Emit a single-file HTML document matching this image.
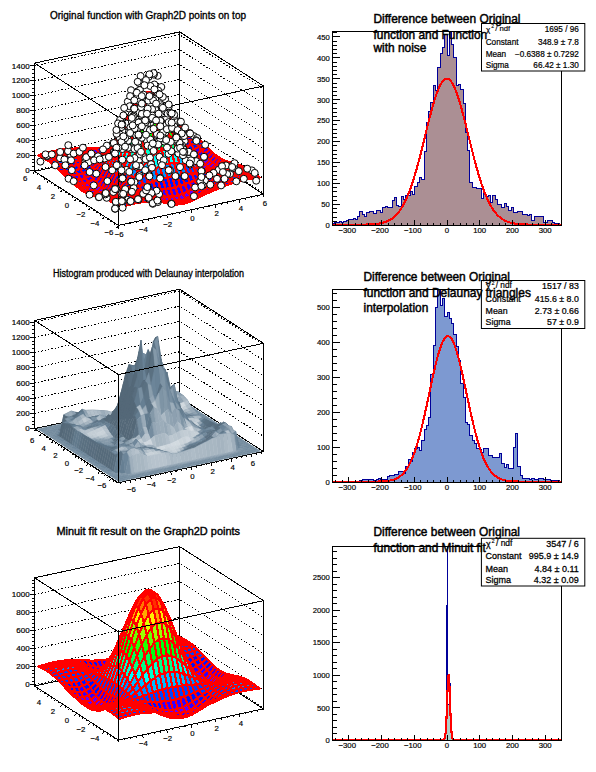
<!DOCTYPE html><html><head><meta charset="utf-8"><style>html,body{margin:0;padding:0;background:#fff;overflow:hidden}svg{display:block}.k0{fill:#0044ff}.k1{fill:#0014ff}.k2{fill:#3300ff}.k3{fill:#6300ff}.k4{fill:#008bff}.k5{fill:#00bbff}.k6{fill:#00fffc}.k7{fill:#00ffcc}.k8{fill:#00ff85}.k9{fill:#00ff55}.k10{fill:#00ff0e}.k11{fill:#22ff00}.k12{fill:#69ff00}.k13{fill:#99ff00}.k14{fill:#e0ff00}.k15{fill:#ffee00}.k16{fill:#ffa700}.k17{fill:#ff7700}.k18{fill:#ff3000}.k19{fill:#ff0000}</style></head><body><svg width="596" height="772" viewBox="0 0 596 772" font-family='"Liberation Sans", sans-serif'><rect width="596" height="772" fill="#fff"/><polyline points="34.57,170.28 179.66,139.05 263.43,193.14" fill="none" stroke="#000" stroke-width="1" stroke-dasharray="1.5 1.9" shape-rendering="crispEdges"/><polyline points="34.57,155.38 179.66,124.14 263.43,178.24" fill="none" stroke="#000" stroke-width="1" stroke-dasharray="1.5 1.9" shape-rendering="crispEdges"/><polyline points="34.57,140.47 179.66,109.24 263.43,163.34" fill="none" stroke="#000" stroke-width="1" stroke-dasharray="1.5 1.9" shape-rendering="crispEdges"/><polyline points="34.57,125.57 179.66,94.34 263.43,148.44" fill="none" stroke="#000" stroke-width="1" stroke-dasharray="1.5 1.9" shape-rendering="crispEdges"/><polyline points="34.57,110.67 179.66,79.44 263.43,133.53" fill="none" stroke="#000" stroke-width="1" stroke-dasharray="1.5 1.9" shape-rendering="crispEdges"/><polyline points="34.57,95.77 179.66,64.53 263.43,118.63" fill="none" stroke="#000" stroke-width="1" stroke-dasharray="1.5 1.9" shape-rendering="crispEdges"/><polyline points="34.57,80.86 179.66,49.63 263.43,103.73" fill="none" stroke="#000" stroke-width="1" stroke-dasharray="1.5 1.9" shape-rendering="crispEdges"/><polyline points="34.57,65.96 179.66,34.73 263.43,88.83" fill="none" stroke="#000" stroke-width="1" stroke-dasharray="1.5 1.9" shape-rendering="crispEdges"/><polyline points="34.57,171.32 34.57,63.13" fill="none" stroke="#000" stroke-width="1" shape-rendering="crispEdges"/><polyline points="179.66,140.09 179.66,31.9" fill="none" stroke="#000" stroke-width="1" shape-rendering="crispEdges"/><polyline points="263.43,194.19 263.43,85.99" fill="none" stroke="#000" stroke-width="1" shape-rendering="crispEdges"/><polyline points="34.57,63.13 179.66,31.9 263.43,85.99" fill="none" stroke="#000" stroke-width="1" shape-rendering="crispEdges"/><polyline points="34.57,171.32 179.66,140.09 263.43,194.19" fill="none" stroke="#000" stroke-width="1" shape-rendering="crispEdges"/><path d="M32.27 170.28L34.57 170.28M32.27 166.55L34.57 166.55M32.27 162.83L34.57 162.83M32.27 159.1L34.57 159.1M32.27 155.38L34.57 155.38M32.27 151.65L34.57 151.65M32.27 147.93L34.57 147.93M32.27 144.2L34.57 144.2M32.27 140.47L34.57 140.47M32.27 136.75L34.57 136.75M32.27 133.02L34.57 133.02M32.27 129.3L34.57 129.3M32.27 125.57L34.57 125.57M32.27 121.85L34.57 121.85M32.27 118.12L34.57 118.12M32.27 114.39L34.57 114.39M32.27 110.67L34.57 110.67M32.27 106.94L34.57 106.94M32.27 103.22L34.57 103.22M32.27 99.49L34.57 99.49M32.27 95.77L34.57 95.77M32.27 92.04L34.57 92.04M32.27 88.32L34.57 88.32M32.27 84.59L34.57 84.59M32.27 80.86L34.57 80.86M32.27 77.14L34.57 77.14M32.27 73.41L34.57 73.41M32.27 69.69L34.57 69.69M32.27 65.96L34.57 65.96M29.97 170.28L34.57 170.28M29.97 155.38L34.57 155.38M29.97 140.47L34.57 140.47M29.97 125.57L34.57 125.57M29.97 110.67L34.57 110.67M29.97 95.77L34.57 95.77M29.97 80.86L34.57 80.86M29.97 65.96L34.57 65.96" stroke="#000" stroke-width="1" fill="none" shape-rendering="crispEdges"/><text x="29.67" y="172.88" font-size="8" text-anchor="end" fill="#000" stroke="#000" stroke-width="0.19">0</text><text x="29.67" y="157.98" font-size="8" text-anchor="end" fill="#000" stroke="#000" stroke-width="0.19">200</text><text x="29.67" y="143.07" font-size="8" text-anchor="end" fill="#000" stroke="#000" stroke-width="0.19">400</text><text x="29.67" y="128.17" font-size="8" text-anchor="end" fill="#000" stroke="#000" stroke-width="0.19">600</text><text x="29.67" y="113.27" font-size="8" text-anchor="end" fill="#000" stroke="#000" stroke-width="0.19">800</text><text x="29.67" y="98.37" font-size="8" text-anchor="end" fill="#000" stroke="#000" stroke-width="0.19">1000</text><text x="29.67" y="83.46" font-size="8" text-anchor="end" fill="#000" stroke="#000" stroke-width="0.19">1200</text><text x="29.67" y="68.56" font-size="8" text-anchor="end" fill="#000" stroke="#000" stroke-width="0.19">1400</text><polyline points="34.57,171.32 118.34,225.42 263.43,194.19" fill="none" stroke="#000" stroke-width="1" shape-rendering="crispEdges"/><g stroke="#ff0000" stroke-width="2.4" stroke-linejoin="round" shape-rendering="crispEdges"><path class="k0" d="M176.6 126.9L181.4 126.5L178.6 125.1L173.8 125.8Z"/><path class="k0" d="M171.8 127.4L176.6 126.9L173.8 125.8L169.0 126.5Z"/><path class="k0" d="M166.9 128.2L171.8 127.4L169.0 126.5L164.1 127.4Z"/><path class="k0" d="M162.1 129.3L166.9 128.2L164.1 127.4L159.3 128.5Z"/><path class="k0" d="M157.2 130.9L162.1 129.3L159.3 128.5L154.5 129.8Z"/><path class="k0" d="M152.4 132.8L157.2 130.9L154.5 129.8L149.6 131.4Z"/><path class="k1" d="M147.6 135.2L152.4 132.8L149.6 131.4L144.8 133.1Z"/><path class="k1" d="M142.7 137.8L147.6 135.2L144.8 133.1L139.9 135.1Z"/><path class="k1" d="M137.9 140.7L142.7 137.8L139.9 135.1L135.1 137.1Z"/><path class="k1" d="M133.1 143.6L137.9 140.7L135.1 137.1L130.3 139.2Z"/><path class="k2" d="M128.2 146.3L133.1 143.6L130.3 139.2L125.4 141.2Z"/><path class="k2" d="M123.4 148.8L128.2 146.3L125.4 141.2L120.6 143.1Z"/><path class="k2" d="M118.6 150.9L123.4 148.8L120.6 143.1L115.8 144.7Z"/><path class="k2" d="M113.7 152.5L118.6 150.9L115.8 144.7L110.9 146.1Z"/><path class="k2" d="M108.9 153.6L113.7 152.5L110.9 146.1L106.1 147.1Z"/><path class="k2" d="M104.0 154.1L108.9 153.6L106.1 147.1L101.3 147.8Z"/><path class="k2" d="M99.2 154.0L104.0 154.1L101.3 147.8L96.4 148.3Z"/><path class="k2" d="M94.4 153.6L99.2 154.0L96.4 148.3L91.6 148.5Z"/><path class="k2" d="M89.5 152.9L94.4 153.6L91.6 148.5L86.7 148.6Z"/><path class="k1" d="M84.7 152.1L89.5 152.9L86.7 148.6L81.9 148.6Z"/><path class="k1" d="M79.9 151.3L84.7 152.1L81.9 148.6L77.1 148.6Z"/><path class="k1" d="M75.0 150.8L79.9 151.3L77.1 148.6L72.2 148.8Z"/><path class="k1" d="M70.2 150.5L75.0 150.8L72.2 148.8L67.4 149.1Z"/><path class="k0" d="M65.4 150.6L70.2 150.5L67.4 149.1L62.6 149.6Z"/><path class="k0" d="M60.5 151.2L65.4 150.6L62.6 149.6L57.7 150.4Z"/><path class="k0" d="M55.7 152.1L60.5 151.2L57.7 150.4L52.9 151.3Z"/><path class="k0" d="M50.8 153.4L55.7 152.1L52.9 151.3L48.1 152.5Z"/><path class="k0" d="M46.0 155.0L50.8 153.4L48.1 152.5L43.2 153.9Z"/><path class="k0" d="M41.2 156.7L46.0 155.0L43.2 153.9L38.4 155.3Z"/><path class="k0" d="M179.4 128.2L184.2 128.0L181.4 126.5L176.6 126.9Z"/><path class="k0" d="M174.6 128.5L179.4 128.2L176.6 126.9L171.8 127.4Z"/><path class="k0" d="M169.7 129.2L174.6 128.5L171.8 127.4L166.9 128.2Z"/><path class="k0" d="M164.9 130.4L169.7 129.2L166.9 128.2L162.1 129.3Z"/><path class="k0" d="M160.0 132.1L164.9 130.4L162.1 129.3L157.2 130.9Z"/><path class="k0" d="M155.2 134.3L160.0 132.1L157.2 130.9L152.4 132.8Z"/><path class="k1" d="M150.4 137.1L155.2 134.3L152.4 132.8L147.6 135.2Z"/><path class="k1" d="M145.5 140.3L150.4 137.1L147.6 135.2L142.7 137.8Z"/><path class="k1" d="M140.7 143.8L145.5 140.3L142.7 137.8L137.9 140.7Z"/><path class="k2" d="M135.9 147.3L140.7 143.8L137.9 140.7L133.1 143.6Z"/><path class="k2" d="M131.0 150.7L135.9 147.3L133.1 143.6L128.2 146.3Z"/><path class="k2" d="M126.2 153.7L131.0 150.7L128.2 146.3L123.4 148.8Z"/><path class="k3" d="M121.4 156.2L126.2 153.7L123.4 148.8L118.6 150.9Z"/><path class="k3" d="M116.5 157.9L121.4 156.2L118.6 150.9L113.7 152.5Z"/><path class="k3" d="M111.7 159.0L116.5 157.9L113.7 152.5L108.9 153.6Z"/><path class="k3" d="M106.8 159.3L111.7 159.0L108.9 153.6L104.0 154.1Z"/><path class="k3" d="M102.0 158.9L106.8 159.3L104.0 154.1L99.2 154.0Z"/><path class="k2" d="M97.2 158.0L102.0 158.9L99.2 154.0L94.4 153.6Z"/><path class="k2" d="M92.3 156.7L97.2 158.0L94.4 153.6L89.5 152.9Z"/><path class="k2" d="M87.5 155.2L92.3 156.7L89.5 152.9L84.7 152.1Z"/><path class="k1" d="M82.7 153.9L87.5 155.2L84.7 152.1L79.9 151.3Z"/><path class="k1" d="M77.8 152.7L82.7 153.9L79.9 151.3L75.0 150.8Z"/><path class="k1" d="M73.0 152.0L77.8 152.7L75.0 150.8L70.2 150.5Z"/><path class="k0" d="M68.1 151.9L73.0 152.0L70.2 150.5L65.4 150.6Z"/><path class="k0" d="M63.3 152.2L68.1 151.9L65.4 150.6L60.5 151.2Z"/><path class="k0" d="M58.5 153.2L63.3 152.2L60.5 151.2L55.7 152.1Z"/><path class="k0" d="M53.6 154.5L58.5 153.2L55.7 152.1L50.8 153.4Z"/><path class="k0" d="M48.8 156.3L53.6 154.5L50.8 153.4L46.0 155.0Z"/><path class="k0" d="M44.0 158.2L48.8 156.3L46.0 155.0L41.2 156.7Z"/><path class="k0" d="M182.2 129.7L187.0 129.7L184.2 128.0L179.4 128.2Z"/><path class="k0" d="M177.3 130.0L182.2 129.7L179.4 128.2L174.6 128.5Z"/><path class="k0" d="M172.5 130.6L177.3 130.0L174.6 128.5L169.7 129.2Z"/><path class="k0" d="M167.7 131.8L172.5 130.6L169.7 129.2L164.9 130.4Z"/><path class="k0" d="M162.8 133.6L167.7 131.8L164.9 130.4L160.0 132.1Z"/><path class="k0" d="M158.0 136.0L162.8 133.6L160.0 132.1L155.2 134.3Z"/><path class="k1" d="M153.2 139.0L158.0 136.0L155.2 134.3L150.4 137.1Z"/><path class="k1" d="M148.3 142.5L153.2 139.0L150.4 137.1L145.5 140.3Z"/><path class="k1" d="M143.5 146.3L148.3 142.5L145.5 140.3L140.7 143.8Z"/><path class="k2" d="M138.7 150.1L143.5 146.3L140.7 143.8L135.9 147.3Z"/><path class="k2" d="M133.8 153.8L138.7 150.1L135.9 147.3L131.0 150.7Z"/><path class="k3" d="M129.0 157.0L133.8 153.8L131.0 150.7L126.2 153.7Z"/><path class="k3" d="M124.1 159.7L129.0 157.0L126.2 153.7L121.4 156.2Z"/><path class="k3" d="M119.3 161.5L124.1 159.7L121.4 156.2L116.5 157.9Z"/><path class="k3" d="M114.5 162.6L119.3 161.5L116.5 157.9L111.7 159.0Z"/><path class="k3" d="M109.6 162.8L114.5 162.6L111.7 159.0L106.8 159.3Z"/><path class="k3" d="M104.8 162.2L109.6 162.8L106.8 159.3L102.0 158.9Z"/><path class="k3" d="M100.0 161.0L104.8 162.2L102.0 158.9L97.2 158.0Z"/><path class="k2" d="M95.1 159.5L100.0 161.0L97.2 158.0L92.3 156.7Z"/><path class="k2" d="M90.3 157.7L95.1 159.5L92.3 156.7L87.5 155.2Z"/><path class="k1" d="M85.5 156.0L90.3 157.7L87.5 155.2L82.7 153.9Z"/><path class="k1" d="M80.6 154.6L85.5 156.0L82.7 153.9L77.8 152.7Z"/><path class="k1" d="M75.8 153.7L80.6 154.6L77.8 152.7L73.0 152.0Z"/><path class="k0" d="M70.9 153.4L75.8 153.7L73.0 152.0L68.1 151.9Z"/><path class="k0" d="M66.1 153.7L70.9 153.4L68.1 151.9L63.3 152.2Z"/><path class="k0" d="M61.3 154.6L66.1 153.7L63.3 152.2L58.5 153.2Z"/><path class="k0" d="M56.4 156.0L61.3 154.6L58.5 153.2L53.6 154.5Z"/><path class="k0" d="M51.6 157.8L56.4 156.0L53.6 154.5L48.8 156.3Z"/><path class="k0" d="M46.8 159.9L51.6 157.8L48.8 156.3L44.0 158.2Z"/><path class="k0" d="M185.0 131.6L189.8 131.5L187.0 129.7L182.2 129.7Z"/><path class="k0" d="M180.1 131.9L185.0 131.6L182.2 129.7L177.3 130.0Z"/><path class="k0" d="M175.3 132.6L180.1 131.9L177.3 130.0L172.5 130.6Z"/><path class="k0" d="M170.5 133.7L175.3 132.6L172.5 130.6L167.7 131.8Z"/><path class="k0" d="M165.6 135.5L170.5 133.7L167.7 131.8L162.8 133.6Z"/><path class="k0" d="M160.8 137.9L165.6 135.5L162.8 133.6L158.0 136.0Z"/><path class="k1" d="M156.0 140.8L160.8 137.9L158.0 136.0L153.2 139.0Z"/><path class="k1" d="M151.1 144.2L156.0 140.8L153.2 139.0L148.3 142.5Z"/><path class="k1" d="M146.3 147.8L151.1 144.2L148.3 142.5L143.5 146.3Z"/><path class="k2" d="M141.4 151.6L146.3 147.8L143.5 146.3L138.7 150.1Z"/><path class="k2" d="M136.6 155.1L141.4 151.6L138.7 150.1L133.8 153.8Z"/><path class="k3" d="M131.8 158.3L136.6 155.1L133.8 153.8L129.0 157.0Z"/><path class="k3" d="M126.9 160.9L131.8 158.3L129.0 157.0L124.1 159.7Z"/><path class="k3" d="M122.1 162.7L126.9 160.9L124.1 159.7L119.3 161.5Z"/><path class="k3" d="M117.3 163.8L122.1 162.7L119.3 161.5L114.5 162.6Z"/><path class="k3" d="M112.4 164.0L117.3 163.8L114.5 162.6L109.6 162.8Z"/><path class="k3" d="M107.6 163.5L112.4 164.0L109.6 162.8L104.8 162.2Z"/><path class="k3" d="M102.8 162.4L107.6 163.5L104.8 162.2L100.0 161.0Z"/><path class="k2" d="M97.9 160.9L102.8 162.4L100.0 161.0L95.1 159.5Z"/><path class="k2" d="M93.1 159.3L97.9 160.9L95.1 159.5L90.3 157.7Z"/><path class="k1" d="M88.2 157.7L93.1 159.3L90.3 157.7L85.5 156.0Z"/><path class="k1" d="M83.4 156.4L88.2 157.7L85.5 156.0L80.6 154.6Z"/><path class="k1" d="M78.6 155.6L83.4 156.4L80.6 154.6L75.8 153.7Z"/><path class="k0" d="M73.7 155.3L78.6 155.6L75.8 153.7L70.9 153.4Z"/><path class="k0" d="M68.9 155.6L73.7 155.3L70.9 153.4L66.1 153.7Z"/><path class="k0" d="M64.1 156.5L68.9 155.6L66.1 153.7L61.3 154.6Z"/><path class="k0" d="M59.2 157.9L64.1 156.5L61.3 154.6L56.4 156.0Z"/><path class="k0" d="M54.4 159.7L59.2 157.9L56.4 156.0L51.6 157.8Z"/><path class="k0" d="M49.6 161.7L54.4 159.7L51.6 157.8L46.8 159.9Z"/><path class="k0" d="M187.8 133.9L192.6 133.6L189.8 131.5L185.0 131.6Z"/><path class="k0" d="M182.9 134.4L187.8 133.9L185.0 131.6L180.1 131.9Z"/><path class="k0" d="M178.1 135.1L182.9 134.4L180.1 131.9L175.3 132.6Z"/><path class="k0" d="M173.3 136.3L178.1 135.1L175.3 132.6L170.5 133.7Z"/><path class="k0" d="M168.4 137.9L173.3 136.3L170.5 133.7L165.6 135.5Z"/><path class="k0" d="M163.6 139.9L168.4 137.9L165.6 135.5L160.8 137.9Z"/><path class="k1" d="M158.7 142.4L163.6 139.9L160.8 137.9L156.0 140.8Z"/><path class="k1" d="M153.9 145.3L158.7 142.4L156.0 140.8L151.1 144.2Z"/><path class="k1" d="M149.1 148.4L153.9 145.3L151.1 144.2L146.3 147.8Z"/><path class="k2" d="M144.2 151.5L149.1 148.4L146.3 147.8L141.4 151.6Z"/><path class="k2" d="M139.4 154.5L144.2 151.5L141.4 151.6L136.6 155.1Z"/><path class="k3" d="M134.6 157.2L139.4 154.5L136.6 155.1L131.8 158.3Z"/><path class="k3" d="M129.7 159.4L134.6 157.2L131.8 158.3L126.9 160.9Z"/><path class="k3" d="M124.9 161.1L129.7 159.4L126.9 160.9L122.1 162.7Z"/><path class="k3" d="M120.1 162.1L124.9 161.1L122.1 162.7L117.3 163.8Z"/><path class="k3" d="M115.2 162.5L120.1 162.1L117.3 163.8L112.4 164.0Z"/><path class="k3" d="M110.4 162.4L115.2 162.5L112.4 164.0L107.6 163.5Z"/><path class="k3" d="M105.5 161.8L110.4 162.4L107.6 163.5L102.8 162.4Z"/><path class="k2" d="M100.7 160.9L105.5 161.8L102.8 162.4L97.9 160.9Z"/><path class="k2" d="M95.9 159.8L100.7 160.9L97.9 160.9L93.1 159.3Z"/><path class="k1" d="M91.0 158.8L95.9 159.8L93.1 159.3L88.2 157.7Z"/><path class="k1" d="M86.2 158.1L91.0 158.8L88.2 157.7L83.4 156.4Z"/><path class="k1" d="M81.4 157.6L86.2 158.1L83.4 156.4L78.6 155.6Z"/><path class="k0" d="M76.5 157.6L81.4 157.6L78.6 155.6L73.7 155.3Z"/><path class="k0" d="M71.7 158.1L76.5 157.6L73.7 155.3L68.9 155.6Z"/><path class="k0" d="M66.9 159.1L71.7 158.1L68.9 155.6L64.1 156.5Z"/><path class="k0" d="M62.0 160.4L66.9 159.1L64.1 156.5L59.2 157.9Z"/><path class="k0" d="M57.2 162.0L62.0 160.4L59.2 157.9L54.4 159.7Z"/><path class="k0" d="M52.3 163.8L57.2 162.0L54.4 159.7L49.6 161.7Z"/><path class="k0" d="M190.6 136.6L195.4 135.9L192.6 133.6L187.8 133.9Z"/><path class="k0" d="M185.7 137.4L190.6 136.6L187.8 133.9L182.9 134.4Z"/><path class="k0" d="M180.9 138.3L185.7 137.4L182.9 134.4L178.1 135.1Z"/><path class="k0" d="M176.0 139.4L180.9 138.3L178.1 135.1L173.3 136.3Z"/><path class="k0" d="M171.2 140.7L176.0 139.4L173.3 136.3L168.4 137.9Z"/><path class="k0" d="M166.4 142.2L171.2 140.7L168.4 137.9L163.6 139.9Z"/><path class="k1" d="M161.5 143.9L166.4 142.2L163.6 139.9L158.7 142.4Z"/><path class="k1" d="M156.7 145.8L161.5 143.9L158.7 142.4L153.9 145.3Z"/><path class="k1" d="M151.9 147.8L156.7 145.8L153.9 145.3L149.1 148.4Z"/><path class="k1" d="M147.0 149.8L151.9 147.8L149.1 148.4L144.2 151.5Z"/><path class="k2" d="M142.2 151.8L147.0 149.8L144.2 151.5L139.4 154.5Z"/><path class="k2" d="M137.4 153.6L142.2 151.8L139.4 154.5L134.6 157.2Z"/><path class="k2" d="M132.5 155.2L137.4 153.6L134.6 157.2L129.7 159.4Z"/><path class="k2" d="M127.7 156.5L132.5 155.2L129.7 159.4L124.9 161.1Z"/><path class="k2" d="M122.8 157.6L127.7 156.5L124.9 161.1L120.1 162.1Z"/><path class="k2" d="M118.0 158.3L122.8 157.6L120.1 162.1L115.2 162.5Z"/><path class="k2" d="M113.2 158.8L118.0 158.3L115.2 162.5L110.4 162.4Z"/><path class="k2" d="M108.3 159.1L113.2 158.8L110.4 162.4L105.5 161.8Z"/><path class="k2" d="M103.5 159.2L108.3 159.1L105.5 161.8L100.7 160.9Z"/><path class="k1" d="M98.7 159.3L103.5 159.2L100.7 160.9L95.9 159.8Z"/><path class="k1" d="M93.8 159.4L98.7 159.3L95.9 159.8L91.0 158.8Z"/><path class="k1" d="M89.0 159.6L93.8 159.4L91.0 158.8L86.2 158.1Z"/><path class="k1" d="M84.2 159.9L89.0 159.6L86.2 158.1L81.4 157.6Z"/><path class="k0" d="M79.3 160.5L84.2 159.9L81.4 157.6L76.5 157.6Z"/><path class="k0" d="M74.5 161.3L79.3 160.5L76.5 157.6L71.7 158.1Z"/><path class="k0" d="M69.6 162.2L74.5 161.3L71.7 158.1L66.9 159.1Z"/><path class="k0" d="M64.8 163.4L69.6 162.2L66.9 159.1L62.0 160.4Z"/><path class="k0" d="M60.0 164.7L64.8 163.4L62.0 160.4L57.2 162.0Z"/><path class="k0" d="M55.1 166.1L60.0 164.7L57.2 162.0L52.3 163.8Z"/><path class="k1" d="M193.3 139.7L198.2 138.5L195.4 135.9L190.6 136.6Z"/><path class="k1" d="M188.5 140.9L193.3 139.7L190.6 136.6L185.7 137.4Z"/><path class="k1" d="M183.7 142.1L188.5 140.9L185.7 137.4L180.9 138.3Z"/><path class="k1" d="M178.8 143.1L183.7 142.1L180.9 138.3L176.0 139.4Z"/><path class="k1" d="M174.0 144.0L178.8 143.1L176.0 139.4L171.2 140.7Z"/><path class="k1" d="M169.2 144.7L174.0 144.0L171.2 140.7L166.4 142.2Z"/><path class="k1" d="M164.3 145.3L169.2 144.7L166.4 142.2L161.5 143.9Z"/><path class="k1" d="M159.5 145.8L164.3 145.3L161.5 143.9L156.7 145.8Z"/><path class="k1" d="M154.7 146.3L159.5 145.8L156.7 145.8L151.9 147.8Z"/><path class="k1" d="M149.8 146.7L154.7 146.3L151.9 147.8L147.0 149.8Z"/><path class="k1" d="M145.0 147.2L149.8 146.7L147.0 149.8L142.2 151.8Z"/><path class="k1" d="M140.1 147.7L145.0 147.2L142.2 151.8L137.4 153.6Z"/><path class="k1" d="M135.3 148.4L140.1 147.7L137.4 153.6L132.5 155.2Z"/><path class="k1" d="M130.5 149.3L135.3 148.4L132.5 155.2L127.7 156.5Z"/><path class="k1" d="M125.6 150.3L130.5 149.3L127.7 156.5L122.8 157.6Z"/><path class="k1" d="M120.8 151.5L125.6 150.3L122.8 157.6L118.0 158.3Z"/><path class="k1" d="M116.0 152.9L120.8 151.5L118.0 158.3L113.2 158.8Z"/><path class="k1" d="M111.1 154.5L116.0 152.9L113.2 158.8L108.3 159.1Z"/><path class="k1" d="M106.3 156.1L111.1 154.5L108.3 159.1L103.5 159.2Z"/><path class="k1" d="M101.5 157.7L106.3 156.1L103.5 159.2L98.7 159.3Z"/><path class="k1" d="M96.6 159.4L101.5 157.7L98.7 159.3L93.8 159.4Z"/><path class="k1" d="M91.8 160.9L96.6 159.4L93.8 159.4L89.0 159.6Z"/><path class="k1" d="M86.9 162.4L91.8 160.9L89.0 159.6L84.2 159.9Z"/><path class="k1" d="M82.1 163.7L86.9 162.4L84.2 159.9L79.3 160.5Z"/><path class="k1" d="M77.3 164.9L82.1 163.7L79.3 160.5L74.5 161.3Z"/><path class="k1" d="M72.4 166.0L77.3 164.9L74.5 161.3L69.6 162.2Z"/><path class="k1" d="M67.6 167.0L72.4 166.0L69.6 162.2L64.8 163.4Z"/><path class="k1" d="M62.8 167.8L67.6 167.0L64.8 163.4L60.0 164.7Z"/><path class="k1" d="M57.9 168.7L62.8 167.8L60.0 164.7L55.1 166.1Z"/><path class="k1" d="M196.1 143.1L201.0 141.2L198.2 138.5L193.3 139.7Z"/><path class="k1" d="M191.3 144.9L196.1 143.1L193.3 139.7L188.5 140.9Z"/><path class="k1" d="M186.5 146.3L191.3 144.9L188.5 140.9L183.7 142.1Z"/><path class="k1" d="M181.6 147.2L186.5 146.3L183.7 142.1L178.8 143.1Z"/><path class="k1" d="M176.8 147.6L181.6 147.2L178.8 143.1L174.0 144.0Z"/><path class="k1" d="M172.0 147.3L176.8 147.6L174.0 144.0L169.2 144.7Z"/><path class="k1" d="M167.1 146.6L172.0 147.3L169.2 144.7L164.3 145.3Z"/><path class="k0" d="M162.3 145.4L167.1 146.6L164.3 145.3L159.5 145.8Z"/><path class="k0" d="M157.4 143.9L162.3 145.4L159.5 145.8L154.7 146.3Z"/><path class="k0" d="M152.6 142.4L157.4 143.9L154.7 146.3L149.8 146.7Z"/><path class="k0" d="M147.8 141.0L152.6 142.4L149.8 146.7L145.0 147.2Z"/><path class="k4" d="M142.9 140.1L147.8 141.0L145.0 147.2L140.1 147.7Z"/><path class="k4" d="M138.1 139.6L142.9 140.1L140.1 147.7L135.3 148.4Z"/><path class="k4" d="M133.3 139.9L138.1 139.6L135.3 148.4L130.5 149.3Z"/><path class="k4" d="M128.4 140.9L133.3 139.9L130.5 149.3L125.6 150.3Z"/><path class="k4" d="M123.6 142.7L128.4 140.9L125.6 150.3L120.8 151.5Z"/><path class="k4" d="M118.8 145.3L123.6 142.7L120.8 151.5L116.0 152.9Z"/><path class="k4" d="M113.9 148.3L118.8 145.3L116.0 152.9L111.1 154.5Z"/><path class="k0" d="M109.1 151.8L113.9 148.3L111.1 154.5L106.3 156.1Z"/><path class="k0" d="M104.2 155.4L109.1 151.8L106.3 156.1L101.5 157.7Z"/><path class="k0" d="M99.4 158.9L104.2 155.4L101.5 157.7L96.6 159.4Z"/><path class="k0" d="M94.6 162.2L99.4 158.9L96.6 159.4L91.8 160.9Z"/><path class="k1" d="M89.7 165.0L94.6 162.2L91.8 160.9L86.9 162.4Z"/><path class="k1" d="M84.9 167.4L89.7 165.0L86.9 162.4L82.1 163.7Z"/><path class="k1" d="M80.1 169.1L84.9 167.4L82.1 163.7L77.3 164.9Z"/><path class="k1" d="M75.2 170.3L80.1 169.1L77.3 164.9L72.4 166.0Z"/><path class="k1" d="M70.4 170.9L75.2 170.3L72.4 166.0L67.6 167.0Z"/><path class="k1" d="M65.6 171.3L70.4 170.9L67.6 167.0L62.8 167.8Z"/><path class="k1" d="M60.7 171.4L65.6 171.3L62.8 167.8L57.9 168.7Z"/><path class="k1" d="M198.9 146.8L203.8 144.0L201.0 141.2L196.1 143.1Z"/><path class="k1" d="M194.1 149.1L198.9 146.8L196.1 143.1L191.3 144.9Z"/><path class="k1" d="M189.3 150.8L194.1 149.1L191.3 144.9L186.5 146.3Z"/><path class="k1" d="M184.4 151.6L189.3 150.8L186.5 146.3L181.6 147.2Z"/><path class="k1" d="M179.6 151.4L184.4 151.6L181.6 147.2L176.8 147.6Z"/><path class="k1" d="M174.8 150.1L179.6 151.4L176.8 147.6L172.0 147.3Z"/><path class="k1" d="M169.9 147.8L174.8 150.1L172.0 147.3L167.1 146.6Z"/><path class="k0" d="M165.1 144.7L169.9 147.8L167.1 146.6L162.3 145.4Z"/><path class="k4" d="M160.2 141.1L165.1 144.7L162.3 145.4L157.4 143.9Z"/><path class="k4" d="M155.4 137.4L160.2 141.1L157.4 143.9L152.6 142.4Z"/><path class="k5" d="M150.6 134.0L155.4 137.4L152.6 142.4L147.8 141.0Z"/><path class="k5" d="M145.7 131.2L150.6 134.0L147.8 141.0L142.9 140.1Z"/><path class="k6" d="M140.9 129.6L145.7 131.2L142.9 140.1L138.1 139.6Z"/><path class="k6" d="M136.1 129.2L140.9 129.6L138.1 139.6L133.3 139.9Z"/><path class="k6" d="M131.2 130.2L136.1 129.2L133.3 139.9L128.4 140.9Z"/><path class="k6" d="M126.4 132.7L131.2 130.2L128.4 140.9L123.6 142.7Z"/><path class="k6" d="M121.6 136.5L126.4 132.7L123.6 142.7L118.8 145.3Z"/><path class="k5" d="M116.7 141.3L121.6 136.5L118.8 145.3L113.9 148.3Z"/><path class="k5" d="M111.9 146.8L116.7 141.3L113.9 148.3L109.1 151.8Z"/><path class="k4" d="M107.0 152.6L111.9 146.8L109.1 151.8L104.2 155.4Z"/><path class="k4" d="M102.2 158.2L107.0 152.6L104.2 155.4L99.4 158.9Z"/><path class="k0" d="M97.4 163.4L102.2 158.2L99.4 158.9L94.6 162.2Z"/><path class="k1" d="M92.5 167.8L97.4 163.4L94.6 162.2L89.7 165.0Z"/><path class="k1" d="M87.7 171.2L92.5 167.8L89.7 165.0L84.9 167.4Z"/><path class="k1" d="M82.9 173.5L87.7 171.2L84.9 167.4L80.1 169.1Z"/><path class="k1" d="M78.0 174.8L82.9 173.5L80.1 169.1L75.2 170.3Z"/><path class="k1" d="M73.2 175.2L78.0 174.8L75.2 170.3L70.4 170.9Z"/><path class="k1" d="M68.3 174.9L73.2 175.2L70.4 170.9L65.6 171.3Z"/><path class="k1" d="M63.5 174.2L68.3 174.9L65.6 171.3L60.7 171.4Z"/><path class="k1" d="M201.7 150.4L206.6 146.8L203.8 144.0L198.9 146.8Z"/><path class="k2" d="M196.9 153.4L201.7 150.4L198.9 146.8L194.1 149.1Z"/><path class="k2" d="M192.1 155.4L196.9 153.4L194.1 149.1L189.3 150.8Z"/><path class="k2" d="M187.2 156.1L192.1 155.4L189.3 150.8L184.4 151.6Z"/><path class="k2" d="M182.4 155.3L187.2 156.1L184.4 151.6L179.6 151.4Z"/><path class="k1" d="M177.5 152.9L182.4 155.3L179.6 151.4L174.8 150.1Z"/><path class="k1" d="M172.7 149.0L177.5 152.9L174.8 150.1L169.9 147.8Z"/><path class="k0" d="M167.9 143.9L172.7 149.0L169.9 147.8L165.1 144.7Z"/><path class="k4" d="M163.0 138.2L167.9 143.9L165.1 144.7L160.2 141.1Z"/><path class="k5" d="M158.2 132.2L163.0 138.2L160.2 141.1L155.4 137.4Z"/><path class="k6" d="M153.4 126.7L158.2 132.2L155.4 137.4L150.6 134.0Z"/><path class="k7" d="M148.5 122.2L153.4 126.7L150.6 134.0L145.7 131.2Z"/><path class="k8" d="M143.7 119.2L148.5 122.2L145.7 131.2L140.9 129.6Z"/><path class="k8" d="M138.9 118.1L143.7 119.2L140.9 129.6L136.1 129.2Z"/><path class="k9" d="M134.0 119.2L138.9 118.1L136.1 129.2L131.2 130.2Z"/><path class="k8" d="M129.2 122.3L134.0 119.2L131.2 130.2L126.4 132.7Z"/><path class="k8" d="M124.3 127.4L129.2 122.3L126.4 132.7L121.6 136.5Z"/><path class="k7" d="M119.5 134.0L124.3 127.4L121.6 136.5L116.7 141.3Z"/><path class="k6" d="M114.7 141.6L119.5 134.0L116.7 141.3L111.9 146.8Z"/><path class="k5" d="M109.8 149.6L114.7 141.6L111.9 146.8L107.0 152.6Z"/><path class="k4" d="M105.0 157.5L109.8 149.6L107.0 152.6L102.2 158.2Z"/><path class="k0" d="M100.2 164.6L105.0 157.5L102.2 158.2L97.4 163.4Z"/><path class="k1" d="M95.3 170.6L100.2 164.6L97.4 163.4L92.5 167.8Z"/><path class="k1" d="M90.5 175.1L95.3 170.6L92.5 167.8L87.7 171.2Z"/><path class="k2" d="M85.7 178.0L90.5 175.1L87.7 171.2L82.9 173.5Z"/><path class="k2" d="M80.8 179.4L85.7 178.0L82.9 173.5L78.0 174.8Z"/><path class="k2" d="M76.0 179.4L80.8 179.4L78.0 174.8L73.2 175.2Z"/><path class="k2" d="M71.1 178.5L76.0 179.4L73.2 175.2L68.3 174.9Z"/><path class="k1" d="M66.3 177.0L71.1 178.5L68.3 174.9L63.5 174.2Z"/><path class="k2" d="M204.5 153.9L209.4 149.6L206.6 146.8L201.7 150.4Z"/><path class="k2" d="M199.7 157.5L204.5 153.9L201.7 150.4L196.9 153.4Z"/><path class="k2" d="M194.8 159.9L199.7 157.5L196.9 153.4L192.1 155.4Z"/><path class="k2" d="M190.0 160.5L194.8 159.9L192.1 155.4L187.2 156.1Z"/><path class="k2" d="M185.2 159.1L190.0 160.5L187.2 156.1L182.4 155.3Z"/><path class="k2" d="M180.3 155.6L185.2 159.1L182.4 155.3L177.5 152.9Z"/><path class="k1" d="M175.5 150.2L180.3 155.6L177.5 152.9L172.7 149.0Z"/><path class="k0" d="M170.7 143.3L175.5 150.2L172.7 149.0L167.9 143.9Z"/><path class="k5" d="M165.8 135.5L170.7 143.3L167.9 143.9L163.0 138.2Z"/><path class="k6" d="M161.0 127.4L165.8 135.5L163.0 138.2L158.2 132.2Z"/><path class="k8" d="M156.2 119.9L161.0 127.4L158.2 132.2L153.4 126.7Z"/><path class="k9" d="M151.3 113.8L156.2 119.9L153.4 126.7L148.5 122.2Z"/><path class="k10" d="M146.5 109.6L151.3 113.8L148.5 122.2L143.7 119.2Z"/><path class="k11" d="M141.6 107.9L146.5 109.6L143.7 119.2L138.9 118.1Z"/><path class="k11" d="M136.8 108.9L141.6 107.9L138.9 118.1L134.0 119.2Z"/><path class="k11" d="M132.0 112.7L136.8 108.9L134.0 119.2L129.2 122.3Z"/><path class="k10" d="M127.1 119.0L132.0 112.7L129.2 122.3L124.3 127.4Z"/><path class="k9" d="M122.3 127.2L127.1 119.0L124.3 127.4L119.5 134.0Z"/><path class="k8" d="M117.5 136.8L122.3 127.2L119.5 134.0L114.7 141.6Z"/><path class="k6" d="M112.6 146.9L117.5 136.8L114.7 141.6L109.8 149.6Z"/><path class="k5" d="M107.8 156.9L112.6 146.9L109.8 149.6L105.0 157.5Z"/><path class="k0" d="M103.0 165.8L107.8 156.9L105.0 157.5L100.2 164.6Z"/><path class="k1" d="M98.1 173.3L103.0 165.8L100.2 164.6L95.3 170.6Z"/><path class="k2" d="M93.3 178.8L98.1 173.3L95.3 170.6L90.5 175.1Z"/><path class="k2" d="M88.4 182.3L93.3 178.8L90.5 175.1L85.7 178.0Z"/><path class="k2" d="M83.6 183.8L88.4 182.3L85.7 178.0L80.8 179.4Z"/><path class="k2" d="M78.8 183.6L83.6 183.8L80.8 179.4L76.0 179.4Z"/><path class="k2" d="M73.9 182.1L78.8 183.6L76.0 179.4L71.1 178.5Z"/><path class="k2" d="M69.1 179.8L73.9 182.1L71.1 178.5L66.3 177.0Z"/><path class="k2" d="M207.3 157.2L212.1 152.2L209.4 149.6L204.5 153.9Z"/><path class="k2" d="M202.5 161.3L207.3 157.2L204.5 153.9L199.7 157.5Z"/><path class="k3" d="M197.6 163.9L202.5 161.3L199.7 157.5L194.8 159.9Z"/><path class="k3" d="M192.8 164.4L197.6 163.9L194.8 159.9L190.0 160.5Z"/><path class="k3" d="M188.0 162.5L192.8 164.4L190.0 160.5L185.2 159.1Z"/><path class="k2" d="M183.1 158.2L188.0 162.5L185.2 159.1L180.3 155.6Z"/><path class="k1" d="M178.3 151.5L183.1 158.2L180.3 155.6L175.5 150.2Z"/><path class="k4" d="M173.5 143.1L178.3 151.5L175.5 150.2L170.7 143.3Z"/><path class="k5" d="M168.6 133.5L173.5 143.1L170.7 143.3L165.8 135.5Z"/><path class="k7" d="M163.8 123.7L168.6 133.5L165.8 135.5L161.0 127.4Z"/><path class="k9" d="M158.9 114.5L163.8 123.7L161.0 127.4L156.2 119.9Z"/><path class="k11" d="M154.1 106.9L158.9 114.5L156.2 119.9L151.3 113.8Z"/><path class="k12" d="M149.3 101.7L154.1 106.9L151.3 113.8L146.5 109.6Z"/><path class="k13" d="M144.4 99.5L149.3 101.7L146.5 109.6L141.6 107.9Z"/><path class="k13" d="M139.6 100.5L144.4 99.5L141.6 107.9L136.8 108.9Z"/><path class="k13" d="M134.8 104.9L139.6 100.5L136.8 108.9L132.0 112.7Z"/><path class="k12" d="M129.9 112.1L134.8 104.9L132.0 112.7L127.1 119.0Z"/><path class="k11" d="M125.1 121.8L129.9 112.1L127.1 119.0L122.3 127.2Z"/><path class="k9" d="M120.3 133.1L125.1 121.8L122.3 127.2L117.5 136.8Z"/><path class="k7" d="M115.4 145.0L120.3 133.1L117.5 136.8L112.6 146.9Z"/><path class="k5" d="M110.6 156.6L115.4 145.0L112.6 146.9L107.8 156.9Z"/><path class="k4" d="M105.7 167.2L110.6 156.6L107.8 156.9L103.0 165.8Z"/><path class="k1" d="M100.9 175.9L105.7 167.2L103.0 165.8L98.1 173.3Z"/><path class="k2" d="M96.1 182.3L100.9 175.9L98.1 173.3L93.3 178.8Z"/><path class="k3" d="M91.2 186.2L96.1 182.3L93.3 178.8L88.4 182.3Z"/><path class="k3" d="M86.4 187.8L91.2 186.2L88.4 182.3L83.6 183.8Z"/><path class="k3" d="M81.6 187.3L86.4 187.8L83.6 183.8L78.8 183.6Z"/><path class="k2" d="M76.7 185.3L81.6 187.3L78.8 183.6L73.9 182.1Z"/><path class="k2" d="M71.9 182.4L76.7 185.3L73.9 182.1L69.1 179.8Z"/><path class="k2" d="M210.1 160.1L214.9 154.6L212.1 152.2L207.3 157.2Z"/><path class="k3" d="M205.3 164.5L210.1 160.1L207.3 157.2L202.5 161.3Z"/><path class="k3" d="M200.4 167.3L205.3 164.5L202.5 161.3L197.6 163.9Z"/><path class="k3" d="M195.6 167.7L200.4 167.3L197.6 163.9L192.8 164.4Z"/><path class="k3" d="M190.8 165.5L195.6 167.7L192.8 164.4L188.0 162.5Z"/><path class="k2" d="M185.9 160.5L190.8 165.5L188.0 162.5L183.1 158.2Z"/><path class="k1" d="M181.1 153.0L185.9 160.5L183.1 158.2L178.3 151.5Z"/><path class="k4" d="M176.2 143.4L181.1 153.0L178.3 151.5L173.5 143.1Z"/><path class="k6" d="M171.4 132.6L176.2 143.4L173.5 143.1L168.6 133.5Z"/><path class="k8" d="M166.6 121.5L171.4 132.6L168.6 133.5L163.8 123.7Z"/><path class="k10" d="M161.7 111.1L166.6 121.5L163.8 123.7L158.9 114.5Z"/><path class="k12" d="M156.9 102.5L161.7 111.1L158.9 114.5L154.1 106.9Z"/><path class="k13" d="M152.1 96.6L156.9 102.5L154.1 106.9L149.3 101.7Z"/><path class="k14" d="M147.2 93.9L152.1 96.6L149.3 101.7L144.4 99.5Z"/><path class="k15" d="M142.4 95.0L147.2 93.9L144.4 99.5L139.6 100.5Z"/><path class="k14" d="M137.6 99.7L142.4 95.0L139.6 100.5L134.8 104.9Z"/><path class="k13" d="M132.7 107.7L137.6 99.7L134.8 104.9L129.9 112.1Z"/><path class="k12" d="M127.9 118.4L132.7 107.7L129.9 112.1L125.1 121.8Z"/><path class="k10" d="M123.0 130.9L127.9 118.4L125.1 121.8L120.3 133.1Z"/><path class="k8" d="M118.2 144.1L123.0 130.9L120.3 133.1L115.4 145.0Z"/><path class="k6" d="M113.4 157.0L118.2 144.1L115.4 145.0L110.6 156.6Z"/><path class="k4" d="M108.5 168.6L113.4 157.0L110.6 156.6L105.7 167.2Z"/><path class="k1" d="M103.7 178.2L108.5 168.6L105.7 167.2L100.9 175.9Z"/><path class="k2" d="M98.9 185.3L103.7 178.2L100.9 175.9L96.1 182.3Z"/><path class="k3" d="M94.0 189.6L98.9 185.3L96.1 182.3L91.2 186.2Z"/><path class="k3" d="M89.2 191.2L94.0 189.6L91.2 186.2L86.4 187.8Z"/><path class="k3" d="M84.4 190.6L89.2 191.2L86.4 187.8L81.6 187.3Z"/><path class="k3" d="M79.5 188.2L84.4 190.6L81.6 187.3L76.7 185.3Z"/><path class="k2" d="M74.7 184.8L79.5 188.2L76.7 185.3L71.9 182.4Z"/><path class="k2" d="M212.9 162.4L217.7 156.7L214.9 154.6L210.1 160.1Z"/><path class="k3" d="M208.1 167.1L212.9 162.4L210.1 160.1L205.3 164.5Z"/><path class="k3" d="M203.2 169.9L208.1 167.1L205.3 164.5L200.4 167.3Z"/><path class="k3" d="M198.4 170.3L203.2 169.9L200.4 167.3L195.6 167.7Z"/><path class="k3" d="M193.5 167.9L198.4 170.3L195.6 167.7L190.8 165.5Z"/><path class="k2" d="M188.7 162.6L193.5 167.9L190.8 165.5L185.9 160.5Z"/><path class="k1" d="M183.9 154.6L188.7 162.6L185.9 160.5L181.1 153.0Z"/><path class="k4" d="M179.0 144.5L183.9 154.6L181.1 153.0L176.2 143.4Z"/><path class="k6" d="M174.2 133.0L179.0 144.5L176.2 143.4L171.4 132.6Z"/><path class="k8" d="M169.4 121.2L174.2 133.0L171.4 132.6L166.6 121.5Z"/><path class="k11" d="M164.5 110.2L169.4 121.2L166.6 121.5L161.7 111.1Z"/><path class="k13" d="M159.7 101.0L164.5 110.2L161.7 111.1L156.9 102.5Z"/><path class="k14" d="M154.9 94.7L159.7 101.0L156.9 102.5L152.1 96.6Z"/><path class="k15" d="M150.0 91.9L154.9 94.7L152.1 96.6L147.2 93.9Z"/><path class="k16" d="M145.2 92.9L150.0 91.9L147.2 93.9L142.4 95.0Z"/><path class="k15" d="M140.3 97.8L145.2 92.9L142.4 95.0L137.6 99.7Z"/><path class="k14" d="M135.5 106.2L140.3 97.8L137.6 99.7L132.7 107.7Z"/><path class="k13" d="M130.7 117.5L135.5 106.2L132.7 107.7L127.9 118.4Z"/><path class="k11" d="M125.8 130.5L130.7 117.5L127.9 118.4L123.0 130.9Z"/><path class="k8" d="M121.0 144.4L125.8 130.5L123.0 130.9L118.2 144.1Z"/><path class="k6" d="M116.2 158.0L121.0 144.4L118.2 144.1L113.4 157.0Z"/><path class="k4" d="M111.3 170.2L116.2 158.0L113.4 157.0L108.5 168.6Z"/><path class="k1" d="M106.5 180.3L111.3 170.2L108.5 168.6L103.7 178.2Z"/><path class="k2" d="M101.7 187.7L106.5 180.3L103.7 178.2L98.9 185.3Z"/><path class="k3" d="M96.8 192.2L101.7 187.7L98.9 185.3L94.0 189.6Z"/><path class="k3" d="M92.0 193.9L96.8 192.2L94.0 189.6L89.2 191.2Z"/><path class="k3" d="M87.1 193.1L92.0 193.9L89.2 191.2L84.4 190.6Z"/><path class="k3" d="M82.3 190.6L87.1 193.1L84.4 190.6L79.5 188.2Z"/><path class="k2" d="M77.5 186.9L82.3 190.6L79.5 188.2L74.7 184.8Z"/><path class="k2" d="M215.7 164.2L220.5 158.5L217.7 156.7L212.9 162.4Z"/><path class="k3" d="M210.9 168.9L215.7 164.2L212.9 162.4L208.1 167.1Z"/><path class="k3" d="M206.0 171.7L210.9 168.9L208.1 167.1L203.2 169.9Z"/><path class="k3" d="M201.2 172.1L206.0 171.7L203.2 169.9L198.4 170.3Z"/><path class="k3" d="M196.3 169.7L201.2 172.1L198.4 170.3L193.5 167.9Z"/><path class="k2" d="M191.5 164.4L196.3 169.7L193.5 167.9L188.7 162.6Z"/><path class="k1" d="M186.7 156.4L191.5 164.4L188.7 162.6L183.9 154.6Z"/><path class="k4" d="M181.8 146.3L186.7 156.4L183.9 154.6L179.0 144.5Z"/><path class="k6" d="M177.0 134.8L181.8 146.3L179.0 144.5L174.2 133.0Z"/><path class="k9" d="M172.2 123.0L177.0 134.8L174.2 133.0L169.4 121.2Z"/><path class="k11" d="M167.3 112.0L172.2 123.0L169.4 121.2L164.5 110.2Z"/><path class="k13" d="M162.5 102.8L167.3 112.0L164.5 110.2L159.7 101.0Z"/><path class="k15" d="M157.7 96.5L162.5 102.8L159.7 101.0L154.9 94.7Z"/><path class="k16" d="M152.8 93.7L157.7 96.5L154.9 94.7L150.0 91.9Z"/><path class="k16" d="M148.0 94.7L152.8 93.7L150.0 91.9L145.2 92.9Z"/><path class="k16" d="M143.1 99.6L148.0 94.7L145.2 92.9L140.3 97.8Z"/><path class="k15" d="M138.3 108.0L143.1 99.6L140.3 97.8L135.5 106.2Z"/><path class="k13" d="M133.5 119.3L138.3 108.0L135.5 106.2L130.7 117.5Z"/><path class="k11" d="M128.6 132.4L133.5 119.3L130.7 117.5L125.8 130.5Z"/><path class="k9" d="M123.8 146.2L128.6 132.4L125.8 130.5L121.0 144.4Z"/><path class="k6" d="M119.0 159.8L123.8 146.2L121.0 144.4L116.2 158.0Z"/><path class="k4" d="M114.1 172.0L119.0 159.8L116.2 158.0L111.3 170.2Z"/><path class="k1" d="M109.3 182.1L114.1 172.0L111.3 170.2L106.5 180.3Z"/><path class="k2" d="M104.4 189.5L109.3 182.1L106.5 180.3L101.7 187.7Z"/><path class="k3" d="M99.6 194.0L104.4 189.5L101.7 187.7L96.8 192.2Z"/><path class="k3" d="M94.8 195.7L99.6 194.0L96.8 192.2L92.0 193.9Z"/><path class="k3" d="M89.9 194.9L94.8 195.7L92.0 193.9L87.1 193.1Z"/><path class="k3" d="M85.1 192.4L89.9 194.9L87.1 193.1L82.3 190.6Z"/><path class="k2" d="M80.3 188.7L85.1 192.4L82.3 190.6L77.5 186.9Z"/><path class="k2" d="M218.5 165.5L223.3 160.0L220.5 158.5L215.7 164.2Z"/><path class="k3" d="M213.6 169.9L218.5 165.5L215.7 164.2L210.9 168.9Z"/><path class="k3" d="M208.8 172.7L213.6 169.9L210.9 168.9L206.0 171.7Z"/><path class="k3" d="M204.0 173.1L208.8 172.7L206.0 171.7L201.2 172.1Z"/><path class="k3" d="M199.1 170.9L204.0 173.1L201.2 172.1L196.3 169.7Z"/><path class="k2" d="M194.3 165.9L199.1 170.9L196.3 169.7L191.5 164.4Z"/><path class="k1" d="M189.5 158.4L194.3 165.9L191.5 164.4L186.7 156.4Z"/><path class="k4" d="M184.6 148.8L189.5 158.4L186.7 156.4L181.8 146.3Z"/><path class="k6" d="M179.8 138.0L184.6 148.8L181.8 146.3L177.0 134.8Z"/><path class="k8" d="M175.0 126.9L179.8 138.0L177.0 134.8L172.2 123.0Z"/><path class="k11" d="M170.1 116.5L175.0 126.9L172.2 123.0L167.3 112.0Z"/><path class="k13" d="M165.3 107.9L170.1 116.5L167.3 112.0L162.5 102.8Z"/><path class="k14" d="M160.4 102.0L165.3 107.9L162.5 102.8L157.7 96.5Z"/><path class="k15" d="M155.6 99.3L160.4 102.0L157.7 96.5L152.8 93.7Z"/><path class="k16" d="M150.8 100.4L155.6 99.3L152.8 93.7L148.0 94.7Z"/><path class="k15" d="M145.9 105.1L150.8 100.4L148.0 94.7L143.1 99.6Z"/><path class="k14" d="M141.1 113.1L145.9 105.1L143.1 99.6L138.3 108.0Z"/><path class="k13" d="M136.3 123.8L141.1 113.1L138.3 108.0L133.5 119.3Z"/><path class="k11" d="M131.4 136.3L136.3 123.8L133.5 119.3L128.6 132.4Z"/><path class="k8" d="M126.6 149.5L131.4 136.3L128.6 132.4L123.8 146.2Z"/><path class="k6" d="M121.8 162.4L126.6 149.5L123.8 146.2L119.0 159.8Z"/><path class="k4" d="M116.9 174.0L121.8 162.4L119.0 159.8L114.1 172.0Z"/><path class="k1" d="M112.1 183.6L116.9 174.0L114.1 172.0L109.3 182.1Z"/><path class="k2" d="M107.2 190.7L112.1 183.6L109.3 182.1L104.4 189.5Z"/><path class="k3" d="M102.4 195.0L107.2 190.7L104.4 189.5L99.6 194.0Z"/><path class="k3" d="M97.6 196.6L102.4 195.0L99.6 194.0L94.8 195.7Z"/><path class="k3" d="M92.7 196.0L97.6 196.6L94.8 195.7L89.9 194.9Z"/><path class="k3" d="M87.9 193.6L92.7 196.0L89.9 194.9L85.1 192.4Z"/><path class="k2" d="M83.1 190.2L87.9 193.6L85.1 192.4L80.3 188.7Z"/><path class="k2" d="M221.3 166.2L226.1 161.2L223.3 160.0L218.5 165.5Z"/><path class="k3" d="M216.4 170.3L221.3 166.2L218.5 165.5L213.6 169.9Z"/><path class="k3" d="M211.6 172.9L216.4 170.3L213.6 169.9L208.8 172.7Z"/><path class="k3" d="M206.8 173.4L211.6 172.9L208.8 172.7L204.0 173.1Z"/><path class="k3" d="M201.9 171.5L206.8 173.4L204.0 173.1L199.1 170.9Z"/><path class="k2" d="M197.1 167.2L201.9 171.5L199.1 170.9L194.3 165.9Z"/><path class="k1" d="M192.3 160.6L197.1 167.2L194.3 165.9L189.5 158.4Z"/><path class="k4" d="M187.4 152.1L192.3 160.6L189.5 158.4L184.6 148.8Z"/><path class="k6" d="M182.6 142.5L187.4 152.1L184.6 148.8L179.8 138.0Z"/><path class="k8" d="M177.7 132.7L182.6 142.5L179.8 138.0L175.0 126.9Z"/><path class="k10" d="M172.9 123.5L177.7 132.7L175.0 126.9L170.1 116.5Z"/><path class="k12" d="M168.1 116.0L172.9 123.5L170.1 116.5L165.3 107.9Z"/><path class="k13" d="M163.2 110.7L168.1 116.0L165.3 107.9L160.4 102.0Z"/><path class="k14" d="M158.4 108.5L163.2 110.7L160.4 102.0L155.6 99.3Z"/><path class="k15" d="M153.6 109.6L158.4 108.5L155.6 99.3L150.8 100.4Z"/><path class="k14" d="M148.7 113.9L153.6 109.6L150.8 100.4L145.9 105.1Z"/><path class="k13" d="M143.9 121.2L148.7 113.9L145.9 105.1L141.1 113.1Z"/><path class="k12" d="M139.1 130.8L143.9 121.2L141.1 113.1L136.3 123.8Z"/><path class="k10" d="M134.2 142.1L139.1 130.8L136.3 123.8L131.4 136.3Z"/><path class="k8" d="M129.4 154.0L134.2 142.1L131.4 136.3L126.6 149.5Z"/><path class="k6" d="M124.5 165.7L129.4 154.0L126.6 149.5L121.8 162.4Z"/><path class="k4" d="M119.7 176.2L124.5 165.7L121.8 162.4L116.9 174.0Z"/><path class="k1" d="M114.9 184.9L119.7 176.2L116.9 174.0L112.1 183.6Z"/><path class="k2" d="M110.0 191.3L114.9 184.9L112.1 183.6L107.2 190.7Z"/><path class="k3" d="M105.2 195.3L110.0 191.3L107.2 190.7L102.4 195.0Z"/><path class="k3" d="M100.4 196.8L105.2 195.3L102.4 195.0L97.6 196.6Z"/><path class="k3" d="M95.5 196.4L100.4 196.8L97.6 196.6L92.7 196.0Z"/><path class="k3" d="M90.7 194.3L95.5 196.4L92.7 196.0L87.9 193.6Z"/><path class="k2" d="M85.9 191.4L90.7 194.3L87.9 193.6L83.1 190.2Z"/><path class="k2" d="M224.1 166.6L228.9 162.2L226.1 161.2L221.3 166.2Z"/><path class="k2" d="M219.2 170.2L224.1 166.6L221.3 166.2L216.4 170.3Z"/><path class="k3" d="M214.4 172.5L219.2 170.2L216.4 170.3L211.6 172.9Z"/><path class="k3" d="M209.6 173.1L214.4 172.5L211.6 172.9L206.8 173.4Z"/><path class="k3" d="M204.7 171.7L209.6 173.1L206.8 173.4L201.9 171.5Z"/><path class="k2" d="M199.9 168.2L204.7 171.7L201.9 171.5L197.1 167.2Z"/><path class="k1" d="M195.0 162.8L199.9 168.2L197.1 167.2L192.3 160.6Z"/><path class="k4" d="M190.2 156.0L195.0 162.8L192.3 160.6L187.4 152.1Z"/><path class="k5" d="M185.4 148.1L190.2 156.0L187.4 152.1L182.6 142.5Z"/><path class="k7" d="M180.5 140.1L185.4 148.1L182.6 142.5L177.7 132.7Z"/><path class="k9" d="M175.7 132.6L180.5 140.1L177.7 132.7L172.9 123.5Z"/><path class="k11" d="M170.9 126.4L175.7 132.6L172.9 123.5L168.1 116.0Z"/><path class="k12" d="M166.0 122.2L170.9 126.4L168.1 116.0L163.2 110.7Z"/><path class="k13" d="M161.2 120.5L166.0 122.2L163.2 110.7L158.4 108.5Z"/><path class="k13" d="M156.4 121.5L161.2 120.5L158.4 108.5L153.6 109.6Z"/><path class="k13" d="M151.5 125.3L156.4 121.5L153.6 109.6L148.7 113.9Z"/><path class="k12" d="M146.7 131.6L151.5 125.3L148.7 113.9L143.9 121.2Z"/><path class="k11" d="M141.8 139.8L146.7 131.6L143.9 121.2L139.1 130.8Z"/><path class="k9" d="M137.0 149.4L141.8 139.8L139.1 130.8L134.2 142.1Z"/><path class="k7" d="M132.2 159.6L137.0 149.4L134.2 142.1L129.4 154.0Z"/><path class="k5" d="M127.3 169.5L132.2 159.6L129.4 154.0L124.5 165.7Z"/><path class="k4" d="M122.5 178.5L127.3 169.5L124.5 165.7L119.7 176.2Z"/><path class="k1" d="M117.7 185.9L122.5 178.5L119.7 176.2L114.9 184.9Z"/><path class="k2" d="M112.8 191.5L117.7 185.9L114.9 184.9L110.0 191.3Z"/><path class="k3" d="M108.0 194.9L112.8 191.5L110.0 191.3L105.2 195.3Z"/><path class="k3" d="M103.2 196.4L108.0 194.9L105.2 195.3L100.4 196.8Z"/><path class="k3" d="M98.3 196.2L103.2 196.4L100.4 196.8L95.5 196.4Z"/><path class="k2" d="M93.5 194.7L98.3 196.2L95.5 196.4L90.7 194.3Z"/><path class="k2" d="M88.6 192.4L93.5 194.7L90.7 194.3L85.9 191.4Z"/><path class="k2" d="M226.9 166.6L231.7 163.1L228.9 162.2L224.1 166.6Z"/><path class="k2" d="M222.0 169.6L226.9 166.6L224.1 166.6L219.2 170.2Z"/><path class="k2" d="M217.2 171.7L222.0 169.6L219.2 170.2L214.4 172.5Z"/><path class="k2" d="M212.3 172.4L217.2 171.7L214.4 172.5L209.6 173.1Z"/><path class="k2" d="M207.5 171.5L212.3 172.4L209.6 173.1L204.7 171.7Z"/><path class="k2" d="M202.7 169.1L207.5 171.5L204.7 171.7L199.9 168.2Z"/><path class="k1" d="M197.8 165.2L202.7 169.1L199.9 168.2L195.0 162.8Z"/><path class="k0" d="M193.0 160.2L197.8 165.2L195.0 162.8L190.2 156.0Z"/><path class="k5" d="M188.2 154.4L193.0 160.2L190.2 156.0L185.4 148.1Z"/><path class="k6" d="M183.3 148.4L188.2 154.4L185.4 148.1L180.5 140.1Z"/><path class="k8" d="M178.5 142.9L183.3 148.4L180.5 140.1L175.7 132.6Z"/><path class="k9" d="M173.7 138.4L178.5 142.9L175.7 132.6L170.9 126.4Z"/><path class="k10" d="M168.8 135.4L173.7 138.4L170.9 126.4L166.0 122.2Z"/><path class="k11" d="M164.0 134.4L168.8 135.4L166.0 122.2L161.2 120.5Z"/><path class="k11" d="M159.1 135.4L164.0 134.4L161.2 120.5L156.4 121.5Z"/><path class="k11" d="M154.3 138.5L159.1 135.4L156.4 121.5L151.5 125.3Z"/><path class="k10" d="M149.5 143.6L154.3 138.5L151.5 125.3L146.7 131.6Z"/><path class="k9" d="M144.6 150.2L149.5 143.6L146.7 131.6L141.8 139.8Z"/><path class="k8" d="M139.8 157.8L144.6 150.2L141.8 139.8L137.0 149.4Z"/><path class="k6" d="M135.0 165.8L139.8 157.8L137.0 149.4L132.2 159.6Z"/><path class="k5" d="M130.1 173.7L135.0 165.8L132.2 159.6L127.3 169.5Z"/><path class="k0" d="M125.3 180.8L130.1 173.7L127.3 169.5L122.5 178.5Z"/><path class="k1" d="M120.5 186.8L125.3 180.8L122.5 178.5L117.7 185.9Z"/><path class="k2" d="M115.6 191.3L120.5 186.8L117.7 185.9L112.8 191.5Z"/><path class="k2" d="M110.8 194.2L115.6 191.3L112.8 191.5L108.0 194.9Z"/><path class="k2" d="M105.9 195.6L110.8 194.2L108.0 194.9L103.2 196.4Z"/><path class="k2" d="M101.1 195.7L105.9 195.6L103.2 196.4L98.3 196.2Z"/><path class="k2" d="M96.3 194.7L101.1 195.7L98.3 196.2L93.5 194.7Z"/><path class="k2" d="M91.4 193.2L96.3 194.7L93.5 194.7L88.6 192.4Z"/><path class="k1" d="M229.6 166.6L234.5 163.8L231.7 163.1L226.9 166.6Z"/><path class="k2" d="M224.8 169.0L229.6 166.6L226.9 166.6L222.0 169.6Z"/><path class="k2" d="M220.0 170.7L224.8 169.0L222.0 169.6L217.2 171.7Z"/><path class="k2" d="M215.1 171.5L220.0 170.7L217.2 171.7L212.3 172.4Z"/><path class="k2" d="M210.3 171.2L215.1 171.5L212.3 172.4L207.5 171.5Z"/><path class="k1" d="M205.5 169.9L210.3 171.2L207.5 171.5L202.7 169.1Z"/><path class="k1" d="M200.6 167.6L205.5 169.9L202.7 169.1L197.8 165.2Z"/><path class="k0" d="M195.8 164.5L200.6 167.6L197.8 165.2L193.0 160.2Z"/><path class="k4" d="M191.0 160.9L195.8 164.5L193.0 160.2L188.2 154.4Z"/><path class="k5" d="M186.1 157.2L191.0 160.9L188.2 154.4L183.3 148.4Z"/><path class="k6" d="M181.3 153.8L186.1 157.2L183.3 148.4L178.5 142.9Z"/><path class="k7" d="M176.4 151.1L181.3 153.8L178.5 142.9L173.7 138.4Z"/><path class="k8" d="M171.6 149.4L176.4 151.1L173.7 138.4L168.8 135.4Z"/><path class="k8" d="M166.8 149.0L171.6 149.4L168.8 135.4L164.0 134.4Z"/><path class="k9" d="M161.9 150.0L166.8 149.0L164.0 134.4L159.1 135.4Z"/><path class="k8" d="M157.1 152.5L161.9 150.0L159.1 135.4L154.3 138.5Z"/><path class="k8" d="M152.3 156.3L157.1 152.5L154.3 138.5L149.5 143.6Z"/><path class="k7" d="M147.4 161.1L152.3 156.3L149.5 143.6L144.6 150.2Z"/><path class="k6" d="M142.6 166.6L147.4 161.1L144.6 150.2L139.8 157.8Z"/><path class="k5" d="M137.8 172.4L142.6 166.6L139.8 157.8L135.0 165.8Z"/><path class="k4" d="M132.9 178.1L137.8 172.4L135.0 165.8L130.1 173.7Z"/><path class="k0" d="M128.1 183.2L132.9 178.1L130.1 173.7L125.3 180.8Z"/><path class="k1" d="M123.2 187.6L128.1 183.2L125.3 180.8L120.5 186.8Z"/><path class="k1" d="M118.4 191.0L123.2 187.6L120.5 186.8L115.6 191.3Z"/><path class="k2" d="M113.6 193.3L118.4 191.0L115.6 191.3L110.8 194.2Z"/><path class="k2" d="M108.7 194.6L113.6 193.3L110.8 194.2L105.9 195.6Z"/><path class="k2" d="M103.9 195.0L108.7 194.6L105.9 195.6L101.1 195.7Z"/><path class="k2" d="M99.1 194.7L103.9 195.0L101.1 195.7L96.3 194.7Z"/><path class="k1" d="M94.2 194.0L99.1 194.7L96.3 194.7L91.4 193.2Z"/><path class="k1" d="M232.4 166.6L237.3 164.6L234.5 163.8L229.6 166.6Z"/><path class="k1" d="M227.6 168.4L232.4 166.6L229.6 166.6L224.8 169.0Z"/><path class="k1" d="M222.8 169.7L227.6 168.4L224.8 169.0L220.0 170.7Z"/><path class="k1" d="M217.9 170.7L222.8 169.7L220.0 170.7L215.1 171.5Z"/><path class="k1" d="M213.1 171.0L217.9 170.7L215.1 171.5L210.3 171.2Z"/><path class="k1" d="M208.3 170.8L213.1 171.0L210.3 171.2L205.5 169.9Z"/><path class="k1" d="M203.4 170.0L208.3 170.8L205.5 169.9L200.6 167.6Z"/><path class="k0" d="M198.6 168.8L203.4 170.0L200.6 167.6L195.8 164.5Z"/><path class="k4" d="M193.8 167.4L198.6 168.8L195.8 164.5L191.0 160.9Z"/><path class="k4" d="M188.9 165.9L193.8 167.4L191.0 160.9L186.1 157.2Z"/><path class="k5" d="M184.1 164.5L188.9 165.9L186.1 157.2L181.3 153.8Z"/><path class="k5" d="M179.2 163.5L184.1 164.5L181.3 153.8L176.4 151.1Z"/><path class="k6" d="M174.4 163.1L179.2 163.5L176.4 151.1L171.6 149.4Z"/><path class="k6" d="M169.6 163.3L174.4 163.1L171.6 149.4L166.8 149.0Z"/><path class="k6" d="M164.7 164.4L169.6 163.3L166.8 149.0L161.9 150.0Z"/><path class="k6" d="M159.9 166.2L164.7 164.4L161.9 150.0L157.1 152.5Z"/><path class="k6" d="M155.1 168.7L159.9 166.2L157.1 152.5L152.3 156.3Z"/><path class="k5" d="M150.2 171.8L155.1 168.7L152.3 156.3L147.4 161.1Z"/><path class="k5" d="M145.4 175.2L150.2 171.8L147.4 161.1L142.6 166.6Z"/><path class="k4" d="M140.5 178.8L145.4 175.2L142.6 166.6L137.8 172.4Z"/><path class="k4" d="M135.7 182.4L140.5 178.8L137.8 172.4L132.9 178.1Z"/><path class="k0" d="M130.9 185.6L135.7 182.4L132.9 178.1L128.1 183.2Z"/><path class="k1" d="M126.0 188.5L130.9 185.6L128.1 183.2L123.2 187.6Z"/><path class="k1" d="M121.2 190.8L126.0 188.5L123.2 187.6L118.4 191.0Z"/><path class="k1" d="M116.4 192.5L121.2 190.8L118.4 191.0L113.6 193.3Z"/><path class="k1" d="M111.5 193.7L116.4 192.5L113.6 193.3L108.7 194.6Z"/><path class="k1" d="M106.7 194.4L111.5 193.7L108.7 194.6L103.9 195.0Z"/><path class="k1" d="M101.9 194.7L106.7 194.4L103.9 195.0L99.1 194.7Z"/><path class="k1" d="M97.0 194.8L101.9 194.7L99.1 194.7L94.2 194.0Z"/><path class="k1" d="M235.2 166.8L240.1 165.5L237.3 164.6L232.4 166.6Z"/><path class="k1" d="M230.4 168.0L235.2 166.8L232.4 166.6L227.6 168.4Z"/><path class="k1" d="M225.6 169.1L230.4 168.0L227.6 168.4L222.8 169.7Z"/><path class="k1" d="M220.7 170.1L225.6 169.1L222.8 169.7L217.9 170.7Z"/><path class="k1" d="M215.9 171.0L220.7 170.1L217.9 170.7L213.1 171.0Z"/><path class="k1" d="M211.1 171.7L215.9 171.0L213.1 171.0L208.3 170.8Z"/><path class="k1" d="M206.2 172.4L211.1 171.7L208.3 170.8L203.4 170.0Z"/><path class="k0" d="M201.4 172.9L206.2 172.4L203.4 170.0L198.6 168.8Z"/><path class="k0" d="M196.5 173.3L201.4 172.9L198.6 168.8L193.8 167.4Z"/><path class="k0" d="M191.7 173.8L196.5 173.3L193.8 167.4L188.9 165.9Z"/><path class="k0" d="M186.9 174.2L191.7 173.8L188.9 165.9L184.1 164.5Z"/><path class="k4" d="M182.0 174.8L186.9 174.2L184.1 164.5L179.2 163.5Z"/><path class="k4" d="M177.2 175.5L182.0 174.8L179.2 163.5L174.4 163.1Z"/><path class="k4" d="M172.4 176.3L177.2 175.5L174.4 163.1L169.6 163.3Z"/><path class="k4" d="M167.5 177.4L172.4 176.3L169.6 163.3L164.7 164.4Z"/><path class="k4" d="M162.7 178.6L167.5 177.4L164.7 164.4L159.9 166.2Z"/><path class="k4" d="M157.9 180.0L162.7 178.6L159.9 166.2L155.1 168.7Z"/><path class="k4" d="M153.0 181.5L157.9 180.0L155.1 168.7L150.2 171.8Z"/><path class="k0" d="M148.2 183.1L153.0 181.5L150.2 171.8L145.4 175.2Z"/><path class="k0" d="M143.3 184.8L148.2 183.1L145.4 175.2L140.5 178.8Z"/><path class="k0" d="M138.5 186.4L143.3 184.8L140.5 178.8L135.7 182.4Z"/><path class="k0" d="M133.7 188.0L138.5 186.4L135.7 182.4L130.9 185.6Z"/><path class="k1" d="M128.8 189.4L133.7 188.0L130.9 185.6L126.0 188.5Z"/><path class="k1" d="M124.0 190.8L128.8 189.4L126.0 188.5L121.2 190.8Z"/><path class="k1" d="M119.2 192.0L124.0 190.8L121.2 190.8L116.4 192.5Z"/><path class="k1" d="M114.3 193.1L119.2 192.0L116.4 192.5L111.5 193.7Z"/><path class="k1" d="M109.5 194.0L114.3 193.1L111.5 193.7L106.7 194.4Z"/><path class="k1" d="M104.6 194.9L109.5 194.0L106.7 194.4L101.9 194.7Z"/><path class="k1" d="M99.8 195.7L104.6 194.9L101.9 194.7L97.0 194.8Z"/><path class="k1" d="M238.0 167.3L242.9 166.6L240.1 165.5L235.2 166.8Z"/><path class="k1" d="M233.2 168.0L238.0 167.3L235.2 166.8L230.4 168.0Z"/><path class="k1" d="M228.4 169.0L233.2 168.0L230.4 168.0L225.6 169.1Z"/><path class="k1" d="M223.5 170.0L228.4 169.0L225.6 169.1L220.7 170.1Z"/><path class="k1" d="M218.7 171.3L223.5 170.0L220.7 170.1L215.9 171.0Z"/><path class="k1" d="M213.8 172.9L218.7 171.3L215.9 171.0L211.1 171.7Z"/><path class="k1" d="M209.0 174.6L213.8 172.9L211.1 171.7L206.2 172.4Z"/><path class="k1" d="M204.2 176.5L209.0 174.6L206.2 172.4L201.4 172.9Z"/><path class="k1" d="M199.3 178.5L204.2 176.5L201.4 172.9L196.5 173.3Z"/><path class="k1" d="M194.5 180.5L199.3 178.5L196.5 173.3L191.7 173.8Z"/><path class="k1" d="M189.7 182.4L194.5 180.5L191.7 173.8L186.9 174.2Z"/><path class="k1" d="M184.8 184.2L189.7 182.4L186.9 174.2L182.0 174.8Z"/><path class="k1" d="M180.0 185.8L184.8 184.2L182.0 174.8L177.2 175.5Z"/><path class="k1" d="M175.2 187.2L180.0 185.8L177.2 175.5L172.4 176.3Z"/><path class="k1" d="M170.3 188.2L175.2 187.2L172.4 176.3L167.5 177.4Z"/><path class="k1" d="M165.5 189.0L170.3 188.2L167.5 177.4L162.7 178.6Z"/><path class="k1" d="M160.6 189.5L165.5 189.0L162.7 178.6L157.9 180.0Z"/><path class="k1" d="M155.8 189.7L160.6 189.5L157.9 180.0L153.0 181.5Z"/><path class="k1" d="M151.0 189.9L155.8 189.7L153.0 181.5L148.2 183.1Z"/><path class="k1" d="M146.1 189.9L151.0 189.9L148.2 183.1L143.3 184.8Z"/><path class="k1" d="M141.3 190.0L146.1 189.9L143.3 184.8L138.5 186.4Z"/><path class="k1" d="M136.5 190.2L141.3 190.0L138.5 186.4L133.7 188.0Z"/><path class="k1" d="M131.6 190.6L136.5 190.2L133.7 188.0L128.8 189.4Z"/><path class="k1" d="M126.8 191.1L131.6 190.6L128.8 189.4L124.0 190.8Z"/><path class="k1" d="M122.0 191.9L126.8 191.1L124.0 190.8L119.2 192.0Z"/><path class="k1" d="M117.1 192.9L122.0 191.9L119.2 192.0L114.3 193.1Z"/><path class="k1" d="M112.3 194.1L117.1 192.9L114.3 193.1L109.5 194.0Z"/><path class="k1" d="M107.4 195.4L112.3 194.1L109.5 194.0L104.6 194.9Z"/><path class="k1" d="M102.6 196.8L107.4 195.4L104.6 194.9L99.8 195.7Z"/><path class="k0" d="M240.8 168.2L245.7 167.9L242.9 166.6L238.0 167.3Z"/><path class="k0" d="M236.0 168.6L240.8 168.2L238.0 167.3L233.2 168.0Z"/><path class="k0" d="M231.1 169.4L236.0 168.6L233.2 168.0L228.4 169.0Z"/><path class="k0" d="M226.3 170.5L231.1 169.4L228.4 169.0L223.5 170.0Z"/><path class="k0" d="M221.5 172.1L226.3 170.5L223.5 170.0L218.7 171.3Z"/><path class="k0" d="M216.6 174.2L221.5 172.1L218.7 171.3L213.8 172.9Z"/><path class="k1" d="M211.8 176.7L216.6 174.2L213.8 172.9L209.0 174.6Z"/><path class="k1" d="M207.0 179.6L211.8 176.7L209.0 174.6L204.2 176.5Z"/><path class="k1" d="M202.1 182.6L207.0 179.6L204.2 176.5L199.3 178.5Z"/><path class="k1" d="M197.3 185.7L202.1 182.6L199.3 178.5L194.5 180.5Z"/><path class="k2" d="M192.5 188.7L197.3 185.7L194.5 180.5L189.7 182.4Z"/><path class="k2" d="M187.6 191.4L192.5 188.7L189.7 182.4L184.8 184.2Z"/><path class="k2" d="M182.8 193.7L187.6 191.4L184.8 184.2L180.0 185.8Z"/><path class="k2" d="M177.9 195.3L182.8 193.7L180.0 185.8L175.2 187.2Z"/><path class="k2" d="M173.1 196.4L177.9 195.3L175.2 187.2L170.3 188.2Z"/><path class="k2" d="M168.3 196.8L173.1 196.4L170.3 188.2L165.5 189.0Z"/><path class="k2" d="M163.4 196.6L168.3 196.8L165.5 189.0L160.6 189.5Z"/><path class="k2" d="M158.6 196.0L163.4 196.6L160.6 189.5L155.8 189.7Z"/><path class="k2" d="M153.8 195.1L158.6 196.0L155.8 189.7L151.0 189.9Z"/><path class="k1" d="M148.9 194.1L153.8 195.1L151.0 189.9L146.1 189.9Z"/><path class="k1" d="M144.1 193.1L148.9 194.1L146.1 189.9L141.3 190.0Z"/><path class="k1" d="M139.3 192.3L144.1 193.1L141.3 190.0L136.5 190.2Z"/><path class="k1" d="M134.4 191.9L139.3 192.3L136.5 190.2L131.6 190.6Z"/><path class="k0" d="M129.6 191.9L134.4 191.9L131.6 190.6L126.8 191.1Z"/><path class="k0" d="M124.7 192.4L129.6 191.9L126.8 191.1L122.0 191.9Z"/><path class="k0" d="M119.9 193.3L124.7 192.4L122.0 191.9L117.1 192.9Z"/><path class="k0" d="M115.1 194.7L119.9 193.3L117.1 192.9L112.3 194.1Z"/><path class="k0" d="M110.2 196.3L115.1 194.7L112.3 194.1L107.4 195.4Z"/><path class="k0" d="M105.4 198.1L110.2 196.3L107.4 195.4L102.6 196.8Z"/><path class="k0" d="M243.6 169.5L248.4 169.4L245.7 167.9L240.8 168.2Z"/><path class="k0" d="M238.8 169.8L243.6 169.5L240.8 168.2L236.0 168.6Z"/><path class="k0" d="M233.9 170.4L238.8 169.8L236.0 168.6L231.1 169.4Z"/><path class="k0" d="M229.1 171.6L233.9 170.4L231.1 169.4L226.3 170.5Z"/><path class="k0" d="M224.3 173.4L229.1 171.6L226.3 170.5L221.5 172.1Z"/><path class="k0" d="M219.4 175.7L224.3 173.4L221.5 172.1L216.6 174.2Z"/><path class="k1" d="M214.6 178.7L219.4 175.7L216.6 174.2L211.8 176.7Z"/><path class="k1" d="M209.8 182.0L214.6 178.7L211.8 176.7L207.0 179.6Z"/><path class="k1" d="M204.9 185.7L209.8 182.0L207.0 179.6L202.1 182.6Z"/><path class="k2" d="M200.1 189.4L204.9 185.7L202.1 182.6L197.3 185.7Z"/><path class="k2" d="M195.2 193.0L200.1 189.4L197.3 185.7L192.5 188.7Z"/><path class="k3" d="M190.4 196.2L195.2 193.0L192.5 188.7L187.6 191.4Z"/><path class="k3" d="M185.6 198.7L190.4 196.2L187.6 191.4L182.8 193.7Z"/><path class="k3" d="M180.7 200.6L185.6 198.7L182.8 193.7L177.9 195.3Z"/><path class="k3" d="M175.9 201.6L180.7 200.6L177.9 195.3L173.1 196.4Z"/><path class="k3" d="M171.1 201.9L175.9 201.6L173.1 196.4L168.3 196.8Z"/><path class="k3" d="M166.2 201.4L171.1 201.9L168.3 196.8L163.4 196.6Z"/><path class="k3" d="M161.4 200.3L166.2 201.4L163.4 196.6L158.6 196.0Z"/><path class="k2" d="M156.6 198.8L161.4 200.3L158.6 196.0L153.8 195.1Z"/><path class="k2" d="M151.7 197.2L156.6 198.8L153.8 195.1L148.9 194.1Z"/><path class="k1" d="M146.9 195.6L151.7 197.2L148.9 194.1L144.1 193.1Z"/><path class="k1" d="M142.0 194.3L146.9 195.6L144.1 193.1L139.3 192.3Z"/><path class="k1" d="M137.2 193.4L142.0 194.3L139.3 192.3L134.4 191.9Z"/><path class="k0" d="M132.4 193.1L137.2 193.4L134.4 191.9L129.6 191.9Z"/><path class="k0" d="M127.5 193.5L132.4 193.1L129.6 191.9L124.7 192.4Z"/><path class="k0" d="M122.7 194.4L127.5 193.5L124.7 192.4L119.9 193.3Z"/><path class="k0" d="M117.9 195.8L122.7 194.4L119.9 193.3L115.1 194.7Z"/><path class="k0" d="M113.0 197.6L117.9 195.8L115.1 194.7L110.2 196.3Z"/><path class="k0" d="M108.2 199.6L113.0 197.6L110.2 196.3L105.4 198.1Z"/><path class="k0" d="M246.4 171.2L251.2 171.2L248.4 169.4L243.6 169.5Z"/><path class="k0" d="M241.6 171.4L246.4 171.2L243.6 169.5L238.8 169.8Z"/><path class="k0" d="M236.7 172.1L241.6 171.4L238.8 169.8L233.9 170.4Z"/><path class="k0" d="M231.9 173.3L236.7 172.1L233.9 170.4L229.1 171.6Z"/><path class="k0" d="M227.1 175.1L231.9 173.3L229.1 171.6L224.3 173.4Z"/><path class="k0" d="M222.2 177.5L227.1 175.1L224.3 173.4L219.4 175.7Z"/><path class="k1" d="M217.4 180.5L222.2 177.5L219.4 175.7L214.6 178.7Z"/><path class="k1" d="M212.5 184.0L217.4 180.5L214.6 178.7L209.8 182.0Z"/><path class="k1" d="M207.7 187.7L212.5 184.0L209.8 182.0L204.9 185.7Z"/><path class="k2" d="M202.9 191.6L207.7 187.7L204.9 185.7L200.1 189.4Z"/><path class="k2" d="M198.0 195.2L202.9 191.6L200.1 189.4L195.2 193.0Z"/><path class="k3" d="M193.2 198.5L198.0 195.2L195.2 193.0L190.4 196.2Z"/><path class="k3" d="M188.4 201.1L193.2 198.5L190.4 196.2L185.6 198.7Z"/><path class="k3" d="M183.5 203.0L188.4 201.1L185.6 198.7L180.7 200.6Z"/><path class="k3" d="M178.7 204.1L183.5 203.0L180.7 200.6L175.9 201.6Z"/><path class="k3" d="M173.9 204.3L178.7 204.1L175.9 201.6L171.1 201.9Z"/><path class="k3" d="M169.0 203.7L173.9 204.3L171.1 201.9L166.2 201.4Z"/><path class="k3" d="M164.2 202.5L169.0 203.7L166.2 201.4L161.4 200.3Z"/><path class="k2" d="M159.3 200.9L164.2 202.5L161.4 200.3L156.6 198.8Z"/><path class="k2" d="M154.5 199.2L159.3 200.9L156.6 198.8L151.7 197.2Z"/><path class="k1" d="M149.7 197.5L154.5 199.2L151.7 197.2L146.9 195.6Z"/><path class="k1" d="M144.8 196.1L149.7 197.5L146.9 195.6L142.0 194.3Z"/><path class="k1" d="M140.0 195.2L144.8 196.1L142.0 194.3L137.2 193.4Z"/><path class="k0" d="M135.2 194.8L140.0 195.2L137.2 193.4L132.4 193.1Z"/><path class="k0" d="M130.3 195.1L135.2 194.8L132.4 193.1L127.5 193.5Z"/><path class="k0" d="M125.5 196.0L130.3 195.1L127.5 193.5L122.7 194.4Z"/><path class="k0" d="M120.7 197.5L125.5 196.0L122.7 194.4L117.9 195.8Z"/><path class="k0" d="M115.8 199.3L120.7 197.5L117.9 195.8L113.0 197.6Z"/><path class="k0" d="M111.0 201.4L115.8 199.3L113.0 197.6L108.2 199.6Z"/><path class="k0" d="M249.2 173.3L254.0 173.1L251.2 171.2L246.4 171.2Z"/><path class="k0" d="M244.4 173.6L249.2 173.3L246.4 171.2L241.6 171.4Z"/><path class="k0" d="M239.5 174.3L244.4 173.6L241.6 171.4L236.7 172.1Z"/><path class="k0" d="M234.7 175.5L239.5 174.3L236.7 172.1L231.9 173.3Z"/><path class="k0" d="M229.8 177.2L234.7 175.5L231.9 173.3L227.1 175.1Z"/><path class="k0" d="M225.0 179.4L229.8 177.2L227.1 175.1L222.2 177.5Z"/><path class="k1" d="M220.2 182.2L225.0 179.4L222.2 177.5L217.4 180.5Z"/><path class="k1" d="M215.3 185.4L220.2 182.2L217.4 180.5L212.5 184.0Z"/><path class="k1" d="M210.5 188.9L215.3 185.4L212.5 184.0L207.7 187.7Z"/><path class="k2" d="M205.7 192.4L210.5 188.9L207.7 187.7L202.9 191.6Z"/><path class="k2" d="M200.8 195.8L205.7 192.4L202.9 191.6L198.0 195.2Z"/><path class="k3" d="M196.0 198.8L200.8 195.8L198.0 195.2L193.2 198.5Z"/><path class="k3" d="M191.2 201.2L196.0 198.8L193.2 198.5L188.4 201.1Z"/><path class="k3" d="M186.3 203.0L191.2 201.2L188.4 201.1L183.5 203.0Z"/><path class="k3" d="M181.5 204.1L186.3 203.0L183.5 203.0L178.7 204.1Z"/><path class="k3" d="M176.6 204.4L181.5 204.1L178.7 204.1L173.9 204.3Z"/><path class="k3" d="M171.8 204.0L176.6 204.4L173.9 204.3L169.0 203.7Z"/><path class="k3" d="M167.0 203.1L171.8 204.0L169.0 203.7L164.2 202.5Z"/><path class="k2" d="M162.1 201.8L167.0 203.1L164.2 202.5L159.3 200.9Z"/><path class="k2" d="M157.3 200.3L162.1 201.8L159.3 200.9L154.5 199.2Z"/><path class="k1" d="M152.5 199.0L157.3 200.3L154.5 199.2L149.7 197.5Z"/><path class="k1" d="M147.6 197.8L152.5 199.0L149.7 197.5L144.8 196.1Z"/><path class="k1" d="M142.8 197.1L147.6 197.8L144.8 196.1L140.0 195.2Z"/><path class="k0" d="M138.0 196.9L142.8 197.1L140.0 195.2L135.2 194.8Z"/><path class="k0" d="M133.1 197.3L138.0 196.9L135.2 194.8L130.3 195.1Z"/><path class="k0" d="M128.3 198.2L133.1 197.3L130.3 195.1L125.5 196.0Z"/><path class="k0" d="M123.4 199.6L128.3 198.2L125.5 196.0L120.7 197.5Z"/><path class="k0" d="M118.6 201.4L123.4 199.6L120.7 197.5L115.8 199.3Z"/><path class="k0" d="M113.8 203.3L118.6 201.4L115.8 199.3L111.0 201.4Z"/><path class="k0" d="M252.0 175.6L256.8 175.2L254.0 173.1L249.2 173.3Z"/><path class="k0" d="M247.2 176.1L252.0 175.6L249.2 173.3L244.4 173.6Z"/><path class="k0" d="M242.3 176.9L247.2 176.1L244.4 173.6L239.5 174.3Z"/><path class="k0" d="M237.5 178.0L242.3 176.9L239.5 174.3L234.7 175.5Z"/><path class="k0" d="M232.6 179.5L237.5 178.0L234.7 175.5L229.8 177.2Z"/><path class="k0" d="M227.8 181.5L232.6 179.5L229.8 177.2L225.0 179.4Z"/><path class="k1" d="M223.0 183.8L227.8 181.5L225.0 179.4L220.2 182.2Z"/><path class="k1" d="M218.1 186.5L223.0 183.8L220.2 182.2L215.3 185.4Z"/><path class="k1" d="M213.3 189.3L218.1 186.5L215.3 185.4L210.5 188.9Z"/><path class="k2" d="M208.5 192.2L213.3 189.3L210.5 188.9L205.7 192.4Z"/><path class="k2" d="M203.6 195.0L208.5 192.2L205.7 192.4L200.8 195.8Z"/><path class="k2" d="M198.8 197.5L203.6 195.0L200.8 195.8L196.0 198.8Z"/><path class="k3" d="M194.0 199.6L198.8 197.5L196.0 198.8L191.2 201.2Z"/><path class="k3" d="M189.1 201.2L194.0 199.6L191.2 201.2L186.3 203.0Z"/><path class="k3" d="M184.3 202.3L189.1 201.2L186.3 203.0L181.5 204.1Z"/><path class="k3" d="M179.4 202.8L184.3 202.3L181.5 204.1L176.6 204.4Z"/><path class="k3" d="M174.6 202.7L179.4 202.8L176.6 204.4L171.8 204.0Z"/><path class="k2" d="M169.8 202.3L174.6 202.7L171.8 204.0L167.0 203.1Z"/><path class="k2" d="M164.9 201.6L169.8 202.3L167.0 203.1L162.1 201.8Z"/><path class="k2" d="M160.1 200.8L164.9 201.6L162.1 201.8L157.3 200.3Z"/><path class="k1" d="M155.3 200.0L160.1 200.8L157.3 200.3L152.5 199.0Z"/><path class="k1" d="M150.4 199.5L155.3 200.0L152.5 199.0L147.6 197.8Z"/><path class="k1" d="M145.6 199.2L150.4 199.5L147.6 197.8L142.8 197.1Z"/><path class="k0" d="M140.7 199.3L145.6 199.2L142.8 197.1L138.0 196.9Z"/><path class="k0" d="M135.9 199.9L140.7 199.3L138.0 196.9L133.1 197.3Z"/><path class="k0" d="M131.1 200.8L135.9 199.9L133.1 197.3L128.3 198.2Z"/><path class="k0" d="M126.2 202.1L131.1 200.8L128.3 198.2L123.4 199.6Z"/><path class="k0" d="M121.4 203.7L126.2 202.1L123.4 199.6L118.6 201.4Z"/><path class="k0" d="M116.6 205.4L121.4 203.7L118.6 201.4L113.8 203.3Z"/><path class="k0" d="M254.8 178.0L259.6 177.4L256.8 175.2L252.0 175.6Z"/><path class="k0" d="M249.9 178.8L254.8 178.0L252.0 175.6L247.2 176.1Z"/><path class="k0" d="M245.1 179.7L249.9 178.8L247.2 176.1L242.3 176.9Z"/><path class="k0" d="M240.3 180.8L245.1 179.7L242.3 176.9L237.5 178.0Z"/><path class="k0" d="M235.4 182.1L240.3 180.8L237.5 178.0L232.6 179.5Z"/><path class="k0" d="M230.6 183.7L235.4 182.1L232.6 179.5L227.8 181.5Z"/><path class="k1" d="M225.8 185.4L230.6 183.7L227.8 181.5L223.0 183.8Z"/><path class="k1" d="M220.9 187.4L225.8 185.4L223.0 183.8L218.1 186.5Z"/><path class="k1" d="M216.1 189.4L220.9 187.4L218.1 186.5L213.3 189.3Z"/><path class="k1" d="M211.3 191.5L216.1 189.4L213.3 189.3L208.5 192.2Z"/><path class="k2" d="M206.4 193.5L211.3 191.5L208.5 192.2L203.6 195.0Z"/><path class="k2" d="M201.6 195.4L206.4 193.5L203.6 195.0L198.8 197.5Z"/><path class="k2" d="M196.7 197.0L201.6 195.4L198.8 197.5L194.0 199.6Z"/><path class="k2" d="M191.9 198.4L196.7 197.0L194.0 199.6L189.1 201.2Z"/><path class="k2" d="M187.1 199.4L191.9 198.4L189.1 201.2L184.3 202.3Z"/><path class="k2" d="M182.2 200.1L187.1 199.4L184.3 202.3L179.4 202.8Z"/><path class="k2" d="M177.4 200.6L182.2 200.1L179.4 202.8L174.6 202.7Z"/><path class="k2" d="M172.6 200.8L177.4 200.6L174.6 202.7L169.8 202.3Z"/><path class="k2" d="M167.7 200.9L172.6 200.8L169.8 202.3L164.9 201.6Z"/><path class="k1" d="M162.9 200.9L167.7 200.9L164.9 201.6L160.1 200.8Z"/><path class="k1" d="M158.1 200.9L162.9 200.9L160.1 200.8L155.3 200.0Z"/><path class="k1" d="M153.2 201.0L158.1 200.9L155.3 200.0L150.4 199.5Z"/><path class="k1" d="M148.4 201.4L153.2 201.0L150.4 199.5L145.6 199.2Z"/><path class="k0" d="M143.5 201.9L148.4 201.4L145.6 199.2L140.7 199.3Z"/><path class="k0" d="M138.7 202.6L143.5 201.9L140.7 199.3L135.9 199.9Z"/><path class="k0" d="M133.9 203.6L138.7 202.6L135.9 199.9L131.1 200.8Z"/><path class="k0" d="M129.0 204.8L133.9 203.6L131.1 200.8L126.2 202.1Z"/><path class="k0" d="M124.2 206.2L129.0 204.8L126.2 202.1L121.4 203.7Z"/><path class="k0" d="M119.4 207.6L124.2 206.2L121.4 203.7L116.6 205.4Z"/></g><polyline points="34.57,63.13 118.34,117.23 263.43,85.99" fill="none" stroke="#000" stroke-width="1" shape-rendering="crispEdges"/><polyline points="118.34,225.42 118.34,117.23" fill="none" stroke="#000" stroke-width="1" shape-rendering="crispEdges"/><g fill="#fff" stroke="#000" stroke-width="1.0"><circle cx="160.8" cy="162.2" r="3.5"/><circle cx="140.6" cy="76.0" r="3.5"/><circle cx="151.3" cy="118.5" r="3.5"/><circle cx="138.5" cy="150.0" r="3.5"/><circle cx="102.1" cy="158.8" r="3.5"/><circle cx="177.9" cy="122.2" r="3.5"/><circle cx="132.0" cy="147.5" r="3.5"/><circle cx="159.1" cy="194.1" r="3.5"/><circle cx="180.8" cy="131.5" r="3.5"/><circle cx="138.0" cy="112.0" r="3.5"/><circle cx="195.1" cy="187.4" r="3.5"/><circle cx="122.6" cy="207.7" r="3.5"/><circle cx="162.7" cy="126.8" r="3.5"/><circle cx="160.0" cy="119.1" r="3.5"/><circle cx="234.4" cy="168.1" r="3.5"/><circle cx="177.2" cy="152.1" r="3.5"/><circle cx="126.2" cy="199.3" r="3.5"/><circle cx="121.9" cy="122.0" r="3.5"/><circle cx="138.0" cy="119.8" r="3.5"/><circle cx="164.6" cy="111.2" r="3.5"/><circle cx="161.0" cy="135.7" r="3.5"/><circle cx="251.9" cy="170.4" r="3.5"/><circle cx="120.2" cy="147.3" r="3.5"/><circle cx="85.4" cy="161.2" r="3.5"/><circle cx="184.7" cy="141.1" r="3.5"/><circle cx="156.5" cy="190.7" r="3.5"/><circle cx="230.0" cy="173.9" r="3.5"/><circle cx="113.8" cy="151.9" r="3.5"/><circle cx="131.2" cy="131.6" r="3.5"/><circle cx="130.5" cy="101.4" r="3.5"/><circle cx="123.5" cy="143.8" r="3.5"/><circle cx="132.0" cy="133.1" r="3.5"/><circle cx="122.3" cy="149.0" r="3.5"/><circle cx="156.3" cy="144.3" r="3.5"/><circle cx="119.6" cy="133.5" r="3.5"/><circle cx="141.6" cy="95.2" r="3.5"/><circle cx="204.9" cy="180.4" r="3.5"/><circle cx="140.8" cy="104.7" r="3.5"/><circle cx="106.7" cy="197.8" r="3.5"/><circle cx="173.8" cy="115.5" r="3.5"/><circle cx="182.4" cy="131.5" r="3.5"/><circle cx="98.5" cy="157.2" r="3.5"/><circle cx="134.5" cy="182.2" r="3.5"/><circle cx="143.2" cy="193.8" r="3.5"/><circle cx="232.1" cy="165.8" r="3.5"/><circle cx="165.3" cy="132.5" r="3.5"/><circle cx="98.0" cy="156.3" r="3.5"/><circle cx="180.0" cy="167.1" r="3.5"/><circle cx="181.9" cy="136.6" r="3.5"/><circle cx="137.7" cy="91.4" r="3.5"/><circle cx="138.1" cy="142.7" r="3.5"/><circle cx="146.7" cy="140.4" r="3.5"/><circle cx="139.1" cy="159.8" r="3.5"/><circle cx="105.4" cy="194.4" r="3.5"/><circle cx="131.5" cy="112.2" r="3.5"/><circle cx="150.9" cy="107.6" r="3.5"/><circle cx="144.0" cy="157.2" r="3.5"/><circle cx="164.9" cy="111.0" r="3.5"/><circle cx="157.3" cy="137.7" r="3.5"/><circle cx="167.6" cy="126.6" r="3.5"/><circle cx="256.2" cy="180.7" r="3.5"/><circle cx="144.2" cy="99.3" r="3.5"/><circle cx="132.1" cy="112.5" r="3.5"/><circle cx="85.4" cy="158.2" r="3.5"/><circle cx="189.5" cy="158.3" r="3.5"/><circle cx="131.4" cy="149.1" r="3.5"/><circle cx="150.0" cy="123.2" r="3.5"/><circle cx="234.5" cy="163.2" r="3.5"/><circle cx="184.1" cy="136.0" r="3.5"/><circle cx="106.8" cy="145.6" r="3.5"/><circle cx="113.3" cy="192.0" r="3.5"/><circle cx="232.7" cy="168.2" r="3.5"/><circle cx="194.0" cy="136.2" r="3.5"/><circle cx="71.8" cy="170.2" r="3.5"/><circle cx="60.0" cy="158.2" r="3.5"/><circle cx="221.1" cy="185.4" r="3.5"/><circle cx="162.1" cy="135.7" r="3.5"/><circle cx="46.9" cy="156.3" r="3.5"/><circle cx="196.1" cy="161.1" r="3.5"/><circle cx="147.6" cy="145.5" r="3.5"/><circle cx="124.0" cy="122.5" r="3.5"/><circle cx="150.2" cy="122.7" r="3.5"/><circle cx="187.7" cy="152.3" r="3.5"/><circle cx="117.6" cy="135.5" r="3.5"/><circle cx="140.0" cy="166.4" r="3.5"/><circle cx="107.4" cy="181.1" r="3.5"/><circle cx="152.7" cy="148.1" r="3.5"/><circle cx="176.4" cy="141.8" r="3.5"/><circle cx="151.5" cy="193.1" r="3.5"/><circle cx="157.7" cy="75.8" r="3.5"/><circle cx="138.2" cy="126.0" r="3.5"/><circle cx="205.2" cy="144.8" r="3.5"/><circle cx="126.0" cy="140.6" r="3.5"/><circle cx="178.4" cy="153.5" r="3.5"/><circle cx="177.6" cy="148.6" r="3.5"/><circle cx="151.6" cy="147.1" r="3.5"/><circle cx="159.0" cy="100.9" r="3.5"/><circle cx="227.2" cy="174.1" r="3.5"/><circle cx="126.4" cy="169.9" r="3.5"/><circle cx="104.6" cy="158.5" r="3.5"/><circle cx="185.7" cy="160.3" r="3.5"/><circle cx="145.6" cy="159.2" r="3.5"/><circle cx="154.4" cy="84.5" r="3.5"/><circle cx="133.7" cy="188.1" r="3.5"/><circle cx="118.5" cy="166.6" r="3.5"/><circle cx="164.4" cy="141.6" r="3.5"/><circle cx="150.1" cy="104.3" r="3.5"/><circle cx="166.3" cy="117.7" r="3.5"/><circle cx="70.3" cy="154.1" r="3.5"/><circle cx="68.0" cy="151.1" r="3.5"/><circle cx="218.7" cy="169.8" r="3.5"/><circle cx="150.6" cy="96.2" r="3.5"/><circle cx="149.6" cy="98.4" r="3.5"/><circle cx="88.8" cy="162.2" r="3.5"/><circle cx="168.5" cy="153.8" r="3.5"/><circle cx="127.8" cy="101.6" r="3.5"/><circle cx="47.0" cy="155.7" r="3.5"/><circle cx="226.0" cy="165.4" r="3.5"/><circle cx="140.8" cy="135.5" r="3.5"/><circle cx="177.8" cy="141.3" r="3.5"/><circle cx="161.3" cy="87.0" r="3.5"/><circle cx="149.9" cy="157.6" r="3.5"/><circle cx="132.7" cy="113.3" r="3.5"/><circle cx="161.0" cy="121.4" r="3.5"/><circle cx="134.3" cy="130.5" r="3.5"/><circle cx="156.5" cy="90.8" r="3.5"/><circle cx="157.5" cy="107.6" r="3.5"/><circle cx="151.1" cy="110.6" r="3.5"/><circle cx="139.3" cy="125.4" r="3.5"/><circle cx="168.6" cy="124.2" r="3.5"/><circle cx="158.4" cy="144.6" r="3.5"/><circle cx="153.8" cy="74.2" r="3.5"/><circle cx="158.8" cy="141.2" r="3.5"/><circle cx="127.2" cy="111.2" r="3.5"/><circle cx="126.6" cy="131.4" r="3.5"/><circle cx="163.1" cy="131.9" r="3.5"/><circle cx="174.5" cy="117.9" r="3.5"/><circle cx="147.1" cy="124.6" r="3.5"/><circle cx="151.1" cy="164.2" r="3.5"/><circle cx="136.2" cy="135.5" r="3.5"/><circle cx="129.2" cy="108.6" r="3.5"/><circle cx="124.3" cy="132.5" r="3.5"/><circle cx="128.9" cy="132.0" r="3.5"/><circle cx="126.6" cy="123.6" r="3.5"/><circle cx="183.5" cy="149.0" r="3.5"/><circle cx="182.0" cy="145.2" r="3.5"/><circle cx="128.2" cy="147.7" r="3.5"/><circle cx="128.2" cy="140.8" r="3.5"/><circle cx="118.9" cy="135.5" r="3.5"/><circle cx="176.9" cy="122.2" r="3.5"/><circle cx="183.0" cy="155.3" r="3.5"/><circle cx="164.2" cy="113.3" r="3.5"/><circle cx="141.8" cy="137.8" r="3.5"/><circle cx="138.5" cy="135.8" r="3.5"/><circle cx="155.1" cy="109.2" r="3.5"/><circle cx="166.3" cy="112.3" r="3.5"/><circle cx="172.2" cy="129.1" r="3.5"/><circle cx="147.7" cy="129.2" r="3.5"/><circle cx="151.1" cy="119.1" r="3.5"/><circle cx="141.8" cy="119.0" r="3.5"/><circle cx="183.4" cy="149.2" r="3.5"/><circle cx="171.3" cy="151.3" r="3.5"/><circle cx="138.7" cy="123.1" r="3.5"/><circle cx="180.7" cy="146.0" r="3.5"/><circle cx="143.1" cy="109.7" r="3.5"/><circle cx="143.3" cy="127.0" r="3.5"/><circle cx="148.6" cy="76.9" r="3.5"/><circle cx="146.6" cy="129.3" r="3.5"/><circle cx="150.4" cy="118.4" r="3.5"/><circle cx="152.1" cy="109.2" r="3.5"/><circle cx="174.2" cy="114.7" r="3.5"/><circle cx="131.9" cy="122.0" r="3.5"/><circle cx="140.1" cy="121.7" r="3.5"/><circle cx="150.3" cy="139.5" r="3.5"/><circle cx="168.8" cy="106.4" r="3.5"/><circle cx="179.5" cy="142.7" r="3.5"/><circle cx="158.2" cy="95.9" r="3.5"/><circle cx="113.0" cy="143.1" r="3.5"/><circle cx="138.6" cy="122.5" r="3.5"/><circle cx="166.3" cy="125.1" r="3.5"/><circle cx="160.1" cy="138.6" r="3.5"/><circle cx="139.6" cy="154.2" r="3.5"/><circle cx="176.5" cy="137.2" r="3.5"/><circle cx="139.9" cy="90.0" r="3.5"/><circle cx="160.6" cy="104.3" r="3.5"/><circle cx="137.3" cy="96.5" r="3.5"/><circle cx="134.4" cy="149.0" r="3.5"/><circle cx="167.7" cy="113.6" r="3.5"/><circle cx="160.4" cy="120.8" r="3.5"/><circle cx="140.7" cy="101.0" r="3.5"/><circle cx="141.8" cy="113.9" r="3.5"/><circle cx="148.4" cy="114.2" r="3.5"/><circle cx="175.1" cy="139.4" r="3.5"/><circle cx="157.0" cy="135.1" r="3.5"/><circle cx="118.4" cy="147.5" r="3.5"/><circle cx="138.0" cy="100.5" r="3.5"/><circle cx="150.4" cy="86.0" r="3.5"/><circle cx="113.8" cy="143.0" r="3.5"/><circle cx="131.6" cy="114.7" r="3.5"/><circle cx="145.5" cy="122.2" r="3.5"/><circle cx="123.1" cy="141.2" r="3.5"/><circle cx="148.8" cy="98.4" r="3.5"/><circle cx="155.2" cy="99.0" r="3.5"/><circle cx="127.8" cy="135.5" r="3.5"/><circle cx="148.4" cy="100.6" r="3.5"/><circle cx="134.5" cy="158.0" r="3.5"/><circle cx="121.3" cy="127.2" r="3.5"/><circle cx="138.2" cy="127.8" r="3.5"/><circle cx="143.4" cy="94.6" r="3.5"/><circle cx="129.7" cy="106.2" r="3.5"/><circle cx="138.4" cy="147.3" r="3.5"/><circle cx="133.9" cy="108.5" r="3.5"/><circle cx="124.2" cy="107.9" r="3.5"/><circle cx="176.7" cy="129.7" r="3.5"/><circle cx="115.5" cy="151.6" r="3.5"/><circle cx="119.8" cy="134.4" r="3.5"/><circle cx="118.6" cy="123.6" r="3.5"/><circle cx="158.2" cy="90.6" r="3.5"/><circle cx="158.1" cy="144.4" r="3.5"/><circle cx="153.2" cy="100.5" r="3.5"/><circle cx="119.6" cy="137.5" r="3.5"/><circle cx="133.7" cy="115.6" r="3.5"/><circle cx="141.0" cy="107.2" r="3.5"/><circle cx="139.2" cy="83.1" r="3.5"/><circle cx="153.8" cy="74.6" r="3.5"/><circle cx="188.9" cy="151.8" r="3.5"/><circle cx="137.6" cy="95.2" r="3.5"/><circle cx="125.1" cy="138.2" r="3.5"/><circle cx="166.9" cy="129.2" r="3.5"/><circle cx="116.6" cy="133.8" r="3.5"/><circle cx="122.3" cy="159.7" r="3.5"/><circle cx="136.1" cy="166.6" r="3.5"/><circle cx="158.1" cy="93.6" r="3.5"/><circle cx="132.9" cy="116.6" r="3.5"/><circle cx="130.4" cy="127.2" r="3.5"/><circle cx="137.6" cy="148.0" r="3.5"/><circle cx="134.7" cy="128.5" r="3.5"/><circle cx="149.9" cy="130.2" r="3.5"/><circle cx="165.1" cy="99.2" r="3.5"/><circle cx="152.3" cy="115.6" r="3.5"/><circle cx="156.9" cy="133.9" r="3.5"/><circle cx="161.7" cy="106.4" r="3.5"/><circle cx="152.2" cy="117.8" r="3.5"/><circle cx="174.4" cy="126.7" r="3.5"/><circle cx="120.0" cy="120.0" r="3.5"/><circle cx="40.4" cy="161.6" r="3.5"/><circle cx="45.5" cy="154.4" r="3.5"/><circle cx="51.8" cy="154.4" r="3.5"/><circle cx="55.2" cy="165.3" r="3.5"/><circle cx="60.2" cy="151.9" r="3.5"/><circle cx="64.4" cy="159.4" r="3.5"/><circle cx="68.3" cy="145.2" r="3.5"/><circle cx="65.3" cy="165.3" r="3.5"/><circle cx="71.1" cy="160.3" r="3.5"/><circle cx="73.7" cy="153.6" r="3.5"/><circle cx="79.5" cy="151.9" r="3.5"/><circle cx="82.9" cy="147.7" r="3.5"/><circle cx="86.2" cy="157.2" r="3.5"/><circle cx="84.6" cy="165.3" r="3.5"/><circle cx="91.3" cy="153.6" r="3.5"/><circle cx="94.1" cy="160.3" r="3.5"/><circle cx="103.0" cy="149.4" r="3.5"/><circle cx="99.7" cy="159.4" r="3.5"/><circle cx="105.5" cy="167.0" r="3.5"/><circle cx="108.9" cy="156.9" r="3.5"/><circle cx="114.8" cy="153.6" r="3.5"/><circle cx="89.6" cy="172.0" r="3.5"/><circle cx="96.3" cy="173.7" r="3.5"/><circle cx="68.6" cy="178.7" r="3.5"/><circle cx="73.7" cy="181.2" r="3.5"/><circle cx="93.8" cy="185.4" r="3.5"/><circle cx="89.6" cy="194.7" r="3.5"/><circle cx="98.8" cy="197.2" r="3.5"/><circle cx="105.5" cy="193.0" r="3.5"/><circle cx="118.1" cy="123.4" r="3.5"/><circle cx="122.3" cy="124.2" r="3.5"/><circle cx="116.4" cy="130.0" r="3.5"/><circle cx="121.5" cy="141.8" r="3.5"/><circle cx="116.4" cy="147.7" r="3.5"/><circle cx="118.1" cy="165.3" r="3.5"/><circle cx="121.5" cy="170.3" r="3.5"/><circle cx="116.4" cy="188.8" r="3.5"/><circle cx="121.5" cy="193.8" r="3.5"/><circle cx="121.5" cy="178.7" r="3.5"/><circle cx="112.2" cy="170.3" r="3.5"/><circle cx="153.6" cy="73.1" r="3.5"/><circle cx="149.4" cy="74.3" r="3.5"/><circle cx="146.0" cy="80.1" r="3.5"/><circle cx="137.7" cy="81.8" r="3.5"/><circle cx="144.4" cy="85.2" r="3.5"/><circle cx="154.4" cy="89.4" r="3.5"/><circle cx="131.0" cy="90.2" r="3.5"/><circle cx="136.8" cy="92.7" r="3.5"/><circle cx="130.1" cy="96.1" r="3.5"/><circle cx="141.8" cy="96.1" r="3.5"/><circle cx="149.4" cy="96.1" r="3.5"/><circle cx="162.8" cy="96.9" r="3.5"/><circle cx="159.5" cy="94.4" r="3.5"/><circle cx="134.3" cy="100.3" r="3.5"/><circle cx="141.8" cy="103.6" r="3.5"/><circle cx="156.1" cy="103.6" r="3.5"/><circle cx="168.7" cy="104.5" r="3.5"/><circle cx="134.3" cy="108.7" r="3.5"/><circle cx="147.7" cy="108.7" r="3.5"/><circle cx="162.8" cy="107.8" r="3.5"/><circle cx="146.9" cy="113.7" r="3.5"/><circle cx="158.6" cy="113.7" r="3.5"/><circle cx="170.4" cy="112.9" r="3.5"/><circle cx="123.4" cy="115.4" r="3.5"/><circle cx="131.8" cy="117.9" r="3.5"/><circle cx="145.2" cy="120.4" r="3.5"/><circle cx="156.1" cy="120.4" r="3.5"/><circle cx="168.7" cy="122.1" r="3.5"/><circle cx="180.4" cy="122.1" r="3.5"/><circle cx="121.7" cy="124.6" r="3.5"/><circle cx="132.6" cy="125.4" r="3.5"/><circle cx="141.8" cy="126.3" r="3.5"/><circle cx="153.6" cy="128.8" r="3.5"/><circle cx="160.3" cy="126.3" r="3.5"/><circle cx="172.0" cy="128.0" r="3.5"/><circle cx="181.3" cy="132.1" r="3.5"/><circle cx="189.7" cy="133.0" r="3.5"/><circle cx="130.1" cy="133.0" r="3.5"/><circle cx="146.0" cy="134.7" r="3.5"/><circle cx="160.3" cy="135.5" r="3.5"/><circle cx="176.2" cy="136.3" r="3.5"/><circle cx="197.2" cy="138.0" r="3.5"/><circle cx="123.4" cy="136.3" r="3.5"/><circle cx="138.5" cy="134.7" r="3.5"/><circle cx="171.7" cy="113.4" r="3.5"/><circle cx="180.9" cy="121.7" r="3.5"/><circle cx="171.7" cy="122.6" r="3.5"/><circle cx="185.1" cy="127.6" r="3.5"/><circle cx="177.6" cy="130.1" r="3.5"/><circle cx="190.1" cy="133.5" r="3.5"/><circle cx="181.7" cy="133.5" r="3.5"/><circle cx="176.7" cy="136.8" r="3.5"/><circle cx="196.0" cy="140.2" r="3.5"/><circle cx="170.8" cy="141.9" r="3.5"/><circle cx="180.1" cy="147.8" r="3.5"/><circle cx="184.3" cy="152.0" r="3.5"/><circle cx="194.3" cy="154.5" r="3.5"/><circle cx="204.4" cy="157.0" r="3.5"/><circle cx="191.0" cy="160.3" r="3.5"/><circle cx="200.2" cy="163.7" r="3.5"/><circle cx="190.1" cy="164.5" r="3.5"/><circle cx="222.0" cy="166.2" r="3.5"/><circle cx="232.1" cy="167.0" r="3.5"/><circle cx="201.9" cy="171.2" r="3.5"/><circle cx="213.6" cy="172.9" r="3.5"/><circle cx="222.9" cy="172.1" r="3.5"/><circle cx="238.8" cy="171.2" r="3.5"/><circle cx="247.2" cy="168.7" r="3.5"/><circle cx="254.7" cy="172.9" r="3.5"/><circle cx="209.4" cy="175.4" r="3.5"/><circle cx="175.9" cy="176.3" r="3.5"/><circle cx="184.3" cy="176.3" r="3.5"/><circle cx="217.0" cy="178.8" r="3.5"/><circle cx="224.5" cy="178.8" r="3.5"/><circle cx="236.3" cy="181.3" r="3.5"/><circle cx="243.8" cy="178.8" r="3.5"/><circle cx="200.2" cy="181.3" r="3.5"/><circle cx="202.7" cy="185.5" r="3.5"/><circle cx="210.3" cy="184.7" r="3.5"/><circle cx="170.0" cy="170.4" r="3.5"/><circle cx="135.2" cy="141.7" r="3.5"/><circle cx="125.1" cy="146.7" r="3.5"/><circle cx="152.8" cy="143.4" r="3.5"/><circle cx="166.2" cy="140.0" r="3.5"/><circle cx="176.3" cy="137.5" r="3.5"/><circle cx="196.4" cy="140.9" r="3.5"/><circle cx="115.0" cy="153.5" r="3.5"/><circle cx="141.0" cy="151.8" r="3.5"/><circle cx="153.6" cy="150.9" r="3.5"/><circle cx="167.0" cy="147.6" r="3.5"/><circle cx="183.0" cy="151.8" r="3.5"/><circle cx="193.9" cy="154.3" r="3.5"/><circle cx="204.0" cy="156.8" r="3.5"/><circle cx="130.1" cy="159.3" r="3.5"/><circle cx="159.5" cy="156.8" r="3.5"/><circle cx="163.7" cy="160.2" r="3.5"/><circle cx="189.7" cy="163.5" r="3.5"/><circle cx="136.0" cy="165.2" r="3.5"/><circle cx="162.0" cy="165.2" r="3.5"/><circle cx="116.7" cy="165.2" r="3.5"/><circle cx="145.2" cy="170.2" r="3.5"/><circle cx="152.0" cy="167.7" r="3.5"/><circle cx="168.7" cy="170.2" r="3.5"/><circle cx="201.4" cy="171.1" r="3.5"/><circle cx="129.3" cy="171.9" r="3.5"/><circle cx="139.4" cy="175.3" r="3.5"/><circle cx="149.4" cy="175.3" r="3.5"/><circle cx="160.3" cy="177.8" r="3.5"/><circle cx="175.4" cy="176.1" r="3.5"/><circle cx="184.7" cy="176.1" r="3.5"/><circle cx="122.6" cy="177.8" r="3.5"/><circle cx="131.0" cy="182.0" r="3.5"/><circle cx="201.4" cy="177.0" r="3.5"/><circle cx="201.4" cy="186.2" r="3.5"/><circle cx="147.8" cy="187.0" r="3.5"/><circle cx="115.0" cy="188.7" r="3.5"/><circle cx="125.1" cy="190.4" r="3.5"/><circle cx="123.4" cy="194.6" r="3.5"/><circle cx="146.1" cy="190.4" r="3.5"/><circle cx="193.9" cy="196.2" r="3.5"/><circle cx="138.5" cy="199.6" r="3.5"/><circle cx="130.1" cy="201.3" r="3.5"/><circle cx="115.9" cy="202.1" r="3.5"/><circle cx="122.6" cy="201.3" r="3.5"/><circle cx="148.6" cy="198.8" r="3.5"/><circle cx="152.8" cy="203.8" r="3.5"/><circle cx="157.8" cy="202.1" r="3.5"/><circle cx="171.2" cy="203.8" r="3.5"/><circle cx="115.0" cy="208.8" r="3.5"/><circle cx="122.5" cy="178.4" r="3.5"/><circle cx="131.2" cy="181.7" r="3.5"/><circle cx="105.7" cy="193.1" r="3.5"/><circle cx="99.0" cy="197.1" r="3.5"/><circle cx="115.1" cy="189.1" r="3.5"/><circle cx="125.2" cy="189.1" r="3.5"/><circle cx="123.2" cy="193.8" r="3.5"/><circle cx="131.9" cy="191.8" r="3.5"/><circle cx="115.8" cy="201.8" r="3.5"/><circle cx="121.8" cy="201.2" r="3.5"/><circle cx="130.6" cy="201.2" r="3.5"/><circle cx="138.0" cy="199.2" r="3.5"/><circle cx="115.1" cy="208.6" r="3.5"/><circle cx="147.3" cy="187.1" r="3.5"/><circle cx="148.7" cy="197.8" r="3.5"/><circle cx="152.7" cy="203.2" r="3.5"/><circle cx="157.4" cy="200.5" r="3.5"/><circle cx="171.5" cy="203.9" r="3.5"/><circle cx="139.3" cy="177.0" r="3.5"/><circle cx="149.4" cy="176.3" r="3.5"/><circle cx="160.1" cy="178.4" r="3.5"/></g><path d="M118.34 225.42L118.67 226.99M124.38 224.12L124.72 225.68M130.43 222.82L130.77 224.38M136.47 221.52L136.81 223.08M142.52 220.22L142.86 221.78M148.57 218.91L148.9 220.48M154.61 217.61L154.95 219.18M160.66 216.31L160.99 217.88M166.7 215.01L167.04 216.57M172.75 213.71L173.08 215.27M178.79 212.41L179.13 213.97M184.84 211.11L185.18 212.67M190.88 209.8L191.22 211.37M196.93 208.5L197.27 210.07M202.98 207.2L203.31 208.77M209.02 205.9L209.36 207.46M215.07 204.6L215.4 206.16M221.11 203.3L221.45 204.86M227.16 202L227.49 203.56M233.2 200.69L233.54 202.26M239.25 199.39L239.59 200.96M245.29 198.09L245.63 199.66M251.34 196.79L251.68 198.35M257.39 195.49L257.72 197.05M263.43 194.19L263.77 195.75M118.34 225.42L119.01 228.55M142.52 220.22L143.19 223.34M166.7 215.01L167.38 218.14M190.88 209.8L191.56 212.93M215.07 204.6L215.74 207.73M239.25 199.39L239.92 202.52M263.43 194.19L264.1 197.32M118.34 225.42L117.47 226.77M114.85 223.17L113.98 224.51M111.36 220.91L110.49 222.26M107.87 218.66L107 220M104.38 216.4L103.51 217.75M100.89 214.15L100.02 215.49M97.4 211.9L96.53 213.24M93.9 209.64L93.04 210.99M90.41 207.39L89.55 208.73M86.92 205.13L86.06 206.48M83.43 202.88L82.57 204.22M79.94 200.63L79.08 201.97M76.45 198.37L75.58 199.72M72.96 196.12L72.09 197.46M69.47 193.86L68.6 195.21M65.98 191.61L65.11 192.95M62.49 189.36L61.62 190.7M59 187.1L58.13 188.45M55.51 184.85L54.64 186.19M52.02 182.59L51.15 183.94M48.53 180.34L47.66 181.68M45.04 178.09L44.17 179.43M41.55 175.83L40.68 177.18M38.06 173.58L37.19 174.92M34.57 171.32L33.7 172.67M118.34 225.42L116.6 228.11M104.38 216.4L102.64 219.09M90.41 207.39L88.68 210.08M76.45 198.37L74.72 201.06M62.49 189.36L60.76 192.04M48.53 180.34L46.79 183.03M34.57 171.32L32.83 174.01" stroke="#000" stroke-width="1" fill="none" shape-rendering="crispEdges"/><text x="119.24" y="237.02" font-size="7.8" text-anchor="middle" fill="#000" stroke="#000" stroke-width="0.176">−6</text><text x="143.42" y="231.82" font-size="7.8" text-anchor="middle" fill="#000" stroke="#000" stroke-width="0.176">−4</text><text x="167.6" y="226.61" font-size="7.8" text-anchor="middle" fill="#000" stroke="#000" stroke-width="0.176">−2</text><text x="192.48" y="221.4" font-size="7.8" text-anchor="middle" fill="#000" stroke="#000" stroke-width="0.176">0</text><text x="216.67" y="216.2" font-size="7.8" text-anchor="middle" fill="#000" stroke="#000" stroke-width="0.176">2</text><text x="240.85" y="210.99" font-size="7.8" text-anchor="middle" fill="#000" stroke="#000" stroke-width="0.176">4</text><text x="265.03" y="205.79" font-size="7.8" text-anchor="middle" fill="#000" stroke="#000" stroke-width="0.176">6</text><text x="108.84" y="235.42" font-size="7.8" text-anchor="middle" fill="#000" stroke="#000" stroke-width="0.176">−6</text><text x="94.88" y="226.4" font-size="7.8" text-anchor="middle" fill="#000" stroke="#000" stroke-width="0.176">−4</text><text x="80.91" y="217.39" font-size="7.8" text-anchor="middle" fill="#000" stroke="#000" stroke-width="0.176">−2</text><text x="66.95" y="208.37" font-size="7.8" text-anchor="middle" fill="#000" stroke="#000" stroke-width="0.176">0</text><text x="52.99" y="199.36" font-size="7.8" text-anchor="middle" fill="#000" stroke="#000" stroke-width="0.176">2</text><text x="39.03" y="190.34" font-size="7.8" text-anchor="middle" fill="#000" stroke="#000" stroke-width="0.176">4</text><text x="25.07" y="181.32" font-size="7.8" text-anchor="middle" fill="#000" stroke="#000" stroke-width="0.176">6</text><text x="50" y="19.1" font-size="10" textLength="196" lengthAdjust="spacingAndGlyphs" fill="#000" stroke="#000" stroke-width="0.33">Original function with Graph2D points on top</text><polyline points="34.57,428.66 179.66,397.42 263.43,451.52" fill="none" stroke="#000" stroke-width="1" stroke-dasharray="1.5 1.9" shape-rendering="crispEdges"/><polyline points="34.57,413.44 179.66,382.21 263.43,436.3" fill="none" stroke="#000" stroke-width="1" stroke-dasharray="1.5 1.9" shape-rendering="crispEdges"/><polyline points="34.57,398.22 179.66,366.99 263.43,421.09" fill="none" stroke="#000" stroke-width="1" stroke-dasharray="1.5 1.9" shape-rendering="crispEdges"/><polyline points="34.57,383.01 179.66,351.77 263.43,405.87" fill="none" stroke="#000" stroke-width="1" stroke-dasharray="1.5 1.9" shape-rendering="crispEdges"/><polyline points="34.57,367.79 179.66,336.55 263.43,390.65" fill="none" stroke="#000" stroke-width="1" stroke-dasharray="1.5 1.9" shape-rendering="crispEdges"/><polyline points="34.57,352.57 179.66,321.34 263.43,375.43" fill="none" stroke="#000" stroke-width="1" stroke-dasharray="1.5 1.9" shape-rendering="crispEdges"/><polyline points="34.57,337.35 179.66,306.12 263.43,360.22" fill="none" stroke="#000" stroke-width="1" stroke-dasharray="1.5 1.9" shape-rendering="crispEdges"/><polyline points="34.57,322.14 179.66,290.9 263.43,345" fill="none" stroke="#000" stroke-width="1" stroke-dasharray="1.5 1.9" shape-rendering="crispEdges"/><polyline points="34.57,428.66 34.57,320.46" fill="none" stroke="#000" stroke-width="1" shape-rendering="crispEdges"/><polyline points="179.66,397.42 179.66,289.23" fill="none" stroke="#000" stroke-width="1" shape-rendering="crispEdges"/><polyline points="263.43,451.52 263.43,343.33" fill="none" stroke="#000" stroke-width="1" shape-rendering="crispEdges"/><polyline points="34.57,320.46 179.66,289.23 263.43,343.33" fill="none" stroke="#000" stroke-width="1" shape-rendering="crispEdges"/><polyline points="34.57,428.66 179.66,397.42 263.43,451.52" fill="none" stroke="#000" stroke-width="1" shape-rendering="crispEdges"/><path d="M32.27 428.66L34.57 428.66M32.27 424.85L34.57 424.85M32.27 421.05L34.57 421.05M32.27 417.24L34.57 417.24M32.27 413.44L34.57 413.44M32.27 409.64L34.57 409.64M32.27 405.83L34.57 405.83M32.27 402.03L34.57 402.03M32.27 398.22L34.57 398.22M32.27 394.42L34.57 394.42M32.27 390.61L34.57 390.61M32.27 386.81L34.57 386.81M32.27 383.01L34.57 383.01M32.27 379.2L34.57 379.2M32.27 375.4L34.57 375.4M32.27 371.59L34.57 371.59M32.27 367.79L34.57 367.79M32.27 363.98L34.57 363.98M32.27 360.18L34.57 360.18M32.27 356.37L34.57 356.37M32.27 352.57L34.57 352.57M32.27 348.77L34.57 348.77M32.27 344.96L34.57 344.96M32.27 341.16L34.57 341.16M32.27 337.35L34.57 337.35M32.27 333.55L34.57 333.55M32.27 329.74L34.57 329.74M32.27 325.94L34.57 325.94M32.27 322.14L34.57 322.14M29.97 428.66L34.57 428.66M29.97 413.44L34.57 413.44M29.97 398.22L34.57 398.22M29.97 383.01L34.57 383.01M29.97 367.79L34.57 367.79M29.97 352.57L34.57 352.57M29.97 337.35L34.57 337.35M29.97 322.14L34.57 322.14" stroke="#000" stroke-width="1" fill="none" shape-rendering="crispEdges"/><text x="29.67" y="431.26" font-size="8" text-anchor="end" fill="#000" stroke="#000" stroke-width="0.19">0</text><text x="29.67" y="416.04" font-size="8" text-anchor="end" fill="#000" stroke="#000" stroke-width="0.19">200</text><text x="29.67" y="400.82" font-size="8" text-anchor="end" fill="#000" stroke="#000" stroke-width="0.19">400</text><text x="29.67" y="385.61" font-size="8" text-anchor="end" fill="#000" stroke="#000" stroke-width="0.19">600</text><text x="29.67" y="370.39" font-size="8" text-anchor="end" fill="#000" stroke="#000" stroke-width="0.19">800</text><text x="29.67" y="355.17" font-size="8" text-anchor="end" fill="#000" stroke="#000" stroke-width="0.19">1000</text><text x="29.67" y="339.95" font-size="8" text-anchor="end" fill="#000" stroke="#000" stroke-width="0.19">1200</text><text x="29.67" y="324.74" font-size="8" text-anchor="end" fill="#000" stroke="#000" stroke-width="0.19">1400</text><polyline points="34.57,428.66 118.34,482.75 263.43,451.52" fill="none" stroke="#000" stroke-width="1" shape-rendering="crispEdges"/><g stroke-width="0.5" stroke-linejoin="round"><path d="M177.4 400.6L181.0 399.8L178.9 398.5L175.3 399.3Z" fill="#758c9f" stroke="#758c9f"/><path d="M173.7 401.4L177.4 400.6L175.3 399.3L171.6 400.1Z" fill="#758c9f" stroke="#758c9f"/><path d="M170.1 402.2L173.7 401.4L171.6 400.1L168.0 400.8Z" fill="#758c9f" stroke="#758c9f"/><path d="M166.5 403.0L170.1 402.2L168.0 400.8L164.4 401.6Z" fill="#758c9f" stroke="#758c9f"/><path d="M162.9 403.7L166.5 403.0L164.4 401.6L160.8 402.4Z" fill="#758c9f" stroke="#758c9f"/><path d="M159.2 404.5L162.9 403.7L160.8 402.4L157.1 403.2Z" fill="#758c9f" stroke="#758c9f"/><path d="M155.6 405.3L159.2 404.5L157.1 403.2L153.5 404.0Z" fill="#758c9f" stroke="#758c9f"/><path d="M152.0 406.1L155.6 405.3L153.5 404.0L149.9 404.7Z" fill="#758c9f" stroke="#758c9f"/><path d="M148.3 406.9L152.0 406.1L149.9 404.7L146.2 405.5Z" fill="#758c9f" stroke="#758c9f"/><path d="M144.7 407.7L148.3 406.9L146.2 405.5L142.6 406.3Z" fill="#758c9f" stroke="#758c9f"/><path d="M141.1 408.4L144.7 407.7L142.6 406.3L139.0 407.1Z" fill="#758c9f" stroke="#758c9f"/><path d="M137.5 409.2L141.1 408.4L139.0 407.1L135.4 407.9Z" fill="#758c9f" stroke="#758c9f"/><path d="M133.8 410.0L137.5 409.2L135.4 407.9L131.7 408.6Z" fill="#758c9f" stroke="#758c9f"/><path d="M130.2 410.8L133.8 410.0L131.7 408.6L128.1 409.4Z" fill="#758c9f" stroke="#758c9f"/><path d="M126.6 411.6L130.2 410.8L128.1 409.4L124.5 410.2Z" fill="#758c9f" stroke="#758c9f"/><path d="M123.0 412.3L126.6 411.6L124.5 410.2L120.9 411.0Z" fill="#758c9f" stroke="#758c9f"/><path d="M119.3 413.1L123.0 412.3L120.9 411.0L117.2 411.8Z" fill="#758c9f" stroke="#758c9f"/><path d="M115.7 413.9L119.3 413.1L117.2 411.8L113.6 412.5Z" fill="#758c9f" stroke="#758c9f"/><path d="M112.1 414.7L115.7 413.9L113.6 412.5L110.0 413.3Z" fill="#758c9f" stroke="#758c9f"/><path d="M108.4 415.5L112.1 414.7L110.0 413.3L106.3 414.1Z" fill="#758c9f" stroke="#758c9f"/><path d="M104.8 416.2L108.4 415.5L106.3 414.1L102.7 414.9Z" fill="#758c9f" stroke="#758c9f"/><path d="M101.2 417.0L104.8 416.2L102.7 414.9L99.1 415.7Z" fill="#758c9f" stroke="#758c9f"/><path d="M97.6 417.8L101.2 417.0L99.1 415.7L95.5 416.4Z" fill="#758c9f" stroke="#758c9f"/><path d="M93.9 418.6L97.6 417.8L95.5 416.4L91.8 417.2Z" fill="#758c9f" stroke="#758c9f"/><path d="M90.3 419.4L93.9 418.6L91.8 417.2L88.2 418.0Z" fill="#758c9f" stroke="#758c9f"/><path d="M86.7 420.1L90.3 419.4L88.2 418.0L84.6 418.8Z" fill="#758c9f" stroke="#758c9f"/><path d="M83.1 420.9L86.7 420.1L84.6 418.8L81.0 419.6Z" fill="#758c9f" stroke="#758c9f"/><path d="M79.4 421.7L83.1 420.9L81.0 419.6L77.3 420.4Z" fill="#758c9f" stroke="#758c9f"/><path d="M75.8 422.5L79.4 421.7L77.3 420.4L73.7 421.1Z" fill="#758c9f" stroke="#758c9f"/><path d="M72.2 423.3L75.8 422.5L73.7 421.1L70.1 421.9Z" fill="#758c9f" stroke="#758c9f"/><path d="M68.5 424.0L72.2 423.3L70.1 421.9L66.4 422.7Z" fill="#758c9f" stroke="#758c9f"/><path d="M64.9 424.8L68.5 424.0L66.4 422.7L62.8 423.5Z" fill="#758c9f" stroke="#758c9f"/><path d="M61.3 425.6L64.9 424.8L62.8 423.5L59.2 424.3Z" fill="#758c9f" stroke="#758c9f"/><path d="M57.7 426.4L61.3 425.6L59.2 424.3L55.6 425.0Z" fill="#758c9f" stroke="#758c9f"/><path d="M54.0 427.2L57.7 426.4L55.6 425.0L51.9 425.8Z" fill="#758c9f" stroke="#758c9f"/><path d="M50.4 428.0L54.0 427.2L51.9 425.8L48.3 426.6Z" fill="#758c9f" stroke="#758c9f"/><path d="M46.8 428.7L50.4 428.0L48.3 426.6L44.7 427.4Z" fill="#758c9f" stroke="#758c9f"/><path d="M43.2 429.5L46.8 428.7L44.7 427.4L41.1 428.2Z" fill="#758c9f" stroke="#758c9f"/><path d="M39.5 430.3L43.2 429.5L41.1 428.2L37.4 428.9Z" fill="#758c9f" stroke="#758c9f"/><path d="M179.5 402.0L183.1 401.2L181.0 399.8L177.4 400.6Z" fill="#758c9f" stroke="#758c9f"/><path d="M175.8 402.8L179.5 402.0L177.4 400.6L173.7 401.4Z" fill="#758c9f" stroke="#758c9f"/><path d="M172.2 403.5L175.8 402.8L173.7 401.4L170.1 402.2Z" fill="#758c9f" stroke="#758c9f"/><path d="M168.6 404.3L172.2 403.5L170.1 402.2L166.5 403.0Z" fill="#758c9f" stroke="#758c9f"/><path d="M164.9 405.1L168.6 404.3L166.5 403.0L162.9 403.7Z" fill="#758c9f" stroke="#758c9f"/><path d="M161.3 405.9L164.9 405.1L162.9 403.7L159.2 404.5Z" fill="#758c9f" stroke="#758c9f"/><path d="M157.7 406.7L161.3 405.9L159.2 404.5L155.6 405.3Z" fill="#758c9f" stroke="#758c9f"/><path d="M154.1 407.4L157.7 406.7L155.6 405.3L152.0 406.1Z" fill="#758c9f" stroke="#758c9f"/><path d="M150.4 408.2L154.1 407.4L152.0 406.1L148.3 406.9Z" fill="#758c9f" stroke="#758c9f"/><path d="M146.8 409.0L150.4 408.2L148.3 406.9L144.7 407.7Z" fill="#758c9f" stroke="#758c9f"/><path d="M143.2 409.8L146.8 409.0L144.7 407.7L141.1 408.4Z" fill="#758c9f" stroke="#758c9f"/><path d="M139.6 410.6L143.2 409.8L141.1 408.4L137.5 409.2Z" fill="#758c9f" stroke="#758c9f"/><path d="M135.9 411.3L139.6 410.6L137.5 409.2L133.8 410.0Z" fill="#758c9f" stroke="#758c9f"/><path d="M132.3 412.1L135.9 411.3L133.8 410.0L130.2 410.8Z" fill="#758c9f" stroke="#758c9f"/><path d="M128.7 412.9L132.3 412.1L130.2 410.8L126.6 411.6Z" fill="#758c9f" stroke="#758c9f"/><path d="M125.0 413.7L128.7 412.9L126.6 411.6L123.0 412.3Z" fill="#758c9f" stroke="#758c9f"/><path d="M121.4 414.5L125.0 413.7L123.0 412.3L119.3 413.1Z" fill="#758c9f" stroke="#758c9f"/><path d="M117.8 415.3L121.4 414.5L119.3 413.1L115.7 413.9Z" fill="#758c9f" stroke="#758c9f"/><path d="M114.2 416.0L117.8 415.3L115.7 413.9L112.1 414.7Z" fill="#758c9f" stroke="#758c9f"/><path d="M110.5 416.8L114.2 416.0L112.1 414.7L108.4 415.5Z" fill="#758c9f" stroke="#758c9f"/><path d="M106.9 417.6L110.5 416.8L108.4 415.5L104.8 416.2Z" fill="#758c9f" stroke="#758c9f"/><path d="M103.3 418.4L106.9 417.6L104.8 416.2L101.2 417.0Z" fill="#758c9f" stroke="#758c9f"/><path d="M99.7 419.2L103.3 418.4L101.2 417.0L97.6 417.8Z" fill="#758c9f" stroke="#758c9f"/><path d="M96.0 419.9L99.7 419.2L97.6 417.8L93.9 418.6Z" fill="#758c9f" stroke="#758c9f"/><path d="M92.4 420.7L96.0 419.9L93.9 418.6L90.3 419.4Z" fill="#758c9f" stroke="#758c9f"/><path d="M88.8 421.5L92.4 420.7L90.3 419.4L86.7 420.1Z" fill="#758c9f" stroke="#758c9f"/><path d="M85.1 422.3L88.8 421.5L86.7 420.1L83.1 420.9Z" fill="#758c9f" stroke="#758c9f"/><path d="M81.5 423.1L85.1 422.3L83.1 420.9L79.4 421.7Z" fill="#758c9f" stroke="#758c9f"/><path d="M77.9 423.8L81.5 423.1L79.4 421.7L75.8 422.5Z" fill="#758c9f" stroke="#758c9f"/><path d="M74.3 424.6L77.9 423.8L75.8 422.5L72.2 423.3Z" fill="#758c9f" stroke="#758c9f"/><path d="M70.6 425.4L74.3 424.6L72.2 423.3L68.5 424.0Z" fill="#758c9f" stroke="#758c9f"/><path d="M67.0 426.2L70.6 425.4L68.5 424.0L64.9 424.8Z" fill="#758c9f" stroke="#758c9f"/><path d="M63.4 427.0L67.0 426.2L64.9 424.8L61.3 425.6Z" fill="#758c9f" stroke="#758c9f"/><path d="M59.8 427.7L63.4 427.0L61.3 425.6L57.7 426.4Z" fill="#758c9f" stroke="#758c9f"/><path d="M56.1 428.5L59.8 427.7L57.7 426.4L54.0 427.2Z" fill="#758c9f" stroke="#758c9f"/><path d="M52.5 429.3L56.1 428.5L54.0 427.2L50.4 428.0Z" fill="#758c9f" stroke="#758c9f"/><path d="M48.9 430.1L52.5 429.3L50.4 428.0L46.8 428.7Z" fill="#758c9f" stroke="#758c9f"/><path d="M45.2 430.9L48.9 430.1L46.8 428.7L43.2 429.5Z" fill="#758c9f" stroke="#758c9f"/><path d="M41.6 431.6L45.2 430.9L43.2 429.5L39.5 430.3Z" fill="#758c9f" stroke="#758c9f"/><path d="M181.6 403.3L185.2 402.5L183.1 401.2L179.5 402.0Z" fill="#758c9f" stroke="#758c9f"/><path d="M177.9 404.1L181.6 403.3L179.5 402.0L175.8 402.8Z" fill="#758c9f" stroke="#758c9f"/><path d="M174.3 404.9L177.9 404.1L175.8 402.8L172.2 403.5Z" fill="#758c9f" stroke="#758c9f"/><path d="M170.7 405.7L174.3 404.9L172.2 403.5L168.6 404.3Z" fill="#728a9d" stroke="#728a9d"/><path d="M167.0 406.5L170.7 405.7L168.6 404.3L164.9 405.1Z" fill="#6f879b" stroke="#6f879b"/><path d="M163.4 407.2L167.0 406.5L164.9 405.1L161.3 405.9Z" fill="#6c8599" stroke="#6c8599"/><path d="M159.8 408.0L163.4 407.2L161.3 405.9L157.7 406.7Z" fill="#6c8599" stroke="#6c8599"/><path d="M156.2 408.8L159.8 408.0L157.7 406.7L154.1 407.4Z" fill="#6c8599" stroke="#6c8599"/><path d="M152.5 409.6L156.2 408.8L154.1 407.4L150.4 408.2Z" fill="#6c8599" stroke="#6c8599"/><path d="M148.9 410.4L152.5 409.6L150.4 408.2L146.8 409.0Z" fill="#6c8599" stroke="#6c8599"/><path d="M145.3 411.1L148.9 410.4L146.8 409.0L143.2 409.8Z" fill="#6c8599" stroke="#6c8599"/><path d="M141.6 411.9L145.3 411.1L143.2 409.8L139.6 410.6Z" fill="#6c8599" stroke="#6c8599"/><path d="M138.0 412.7L141.6 411.9L139.6 410.6L135.9 411.3Z" fill="#6c8599" stroke="#6c8599"/><path d="M134.4 413.5L138.0 412.7L135.9 411.3L132.3 412.1Z" fill="#6c8599" stroke="#6c8599"/><path d="M130.8 414.3L134.4 413.5L132.3 412.1L128.7 412.9Z" fill="#6c8599" stroke="#6c8599"/><path d="M127.1 415.0L130.8 414.3L128.7 412.9L125.0 413.7Z" fill="#6c8599" stroke="#6c8599"/><path d="M123.5 415.8L127.1 415.0L125.0 413.7L121.4 414.5Z" fill="#6c8599" stroke="#6c8599"/><path d="M119.9 416.6L123.5 415.8L121.4 414.5L117.8 415.3Z" fill="#6c8599" stroke="#6c8599"/><path d="M116.3 417.4L119.9 416.6L117.8 415.3L114.2 416.0Z" fill="#6c8599" stroke="#6c8599"/><path d="M112.6 418.2L116.3 417.4L114.2 416.0L110.5 416.8Z" fill="#6c8599" stroke="#6c8599"/><path d="M109.0 418.9L112.6 418.2L110.5 416.8L106.9 417.6Z" fill="#6c8599" stroke="#6c8599"/><path d="M105.4 419.7L109.0 418.9L106.9 417.6L103.3 418.4Z" fill="#6c8599" stroke="#6c8599"/><path d="M101.7 420.5L105.4 419.7L103.3 418.4L99.7 419.2Z" fill="#6c8599" stroke="#6c8599"/><path d="M98.1 421.3L101.7 420.5L99.7 419.2L96.0 419.9Z" fill="#6c8599" stroke="#6c8599"/><path d="M94.5 422.1L98.1 421.3L96.0 419.9L92.4 420.7Z" fill="#6c8599" stroke="#6c8599"/><path d="M90.9 422.8L94.5 422.1L92.4 420.7L88.8 421.5Z" fill="#6c8599" stroke="#6c8599"/><path d="M87.2 423.6L90.9 422.8L88.8 421.5L85.1 422.3Z" fill="#6c8599" stroke="#6c8599"/><path d="M83.6 424.4L87.2 423.6L85.1 422.3L81.5 423.1Z" fill="#6c8599" stroke="#6c8599"/><path d="M80.0 425.2L83.6 424.4L81.5 423.1L77.9 423.8Z" fill="#6c8599" stroke="#6c8599"/><path d="M76.4 426.0L80.0 425.2L77.9 423.8L74.3 424.6Z" fill="#6c8599" stroke="#6c8599"/><path d="M72.7 426.8L76.4 426.0L74.3 424.6L70.6 425.4Z" fill="#6c8599" stroke="#6c8599"/><path d="M69.1 427.5L72.7 426.8L70.6 425.4L67.0 426.2Z" fill="#6c8599" stroke="#6c8599"/><path d="M65.5 428.3L69.1 427.5L67.0 426.2L63.4 427.0Z" fill="#6c8599" stroke="#6c8599"/><path d="M61.8 429.1L65.5 428.3L63.4 427.0L59.8 427.7Z" fill="#6c8599" stroke="#6c8599"/><path d="M58.2 429.9L61.8 429.1L59.8 427.7L56.1 428.5Z" fill="#6f879b" stroke="#6f879b"/><path d="M54.6 430.7L58.2 429.9L56.1 428.5L52.5 429.3Z" fill="#728a9d" stroke="#728a9d"/><path d="M51.0 431.4L54.6 430.7L52.5 429.3L48.9 430.1Z" fill="#758c9f" stroke="#758c9f"/><path d="M47.3 432.2L51.0 431.4L48.9 430.1L45.2 430.9Z" fill="#758c9f" stroke="#758c9f"/><path d="M43.7 433.0L47.3 432.2L45.2 430.9L41.6 431.6Z" fill="#758c9f" stroke="#758c9f"/><path d="M183.6 404.7L187.3 403.9L185.2 402.5L181.6 403.3Z" fill="#758c9f" stroke="#758c9f"/><path d="M180.0 405.5L183.6 404.7L181.6 403.3L177.9 404.1Z" fill="#758c9f" stroke="#758c9f"/><path d="M176.4 406.2L180.0 405.5L177.9 404.1L174.3 404.9Z" fill="#758c9f" stroke="#758c9f"/><path d="M172.8 407.0L176.4 406.2L174.3 404.9L170.7 405.7Z" fill="#6f879b" stroke="#6f879b"/><path d="M169.1 390.7L172.8 407.0L170.7 405.7L167.0 406.5Z" fill="#586d7e" stroke="#586d7e"/><path d="M165.5 392.7L169.1 390.7L167.0 406.5L163.4 407.2Z" fill="#546878" stroke="#546878"/><path d="M161.9 394.7L165.5 392.7L163.4 407.2L159.8 408.0Z" fill="#546878" stroke="#546878"/><path d="M158.3 396.5L161.9 394.7L159.8 408.0L156.2 408.8Z" fill="#546878" stroke="#546878"/><path d="M154.6 398.1L158.3 396.5L156.2 408.8L152.5 409.6Z" fill="#546878" stroke="#546878"/><path d="M151.0 398.9L154.6 398.1L152.5 409.6L148.9 410.4Z" fill="#546878" stroke="#546878"/><path d="M147.4 399.6L151.0 398.9L148.9 410.4L145.3 411.1Z" fill="#546878" stroke="#546878"/><path d="M143.7 400.4L147.4 399.6L145.3 411.1L141.6 411.9Z" fill="#546878" stroke="#546878"/><path d="M140.1 401.2L143.7 400.4L141.6 411.9L138.0 412.7Z" fill="#546878" stroke="#546878"/><path d="M136.5 402.2L140.1 401.2L138.0 412.7L134.4 413.5Z" fill="#546878" stroke="#546878"/><path d="M132.9 406.1L136.5 402.2L134.4 413.5L130.8 414.3Z" fill="#566b7b" stroke="#566b7b"/><path d="M129.2 407.9L132.9 406.1L130.8 414.3L127.1 415.0Z" fill="#566b7b" stroke="#566b7b"/><path d="M125.6 408.9L129.2 407.9L127.1 415.0L123.5 415.8Z" fill="#566b7b" stroke="#566b7b"/><path d="M122.0 409.7L125.6 408.9L123.5 415.8L119.9 416.6Z" fill="#566b7b" stroke="#566b7b"/><path d="M118.4 409.5L122.0 409.7L119.9 416.6L116.3 417.4Z" fill="#566b7b" stroke="#566b7b"/><path d="M114.7 411.0L118.4 409.5L116.3 417.4L112.6 418.2Z" fill="#566b7b" stroke="#566b7b"/><path d="M111.1 412.2L114.7 411.0L112.6 418.2L109.0 418.9Z" fill="#566b7b" stroke="#566b7b"/><path d="M107.5 411.0L111.1 412.2L109.0 418.9L105.4 419.7Z" fill="#586d7e" stroke="#586d7e"/><path d="M103.8 410.7L107.5 411.0L105.4 419.7L101.7 420.5Z" fill="#586d7e" stroke="#586d7e"/><path d="M100.2 410.5L103.8 410.7L101.7 420.5L98.1 421.3Z" fill="#586d7e" stroke="#586d7e"/><path d="M96.6 410.3L100.2 410.5L98.1 421.3L94.5 422.1Z" fill="#586d7e" stroke="#586d7e"/><path d="M93.0 410.1L96.6 410.3L94.5 422.1L90.9 422.8Z" fill="#586d7e" stroke="#586d7e"/><path d="M89.3 410.2L93.0 410.1L90.9 422.8L87.2 423.6Z" fill="#586d7e" stroke="#586d7e"/><path d="M85.7 410.4L89.3 410.2L87.2 423.6L83.6 424.4Z" fill="#566b7b" stroke="#566b7b"/><path d="M82.1 409.2L85.7 410.4L83.6 424.4L80.0 425.2Z" fill="#566b7b" stroke="#566b7b"/><path d="M78.5 412.8L82.1 409.2L80.0 425.2L76.4 426.0Z" fill="#566b7b" stroke="#566b7b"/><path d="M74.8 412.1L78.5 412.8L76.4 426.0L72.7 426.8Z" fill="#566b7b" stroke="#566b7b"/><path d="M71.2 411.0L74.8 412.1L72.7 426.8L69.1 427.5Z" fill="#566b7b" stroke="#566b7b"/><path d="M67.6 412.9L71.2 411.0L69.1 427.5L65.5 428.3Z" fill="#566b7b" stroke="#566b7b"/><path d="M63.9 414.7L67.6 412.9L65.5 428.3L61.8 429.1Z" fill="#566b7b" stroke="#566b7b"/><path d="M60.3 431.2L63.9 414.7L61.8 429.1L58.2 429.9Z" fill="#566b7b" stroke="#566b7b"/><path d="M56.7 432.0L60.3 431.2L58.2 429.9L54.6 430.7Z" fill="#6f879b" stroke="#6f879b"/><path d="M53.1 432.8L56.7 432.0L54.6 430.7L51.0 431.4Z" fill="#758c9f" stroke="#758c9f"/><path d="M49.4 433.6L53.1 432.8L51.0 431.4L47.3 432.2Z" fill="#758c9f" stroke="#758c9f"/><path d="M45.8 434.4L49.4 433.6L47.3 432.2L43.7 433.0Z" fill="#758c9f" stroke="#758c9f"/><path d="M185.7 406.0L189.4 405.3L187.3 403.9L183.6 404.7Z" fill="#758c9f" stroke="#758c9f"/><path d="M182.1 406.8L185.7 406.0L183.6 404.7L180.0 405.5Z" fill="#758c9f" stroke="#758c9f"/><path d="M178.5 407.6L182.1 406.8L180.0 405.5L176.4 406.2Z" fill="#728a9d" stroke="#728a9d"/><path d="M174.9 408.4L178.5 407.6L176.4 406.2L172.8 407.0Z" fill="#6c8599" stroke="#6c8599"/><path d="M171.2 389.4L174.9 408.4L172.8 407.0L169.1 390.7Z" fill="#5a7081" stroke="#5a7081"/><path d="M167.6 391.5L171.2 389.4L169.1 390.7L165.5 392.7Z" fill="#566b7b" stroke="#566b7b"/><path d="M164.0 393.9L167.6 391.5L165.5 392.7L161.9 394.7Z" fill="#566b7b" stroke="#566b7b"/><path d="M160.3 396.4L164.0 393.9L161.9 394.7L158.3 396.5Z" fill="#566b7b" stroke="#566b7b"/><path d="M156.7 399.7L160.3 396.4L158.3 396.5L154.6 398.1Z" fill="#586d7e" stroke="#586d7e"/><path d="M153.1 399.2L156.7 399.7L154.6 398.1L151.0 398.9Z" fill="#5c7284" stroke="#5c7284"/><path d="M149.5 398.7L153.1 399.2L151.0 398.9L147.4 399.6Z" fill="#586d7e" stroke="#586d7e"/><path d="M145.8 399.5L149.5 398.7L147.4 399.6L143.7 400.4Z" fill="#566b7b" stroke="#566b7b"/><path d="M142.2 402.6L145.8 399.5L143.7 400.4L140.1 401.2Z" fill="#586d7e" stroke="#586d7e"/><path d="M138.6 406.5L142.2 402.6L140.1 401.2L136.5 402.2Z" fill="#7b91a3" stroke="#7b91a3"/><path d="M135.0 410.4L138.6 406.5L136.5 402.2L132.9 406.1Z" fill="#728a9d" stroke="#728a9d"/><path d="M131.3 411.6L135.0 410.4L132.9 406.1L129.2 407.9Z" fill="#abb9c4" stroke="#abb9c4"/><path d="M127.7 411.4L131.3 411.6L129.2 407.9L125.6 408.9Z" fill="#a8b7c2" stroke="#a8b7c2"/><path d="M124.1 411.2L127.7 411.4L125.6 408.9L122.0 409.7Z" fill="#879bab" stroke="#879bab"/><path d="M120.4 411.1L124.1 411.2L122.0 409.7L118.4 409.5Z" fill="#6f879b" stroke="#6f879b"/><path d="M116.8 413.6L120.4 411.1L118.4 409.5L114.7 411.0Z" fill="#8196a7" stroke="#8196a7"/><path d="M113.2 417.0L116.8 413.6L114.7 411.0L111.1 412.2Z" fill="#9cadba" stroke="#9cadba"/><path d="M109.6 417.8L113.2 417.0L111.1 412.2L107.5 411.0Z" fill="#aebcc7" stroke="#aebcc7"/><path d="M105.9 416.7L109.6 417.8L107.5 411.0L103.8 410.7Z" fill="#a5b4c0" stroke="#a5b4c0"/><path d="M102.3 414.7L105.9 416.7L103.8 410.7L100.2 410.5Z" fill="#9cadba" stroke="#9cadba"/><path d="M98.7 414.4L102.3 414.7L100.2 410.5L96.6 410.3Z" fill="#abb9c4" stroke="#abb9c4"/><path d="M95.1 414.6L98.7 414.4L96.6 410.3L93.0 410.1Z" fill="#b1bec9" stroke="#b1bec9"/><path d="M91.4 414.7L95.1 414.6L93.0 410.1L89.3 410.2Z" fill="#b4c1cb" stroke="#b4c1cb"/><path d="M87.8 414.8L91.4 414.7L89.3 410.2L85.7 410.4Z" fill="#b1bec9" stroke="#b1bec9"/><path d="M84.2 412.9L87.8 414.8L85.7 410.4L82.1 409.2Z" fill="#8da0b0" stroke="#8da0b0"/><path d="M80.5 410.9L84.2 412.9L82.1 409.2L78.5 412.8Z" fill="#627a8d" stroke="#627a8d"/><path d="M76.9 415.4L80.5 410.9L78.5 412.8L74.8 412.1Z" fill="#5a7081" stroke="#5a7081"/><path d="M73.3 415.4L76.9 415.4L74.8 412.1L71.2 411.0Z" fill="#8da0b0" stroke="#8da0b0"/><path d="M69.7 417.0L73.3 415.4L71.2 411.0L67.6 412.9Z" fill="#9cadba" stroke="#9cadba"/><path d="M66.0 416.4L69.7 417.0L67.6 412.9L63.9 414.7Z" fill="#96a8b6" stroke="#96a8b6"/><path d="M62.4 432.6L66.0 416.4L63.9 414.7L60.3 431.2Z" fill="#546878" stroke="#546878"/><path d="M58.8 433.4L62.4 432.6L60.3 431.2L56.7 432.0Z" fill="#698296" stroke="#698296"/><path d="M55.2 434.1L58.8 433.4L56.7 432.0L53.1 432.8Z" fill="#728a9d" stroke="#728a9d"/><path d="M51.5 434.9L55.2 434.1L53.1 432.8L49.4 433.6Z" fill="#758c9f" stroke="#758c9f"/><path d="M47.9 435.7L51.5 434.9L49.4 433.6L45.8 434.4Z" fill="#758c9f" stroke="#758c9f"/><path d="M187.8 407.4L191.5 406.6L189.4 405.3L185.7 406.0Z" fill="#758c9f" stroke="#758c9f"/><path d="M184.2 408.2L187.8 407.4L185.7 406.0L182.1 406.8Z" fill="#758c9f" stroke="#758c9f"/><path d="M180.6 408.9L184.2 408.2L182.1 406.8L178.5 407.6Z" fill="#6f879b" stroke="#6f879b"/><path d="M177.0 392.0L180.6 408.9L178.5 407.6L174.9 408.4Z" fill="#586d7e" stroke="#586d7e"/><path d="M173.3 390.9L177.0 392.0L174.9 408.4L171.2 389.4Z" fill="#586d7e" stroke="#586d7e"/><path d="M169.7 393.7L173.3 390.9L171.2 389.4L167.6 391.5Z" fill="#647d90" stroke="#647d90"/><path d="M166.1 395.8L169.7 393.7L167.6 391.5L164.0 393.9Z" fill="#6f879b" stroke="#6f879b"/><path d="M162.4 396.3L166.1 395.8L164.0 393.9L160.3 396.4Z" fill="#5c7284" stroke="#5c7284"/><path d="M158.8 395.5L162.4 396.3L160.3 396.4L156.7 399.7Z" fill="#586d7e" stroke="#586d7e"/><path d="M155.2 394.6L158.8 395.5L156.7 399.7L153.1 399.2Z" fill="#566b7b" stroke="#566b7b"/><path d="M151.6 396.6L155.2 394.6L153.1 399.2L149.5 398.7Z" fill="#566b7b" stroke="#566b7b"/><path d="M147.9 401.1L151.6 396.6L149.5 398.7L145.8 399.5Z" fill="#566b7b" stroke="#566b7b"/><path d="M144.3 405.0L147.9 401.1L145.8 399.5L142.2 402.6Z" fill="#586d7e" stroke="#586d7e"/><path d="M140.7 408.7L144.3 405.0L142.2 402.6L138.6 406.5Z" fill="#5c7284" stroke="#5c7284"/><path d="M137.1 412.4L140.7 408.7L138.6 406.5L135.0 410.4Z" fill="#647d90" stroke="#647d90"/><path d="M133.4 413.1L137.1 412.4L135.0 410.4L131.3 411.6Z" fill="#96a8b6" stroke="#96a8b6"/><path d="M129.8 413.0L133.4 413.1L131.3 411.6L127.7 411.4Z" fill="#7e94a5" stroke="#7e94a5"/><path d="M126.2 412.8L129.8 413.0L127.7 411.4L124.1 411.2Z" fill="#788fa1" stroke="#788fa1"/><path d="M122.5 412.8L126.2 412.8L124.1 411.2L120.4 411.1Z" fill="#8196a7" stroke="#8196a7"/><path d="M118.9 416.2L122.5 412.8L120.4 411.1L116.8 413.6Z" fill="#7b91a3" stroke="#7b91a3"/><path d="M115.3 419.6L118.9 416.2L116.8 413.6L113.2 417.0Z" fill="#788fa1" stroke="#788fa1"/><path d="M111.7 420.0L115.3 419.6L113.2 417.0L109.6 417.8Z" fill="#a8b7c2" stroke="#a8b7c2"/><path d="M108.0 420.2L111.7 420.0L109.6 417.8L105.9 416.7Z" fill="#9cadba" stroke="#9cadba"/><path d="M104.4 419.0L108.0 420.2L105.9 416.7L102.3 414.7Z" fill="#90a3b2" stroke="#90a3b2"/><path d="M100.8 417.0L104.4 419.0L102.3 414.7L98.7 414.4Z" fill="#9cadba" stroke="#9cadba"/><path d="M97.1 417.7L100.8 417.0L98.7 414.4L95.1 414.6Z" fill="#bdc8d1" stroke="#bdc8d1"/><path d="M93.5 417.8L97.1 417.7L95.1 414.6L91.4 414.7Z" fill="#b7c3cd" stroke="#b7c3cd"/><path d="M89.9 417.7L93.5 417.8L91.4 414.7L87.8 414.8Z" fill="#abb9c4" stroke="#abb9c4"/><path d="M86.3 417.7L89.9 417.7L87.8 414.8L84.2 412.9Z" fill="#9cadba" stroke="#9cadba"/><path d="M82.6 413.9L86.3 417.7L84.2 412.9L80.5 410.9Z" fill="#698296" stroke="#698296"/><path d="M79.0 412.0L82.6 413.9L80.5 410.9L76.9 415.4Z" fill="#5c7284" stroke="#5c7284"/><path d="M75.4 414.9L79.0 412.0L76.9 415.4L73.3 415.4Z" fill="#5a7081" stroke="#5a7081"/><path d="M71.8 416.5L75.4 414.9L73.3 415.4L69.7 417.0Z" fill="#60788a" stroke="#60788a"/><path d="M68.1 417.7L71.8 416.5L69.7 417.0L66.0 416.4Z" fill="#60788a" stroke="#60788a"/><path d="M64.5 419.1L68.1 417.7L66.0 416.4L62.4 432.6Z" fill="#546878" stroke="#546878"/><path d="M60.9 434.7L64.5 419.1L62.4 432.6L58.8 433.4Z" fill="#546878" stroke="#546878"/><path d="M57.2 435.5L60.9 434.7L58.8 433.4L55.2 434.1Z" fill="#698296" stroke="#698296"/><path d="M53.6 436.3L57.2 435.5L55.2 434.1L51.5 434.9Z" fill="#728a9d" stroke="#728a9d"/><path d="M50.0 437.1L53.6 436.3L51.5 434.9L47.9 435.7Z" fill="#758c9f" stroke="#758c9f"/><path d="M189.9 408.7L193.6 408.0L191.5 406.6L187.8 407.4Z" fill="#758c9f" stroke="#758c9f"/><path d="M186.3 409.5L189.9 408.7L187.8 407.4L184.2 408.2Z" fill="#758c9f" stroke="#758c9f"/><path d="M182.7 410.3L186.3 409.5L184.2 408.2L180.6 408.9Z" fill="#6f879b" stroke="#6f879b"/><path d="M179.0 392.1L182.7 410.3L180.6 408.9L177.0 392.0Z" fill="#5c7284" stroke="#5c7284"/><path d="M175.4 391.8L179.0 392.1L177.0 392.0L173.3 390.9Z" fill="#60788a" stroke="#60788a"/><path d="M171.8 394.2L175.4 391.8L173.3 390.9L169.7 393.7Z" fill="#5e7587" stroke="#5e7587"/><path d="M168.2 396.4L171.8 394.2L169.7 393.7L166.1 395.8Z" fill="#60788a" stroke="#60788a"/><path d="M164.5 397.7L168.2 396.4L166.1 395.8L162.4 396.3Z" fill="#667f93" stroke="#667f93"/><path d="M160.9 398.0L164.5 397.7L162.4 396.3L158.8 395.5Z" fill="#7b91a3" stroke="#7b91a3"/><path d="M157.3 397.2L160.9 398.0L158.8 395.5L155.2 394.6Z" fill="#7e94a5" stroke="#7e94a5"/><path d="M153.7 397.1L157.3 397.2L155.2 394.6L151.6 396.6Z" fill="#788fa1" stroke="#788fa1"/><path d="M150.0 401.5L153.7 397.1L151.6 396.6L147.9 401.1Z" fill="#586d7e" stroke="#586d7e"/><path d="M146.4 406.6L150.0 401.5L147.9 401.1L144.3 405.0Z" fill="#566b7b" stroke="#566b7b"/><path d="M142.8 410.3L146.4 406.6L144.3 405.0L140.7 408.7Z" fill="#566b7b" stroke="#566b7b"/><path d="M139.1 413.8L142.8 410.3L140.7 408.7L137.1 412.4Z" fill="#5c7284" stroke="#5c7284"/><path d="M135.5 414.4L139.1 413.8L137.1 412.4L133.4 413.1Z" fill="#728a9d" stroke="#728a9d"/><path d="M131.9 414.5L135.5 414.4L133.4 413.1L129.8 413.0Z" fill="#6c8599" stroke="#6c8599"/><path d="M128.3 414.3L131.9 414.5L129.8 413.0L126.2 412.8Z" fill="#758c9f" stroke="#758c9f"/><path d="M124.6 415.4L128.3 414.3L126.2 412.8L122.5 412.8Z" fill="#9cadba" stroke="#9cadba"/><path d="M121.0 418.8L124.6 415.4L122.5 412.8L118.9 416.2Z" fill="#728a9d" stroke="#728a9d"/><path d="M117.4 419.2L121.0 418.8L118.9 416.2L115.3 419.6Z" fill="#60788a" stroke="#60788a"/><path d="M113.8 417.8L117.4 419.2L115.3 419.6L111.7 420.0Z" fill="#5c7284" stroke="#5c7284"/><path d="M110.1 420.1L113.8 417.8L111.7 420.0L108.0 420.2Z" fill="#586d7e" stroke="#586d7e"/><path d="M106.5 419.7L110.1 420.1L108.0 420.2L104.4 419.0Z" fill="#5e7587" stroke="#5e7587"/><path d="M102.9 419.3L106.5 419.7L104.4 419.0L100.8 417.0Z" fill="#647d90" stroke="#647d90"/><path d="M99.2 418.6L102.9 419.3L100.8 417.0L97.1 417.7Z" fill="#758c9f" stroke="#758c9f"/><path d="M95.6 416.3L99.2 418.6L97.1 417.7L93.5 417.8Z" fill="#60788a" stroke="#60788a"/><path d="M92.0 417.1L95.6 416.3L93.5 417.8L89.9 417.7Z" fill="#5c7284" stroke="#5c7284"/><path d="M88.4 418.0L92.0 417.1L89.9 417.7L86.3 417.7Z" fill="#5e7587" stroke="#5e7587"/><path d="M84.7 418.8L88.4 418.0L86.3 417.7L82.6 413.9Z" fill="#667f93" stroke="#667f93"/><path d="M81.1 411.7L84.7 418.8L82.6 413.9L79.0 412.0Z" fill="#60788a" stroke="#60788a"/><path d="M77.5 415.1L81.1 411.7L79.0 412.0L75.4 414.9Z" fill="#586d7e" stroke="#586d7e"/><path d="M73.9 418.0L77.5 415.1L75.4 414.9L71.8 416.5Z" fill="#5a7081" stroke="#5a7081"/><path d="M70.2 419.9L73.9 418.0L71.8 416.5L68.1 417.7Z" fill="#788fa1" stroke="#788fa1"/><path d="M66.6 421.2L70.2 419.9L68.1 417.7L64.5 419.1Z" fill="#8196a7" stroke="#8196a7"/><path d="M63.0 422.9L66.6 421.2L64.5 419.1L60.9 434.7Z" fill="#546878" stroke="#546878"/><path d="M59.3 436.8L63.0 422.9L60.9 434.7L57.2 435.5Z" fill="#546878" stroke="#546878"/><path d="M55.7 437.6L59.3 436.8L57.2 435.5L53.6 436.3Z" fill="#6f879b" stroke="#6f879b"/><path d="M52.1 438.4L55.7 437.6L53.6 436.3L50.0 437.1Z" fill="#758c9f" stroke="#758c9f"/><path d="M192.0 410.1L195.6 409.3L193.6 408.0L189.9 408.7Z" fill="#758c9f" stroke="#758c9f"/><path d="M188.4 410.9L192.0 410.1L189.9 408.7L186.3 409.5Z" fill="#758c9f" stroke="#758c9f"/><path d="M184.8 411.7L188.4 410.9L186.3 409.5L182.7 410.3Z" fill="#6f879b" stroke="#6f879b"/><path d="M181.1 394.1L184.8 411.7L182.7 410.3L179.0 392.1Z" fill="#5e7587" stroke="#5e7587"/><path d="M177.5 394.3L181.1 394.1L179.0 392.1L175.4 391.8Z" fill="#8da0b0" stroke="#8da0b0"/><path d="M173.9 395.6L177.5 394.3L175.4 391.8L171.8 394.2Z" fill="#8a9ead" stroke="#8a9ead"/><path d="M170.3 400.0L173.9 395.6L171.8 394.2L168.2 396.4Z" fill="#758c9f" stroke="#758c9f"/><path d="M166.6 399.0L170.3 400.0L168.2 396.4L164.5 397.7Z" fill="#9fafbc" stroke="#9fafbc"/><path d="M163.0 399.4L166.6 399.0L164.5 397.7L160.9 398.0Z" fill="#788fa1" stroke="#788fa1"/><path d="M159.4 399.8L163.0 399.4L160.9 398.0L157.3 397.2Z" fill="#879bab" stroke="#879bab"/><path d="M155.7 398.9L159.4 399.8L157.3 397.2L153.7 397.1Z" fill="#879bab" stroke="#879bab"/><path d="M152.1 401.9L155.7 398.9L153.7 397.1L150.0 401.5Z" fill="#5e7587" stroke="#5e7587"/><path d="M148.5 406.9L152.1 401.9L150.0 401.5L146.4 406.6Z" fill="#546878" stroke="#546878"/><path d="M144.9 411.8L148.5 406.9L146.4 406.6L142.8 410.3Z" fill="#566b7b" stroke="#566b7b"/><path d="M141.2 414.8L144.9 411.8L142.8 410.3L139.1 413.8Z" fill="#5a7081" stroke="#5a7081"/><path d="M137.6 415.5L141.2 414.8L139.1 413.8L135.5 414.4Z" fill="#627a8d" stroke="#627a8d"/><path d="M134.0 416.1L137.6 415.5L135.5 414.4L131.9 414.5Z" fill="#698296" stroke="#698296"/><path d="M130.4 415.9L134.0 416.1L131.9 414.5L128.3 414.3Z" fill="#758c9f" stroke="#758c9f"/><path d="M126.7 418.0L130.4 415.9L128.3 414.3L124.6 415.4Z" fill="#93a5b4" stroke="#93a5b4"/><path d="M123.1 418.8L126.7 418.0L124.6 415.4L121.0 418.8Z" fill="#647d90" stroke="#647d90"/><path d="M119.5 416.6L123.1 418.8L121.0 418.8L117.4 419.2Z" fill="#5a7081" stroke="#5a7081"/><path d="M115.8 415.7L119.5 416.6L117.4 419.2L113.8 417.8Z" fill="#566b7b" stroke="#566b7b"/><path d="M112.2 418.1L115.8 415.7L113.8 417.8L110.1 420.1Z" fill="#546878" stroke="#546878"/><path d="M108.6 419.5L112.2 418.1L110.1 420.1L106.5 419.7Z" fill="#586d7e" stroke="#586d7e"/><path d="M105.0 419.2L108.6 419.5L106.5 419.7L102.9 419.3Z" fill="#5c7284" stroke="#5c7284"/><path d="M101.3 417.7L105.0 419.2L102.9 419.3L99.2 418.6Z" fill="#5c7284" stroke="#5c7284"/><path d="M97.7 415.9L101.3 417.7L99.2 418.6L95.6 416.3Z" fill="#5c7284" stroke="#5c7284"/><path d="M94.1 416.8L97.7 415.9L95.6 416.3L92.0 417.1Z" fill="#5a7081" stroke="#5a7081"/><path d="M90.5 417.8L94.1 416.8L92.0 417.1L88.4 418.0Z" fill="#5a7081" stroke="#5a7081"/><path d="M86.8 419.7L90.5 417.8L88.4 418.0L84.7 418.8Z" fill="#5c7284" stroke="#5c7284"/><path d="M83.2 414.2L86.8 419.7L84.7 418.8L81.1 411.7Z" fill="#627a8d" stroke="#627a8d"/><path d="M79.6 416.0L83.2 414.2L81.1 411.7L77.5 415.1Z" fill="#698296" stroke="#698296"/><path d="M75.9 418.3L79.6 416.0L77.5 415.1L73.9 418.0Z" fill="#60788a" stroke="#60788a"/><path d="M72.3 421.0L75.9 418.3L73.9 418.0L70.2 419.9Z" fill="#647d90" stroke="#647d90"/><path d="M68.7 423.2L72.3 421.0L70.2 419.9L66.6 421.2Z" fill="#7b91a3" stroke="#7b91a3"/><path d="M65.1 423.6L68.7 423.2L66.6 421.2L63.0 422.9Z" fill="#6c8599" stroke="#6c8599"/><path d="M61.4 438.2L65.1 423.6L63.0 422.9L59.3 436.8Z" fill="#546878" stroke="#546878"/><path d="M57.8 439.0L61.4 438.2L59.3 436.8L55.7 437.6Z" fill="#6c8599" stroke="#6c8599"/><path d="M54.2 439.8L57.8 439.0L55.7 437.6L52.1 438.4Z" fill="#758c9f" stroke="#758c9f"/><path d="M194.1 411.4L197.7 410.7L195.6 409.3L192.0 410.1Z" fill="#758c9f" stroke="#758c9f"/><path d="M190.5 412.2L194.1 411.4L192.0 410.1L188.4 410.9Z" fill="#758c9f" stroke="#758c9f"/><path d="M186.9 413.0L190.5 412.2L188.4 410.9L184.8 411.7Z" fill="#6f879b" stroke="#6f879b"/><path d="M183.2 395.6L186.9 413.0L184.8 411.7L181.1 394.1Z" fill="#5e7587" stroke="#5e7587"/><path d="M179.6 396.4L183.2 395.6L181.1 394.1L177.5 394.3Z" fill="#8da0b0" stroke="#8da0b0"/><path d="M176.0 399.2L179.6 396.4L177.5 394.3L173.9 395.6Z" fill="#a8b7c2" stroke="#a8b7c2"/><path d="M172.4 400.9L176.0 399.2L173.9 395.6L170.3 400.0Z" fill="#8196a7" stroke="#8196a7"/><path d="M168.7 400.4L172.4 400.9L170.3 400.0L166.6 399.0Z" fill="#6f879b" stroke="#6f879b"/><path d="M165.1 400.8L168.7 400.4L166.6 399.0L163.0 399.4Z" fill="#6f879b" stroke="#6f879b"/><path d="M161.5 401.1L165.1 400.8L163.0 399.4L159.4 399.8Z" fill="#758c9f" stroke="#758c9f"/><path d="M157.8 401.5L161.5 401.1L159.4 399.8L155.7 398.9Z" fill="#8499a9" stroke="#8499a9"/><path d="M154.2 402.3L157.8 401.5L155.7 398.9L152.1 401.9Z" fill="#728a9d" stroke="#728a9d"/><path d="M150.6 407.3L154.2 402.3L152.1 401.9L148.5 406.9Z" fill="#546878" stroke="#546878"/><path d="M147.0 412.4L150.6 407.3L148.5 406.9L144.9 411.8Z" fill="#546878" stroke="#546878"/><path d="M143.3 415.8L147.0 412.4L144.9 411.8L141.2 414.8Z" fill="#586d7e" stroke="#586d7e"/><path d="M139.7 416.6L143.3 415.8L141.2 414.8L137.6 415.5Z" fill="#5e7587" stroke="#5e7587"/><path d="M136.1 417.2L139.7 416.6L137.6 415.5L134.0 416.1Z" fill="#627a8d" stroke="#627a8d"/><path d="M132.5 417.5L136.1 417.2L134.0 416.1L130.4 415.9Z" fill="#667f93" stroke="#667f93"/><path d="M128.8 418.4L132.5 417.5L130.4 415.9L126.7 418.0Z" fill="#60788a" stroke="#60788a"/><path d="M125.2 417.2L128.8 418.4L126.7 418.0L123.1 418.8Z" fill="#5a7081" stroke="#5a7081"/><path d="M121.6 414.0L125.2 417.2L123.1 418.8L119.5 416.6Z" fill="#586d7e" stroke="#586d7e"/><path d="M117.9 413.5L121.6 414.0L119.5 416.6L115.8 415.7Z" fill="#566b7b" stroke="#566b7b"/><path d="M114.3 415.9L117.9 413.5L115.8 415.7L112.2 418.1Z" fill="#546878" stroke="#546878"/><path d="M110.7 418.3L114.3 415.9L112.2 418.1L108.6 419.5Z" fill="#546878" stroke="#546878"/><path d="M107.1 419.0L110.7 418.3L108.6 419.5L105.0 419.2Z" fill="#5a7081" stroke="#5a7081"/><path d="M103.4 416.6L107.1 419.0L105.0 419.2L101.3 417.7Z" fill="#5c7284" stroke="#5c7284"/><path d="M99.8 415.3L103.4 416.6L101.3 417.7L97.7 415.9Z" fill="#60788a" stroke="#60788a"/><path d="M96.2 417.9L99.8 415.3L97.7 415.9L94.1 416.8Z" fill="#647d90" stroke="#647d90"/><path d="M92.6 420.7L96.2 417.9L94.1 416.8L90.5 417.8Z" fill="#7e94a5" stroke="#7e94a5"/><path d="M88.9 418.2L92.6 420.7L90.5 417.8L86.8 419.7Z" fill="#60788a" stroke="#60788a"/><path d="M85.3 416.9L88.9 418.2L86.8 419.7L83.2 414.2Z" fill="#6c8599" stroke="#6c8599"/><path d="M81.7 419.0L85.3 416.9L83.2 414.2L79.6 416.0Z" fill="#abb9c4" stroke="#abb9c4"/><path d="M78.0 422.0L81.7 419.0L79.6 416.0L75.9 418.3Z" fill="#9cadba" stroke="#9cadba"/><path d="M74.4 424.3L78.0 422.0L75.9 418.3L72.3 421.0Z" fill="#a2b2be" stroke="#a2b2be"/><path d="M70.8 424.0L74.4 424.3L72.3 421.0L68.7 423.2Z" fill="#96a8b6" stroke="#96a8b6"/><path d="M67.2 423.9L70.8 424.0L68.7 423.2L65.1 423.6Z" fill="#60788a" stroke="#60788a"/><path d="M63.5 439.6L67.2 423.9L65.1 423.6L61.4 438.2Z" fill="#566b7b" stroke="#566b7b"/><path d="M59.9 440.3L63.5 439.6L61.4 438.2L57.8 439.0Z" fill="#6c8599" stroke="#6c8599"/><path d="M56.3 441.1L59.9 440.3L57.8 439.0L54.2 439.8Z" fill="#758c9f" stroke="#758c9f"/><path d="M196.2 412.8L199.8 412.0L197.7 410.7L194.1 411.4Z" fill="#758c9f" stroke="#758c9f"/><path d="M192.6 413.6L196.2 412.8L194.1 411.4L190.5 412.2Z" fill="#758c9f" stroke="#758c9f"/><path d="M189.0 414.4L192.6 413.6L190.5 412.2L186.9 413.0Z" fill="#6f879b" stroke="#6f879b"/><path d="M185.3 397.7L189.0 414.4L186.9 413.0L183.2 395.6Z" fill="#60788a" stroke="#60788a"/><path d="M181.7 399.0L185.3 397.7L183.2 395.6L179.6 396.4Z" fill="#a2b2be" stroke="#a2b2be"/><path d="M178.1 402.6L181.7 399.0L179.6 396.4L176.0 399.2Z" fill="#93a5b4" stroke="#93a5b4"/><path d="M174.4 401.4L178.1 402.6L176.0 399.2L172.4 400.9Z" fill="#93a5b4" stroke="#93a5b4"/><path d="M170.8 401.8L174.4 401.4L172.4 400.9L168.7 400.4Z" fill="#698296" stroke="#698296"/><path d="M167.2 402.1L170.8 401.8L168.7 400.4L165.1 400.8Z" fill="#758c9f" stroke="#758c9f"/><path d="M163.6 402.5L167.2 402.1L165.1 400.8L161.5 401.1Z" fill="#7e94a5" stroke="#7e94a5"/><path d="M159.9 402.9L163.6 402.5L161.5 401.1L157.8 401.5Z" fill="#7e94a5" stroke="#7e94a5"/><path d="M156.3 403.2L159.9 402.9L157.8 401.5L154.2 402.3Z" fill="#698296" stroke="#698296"/><path d="M152.7 407.7L156.3 403.2L154.2 402.3L150.6 407.3Z" fill="#566b7b" stroke="#566b7b"/><path d="M149.1 411.2L152.7 407.7L150.6 407.3L147.0 412.4Z" fill="#546878" stroke="#546878"/><path d="M145.4 412.3L149.1 411.2L147.0 412.4L143.3 415.8Z" fill="#546878" stroke="#546878"/><path d="M141.8 410.6L145.4 412.3L143.3 415.8L139.7 416.6Z" fill="#546878" stroke="#546878"/><path d="M138.2 413.4L141.8 410.6L139.7 416.6L136.1 417.2Z" fill="#546878" stroke="#546878"/><path d="M134.5 417.0L138.2 413.4L136.1 417.2L132.5 417.5Z" fill="#546878" stroke="#546878"/><path d="M130.9 416.8L134.5 417.0L132.5 417.5L128.8 418.4Z" fill="#586d7e" stroke="#586d7e"/><path d="M127.3 414.8L130.9 416.8L128.8 418.4L125.2 417.2Z" fill="#586d7e" stroke="#586d7e"/><path d="M123.7 411.3L127.3 414.8L125.2 417.2L121.6 414.0Z" fill="#586d7e" stroke="#586d7e"/><path d="M120.0 411.4L123.7 411.3L121.6 414.0L117.9 413.5Z" fill="#566b7b" stroke="#566b7b"/><path d="M116.4 413.8L120.0 411.4L117.9 413.5L114.3 415.9Z" fill="#546878" stroke="#546878"/><path d="M112.8 416.2L116.4 413.8L114.3 415.9L110.7 418.3Z" fill="#546878" stroke="#546878"/><path d="M109.2 418.6L112.8 416.2L110.7 418.3L107.1 419.0Z" fill="#566b7b" stroke="#566b7b"/><path d="M105.5 416.3L109.2 418.6L107.1 419.0L103.4 416.6Z" fill="#5e7587" stroke="#5e7587"/><path d="M101.9 420.5L105.5 416.3L103.4 416.6L99.8 415.3Z" fill="#9cadba" stroke="#9cadba"/><path d="M98.3 421.5L101.9 420.5L99.8 415.3L96.2 417.9Z" fill="#aebcc7" stroke="#aebcc7"/><path d="M94.6 420.3L98.3 421.5L96.2 417.9L92.6 420.7Z" fill="#8196a7" stroke="#8196a7"/><path d="M91.0 419.7L94.6 420.3L92.6 420.7L88.9 418.2Z" fill="#667f93" stroke="#667f93"/><path d="M87.4 421.5L91.0 419.7L88.9 418.2L85.3 416.9Z" fill="#b7c3cd" stroke="#b7c3cd"/><path d="M83.8 423.3L87.4 421.5L85.3 416.9L81.7 419.0Z" fill="#c3cdd5" stroke="#c3cdd5"/><path d="M80.1 425.2L83.8 423.3L81.7 419.0L78.0 422.0Z" fill="#b1bec9" stroke="#b1bec9"/><path d="M76.5 425.7L80.1 425.2L78.0 422.0L74.4 424.3Z" fill="#a8b7c2" stroke="#a8b7c2"/><path d="M72.9 424.6L76.5 425.7L74.4 424.3L70.8 424.0Z" fill="#667f93" stroke="#667f93"/><path d="M69.3 424.8L72.9 424.6L70.8 424.0L67.2 423.9Z" fill="#5e7587" stroke="#5e7587"/><path d="M65.6 440.9L69.3 424.8L67.2 423.9L63.5 439.6Z" fill="#566b7b" stroke="#566b7b"/><path d="M62.0 441.7L65.6 440.9L63.5 439.6L59.9 440.3Z" fill="#6c8599" stroke="#6c8599"/><path d="M58.4 442.5L62.0 441.7L59.9 440.3L56.3 441.1Z" fill="#758c9f" stroke="#758c9f"/><path d="M198.3 414.1L201.9 413.4L199.8 412.0L196.2 412.8Z" fill="#758c9f" stroke="#758c9f"/><path d="M194.7 414.9L198.3 414.1L196.2 412.8L192.6 413.6Z" fill="#758c9f" stroke="#758c9f"/><path d="M191.0 415.7L194.7 414.9L192.6 413.6L189.0 414.4Z" fill="#6f879b" stroke="#6f879b"/><path d="M187.4 400.0L191.0 415.7L189.0 414.4L185.3 397.7Z" fill="#627a8d" stroke="#627a8d"/><path d="M183.8 401.9L187.4 400.0L185.3 397.7L181.7 399.0Z" fill="#a8b7c2" stroke="#a8b7c2"/><path d="M180.2 403.6L183.8 401.9L181.7 399.0L178.1 402.6Z" fill="#90a3b2" stroke="#90a3b2"/><path d="M176.5 403.0L180.2 403.6L178.1 402.6L174.4 401.4Z" fill="#8499a9" stroke="#8499a9"/><path d="M172.9 403.8L176.5 403.0L174.4 401.4L170.8 401.8Z" fill="#9cadba" stroke="#9cadba"/><path d="M169.3 404.7L172.9 403.8L170.8 401.8L167.2 402.1Z" fill="#b4c1cb" stroke="#b4c1cb"/><path d="M165.7 405.5L169.3 404.7L167.2 402.1L163.6 402.5Z" fill="#b7c3cd" stroke="#b7c3cd"/><path d="M162.0 405.4L165.7 405.5L163.6 402.5L159.9 402.9Z" fill="#a2b2be" stroke="#a2b2be"/><path d="M158.4 404.6L162.0 405.4L159.9 402.9L156.3 403.2Z" fill="#788fa1" stroke="#788fa1"/><path d="M154.8 407.1L158.4 404.6L156.3 403.2L152.7 407.7Z" fill="#586d7e" stroke="#586d7e"/><path d="M151.1 410.7L154.8 407.1L152.7 407.7L149.1 411.2Z" fill="#546878" stroke="#546878"/><path d="M147.5 411.1L151.1 410.7L149.1 411.2L145.4 412.3Z" fill="#566b7b" stroke="#566b7b"/><path d="M143.9 409.0L147.5 411.1L145.4 412.3L141.8 410.6Z" fill="#586d7e" stroke="#586d7e"/><path d="M140.3 406.0L143.9 409.0L141.8 410.6L138.2 413.4Z" fill="#546878" stroke="#546878"/><path d="M136.6 409.8L140.3 406.0L138.2 413.4L134.5 417.0Z" fill="#546878" stroke="#546878"/><path d="M133.0 412.4L136.6 409.8L134.5 417.0L130.9 416.8Z" fill="#546878" stroke="#546878"/><path d="M129.4 410.9L133.0 412.4L130.9 416.8L127.3 414.8Z" fill="#546878" stroke="#546878"/><path d="M125.8 408.6L129.4 410.9L127.3 414.8L123.7 411.3Z" fill="#566b7b" stroke="#566b7b"/><path d="M122.1 409.2L125.8 408.6L123.7 411.3L120.0 411.4Z" fill="#546878" stroke="#546878"/><path d="M118.5 411.0L122.1 409.2L120.0 411.4L116.4 413.8Z" fill="#546878" stroke="#546878"/><path d="M114.9 412.7L118.5 411.0L116.4 413.8L112.8 416.2Z" fill="#546878" stroke="#546878"/><path d="M111.2 414.9L114.9 412.7L112.8 416.2L109.2 418.6Z" fill="#546878" stroke="#546878"/><path d="M107.6 420.3L111.2 414.9L109.2 418.6L105.5 416.3Z" fill="#5a7081" stroke="#5a7081"/><path d="M104.0 421.5L107.6 420.3L105.5 416.3L101.9 420.5Z" fill="#7b91a3" stroke="#7b91a3"/><path d="M100.4 421.5L104.0 421.5L101.9 420.5L98.3 421.5Z" fill="#667f93" stroke="#667f93"/><path d="M96.7 420.6L100.4 421.5L98.3 421.5L94.6 420.3Z" fill="#60788a" stroke="#60788a"/><path d="M93.1 422.5L96.7 420.6L94.6 420.3L91.0 419.7Z" fill="#7b91a3" stroke="#7b91a3"/><path d="M89.5 423.9L93.1 422.5L91.0 419.7L87.4 421.5Z" fill="#abb9c4" stroke="#abb9c4"/><path d="M85.9 425.3L89.5 423.9L87.4 421.5L83.8 423.3Z" fill="#a8b7c2" stroke="#a8b7c2"/><path d="M82.2 426.9L85.9 425.3L83.8 423.3L80.1 425.2Z" fill="#96a8b6" stroke="#96a8b6"/><path d="M78.6 426.3L82.2 426.9L80.1 425.2L76.5 425.7Z" fill="#6c8599" stroke="#6c8599"/><path d="M75.0 425.1L78.6 426.3L76.5 425.7L72.9 424.6Z" fill="#60788a" stroke="#60788a"/><path d="M71.3 426.2L75.0 425.1L72.9 424.6L69.3 424.8Z" fill="#5e7587" stroke="#5e7587"/><path d="M67.7 442.3L71.3 426.2L69.3 424.8L65.6 440.9Z" fill="#566b7b" stroke="#566b7b"/><path d="M64.1 443.0L67.7 442.3L65.6 440.9L62.0 441.7Z" fill="#6c8599" stroke="#6c8599"/><path d="M60.5 443.8L64.1 443.0L62.0 441.7L58.4 442.5Z" fill="#758c9f" stroke="#758c9f"/><path d="M200.4 415.5L204.0 414.7L201.9 413.4L198.3 414.1Z" fill="#758c9f" stroke="#758c9f"/><path d="M196.8 416.3L200.4 415.5L198.3 414.1L194.7 414.9Z" fill="#758c9f" stroke="#758c9f"/><path d="M193.1 417.1L196.8 416.3L194.7 414.9L191.0 415.7Z" fill="#6f879b" stroke="#6f879b"/><path d="M189.5 404.1L193.1 417.1L191.0 415.7L187.4 400.0Z" fill="#667f93" stroke="#667f93"/><path d="M185.9 406.4L189.5 404.1L187.4 400.0L183.8 401.9Z" fill="#b7c3cd" stroke="#b7c3cd"/><path d="M182.3 407.3L185.9 406.4L183.8 401.9L180.2 403.6Z" fill="#d2dae0" stroke="#d2dae0"/><path d="M178.6 408.2L182.3 407.3L180.2 403.6L176.5 403.0Z" fill="#d2dae0" stroke="#d2dae0"/><path d="M175.0 408.6L178.6 408.2L176.5 403.0L172.9 403.8Z" fill="#d2dae0" stroke="#d2dae0"/><path d="M171.4 408.7L175.0 408.6L172.9 403.8L169.3 404.7Z" fill="#cfd7de" stroke="#cfd7de"/><path d="M167.8 406.6L171.4 408.7L169.3 404.7L165.7 405.5Z" fill="#96a8b6" stroke="#96a8b6"/><path d="M164.1 404.4L167.8 406.6L165.7 405.5L162.0 405.4Z" fill="#627a8d" stroke="#627a8d"/><path d="M160.5 403.9L164.1 404.4L162.0 405.4L158.4 404.6Z" fill="#5c7284" stroke="#5c7284"/><path d="M156.9 405.4L160.5 403.9L158.4 404.6L154.8 407.1Z" fill="#566b7b" stroke="#566b7b"/><path d="M153.2 407.0L156.9 405.4L154.8 407.1L151.1 410.7Z" fill="#546878" stroke="#546878"/><path d="M149.6 406.3L153.2 407.0L151.1 410.7L147.5 411.1Z" fill="#546878" stroke="#546878"/><path d="M146.0 404.0L149.6 406.3L147.5 411.1L143.9 409.0Z" fill="#546878" stroke="#546878"/><path d="M142.4 401.5L146.0 404.0L143.9 409.0L140.3 406.0Z" fill="#546878" stroke="#546878"/><path d="M138.7 403.1L142.4 401.5L140.3 406.0L136.6 409.8Z" fill="#546878" stroke="#546878"/><path d="M135.1 407.1L138.7 403.1L136.6 409.8L133.0 412.4Z" fill="#546878" stroke="#546878"/><path d="M131.5 405.8L135.1 407.1L133.0 412.4L129.4 410.9Z" fill="#546878" stroke="#546878"/><path d="M127.9 404.8L131.5 405.8L129.4 410.9L125.8 408.6Z" fill="#546878" stroke="#546878"/><path d="M124.2 400.4L127.9 404.8L125.8 408.6L122.1 409.2Z" fill="#546878" stroke="#546878"/><path d="M120.6 405.2L124.2 400.4L122.1 409.2L118.5 411.0Z" fill="#546878" stroke="#546878"/><path d="M117.0 406.9L120.6 405.2L118.5 411.0L114.9 412.7Z" fill="#546878" stroke="#546878"/><path d="M113.3 414.0L117.0 406.9L114.9 412.7L111.2 414.9Z" fill="#546878" stroke="#546878"/><path d="M109.7 420.0L113.3 414.0L111.2 414.9L107.6 420.3Z" fill="#546878" stroke="#546878"/><path d="M106.1 418.1L109.7 420.0L107.6 420.3L104.0 421.5Z" fill="#566b7b" stroke="#566b7b"/><path d="M102.5 419.1L106.1 418.1L104.0 421.5L100.4 421.5Z" fill="#566b7b" stroke="#566b7b"/><path d="M98.8 421.4L102.5 419.1L100.4 421.5L96.7 420.6Z" fill="#5a7081" stroke="#5a7081"/><path d="M95.2 423.2L98.8 421.4L96.7 420.6L93.1 422.5Z" fill="#5e7587" stroke="#5e7587"/><path d="M91.6 425.0L95.2 423.2L93.1 422.5L89.5 423.9Z" fill="#647d90" stroke="#647d90"/><path d="M88.0 426.8L91.6 425.0L89.5 423.9L85.9 425.3Z" fill="#728a9d" stroke="#728a9d"/><path d="M84.3 428.3L88.0 426.8L85.9 425.3L82.2 426.9Z" fill="#788fa1" stroke="#788fa1"/><path d="M80.7 427.3L84.3 428.3L82.2 426.9L78.6 426.3Z" fill="#647d90" stroke="#647d90"/><path d="M77.1 426.3L80.7 427.3L78.6 426.3L75.0 425.1Z" fill="#647d90" stroke="#647d90"/><path d="M73.4 427.7L77.1 426.3L75.0 425.1L71.3 426.2Z" fill="#698296" stroke="#698296"/><path d="M69.8 443.6L73.4 427.7L71.3 426.2L67.7 442.3Z" fill="#566b7b" stroke="#566b7b"/><path d="M66.2 444.4L69.8 443.6L67.7 442.3L64.1 443.0Z" fill="#6c8599" stroke="#6c8599"/><path d="M62.6 445.2L66.2 444.4L64.1 443.0L60.5 443.8Z" fill="#758c9f" stroke="#758c9f"/><path d="M202.5 416.9L206.1 416.1L204.0 414.7L200.4 415.5Z" fill="#758c9f" stroke="#758c9f"/><path d="M198.9 417.6L202.5 416.9L200.4 415.5L196.8 416.3Z" fill="#758c9f" stroke="#758c9f"/><path d="M195.2 418.4L198.9 417.6L196.8 416.3L193.1 417.1Z" fill="#6f879b" stroke="#6f879b"/><path d="M191.6 407.4L195.2 418.4L193.1 417.1L189.5 404.1Z" fill="#667f93" stroke="#667f93"/><path d="M188.0 408.8L191.6 407.4L189.5 404.1L185.9 406.4Z" fill="#b1bec9" stroke="#b1bec9"/><path d="M184.4 410.1L188.0 408.8L185.9 406.4L182.3 407.3Z" fill="#c6d0d7" stroke="#c6d0d7"/><path d="M180.7 411.4L184.4 410.1L182.3 407.3L178.6 408.2Z" fill="#cfd7de" stroke="#cfd7de"/><path d="M177.1 412.7L180.7 411.4L178.6 408.2L175.0 408.6Z" fill="#d2dae0" stroke="#d2dae0"/><path d="M173.5 411.5L177.1 412.7L175.0 408.6L171.4 408.7Z" fill="#b7c3cd" stroke="#b7c3cd"/><path d="M169.8 409.5L173.5 411.5L171.4 408.7L167.8 406.6Z" fill="#728a9d" stroke="#728a9d"/><path d="M166.2 407.5L169.8 409.5L167.8 406.6L164.1 404.4Z" fill="#647d90" stroke="#647d90"/><path d="M162.6 404.8L166.2 407.5L164.1 404.4L160.5 403.9Z" fill="#60788a" stroke="#60788a"/><path d="M159.0 399.2L162.6 404.8L160.5 403.9L156.9 405.4Z" fill="#586d7e" stroke="#586d7e"/><path d="M155.3 396.4L159.0 399.2L156.9 405.4L153.2 407.0Z" fill="#546878" stroke="#546878"/><path d="M151.7 397.2L155.3 396.4L153.2 407.0L149.6 406.3Z" fill="#546878" stroke="#546878"/><path d="M148.1 400.2L151.7 397.2L149.6 406.3L146.0 404.0Z" fill="#546878" stroke="#546878"/><path d="M144.5 397.1L148.1 400.2L146.0 404.0L142.4 401.5Z" fill="#546878" stroke="#546878"/><path d="M140.8 394.3L144.5 397.1L142.4 401.5L138.7 403.1Z" fill="#546878" stroke="#546878"/><path d="M137.2 392.6L140.8 394.3L138.7 403.1L135.1 407.1Z" fill="#546878" stroke="#546878"/><path d="M133.6 396.1L137.2 392.6L135.1 407.1L131.5 405.8Z" fill="#546878" stroke="#546878"/><path d="M129.9 400.3L133.6 396.1L131.5 405.8L127.9 404.8Z" fill="#546878" stroke="#546878"/><path d="M126.3 396.7L129.9 400.3L127.9 404.8L124.2 400.4Z" fill="#546878" stroke="#546878"/><path d="M122.7 395.1L126.3 396.7L124.2 400.4L120.6 405.2Z" fill="#546878" stroke="#546878"/><path d="M119.1 401.4L122.7 395.1L120.6 405.2L117.0 406.9Z" fill="#546878" stroke="#546878"/><path d="M115.4 410.0L119.1 401.4L117.0 406.9L113.3 414.0Z" fill="#546878" stroke="#546878"/><path d="M111.8 415.8L115.4 410.0L113.3 414.0L109.7 420.0Z" fill="#546878" stroke="#546878"/><path d="M108.2 414.9L111.8 415.8L109.7 420.0L106.1 418.1Z" fill="#546878" stroke="#546878"/><path d="M104.6 420.5L108.2 414.9L106.1 418.1L102.5 419.1Z" fill="#546878" stroke="#546878"/><path d="M100.9 422.8L104.6 420.5L102.5 419.1L98.8 421.4Z" fill="#5e7587" stroke="#5e7587"/><path d="M97.3 424.6L100.9 422.8L98.8 421.4L95.2 423.2Z" fill="#667f93" stroke="#667f93"/><path d="M93.7 426.4L97.3 424.6L95.2 423.2L91.6 425.0Z" fill="#667f93" stroke="#667f93"/><path d="M90.0 427.6L93.7 426.4L91.6 425.0L88.0 426.8Z" fill="#627a8d" stroke="#627a8d"/><path d="M86.4 428.7L90.0 427.6L88.0 426.8L84.3 428.3Z" fill="#5e7587" stroke="#5e7587"/><path d="M82.8 429.8L86.4 428.7L84.3 428.3L80.7 427.3Z" fill="#6c8599" stroke="#6c8599"/><path d="M79.2 428.9L82.8 429.8L80.7 427.3L77.1 426.3Z" fill="#879bab" stroke="#879bab"/><path d="M75.5 429.1L79.2 428.9L77.1 426.3L73.4 427.7Z" fill="#96a8b6" stroke="#96a8b6"/><path d="M71.9 445.0L75.5 429.1L73.4 427.7L69.8 443.6Z" fill="#5a7081" stroke="#5a7081"/><path d="M68.3 445.7L71.9 445.0L69.8 443.6L66.2 444.4Z" fill="#6c8599" stroke="#6c8599"/><path d="M64.7 446.5L68.3 445.7L66.2 444.4L62.6 445.2Z" fill="#758c9f" stroke="#758c9f"/><path d="M204.6 418.2L208.2 417.4L206.1 416.1L202.5 416.9Z" fill="#758c9f" stroke="#758c9f"/><path d="M201.0 419.0L204.6 418.2L202.5 416.9L198.9 417.6Z" fill="#758c9f" stroke="#758c9f"/><path d="M197.3 419.8L201.0 419.0L198.9 417.6L195.2 418.4Z" fill="#6f879b" stroke="#6f879b"/><path d="M193.7 409.6L197.3 419.8L195.2 418.4L191.6 407.4Z" fill="#627a8d" stroke="#627a8d"/><path d="M190.1 411.0L193.7 409.6L191.6 407.4L188.0 408.8Z" fill="#9fafbc" stroke="#9fafbc"/><path d="M186.5 412.3L190.1 411.0L188.0 408.8L184.4 410.1Z" fill="#b1bec9" stroke="#b1bec9"/><path d="M182.8 413.5L186.5 412.3L184.4 410.1L180.7 411.4Z" fill="#abb9c4" stroke="#abb9c4"/><path d="M179.2 413.9L182.8 413.5L180.7 411.4L177.1 412.7Z" fill="#96a8b6" stroke="#96a8b6"/><path d="M175.6 414.3L179.2 413.9L177.1 412.7L173.5 411.5Z" fill="#879bab" stroke="#879bab"/><path d="M171.9 413.4L175.6 414.3L173.5 411.5L169.8 409.5Z" fill="#8196a7" stroke="#8196a7"/><path d="M168.3 411.6L171.9 413.4L169.8 409.5L166.2 407.5Z" fill="#758c9f" stroke="#758c9f"/><path d="M164.7 406.4L168.3 411.6L166.2 407.5L162.6 404.8Z" fill="#60788a" stroke="#60788a"/><path d="M161.1 399.8L164.7 406.4L162.6 404.8L159.0 399.2Z" fill="#5c7284" stroke="#5c7284"/><path d="M157.4 395.0L161.1 399.8L159.0 399.2L155.3 396.4Z" fill="#5a7081" stroke="#5a7081"/><path d="M153.8 401.4L157.4 395.0L155.3 396.4L151.7 397.2Z" fill="#586d7e" stroke="#586d7e"/><path d="M150.2 396.7L153.8 401.4L151.7 397.2L148.1 400.2Z" fill="#5a7081" stroke="#5a7081"/><path d="M146.5 392.3L150.2 396.7L148.1 400.2L144.5 397.1Z" fill="#566b7b" stroke="#566b7b"/><path d="M142.9 378.5L146.5 392.3L144.5 397.1L140.8 394.3Z" fill="#546878" stroke="#546878"/><path d="M139.3 380.0L142.9 378.5L140.8 394.3L137.2 392.6Z" fill="#546878" stroke="#546878"/><path d="M135.7 382.4L139.3 380.0L137.2 392.6L133.6 396.1Z" fill="#546878" stroke="#546878"/><path d="M132.0 378.7L135.7 382.4L133.6 396.1L129.9 400.3Z" fill="#546878" stroke="#546878"/><path d="M128.4 385.4L132.0 378.7L129.9 400.3L126.3 396.7Z" fill="#546878" stroke="#546878"/><path d="M124.8 386.4L128.4 385.4L126.3 396.7L122.7 395.1Z" fill="#546878" stroke="#546878"/><path d="M121.2 392.2L124.8 386.4L122.7 395.1L119.1 401.4Z" fill="#546878" stroke="#546878"/><path d="M117.5 405.6L121.2 392.2L119.1 401.4L115.4 410.0Z" fill="#546878" stroke="#546878"/><path d="M113.9 410.6L117.5 405.6L115.4 410.0L111.8 415.8Z" fill="#546878" stroke="#546878"/><path d="M110.3 416.2L113.9 410.6L111.8 415.8L108.2 414.9Z" fill="#546878" stroke="#546878"/><path d="M106.6 421.9L110.3 416.2L108.2 414.9L104.6 420.5Z" fill="#546878" stroke="#546878"/><path d="M103.0 424.2L106.6 421.9L104.6 420.5L100.9 422.8Z" fill="#60788a" stroke="#60788a"/><path d="M99.4 425.8L103.0 424.2L100.9 422.8L97.3 424.6Z" fill="#698296" stroke="#698296"/><path d="M95.8 426.9L99.4 425.8L97.3 424.6L93.7 426.4Z" fill="#60788a" stroke="#60788a"/><path d="M92.1 427.9L95.8 426.9L93.7 426.4L90.0 427.6Z" fill="#60788a" stroke="#60788a"/><path d="M88.5 429.2L92.1 427.9L90.0 427.6L86.4 428.7Z" fill="#627a8d" stroke="#627a8d"/><path d="M84.9 430.8L88.5 429.2L86.4 428.7L82.8 429.8Z" fill="#6f879b" stroke="#6f879b"/><path d="M81.3 433.0L84.9 430.8L82.8 429.8L79.2 428.9Z" fill="#b4c1cb" stroke="#b4c1cb"/><path d="M77.6 431.1L81.3 433.0L79.2 428.9L75.5 429.1Z" fill="#9fafbc" stroke="#9fafbc"/><path d="M74.0 446.3L77.6 431.1L75.5 429.1L71.9 445.0Z" fill="#60788a" stroke="#60788a"/><path d="M70.4 447.1L74.0 446.3L71.9 445.0L68.3 445.7Z" fill="#6c8599" stroke="#6c8599"/><path d="M66.7 447.9L70.4 447.1L68.3 445.7L64.7 446.5Z" fill="#758c9f" stroke="#758c9f"/><path d="M206.7 419.6L210.3 418.8L208.2 417.4L204.6 418.2Z" fill="#758c9f" stroke="#758c9f"/><path d="M203.1 420.3L206.7 419.6L204.6 418.2L201.0 419.0Z" fill="#758c9f" stroke="#758c9f"/><path d="M199.4 421.1L203.1 420.3L201.0 419.0L197.3 419.8Z" fill="#6f879b" stroke="#6f879b"/><path d="M195.8 411.8L199.4 421.1L197.3 419.8L193.7 409.6Z" fill="#60788a" stroke="#60788a"/><path d="M192.2 413.1L195.8 411.8L193.7 409.6L190.1 411.0Z" fill="#99aab8" stroke="#99aab8"/><path d="M188.5 414.2L192.2 413.1L190.1 411.0L186.5 412.3Z" fill="#a2b2be" stroke="#a2b2be"/><path d="M184.9 414.6L188.5 414.2L186.5 412.3L182.8 413.5Z" fill="#8499a9" stroke="#8499a9"/><path d="M181.3 415.0L184.9 414.6L182.8 413.5L179.2 413.9Z" fill="#667f93" stroke="#667f93"/><path d="M177.7 415.3L181.3 415.0L179.2 413.9L175.6 414.3Z" fill="#647d90" stroke="#647d90"/><path d="M174.0 414.9L177.7 415.3L175.6 414.3L171.9 413.4Z" fill="#627a8d" stroke="#627a8d"/><path d="M170.4 408.5L174.0 414.9L171.9 413.4L168.3 411.6Z" fill="#5e7587" stroke="#5e7587"/><path d="M166.8 404.5L170.4 408.5L168.3 411.6L164.7 406.4Z" fill="#5c7284" stroke="#5c7284"/><path d="M163.2 399.3L166.8 404.5L164.7 406.4L161.1 399.8Z" fill="#5c7284" stroke="#5c7284"/><path d="M159.5 395.7L163.2 399.3L161.1 399.8L157.4 395.0Z" fill="#5c7284" stroke="#5c7284"/><path d="M155.9 389.7L159.5 395.7L157.4 395.0L153.8 401.4Z" fill="#546878" stroke="#546878"/><path d="M152.3 389.6L155.9 389.7L153.8 401.4L150.2 396.7Z" fill="#546878" stroke="#546878"/><path d="M148.6 386.5L152.3 389.6L150.2 396.7L146.5 392.3Z" fill="#546878" stroke="#546878"/><path d="M145.0 363.7L148.6 386.5L146.5 392.3L142.9 378.5Z" fill="#566b7b" stroke="#566b7b"/><path d="M141.4 376.9L145.0 363.7L142.9 378.5L139.3 380.0Z" fill="#546878" stroke="#546878"/><path d="M137.8 376.9L141.4 376.9L139.3 380.0L135.7 382.4Z" fill="#546878" stroke="#546878"/><path d="M134.1 387.5L137.8 376.9L135.7 382.4L132.0 378.7Z" fill="#566b7b" stroke="#566b7b"/><path d="M130.5 388.7L134.1 387.5L132.0 378.7L128.4 385.4Z" fill="#698296" stroke="#698296"/><path d="M126.9 377.6L130.5 388.7L128.4 385.4L124.8 386.4Z" fill="#566b7b" stroke="#566b7b"/><path d="M123.3 383.9L126.9 377.6L124.8 386.4L121.2 392.2Z" fill="#546878" stroke="#546878"/><path d="M119.6 401.0L123.3 383.9L121.2 392.2L117.5 405.6Z" fill="#546878" stroke="#546878"/><path d="M116.0 413.8L119.6 401.0L117.5 405.6L113.9 410.6Z" fill="#546878" stroke="#546878"/><path d="M112.4 418.6L116.0 413.8L113.9 410.6L110.3 416.2Z" fill="#546878" stroke="#546878"/><path d="M108.7 423.3L112.4 418.6L110.3 416.2L106.6 421.9Z" fill="#566b7b" stroke="#566b7b"/><path d="M105.1 425.3L108.7 423.3L106.6 421.9L103.0 424.2Z" fill="#627a8d" stroke="#627a8d"/><path d="M101.5 427.0L105.1 425.3L103.0 424.2L99.4 425.8Z" fill="#728a9d" stroke="#728a9d"/><path d="M97.9 428.7L101.5 427.0L99.4 425.8L95.8 426.9Z" fill="#879bab" stroke="#879bab"/><path d="M94.2 430.4L97.9 428.7L95.8 426.9L92.1 427.9Z" fill="#9fafbc" stroke="#9fafbc"/><path d="M90.6 432.1L94.2 430.4L92.1 427.9L88.5 429.2Z" fill="#b1bec9" stroke="#b1bec9"/><path d="M87.0 433.7L90.6 432.1L88.5 429.2L84.9 430.8Z" fill="#b7c3cd" stroke="#b7c3cd"/><path d="M83.4 435.6L87.0 433.7L84.9 430.8L81.3 433.0Z" fill="#b1bec9" stroke="#b1bec9"/><path d="M79.7 432.3L83.4 435.6L81.3 433.0L77.6 431.1Z" fill="#8196a7" stroke="#8196a7"/><path d="M76.1 447.7L79.7 432.3L77.6 431.1L74.0 446.3Z" fill="#627a8d" stroke="#627a8d"/><path d="M72.5 448.4L76.1 447.7L74.0 446.3L70.4 447.1Z" fill="#6c8599" stroke="#6c8599"/><path d="M68.8 449.2L72.5 448.4L70.4 447.1L66.7 447.9Z" fill="#758c9f" stroke="#758c9f"/><path d="M208.8 420.9L212.4 420.1L210.3 418.8L206.7 419.6Z" fill="#758c9f" stroke="#758c9f"/><path d="M205.1 421.7L208.8 420.9L206.7 419.6L203.1 420.3Z" fill="#758c9f" stroke="#758c9f"/><path d="M201.5 422.5L205.1 421.7L203.1 420.3L199.4 421.1Z" fill="#6f879b" stroke="#6f879b"/><path d="M197.9 413.9L201.5 422.5L199.4 421.1L195.8 411.8Z" fill="#60788a" stroke="#60788a"/><path d="M194.3 415.0L197.9 413.9L195.8 411.8L192.2 413.1Z" fill="#90a3b2" stroke="#90a3b2"/><path d="M190.6 415.3L194.3 415.0L192.2 413.1L188.5 414.2Z" fill="#8196a7" stroke="#8196a7"/><path d="M187.0 415.6L190.6 415.3L188.5 414.2L184.9 414.6Z" fill="#647d90" stroke="#647d90"/><path d="M183.4 416.0L187.0 415.6L184.9 414.6L181.3 415.0Z" fill="#60788a" stroke="#60788a"/><path d="M179.8 416.3L183.4 416.0L181.3 415.0L177.7 415.3Z" fill="#60788a" stroke="#60788a"/><path d="M176.1 416.6L179.8 416.3L177.7 415.3L174.0 414.9Z" fill="#627a8d" stroke="#627a8d"/><path d="M172.5 412.7L176.1 416.6L174.0 414.9L170.4 408.5Z" fill="#60788a" stroke="#60788a"/><path d="M168.9 410.1L172.5 412.7L170.4 408.5L166.8 404.5Z" fill="#627a8d" stroke="#627a8d"/><path d="M165.2 399.4L168.9 410.1L166.8 404.5L163.2 399.3Z" fill="#5c7284" stroke="#5c7284"/><path d="M161.6 387.6L165.2 399.4L163.2 399.3L159.5 395.7Z" fill="#586d7e" stroke="#586d7e"/><path d="M158.0 377.7L161.6 387.6L159.5 395.7L155.9 389.7Z" fill="#546878" stroke="#546878"/><path d="M154.4 376.5L158.0 377.7L155.9 389.7L152.3 389.6Z" fill="#546878" stroke="#546878"/><path d="M150.7 377.4L154.4 376.5L152.3 389.6L148.6 386.5Z" fill="#546878" stroke="#546878"/><path d="M147.1 377.1L150.7 377.4L148.6 386.5L145.0 363.7Z" fill="#5a7081" stroke="#5a7081"/><path d="M143.5 376.9L147.1 377.1L145.0 363.7L141.4 376.9Z" fill="#586d7e" stroke="#586d7e"/><path d="M139.9 373.3L143.5 376.9L141.4 376.9L137.8 376.9Z" fill="#566b7b" stroke="#566b7b"/><path d="M136.2 370.4L139.9 373.3L137.8 376.9L134.1 387.5Z" fill="#546878" stroke="#546878"/><path d="M132.6 365.5L136.2 370.4L134.1 387.5L130.5 388.7Z" fill="#546878" stroke="#546878"/><path d="M129.0 364.6L132.6 365.5L130.5 388.7L126.9 377.6Z" fill="#546878" stroke="#546878"/><path d="M125.3 375.4L129.0 364.6L126.9 377.6L123.3 383.9Z" fill="#546878" stroke="#546878"/><path d="M121.7 398.8L125.3 375.4L123.3 383.9L119.6 401.0Z" fill="#546878" stroke="#546878"/><path d="M118.1 413.0L121.7 398.8L119.6 401.0L116.0 413.8Z" fill="#546878" stroke="#546878"/><path d="M114.5 419.4L118.1 413.0L116.0 413.8L112.4 418.6Z" fill="#546878" stroke="#546878"/><path d="M110.8 424.3L114.5 419.4L112.4 418.6L108.7 423.3Z" fill="#546878" stroke="#546878"/><path d="M107.2 428.6L110.8 424.3L108.7 423.3L105.1 425.3Z" fill="#667f93" stroke="#667f93"/><path d="M103.6 430.2L107.2 428.6L105.1 425.3L101.5 427.0Z" fill="#b4c1cb" stroke="#b4c1cb"/><path d="M100.0 431.8L103.6 430.2L101.5 427.0L97.9 428.7Z" fill="#c3cdd5" stroke="#c3cdd5"/><path d="M96.3 433.4L100.0 431.8L97.9 428.7L94.2 430.4Z" fill="#c3cdd5" stroke="#c3cdd5"/><path d="M92.7 435.1L96.3 433.4L94.2 430.4L90.6 432.1Z" fill="#c3cdd5" stroke="#c3cdd5"/><path d="M89.1 436.7L92.7 435.1L90.6 432.1L87.0 433.7Z" fill="#c3cdd5" stroke="#c3cdd5"/><path d="M85.4 438.3L89.1 436.7L87.0 433.7L83.4 435.6Z" fill="#b1bec9" stroke="#b1bec9"/><path d="M81.8 433.6L85.4 438.3L83.4 435.6L79.7 432.3Z" fill="#758c9f" stroke="#758c9f"/><path d="M78.2 449.0L81.8 433.6L79.7 432.3L76.1 447.7Z" fill="#60788a" stroke="#60788a"/><path d="M74.6 449.8L78.2 449.0L76.1 447.7L72.5 448.4Z" fill="#6c8599" stroke="#6c8599"/><path d="M70.9 450.6L74.6 449.8L72.5 448.4L68.8 449.2Z" fill="#758c9f" stroke="#758c9f"/><path d="M210.9 422.3L214.5 421.5L212.4 420.1L208.8 420.9Z" fill="#758c9f" stroke="#758c9f"/><path d="M207.2 423.0L210.9 422.3L208.8 420.9L205.1 421.7Z" fill="#758c9f" stroke="#758c9f"/><path d="M203.6 423.8L207.2 423.0L205.1 421.7L201.5 422.5Z" fill="#6f879b" stroke="#6f879b"/><path d="M200.0 415.9L203.6 423.8L201.5 422.5L197.9 413.9Z" fill="#5e7587" stroke="#5e7587"/><path d="M196.4 416.0L200.0 415.9L197.9 413.9L194.3 415.0Z" fill="#7b91a3" stroke="#7b91a3"/><path d="M192.7 416.3L196.4 416.0L194.3 415.0L190.6 415.3Z" fill="#6c8599" stroke="#6c8599"/><path d="M189.1 416.6L192.7 416.3L190.6 415.3L187.0 415.6Z" fill="#627a8d" stroke="#627a8d"/><path d="M185.5 416.9L189.1 416.6L187.0 415.6L183.4 416.0Z" fill="#60788a" stroke="#60788a"/><path d="M181.9 417.2L185.5 416.9L183.4 416.0L179.8 416.3Z" fill="#60788a" stroke="#60788a"/><path d="M178.2 417.6L181.9 417.2L179.8 416.3L176.1 416.6Z" fill="#60788a" stroke="#60788a"/><path d="M174.6 414.8L178.2 417.6L176.1 416.6L172.5 412.7Z" fill="#60788a" stroke="#60788a"/><path d="M171.0 408.7L174.6 414.8L172.5 412.7L168.9 410.1Z" fill="#5e7587" stroke="#5e7587"/><path d="M167.3 392.7L171.0 408.7L168.9 410.1L165.2 399.4Z" fill="#5a7081" stroke="#5a7081"/><path d="M163.7 380.5L167.3 392.7L165.2 399.4L161.6 387.6Z" fill="#586d7e" stroke="#586d7e"/><path d="M160.1 370.7L163.7 380.5L161.6 387.6L158.0 377.7Z" fill="#566b7b" stroke="#566b7b"/><path d="M156.5 364.6L160.1 370.7L158.0 377.7L154.4 376.5Z" fill="#546878" stroke="#546878"/><path d="M152.8 360.8L156.5 364.6L154.4 376.5L150.7 377.4Z" fill="#546878" stroke="#546878"/><path d="M149.2 374.7L152.8 360.8L150.7 377.4L147.1 377.1Z" fill="#546878" stroke="#546878"/><path d="M145.6 368.1L149.2 374.7L147.1 377.1L143.5 376.9Z" fill="#566b7b" stroke="#566b7b"/><path d="M142.0 358.6L145.6 368.1L143.5 376.9L139.9 373.3Z" fill="#546878" stroke="#546878"/><path d="M138.3 356.9L142.0 358.6L139.9 373.3L136.2 370.4Z" fill="#546878" stroke="#546878"/><path d="M134.7 365.7L138.3 356.9L136.2 370.4L132.6 365.5Z" fill="#546878" stroke="#546878"/><path d="M131.1 366.7L134.7 365.7L132.6 365.5L129.0 364.6Z" fill="#5e7587" stroke="#5e7587"/><path d="M127.4 376.1L131.1 366.7L129.0 364.6L125.3 375.4Z" fill="#566b7b" stroke="#566b7b"/><path d="M123.8 399.6L127.4 376.1L125.3 375.4L121.7 398.8Z" fill="#546878" stroke="#546878"/><path d="M120.2 410.2L123.8 399.6L121.7 398.8L118.1 413.0Z" fill="#546878" stroke="#546878"/><path d="M116.6 417.8L120.2 410.2L118.1 413.0L114.5 419.4Z" fill="#546878" stroke="#546878"/><path d="M112.9 425.1L116.6 417.8L114.5 419.4L110.8 424.3Z" fill="#546878" stroke="#546878"/><path d="M109.3 431.9L112.9 425.1L110.8 424.3L107.2 428.6Z" fill="#5e7587" stroke="#5e7587"/><path d="M105.7 433.5L109.3 431.9L107.2 428.6L103.6 430.2Z" fill="#b7c3cd" stroke="#b7c3cd"/><path d="M102.0 435.1L105.7 433.5L103.6 430.2L100.0 431.8Z" fill="#c9d2d9" stroke="#c9d2d9"/><path d="M98.4 436.5L102.0 435.1L100.0 431.8L96.3 433.4Z" fill="#c9d2d9" stroke="#c9d2d9"/><path d="M94.8 438.0L98.4 436.5L96.3 433.4L92.7 435.1Z" fill="#c3cdd5" stroke="#c3cdd5"/><path d="M91.2 439.0L94.8 438.0L92.7 435.1L89.1 436.7Z" fill="#bac6cf" stroke="#bac6cf"/><path d="M87.5 439.3L91.2 439.0L89.1 436.7L85.4 438.3Z" fill="#8da0b0" stroke="#8da0b0"/><path d="M83.9 434.9L87.5 439.3L85.4 438.3L81.8 433.6Z" fill="#667f93" stroke="#667f93"/><path d="M80.3 450.4L83.9 434.9L81.8 433.6L78.2 449.0Z" fill="#5c7284" stroke="#5c7284"/><path d="M76.7 451.2L80.3 450.4L78.2 449.0L74.6 449.8Z" fill="#6c8599" stroke="#6c8599"/><path d="M73.0 451.9L76.7 451.2L74.6 449.8L70.9 450.6Z" fill="#758c9f" stroke="#758c9f"/><path d="M213.0 423.6L216.6 422.8L214.5 421.5L210.9 422.3Z" fill="#758c9f" stroke="#758c9f"/><path d="M209.3 424.4L213.0 423.6L210.9 422.3L207.2 423.0Z" fill="#758c9f" stroke="#758c9f"/><path d="M205.7 425.2L209.3 424.4L207.2 423.0L203.6 423.8Z" fill="#6f879b" stroke="#6f879b"/><path d="M202.1 417.5L205.7 425.2L203.6 423.8L200.0 415.9Z" fill="#60788a" stroke="#60788a"/><path d="M198.5 419.3L202.1 417.5L200.0 415.9L196.4 416.0Z" fill="#a5b4c0" stroke="#a5b4c0"/><path d="M194.8 418.7L198.5 419.3L196.4 416.0L192.7 416.3Z" fill="#aebcc7" stroke="#aebcc7"/><path d="M191.2 418.0L194.8 418.7L192.7 416.3L189.1 416.6Z" fill="#8a9ead" stroke="#8a9ead"/><path d="M187.6 417.9L191.2 418.0L189.1 416.6L185.5 416.9Z" fill="#6f879b" stroke="#6f879b"/><path d="M183.9 418.2L187.6 417.9L185.5 416.9L181.9 417.2Z" fill="#698296" stroke="#698296"/><path d="M180.3 418.5L183.9 418.2L181.9 417.2L178.2 417.6Z" fill="#627a8d" stroke="#627a8d"/><path d="M176.7 416.8L180.3 418.5L178.2 417.6L174.6 414.8Z" fill="#60788a" stroke="#60788a"/><path d="M173.1 409.8L176.7 416.8L174.6 414.8L171.0 408.7Z" fill="#5e7587" stroke="#5e7587"/><path d="M169.4 395.0L173.1 409.8L171.0 408.7L167.3 392.7Z" fill="#5c7284" stroke="#5c7284"/><path d="M165.8 378.9L169.4 395.0L167.3 392.7L163.7 380.5Z" fill="#5a7081" stroke="#5a7081"/><path d="M162.2 362.7L165.8 378.9L163.7 380.5L160.1 370.7Z" fill="#586d7e" stroke="#586d7e"/><path d="M158.6 365.8L162.2 362.7L160.1 370.7L156.5 364.6Z" fill="#586d7e" stroke="#586d7e"/><path d="M154.9 363.5L158.6 365.8L156.5 364.6L152.8 360.8Z" fill="#5c7284" stroke="#5c7284"/><path d="M151.3 375.0L154.9 363.5L152.8 360.8L149.2 374.7Z" fill="#546878" stroke="#546878"/><path d="M147.7 364.0L151.3 375.0L149.2 374.7L145.6 368.1Z" fill="#586d7e" stroke="#586d7e"/><path d="M144.0 353.8L147.7 364.0L145.6 368.1L142.0 358.6Z" fill="#586d7e" stroke="#586d7e"/><path d="M140.4 351.5L144.0 353.8L142.0 358.6L138.3 356.9Z" fill="#546878" stroke="#546878"/><path d="M136.8 368.9L140.4 351.5L138.3 356.9L134.7 365.7Z" fill="#546878" stroke="#546878"/><path d="M133.2 377.3L136.8 368.9L134.7 365.7L131.1 366.7Z" fill="#667f93" stroke="#667f93"/><path d="M129.5 395.2L133.2 377.3L131.1 366.7L127.4 376.1Z" fill="#586d7e" stroke="#586d7e"/><path d="M125.9 394.5L129.5 395.2L127.4 376.1L123.8 399.6Z" fill="#546878" stroke="#546878"/><path d="M122.3 409.2L125.9 394.5L123.8 399.6L120.2 410.2Z" fill="#546878" stroke="#546878"/><path d="M118.7 418.2L122.3 409.2L120.2 410.2L116.6 417.8Z" fill="#546878" stroke="#546878"/><path d="M115.0 427.6L118.7 418.2L116.6 417.8L112.9 425.1Z" fill="#546878" stroke="#546878"/><path d="M111.4 434.8L115.0 427.6L112.9 425.1L109.3 431.9Z" fill="#5c7284" stroke="#5c7284"/><path d="M107.8 436.2L111.4 434.8L109.3 431.9L105.7 433.5Z" fill="#b1bec9" stroke="#b1bec9"/><path d="M104.1 437.7L107.8 436.2L105.7 433.5L102.0 435.1Z" fill="#c0cbd3" stroke="#c0cbd3"/><path d="M100.5 438.8L104.1 437.7L102.0 435.1L98.4 436.5Z" fill="#bac6cf" stroke="#bac6cf"/><path d="M96.9 439.7L100.5 438.8L98.4 436.5L94.8 438.0Z" fill="#a5b4c0" stroke="#a5b4c0"/><path d="M93.3 440.6L96.9 439.7L94.8 438.0L91.2 439.0Z" fill="#90a3b2" stroke="#90a3b2"/><path d="M89.6 440.1L93.3 440.6L91.2 439.0L87.5 439.3Z" fill="#667f93" stroke="#667f93"/><path d="M86.0 436.2L89.6 440.1L87.5 439.3L83.9 434.9Z" fill="#60788a" stroke="#60788a"/><path d="M82.4 451.7L86.0 436.2L83.9 434.9L80.3 450.4Z" fill="#5a7081" stroke="#5a7081"/><path d="M78.8 452.5L82.4 451.7L80.3 450.4L76.7 451.2Z" fill="#6c8599" stroke="#6c8599"/><path d="M75.1 453.3L78.8 452.5L76.7 451.2L73.0 451.9Z" fill="#758c9f" stroke="#758c9f"/><path d="M215.1 425.0L218.7 424.2L216.6 422.8L213.0 423.6Z" fill="#758c9f" stroke="#758c9f"/><path d="M211.4 425.7L215.1 425.0L213.0 423.6L209.3 424.4Z" fill="#758c9f" stroke="#758c9f"/><path d="M207.8 426.5L211.4 425.7L209.3 424.4L205.7 425.2Z" fill="#6f879b" stroke="#6f879b"/><path d="M204.2 418.6L207.8 426.5L205.7 425.2L202.1 417.5Z" fill="#60788a" stroke="#60788a"/><path d="M200.5 421.5L204.2 418.6L202.1 417.5L198.5 419.3Z" fill="#788fa1" stroke="#788fa1"/><path d="M196.9 422.8L200.5 421.5L198.5 419.3L194.8 418.7Z" fill="#c3cdd5" stroke="#c3cdd5"/><path d="M193.3 422.1L196.9 422.8L194.8 418.7L191.2 418.0Z" fill="#bdc8d1" stroke="#bdc8d1"/><path d="M189.7 421.4L193.3 422.1L191.2 418.0L187.6 417.9Z" fill="#bac6cf" stroke="#bac6cf"/><path d="M186.0 420.8L189.7 421.4L187.6 417.9L183.9 418.2Z" fill="#b1bec9" stroke="#b1bec9"/><path d="M182.4 420.1L186.0 420.8L183.9 418.2L180.3 418.5Z" fill="#8499a9" stroke="#8499a9"/><path d="M178.8 418.2L182.4 420.1L180.3 418.5L176.7 416.8Z" fill="#60788a" stroke="#60788a"/><path d="M175.2 407.4L178.8 418.2L176.7 416.8L173.1 409.8Z" fill="#5c7284" stroke="#5c7284"/><path d="M171.5 398.1L175.2 407.4L173.1 409.8L169.4 395.0Z" fill="#5a7081" stroke="#5a7081"/><path d="M167.9 380.4L171.5 398.1L169.4 395.0L165.8 378.9Z" fill="#5c7284" stroke="#5c7284"/><path d="M164.3 368.6L167.9 380.4L165.8 378.9L162.2 362.7Z" fill="#627a8d" stroke="#627a8d"/><path d="M160.6 370.8L164.3 368.6L162.2 362.7L158.6 365.8Z" fill="#90a3b2" stroke="#90a3b2"/><path d="M157.0 360.3L160.6 370.8L158.6 365.8L154.9 363.5Z" fill="#60788a" stroke="#60788a"/><path d="M153.4 341.4L157.0 360.3L154.9 363.5L151.3 375.0Z" fill="#546878" stroke="#546878"/><path d="M149.8 372.5L153.4 341.4L151.3 375.0L147.7 364.0Z" fill="#546878" stroke="#546878"/><path d="M146.1 354.7L149.8 372.5L147.7 364.0L144.0 353.8Z" fill="#627a8d" stroke="#627a8d"/><path d="M142.5 365.3L146.1 354.7L144.0 353.8L140.4 351.5Z" fill="#788fa1" stroke="#788fa1"/><path d="M138.9 351.7L142.5 365.3L140.4 351.5L136.8 368.9Z" fill="#546878" stroke="#546878"/><path d="M135.3 369.8L138.9 351.7L136.8 368.9L133.2 377.3Z" fill="#546878" stroke="#546878"/><path d="M131.6 385.1L135.3 369.8L133.2 377.3L129.5 395.2Z" fill="#546878" stroke="#546878"/><path d="M128.0 390.8L131.6 385.1L129.5 395.2L125.9 394.5Z" fill="#546878" stroke="#546878"/><path d="M124.4 408.7L128.0 390.8L125.9 394.5L122.3 409.2Z" fill="#546878" stroke="#546878"/><path d="M120.7 419.7L124.4 408.7L122.3 409.2L118.7 418.2Z" fill="#546878" stroke="#546878"/><path d="M117.1 432.2L120.7 419.7L118.7 418.2L115.0 427.6Z" fill="#546878" stroke="#546878"/><path d="M113.5 437.4L117.1 432.2L115.0 427.6L111.4 434.8Z" fill="#5c7284" stroke="#5c7284"/><path d="M109.9 438.5L113.5 437.4L111.4 434.8L107.8 436.2Z" fill="#a5b4c0" stroke="#a5b4c0"/><path d="M106.2 439.4L109.9 438.5L107.8 436.2L104.1 437.7Z" fill="#a5b4c0" stroke="#a5b4c0"/><path d="M102.6 440.3L106.2 439.4L104.1 437.7L100.5 438.8Z" fill="#93a5b4" stroke="#93a5b4"/><path d="M99.0 441.2L102.6 440.3L100.5 438.8L96.9 439.7Z" fill="#8a9ead" stroke="#8a9ead"/><path d="M95.4 442.1L99.0 441.2L96.9 439.7L93.3 440.6Z" fill="#7e94a5" stroke="#7e94a5"/><path d="M91.7 441.0L95.4 442.1L93.3 440.6L89.6 440.1Z" fill="#627a8d" stroke="#627a8d"/><path d="M88.1 437.6L91.7 441.0L89.6 440.1L86.0 436.2Z" fill="#60788a" stroke="#60788a"/><path d="M84.5 453.1L88.1 437.6L86.0 436.2L82.4 451.7Z" fill="#5a7081" stroke="#5a7081"/><path d="M80.8 453.9L84.5 453.1L82.4 451.7L78.8 452.5Z" fill="#6c8599" stroke="#6c8599"/><path d="M77.2 454.6L80.8 453.9L78.8 452.5L75.1 453.3Z" fill="#758c9f" stroke="#758c9f"/><path d="M217.2 426.3L220.8 425.5L218.7 424.2L215.1 425.0Z" fill="#758c9f" stroke="#758c9f"/><path d="M213.5 427.1L217.2 426.3L215.1 425.0L211.4 425.7Z" fill="#758c9f" stroke="#758c9f"/><path d="M209.9 427.9L213.5 427.1L211.4 425.7L207.8 426.5Z" fill="#6f879b" stroke="#6f879b"/><path d="M206.3 419.6L209.9 427.9L207.8 426.5L204.2 418.6Z" fill="#5e7587" stroke="#5e7587"/><path d="M202.6 422.9L206.3 419.6L204.2 418.6L200.5 421.5Z" fill="#60788a" stroke="#60788a"/><path d="M199.0 425.4L202.6 422.9L200.5 421.5L196.9 422.8Z" fill="#99aab8" stroke="#99aab8"/><path d="M195.4 426.2L199.0 425.4L196.9 422.8L193.3 422.1Z" fill="#c9d2d9" stroke="#c9d2d9"/><path d="M191.8 425.5L195.4 426.2L193.3 422.1L189.7 421.4Z" fill="#c0cbd3" stroke="#c0cbd3"/><path d="M188.1 424.8L191.8 425.5L189.7 421.4L186.0 420.8Z" fill="#b4c1cb" stroke="#b4c1cb"/><path d="M184.5 423.0L188.1 424.8L186.0 420.8L182.4 420.1Z" fill="#8a9ead" stroke="#8a9ead"/><path d="M180.9 414.6L184.5 423.0L182.4 420.1L178.8 418.2Z" fill="#5c7284" stroke="#5c7284"/><path d="M177.3 402.0L180.9 414.6L178.8 418.2L175.2 407.4Z" fill="#5a7081" stroke="#5a7081"/><path d="M173.6 398.3L177.3 402.0L175.2 407.4L171.5 398.1Z" fill="#5a7081" stroke="#5a7081"/><path d="M170.0 391.4L173.6 398.3L171.5 398.1L167.9 380.4Z" fill="#5e7587" stroke="#5e7587"/><path d="M166.4 384.0L170.0 391.4L167.9 380.4L164.3 368.6Z" fill="#647d90" stroke="#647d90"/><path d="M162.7 380.9L166.4 384.0L164.3 368.6L160.6 370.8Z" fill="#879bab" stroke="#879bab"/><path d="M159.1 362.3L162.7 380.9L160.6 370.8L157.0 360.3Z" fill="#60788a" stroke="#60788a"/><path d="M155.5 337.6L159.1 362.3L157.0 360.3L153.4 341.4Z" fill="#586d7e" stroke="#586d7e"/><path d="M151.9 370.3L155.5 337.6L153.4 341.4L149.8 372.5Z" fill="#546878" stroke="#546878"/><path d="M148.2 349.7L151.9 370.3L149.8 372.5L146.1 354.7Z" fill="#5e7587" stroke="#5e7587"/><path d="M144.6 370.2L148.2 349.7L146.1 354.7L142.5 365.3Z" fill="#647d90" stroke="#647d90"/><path d="M141.0 340.3L144.6 370.2L142.5 365.3L138.9 351.7Z" fill="#667f93" stroke="#667f93"/><path d="M137.4 376.2L141.0 340.3L138.9 351.7L135.3 369.8Z" fill="#5a7081" stroke="#5a7081"/><path d="M133.7 387.8L137.4 376.2L135.3 369.8L131.6 385.1Z" fill="#546878" stroke="#546878"/><path d="M130.1 396.6L133.7 387.8L131.6 385.1L128.0 390.8Z" fill="#546878" stroke="#546878"/><path d="M126.5 408.8L130.1 396.6L128.0 390.8L124.4 408.7Z" fill="#546878" stroke="#546878"/><path d="M122.8 419.9L126.5 408.8L124.4 408.7L120.7 419.7Z" fill="#546878" stroke="#546878"/><path d="M119.2 433.4L122.8 419.9L120.7 419.7L117.1 432.2Z" fill="#546878" stroke="#546878"/><path d="M115.6 438.3L119.2 433.4L117.1 432.2L113.5 437.4Z" fill="#566b7b" stroke="#566b7b"/><path d="M112.0 440.1L115.6 438.3L113.5 437.4L109.9 438.5Z" fill="#6c8599" stroke="#6c8599"/><path d="M108.3 441.0L112.0 440.1L109.9 438.5L106.2 439.4Z" fill="#879bab" stroke="#879bab"/><path d="M104.7 441.9L108.3 441.0L106.2 439.4L102.6 440.3Z" fill="#879bab" stroke="#879bab"/><path d="M101.1 442.8L104.7 441.9L102.6 440.3L99.0 441.2Z" fill="#8499a9" stroke="#8499a9"/><path d="M97.5 443.1L101.1 442.8L99.0 441.2L95.4 442.1Z" fill="#6c8599" stroke="#6c8599"/><path d="M93.8 441.8L97.5 443.1L95.4 442.1L91.7 441.0Z" fill="#60788a" stroke="#60788a"/><path d="M90.2 438.9L93.8 441.8L91.7 441.0L88.1 437.6Z" fill="#60788a" stroke="#60788a"/><path d="M86.6 454.4L90.2 438.9L88.1 437.6L84.5 453.1Z" fill="#5a7081" stroke="#5a7081"/><path d="M82.9 455.2L86.6 454.4L84.5 453.1L80.8 453.9Z" fill="#6c8599" stroke="#6c8599"/><path d="M79.3 456.0L82.9 455.2L80.8 453.9L77.2 454.6Z" fill="#758c9f" stroke="#758c9f"/><path d="M219.2 427.7L222.9 426.9L220.8 425.5L217.2 426.3Z" fill="#758c9f" stroke="#758c9f"/><path d="M215.6 428.5L219.2 427.7L217.2 426.3L213.5 427.1Z" fill="#758c9f" stroke="#758c9f"/><path d="M212.0 429.2L215.6 428.5L213.5 427.1L209.9 427.9Z" fill="#6f879b" stroke="#6f879b"/><path d="M208.4 420.6L212.0 429.2L209.9 427.9L206.3 419.6Z" fill="#5e7587" stroke="#5e7587"/><path d="M204.7 424.3L208.4 420.6L206.3 419.6L202.6 422.9Z" fill="#5a7081" stroke="#5a7081"/><path d="M201.1 426.9L204.7 424.3L202.6 422.9L199.0 425.4Z" fill="#667f93" stroke="#667f93"/><path d="M197.5 429.4L201.1 426.9L199.0 425.4L195.4 426.2Z" fill="#abb9c4" stroke="#abb9c4"/><path d="M193.9 429.6L197.5 429.4L195.4 426.2L191.8 425.5Z" fill="#c0cbd3" stroke="#c0cbd3"/><path d="M190.2 427.5L193.9 429.6L191.8 425.5L188.1 424.8Z" fill="#8da0b0" stroke="#8da0b0"/><path d="M186.6 423.4L190.2 427.5L188.1 424.8L184.5 423.0Z" fill="#627a8d" stroke="#627a8d"/><path d="M183.0 418.6L186.6 423.4L184.5 423.0L180.9 414.6Z" fill="#5e7587" stroke="#5e7587"/><path d="M179.3 402.4L183.0 418.6L180.9 414.6L177.3 402.0Z" fill="#5c7284" stroke="#5c7284"/><path d="M175.7 401.8L179.3 402.4L177.3 402.0L173.6 398.3Z" fill="#60788a" stroke="#60788a"/><path d="M172.1 385.8L175.7 401.8L173.6 398.3L170.0 391.4Z" fill="#5c7284" stroke="#5c7284"/><path d="M168.5 390.1L172.1 385.8L170.0 391.4L166.4 384.0Z" fill="#5e7587" stroke="#5e7587"/><path d="M164.8 381.8L168.5 390.1L166.4 384.0L162.7 380.9Z" fill="#5e7587" stroke="#5e7587"/><path d="M161.2 359.2L164.8 381.8L162.7 380.9L159.1 362.3Z" fill="#5c7284" stroke="#5c7284"/><path d="M157.6 336.4L161.2 359.2L159.1 362.3L155.5 337.6Z" fill="#5a7081" stroke="#5a7081"/><path d="M154.0 342.3L157.6 336.4L155.5 337.6L151.9 370.3Z" fill="#546878" stroke="#546878"/><path d="M150.3 353.9L154.0 342.3L151.9 370.3L148.2 349.7Z" fill="#546878" stroke="#546878"/><path d="M146.7 379.9L150.3 353.9L148.2 349.7L144.6 370.2Z" fill="#5a7081" stroke="#5a7081"/><path d="M143.1 380.6L146.7 379.9L144.6 370.2L141.0 340.3Z" fill="#698296" stroke="#698296"/><path d="M139.4 388.5L143.1 380.6L141.0 340.3L137.4 376.2Z" fill="#5e7587" stroke="#5e7587"/><path d="M135.8 387.0L139.4 388.5L137.4 376.2L133.7 387.8Z" fill="#5e7587" stroke="#5e7587"/><path d="M132.2 396.8L135.8 387.0L133.7 387.8L130.1 396.6Z" fill="#546878" stroke="#546878"/><path d="M128.6 409.8L132.2 396.8L130.1 396.6L126.5 408.8Z" fill="#546878" stroke="#546878"/><path d="M124.9 421.2L128.6 409.8L126.5 408.8L122.8 419.9Z" fill="#546878" stroke="#546878"/><path d="M121.3 433.5L124.9 421.2L122.8 419.9L119.2 433.4Z" fill="#546878" stroke="#546878"/><path d="M117.7 438.2L121.3 433.5L119.2 433.4L115.6 438.3Z" fill="#546878" stroke="#546878"/><path d="M114.1 441.6L117.7 438.2L115.6 438.3L112.0 440.1Z" fill="#5a7081" stroke="#5a7081"/><path d="M110.4 442.5L114.1 441.6L112.0 440.1L108.3 441.0Z" fill="#7e94a5" stroke="#7e94a5"/><path d="M106.8 443.4L110.4 442.5L108.3 441.0L104.7 441.9Z" fill="#879bab" stroke="#879bab"/><path d="M103.2 444.3L106.8 443.4L104.7 441.9L101.1 442.8Z" fill="#8196a7" stroke="#8196a7"/><path d="M99.5 443.7L103.2 444.3L101.1 442.8L97.5 443.1Z" fill="#647d90" stroke="#647d90"/><path d="M95.9 442.7L99.5 443.7L97.5 443.1L93.8 441.8Z" fill="#60788a" stroke="#60788a"/><path d="M92.3 440.2L95.9 442.7L93.8 441.8L90.2 438.9Z" fill="#60788a" stroke="#60788a"/><path d="M88.7 455.8L92.3 440.2L90.2 438.9L86.6 454.4Z" fill="#586d7e" stroke="#586d7e"/><path d="M85.0 456.6L88.7 455.8L86.6 454.4L82.9 455.2Z" fill="#6c8599" stroke="#6c8599"/><path d="M81.4 457.3L85.0 456.6L82.9 455.2L79.3 456.0Z" fill="#758c9f" stroke="#758c9f"/><path d="M221.3 429.0L225.0 428.2L222.9 426.9L219.2 427.7Z" fill="#758c9f" stroke="#758c9f"/><path d="M217.7 429.8L221.3 429.0L219.2 427.7L215.6 428.5Z" fill="#758c9f" stroke="#758c9f"/><path d="M214.1 430.6L217.7 429.8L215.6 428.5L212.0 429.2Z" fill="#6f879b" stroke="#6f879b"/><path d="M210.5 421.7L214.1 430.6L212.0 429.2L208.4 420.6Z" fill="#5e7587" stroke="#5e7587"/><path d="M206.8 425.8L210.5 421.7L208.4 420.6L204.7 424.3Z" fill="#5a7081" stroke="#5a7081"/><path d="M203.2 428.3L206.8 425.8L204.7 424.3L201.1 426.9Z" fill="#5e7587" stroke="#5e7587"/><path d="M199.6 430.8L203.2 428.3L201.1 426.9L197.5 429.4Z" fill="#667f93" stroke="#667f93"/><path d="M195.9 432.8L199.6 430.8L197.5 429.4L193.9 429.6Z" fill="#9fafbc" stroke="#9fafbc"/><path d="M192.3 427.7L195.9 432.8L193.9 429.6L190.2 427.5Z" fill="#647d90" stroke="#647d90"/><path d="M188.7 422.3L192.3 427.7L190.2 427.5L186.6 423.4Z" fill="#5c7284" stroke="#5c7284"/><path d="M185.1 416.9L188.7 422.3L186.6 423.4L183.0 418.6Z" fill="#5c7284" stroke="#5c7284"/><path d="M181.4 414.3L185.1 416.9L183.0 418.6L179.3 402.4Z" fill="#5e7587" stroke="#5e7587"/><path d="M177.8 403.5L181.4 414.3L179.3 402.4L175.7 401.8Z" fill="#60788a" stroke="#60788a"/><path d="M174.2 384.5L177.8 403.5L175.7 401.8L172.1 385.8Z" fill="#5c7284" stroke="#5c7284"/><path d="M170.6 388.4L174.2 384.5L172.1 385.8L168.5 390.1Z" fill="#586d7e" stroke="#586d7e"/><path d="M166.9 372.0L170.6 388.4L168.5 390.1L164.8 381.8Z" fill="#5a7081" stroke="#5a7081"/><path d="M163.3 380.9L166.9 372.0L164.8 381.8L161.2 359.2Z" fill="#5e7587" stroke="#5e7587"/><path d="M159.7 363.1L163.3 380.9L161.2 359.2L157.6 336.4Z" fill="#5e7587" stroke="#5e7587"/><path d="M156.0 349.8L159.7 363.1L157.6 336.4L154.0 342.3Z" fill="#7b91a3" stroke="#7b91a3"/><path d="M152.4 346.9L156.0 349.8L154.0 342.3L150.3 353.9Z" fill="#5e7587" stroke="#5e7587"/><path d="M148.8 372.7L152.4 346.9L150.3 353.9L146.7 379.9Z" fill="#546878" stroke="#546878"/><path d="M145.2 381.4L148.8 372.7L146.7 379.9L143.1 380.6Z" fill="#546878" stroke="#546878"/><path d="M141.5 387.4L145.2 381.4L143.1 380.6L139.4 388.5Z" fill="#586d7e" stroke="#586d7e"/><path d="M137.9 388.6L141.5 387.4L139.4 388.5L135.8 387.0Z" fill="#627a8d" stroke="#627a8d"/><path d="M134.3 402.2L137.9 388.6L135.8 387.0L132.2 396.8Z" fill="#586d7e" stroke="#586d7e"/><path d="M130.7 415.2L134.3 402.2L132.2 396.8L128.6 409.8Z" fill="#546878" stroke="#546878"/><path d="M127.0 426.6L130.7 415.2L128.6 409.8L124.9 421.2Z" fill="#546878" stroke="#546878"/><path d="M123.4 437.0L127.0 426.6L124.9 421.2L121.3 433.5Z" fill="#546878" stroke="#546878"/><path d="M119.8 438.2L123.4 437.0L121.3 433.5L117.7 438.2Z" fill="#5a7081" stroke="#5a7081"/><path d="M116.1 442.2L119.8 438.2L117.7 438.2L114.1 441.6Z" fill="#586d7e" stroke="#586d7e"/><path d="M112.5 444.1L116.1 442.2L114.1 441.6L110.4 442.5Z" fill="#627a8d" stroke="#627a8d"/><path d="M108.9 445.0L112.5 444.1L110.4 442.5L106.8 443.4Z" fill="#8196a7" stroke="#8196a7"/><path d="M105.3 445.9L108.9 445.0L106.8 443.4L103.2 444.3Z" fill="#7e94a5" stroke="#7e94a5"/><path d="M101.6 444.4L105.3 445.9L103.2 444.3L99.5 443.7Z" fill="#627a8d" stroke="#627a8d"/><path d="M98.0 443.5L101.6 444.4L99.5 443.7L95.9 442.7Z" fill="#60788a" stroke="#60788a"/><path d="M94.4 441.5L98.0 443.5L95.9 442.7L92.3 440.2Z" fill="#60788a" stroke="#60788a"/><path d="M90.8 457.1L94.4 441.5L92.3 440.2L88.7 455.8Z" fill="#586d7e" stroke="#586d7e"/><path d="M87.1 457.9L90.8 457.1L88.7 455.8L85.0 456.6Z" fill="#6c8599" stroke="#6c8599"/><path d="M83.5 458.7L87.1 457.9L85.0 456.6L81.4 457.3Z" fill="#758c9f" stroke="#758c9f"/><path d="M223.4 430.4L227.1 429.6L225.0 428.2L221.3 429.0Z" fill="#758c9f" stroke="#758c9f"/><path d="M219.8 431.2L223.4 430.4L221.3 429.0L217.7 429.8Z" fill="#758c9f" stroke="#758c9f"/><path d="M216.2 431.9L219.8 431.2L217.7 429.8L214.1 430.6Z" fill="#6f879b" stroke="#6f879b"/><path d="M212.6 422.7L216.2 431.9L214.1 430.6L210.5 421.7Z" fill="#5e7587" stroke="#5e7587"/><path d="M208.9 427.2L212.6 422.7L210.5 421.7L206.8 425.8Z" fill="#586d7e" stroke="#586d7e"/><path d="M205.3 429.3L208.9 427.2L206.8 425.8L203.2 428.3Z" fill="#5a7081" stroke="#5a7081"/><path d="M201.7 431.0L205.3 429.3L203.2 428.3L199.6 430.8Z" fill="#5a7081" stroke="#5a7081"/><path d="M198.0 432.7L201.7 431.0L199.6 430.8L195.9 432.8Z" fill="#5a7081" stroke="#5a7081"/><path d="M194.4 428.9L198.0 432.7L195.9 432.8L192.3 427.7Z" fill="#5e7587" stroke="#5e7587"/><path d="M190.8 424.4L194.4 428.9L192.3 427.7L188.7 422.3Z" fill="#5e7587" stroke="#5e7587"/><path d="M187.2 419.0L190.8 424.4L188.7 422.3L185.1 416.9Z" fill="#5e7587" stroke="#5e7587"/><path d="M183.5 412.7L187.2 419.0L185.1 416.9L181.4 414.3Z" fill="#5e7587" stroke="#5e7587"/><path d="M179.9 406.8L183.5 412.7L181.4 414.3L177.8 403.5Z" fill="#5c7284" stroke="#5c7284"/><path d="M176.3 396.5L179.9 406.8L177.8 403.5L174.2 384.5Z" fill="#5e7587" stroke="#5e7587"/><path d="M172.7 387.5L176.3 396.5L174.2 384.5L170.6 388.4Z" fill="#788fa1" stroke="#788fa1"/><path d="M169.0 391.0L172.7 387.5L170.6 388.4L166.9 372.0Z" fill="#627a8d" stroke="#627a8d"/><path d="M165.4 369.6L169.0 391.0L166.9 372.0L163.3 380.9Z" fill="#5e7587" stroke="#5e7587"/><path d="M161.8 367.6L165.4 369.6L163.3 380.9L159.7 363.1Z" fill="#5c7284" stroke="#5c7284"/><path d="M158.1 364.1L161.8 367.6L159.7 363.1L156.0 349.8Z" fill="#6f879b" stroke="#6f879b"/><path d="M154.5 368.7L158.1 364.1L156.0 349.8L152.4 346.9Z" fill="#8499a9" stroke="#8499a9"/><path d="M150.9 385.3L154.5 368.7L152.4 346.9L148.8 372.7Z" fill="#5a7081" stroke="#5a7081"/><path d="M147.3 383.6L150.9 385.3L148.8 372.7L145.2 381.4Z" fill="#788fa1" stroke="#788fa1"/><path d="M143.6 397.2L147.3 383.6L145.2 381.4L141.5 387.4Z" fill="#5a7081" stroke="#5a7081"/><path d="M140.0 405.1L143.6 397.2L141.5 387.4L137.9 388.6Z" fill="#788fa1" stroke="#788fa1"/><path d="M136.4 407.4L140.0 405.1L137.9 388.6L134.3 402.2Z" fill="#627a8d" stroke="#627a8d"/><path d="M132.8 417.0L136.4 407.4L134.3 402.2L130.7 415.2Z" fill="#546878" stroke="#546878"/><path d="M129.1 425.6L132.8 417.0L130.7 415.2L127.0 426.6Z" fill="#546878" stroke="#546878"/><path d="M125.5 439.0L129.1 425.6L127.0 426.6L123.4 437.0Z" fill="#546878" stroke="#546878"/><path d="M121.9 441.7L125.5 439.0L123.4 437.0L119.8 438.2Z" fill="#8a9ead" stroke="#8a9ead"/><path d="M118.2 442.1L121.9 441.7L119.8 438.2L116.1 442.2Z" fill="#6f879b" stroke="#6f879b"/><path d="M114.6 445.6L118.2 442.1L116.1 442.2L112.5 444.1Z" fill="#5e7587" stroke="#5e7587"/><path d="M111.0 446.5L114.6 445.6L112.5 444.1L108.9 445.0Z" fill="#7b91a3" stroke="#7b91a3"/><path d="M107.4 446.8L111.0 446.5L108.9 445.0L105.3 445.9Z" fill="#698296" stroke="#698296"/><path d="M103.7 445.1L107.4 446.8L105.3 445.9L101.6 444.4Z" fill="#60788a" stroke="#60788a"/><path d="M100.1 444.3L103.7 445.1L101.6 444.4L98.0 443.5Z" fill="#60788a" stroke="#60788a"/><path d="M96.5 442.9L100.1 444.3L98.0 443.5L94.4 441.5Z" fill="#60788a" stroke="#60788a"/><path d="M92.9 458.5L96.5 442.9L94.4 441.5L90.8 457.1Z" fill="#586d7e" stroke="#586d7e"/><path d="M89.2 459.3L92.9 458.5L90.8 457.1L87.1 457.9Z" fill="#6c8599" stroke="#6c8599"/><path d="M85.6 460.0L89.2 459.3L87.1 457.9L83.5 458.7Z" fill="#758c9f" stroke="#758c9f"/><path d="M225.5 431.7L229.2 430.9L227.1 429.6L223.4 430.4Z" fill="#758c9f" stroke="#758c9f"/><path d="M221.9 432.5L225.5 431.7L223.4 430.4L219.8 431.2Z" fill="#758c9f" stroke="#758c9f"/><path d="M218.3 433.3L221.9 432.5L219.8 431.2L216.2 431.9Z" fill="#6f879b" stroke="#6f879b"/><path d="M214.6 423.7L218.3 433.3L216.2 431.9L212.6 422.7Z" fill="#5e7587" stroke="#5e7587"/><path d="M211.0 426.2L214.6 423.7L212.6 422.7L208.9 427.2Z" fill="#586d7e" stroke="#586d7e"/><path d="M207.4 429.1L211.0 426.2L208.9 427.2L205.3 429.3Z" fill="#566b7b" stroke="#566b7b"/><path d="M203.8 430.8L207.4 429.1L205.3 429.3L201.7 431.0Z" fill="#586d7e" stroke="#586d7e"/><path d="M200.1 432.6L203.8 430.8L201.7 431.0L198.0 432.7Z" fill="#5a7081" stroke="#5a7081"/><path d="M196.5 428.6L200.1 432.6L198.0 432.7L194.4 428.9Z" fill="#5c7284" stroke="#5c7284"/><path d="M192.9 425.0L196.5 428.6L194.4 428.9L190.8 424.4Z" fill="#5c7284" stroke="#5c7284"/><path d="M189.3 421.1L192.9 425.0L190.8 424.4L187.2 419.0Z" fill="#5e7587" stroke="#5e7587"/><path d="M185.6 415.1L189.3 421.1L187.2 419.0L183.5 412.7Z" fill="#5e7587" stroke="#5e7587"/><path d="M182.0 409.7L185.6 415.1L183.5 412.7L179.9 406.8Z" fill="#5e7587" stroke="#5e7587"/><path d="M178.4 405.1L182.0 409.7L179.9 406.8L176.3 396.5Z" fill="#60788a" stroke="#60788a"/><path d="M174.7 401.3L178.4 405.1L176.3 396.5L172.7 387.5Z" fill="#6c8599" stroke="#6c8599"/><path d="M171.1 393.7L174.7 401.3L172.7 387.5L169.0 391.0Z" fill="#879bab" stroke="#879bab"/><path d="M167.5 384.4L171.1 393.7L169.0 391.0L165.4 369.6Z" fill="#5e7587" stroke="#5e7587"/><path d="M163.9 370.8L167.5 384.4L165.4 369.6L161.8 367.6Z" fill="#647d90" stroke="#647d90"/><path d="M160.2 383.6L163.9 370.8L161.8 367.6L158.1 364.1Z" fill="#7b91a3" stroke="#7b91a3"/><path d="M156.6 395.9L160.2 383.6L158.1 364.1L154.5 368.7Z" fill="#698296" stroke="#698296"/><path d="M153.0 394.9L156.6 395.9L154.5 368.7L150.9 385.3Z" fill="#6c8599" stroke="#6c8599"/><path d="M149.4 398.7L153.0 394.9L150.9 385.3L147.3 383.6Z" fill="#8a9ead" stroke="#8a9ead"/><path d="M145.7 405.4L149.4 398.7L147.3 383.6L143.6 397.2Z" fill="#5e7587" stroke="#5e7587"/><path d="M142.1 409.7L145.7 405.4L143.6 397.2L140.0 405.1Z" fill="#667f93" stroke="#667f93"/><path d="M138.5 410.5L142.1 409.7L140.0 405.1L136.4 407.4Z" fill="#aebcc7" stroke="#aebcc7"/><path d="M134.8 416.2L138.5 410.5L136.4 407.4L132.8 417.0Z" fill="#5a7081" stroke="#5a7081"/><path d="M131.2 426.6L134.8 416.2L132.8 417.0L129.1 425.6Z" fill="#546878" stroke="#546878"/><path d="M127.6 440.0L131.2 426.6L129.1 425.6L125.5 439.0Z" fill="#546878" stroke="#546878"/><path d="M124.0 443.0L127.6 440.0L125.5 439.0L121.9 441.7Z" fill="#5e7587" stroke="#5e7587"/><path d="M120.3 444.8L124.0 443.0L121.9 441.7L118.2 442.1Z" fill="#90a3b2" stroke="#90a3b2"/><path d="M116.7 446.1L120.3 444.8L118.2 442.1L114.6 445.6Z" fill="#6c8599" stroke="#6c8599"/><path d="M113.1 448.1L116.7 446.1L114.6 445.6L111.0 446.5Z" fill="#647d90" stroke="#647d90"/><path d="M109.5 447.5L113.1 448.1L111.0 446.5L107.4 446.8Z" fill="#627a8d" stroke="#627a8d"/><path d="M105.8 445.8L109.5 447.5L107.4 446.8L103.7 445.1Z" fill="#60788a" stroke="#60788a"/><path d="M102.2 445.2L105.8 445.8L103.7 445.1L100.1 444.3Z" fill="#60788a" stroke="#60788a"/><path d="M98.6 444.2L102.2 445.2L100.1 444.3L96.5 442.9Z" fill="#60788a" stroke="#60788a"/><path d="M94.9 459.8L98.6 444.2L96.5 442.9L92.9 458.5Z" fill="#586d7e" stroke="#586d7e"/><path d="M91.3 460.6L94.9 459.8L92.9 458.5L89.2 459.3Z" fill="#6c8599" stroke="#6c8599"/><path d="M87.7 461.4L91.3 460.6L89.2 459.3L85.6 460.0Z" fill="#758c9f" stroke="#758c9f"/><path d="M227.6 433.1L231.3 432.3L229.2 430.9L225.5 431.7Z" fill="#758c9f" stroke="#758c9f"/><path d="M224.0 433.9L227.6 433.1L225.5 431.7L221.9 432.5Z" fill="#758c9f" stroke="#758c9f"/><path d="M220.4 434.6L224.0 433.9L221.9 432.5L218.3 433.3Z" fill="#6f879b" stroke="#6f879b"/><path d="M216.7 424.8L220.4 434.6L218.3 433.3L214.6 423.7Z" fill="#5e7587" stroke="#5e7587"/><path d="M213.1 425.7L216.7 424.8L214.6 423.7L211.0 426.2Z" fill="#5a7081" stroke="#5a7081"/><path d="M209.5 427.8L213.1 425.7L211.0 426.2L207.4 429.1Z" fill="#566b7b" stroke="#566b7b"/><path d="M205.9 430.6L209.5 427.8L207.4 429.1L203.8 430.8Z" fill="#566b7b" stroke="#566b7b"/><path d="M202.2 432.4L205.9 430.6L203.8 430.8L200.1 432.6Z" fill="#586d7e" stroke="#586d7e"/><path d="M198.6 428.3L202.2 432.4L200.1 432.6L196.5 428.6Z" fill="#5c7284" stroke="#5c7284"/><path d="M195.0 424.7L198.6 428.3L196.5 428.6L192.9 425.0Z" fill="#5c7284" stroke="#5c7284"/><path d="M191.4 421.2L195.0 424.7L192.9 425.0L189.3 421.1Z" fill="#5e7587" stroke="#5e7587"/><path d="M187.7 420.8L191.4 421.2L189.3 421.1L185.6 415.1Z" fill="#647d90" stroke="#647d90"/><path d="M184.1 417.8L187.7 420.8L185.6 415.1L182.0 409.7Z" fill="#6f879b" stroke="#6f879b"/><path d="M180.5 409.5L184.1 417.8L182.0 409.7L178.4 405.1Z" fill="#627a8d" stroke="#627a8d"/><path d="M176.8 409.6L180.5 409.5L178.4 405.1L174.7 401.3Z" fill="#8499a9" stroke="#8499a9"/><path d="M173.2 403.1L176.8 409.6L174.7 401.3L171.1 393.7Z" fill="#698296" stroke="#698296"/><path d="M169.6 402.4L173.2 403.1L171.1 393.7L167.5 384.4Z" fill="#788fa1" stroke="#788fa1"/><path d="M166.0 390.7L169.6 402.4L167.5 384.4L163.9 370.8Z" fill="#6f879b" stroke="#6f879b"/><path d="M162.3 386.9L166.0 390.7L163.9 370.8L160.2 383.6Z" fill="#7e94a5" stroke="#7e94a5"/><path d="M158.7 393.2L162.3 386.9L160.2 383.6L156.6 395.9Z" fill="#5c7284" stroke="#5c7284"/><path d="M155.1 400.8L158.7 393.2L156.6 395.9L153.0 394.9Z" fill="#6c8599" stroke="#6c8599"/><path d="M151.4 403.7L155.1 400.8L153.0 394.9L149.4 398.7Z" fill="#93a5b4" stroke="#93a5b4"/><path d="M147.8 413.7L151.4 403.7L149.4 398.7L145.7 405.4Z" fill="#5e7587" stroke="#5e7587"/><path d="M144.2 414.2L147.8 413.7L145.7 405.4L142.1 409.7Z" fill="#99aab8" stroke="#99aab8"/><path d="M140.6 415.9L144.2 414.2L142.1 409.7L138.5 410.5Z" fill="#bac6cf" stroke="#bac6cf"/><path d="M136.9 420.5L140.6 415.9L138.5 410.5L134.8 416.2Z" fill="#647d90" stroke="#647d90"/><path d="M133.3 435.7L136.9 420.5L134.8 416.2L131.2 426.6Z" fill="#546878" stroke="#546878"/><path d="M129.7 441.7L133.3 435.7L131.2 426.6L127.6 440.0Z" fill="#546878" stroke="#546878"/><path d="M126.1 444.4L129.7 441.7L127.6 440.0L124.0 443.0Z" fill="#5a7081" stroke="#5a7081"/><path d="M122.4 446.1L126.1 444.4L124.0 443.0L120.3 444.8Z" fill="#698296" stroke="#698296"/><path d="M118.8 447.9L122.4 446.1L120.3 444.8L116.7 446.1Z" fill="#758c9f" stroke="#758c9f"/><path d="M115.2 449.6L118.8 447.9L116.7 446.1L113.1 448.1Z" fill="#728a9d" stroke="#728a9d"/><path d="M111.5 448.2L115.2 449.6L113.1 448.1L109.5 447.5Z" fill="#60788a" stroke="#60788a"/><path d="M107.9 446.5L111.5 448.2L109.5 447.5L105.8 445.8Z" fill="#5e7587" stroke="#5e7587"/><path d="M104.3 446.0L107.9 446.5L105.8 445.8L102.2 445.2Z" fill="#60788a" stroke="#60788a"/><path d="M100.7 445.5L104.3 446.0L102.2 445.2L98.6 444.2Z" fill="#5e7587" stroke="#5e7587"/><path d="M97.0 461.2L100.7 445.5L98.6 444.2L94.9 459.8Z" fill="#566b7b" stroke="#566b7b"/><path d="M93.4 462.0L97.0 461.2L94.9 459.8L91.3 460.6Z" fill="#6c8599" stroke="#6c8599"/><path d="M89.8 462.8L93.4 462.0L91.3 460.6L87.7 461.4Z" fill="#758c9f" stroke="#758c9f"/><path d="M229.7 434.4L233.3 433.7L231.3 432.3L227.6 433.1Z" fill="#758c9f" stroke="#758c9f"/><path d="M226.1 435.2L229.7 434.4L227.6 433.1L224.0 433.9Z" fill="#758c9f" stroke="#758c9f"/><path d="M222.5 436.0L226.1 435.2L224.0 433.9L220.4 434.6Z" fill="#6f879b" stroke="#6f879b"/><path d="M218.8 424.0L222.5 436.0L220.4 434.6L216.7 424.8Z" fill="#5e7587" stroke="#5e7587"/><path d="M215.2 427.9L218.8 424.0L216.7 424.8L213.1 425.7Z" fill="#5a7081" stroke="#5a7081"/><path d="M211.6 429.1L215.2 427.9L213.1 425.7L209.5 427.8Z" fill="#6f879b" stroke="#6f879b"/><path d="M208.0 430.3L211.6 429.1L209.5 427.8L205.9 430.6Z" fill="#586d7e" stroke="#586d7e"/><path d="M204.3 432.2L208.0 430.3L205.9 430.6L202.2 432.4Z" fill="#586d7e" stroke="#586d7e"/><path d="M200.7 428.2L204.3 432.2L202.2 432.4L198.6 428.3Z" fill="#5c7284" stroke="#5c7284"/><path d="M197.1 426.1L200.7 428.2L198.6 428.3L195.0 424.7Z" fill="#5e7587" stroke="#5e7587"/><path d="M193.4 424.6L197.1 426.1L195.0 424.7L191.4 421.2Z" fill="#627a8d" stroke="#627a8d"/><path d="M189.8 422.8L193.4 424.6L191.4 421.2L187.7 420.8Z" fill="#8196a7" stroke="#8196a7"/><path d="M186.2 425.2L189.8 422.8L187.7 420.8L184.1 417.8Z" fill="#b4c1cb" stroke="#b4c1cb"/><path d="M182.6 417.6L186.2 425.2L184.1 417.8L180.5 409.5Z" fill="#6c8599" stroke="#6c8599"/><path d="M178.9 410.6L182.6 417.6L180.5 409.5L176.8 409.6Z" fill="#647d90" stroke="#647d90"/><path d="M175.3 408.3L178.9 410.6L176.8 409.6L173.2 403.1Z" fill="#6f879b" stroke="#6f879b"/><path d="M171.7 414.0L175.3 408.3L173.2 403.1L169.6 402.4Z" fill="#9cadba" stroke="#9cadba"/><path d="M168.1 409.0L171.7 414.0L169.6 402.4L166.0 390.7Z" fill="#7b91a3" stroke="#7b91a3"/><path d="M164.4 412.3L168.1 409.0L166.0 390.7L162.3 386.9Z" fill="#8499a9" stroke="#8499a9"/><path d="M160.8 415.8L164.4 412.3L162.3 386.9L158.7 393.2Z" fill="#7e94a5" stroke="#7e94a5"/><path d="M157.2 409.0L160.8 415.8L158.7 393.2L155.1 400.8Z" fill="#96a8b6" stroke="#96a8b6"/><path d="M153.5 407.3L157.2 409.0L155.1 400.8L151.4 403.7Z" fill="#b4c1cb" stroke="#b4c1cb"/><path d="M149.9 413.9L153.5 407.3L151.4 403.7L147.8 413.7Z" fill="#5e7587" stroke="#5e7587"/><path d="M146.3 427.2L149.9 413.9L147.8 413.7L144.2 414.2Z" fill="#647d90" stroke="#647d90"/><path d="M142.7 427.4L146.3 427.2L144.2 414.2L140.6 415.9Z" fill="#99aab8" stroke="#99aab8"/><path d="M139.0 434.8L142.7 427.4L140.6 415.9L136.9 420.5Z" fill="#788fa1" stroke="#788fa1"/><path d="M135.4 437.9L139.0 434.8L136.9 420.5L133.3 435.7Z" fill="#5c7284" stroke="#5c7284"/><path d="M131.8 438.9L135.4 437.9L133.3 435.7L129.7 441.7Z" fill="#5a7081" stroke="#5a7081"/><path d="M128.2 440.7L131.8 438.9L129.7 441.7L126.1 444.4Z" fill="#566b7b" stroke="#566b7b"/><path d="M124.5 442.9L128.2 440.7L126.1 444.4L122.4 446.1Z" fill="#566b7b" stroke="#566b7b"/><path d="M120.9 445.2L124.5 442.9L122.4 446.1L118.8 447.9Z" fill="#566b7b" stroke="#566b7b"/><path d="M117.3 448.2L120.9 445.2L118.8 447.9L115.2 449.6Z" fill="#566b7b" stroke="#566b7b"/><path d="M113.6 448.8L117.3 448.2L115.2 449.6L111.5 448.2Z" fill="#5c7284" stroke="#5c7284"/><path d="M110.0 447.2L113.6 448.8L111.5 448.2L107.9 446.5Z" fill="#5e7587" stroke="#5e7587"/><path d="M106.4 446.9L110.0 447.2L107.9 446.5L104.3 446.0Z" fill="#60788a" stroke="#60788a"/><path d="M102.8 446.8L106.4 446.9L104.3 446.0L100.7 445.5Z" fill="#5e7587" stroke="#5e7587"/><path d="M99.1 462.5L102.8 446.8L100.7 445.5L97.0 461.2Z" fill="#566b7b" stroke="#566b7b"/><path d="M95.5 463.3L99.1 462.5L97.0 461.2L93.4 462.0Z" fill="#6c8599" stroke="#6c8599"/><path d="M91.9 464.1L95.5 463.3L93.4 462.0L89.8 462.8Z" fill="#758c9f" stroke="#758c9f"/><path d="M231.8 435.8L235.4 435.0L233.3 433.7L229.7 434.4Z" fill="#758c9f" stroke="#758c9f"/><path d="M228.2 436.6L231.8 435.8L229.7 434.4L226.1 435.2Z" fill="#758c9f" stroke="#758c9f"/><path d="M224.6 437.3L228.2 436.6L226.1 435.2L222.5 436.0Z" fill="#6f879b" stroke="#6f879b"/><path d="M220.9 422.6L224.6 437.3L222.5 436.0L218.8 424.0Z" fill="#5c7284" stroke="#5c7284"/><path d="M217.3 427.7L220.9 422.6L218.8 424.0L215.2 427.9Z" fill="#566b7b" stroke="#566b7b"/><path d="M213.7 428.7L217.3 427.7L215.2 427.9L211.6 429.1Z" fill="#586d7e" stroke="#586d7e"/><path d="M210.0 429.8L213.7 428.7L211.6 429.1L208.0 430.3Z" fill="#586d7e" stroke="#586d7e"/><path d="M206.4 429.8L210.0 429.8L208.0 430.3L204.3 432.2Z" fill="#566b7b" stroke="#566b7b"/><path d="M202.8 428.4L206.4 429.8L204.3 432.2L200.7 428.2Z" fill="#5a7081" stroke="#5a7081"/><path d="M199.2 428.8L202.8 428.4L200.7 428.2L197.1 426.1Z" fill="#647d90" stroke="#647d90"/><path d="M195.5 427.9L199.2 428.8L197.1 426.1L193.4 424.6Z" fill="#8499a9" stroke="#8499a9"/><path d="M191.9 426.0L195.5 427.9L193.4 424.6L189.8 422.8Z" fill="#8da0b0" stroke="#8da0b0"/><path d="M188.3 426.8L191.9 426.0L189.8 422.8L186.2 425.2Z" fill="#bac6cf" stroke="#bac6cf"/><path d="M184.7 428.8L188.3 426.8L186.2 425.2L182.6 417.6Z" fill="#99aab8" stroke="#99aab8"/><path d="M181.0 424.4L184.7 428.8L182.6 417.6L178.9 410.6Z" fill="#7e94a5" stroke="#7e94a5"/><path d="M177.4 421.7L181.0 424.4L178.9 410.6L175.3 408.3Z" fill="#93a5b4" stroke="#93a5b4"/><path d="M173.8 427.8L177.4 421.7L175.3 408.3L171.7 414.0Z" fill="#8da0b0" stroke="#8da0b0"/><path d="M170.1 424.9L173.8 427.8L171.7 414.0L168.1 409.0Z" fill="#90a3b2" stroke="#90a3b2"/><path d="M166.5 423.4L170.1 424.9L168.1 409.0L164.4 412.3Z" fill="#96a8b6" stroke="#96a8b6"/><path d="M162.9 420.2L166.5 423.4L164.4 412.3L160.8 415.8Z" fill="#abb9c4" stroke="#abb9c4"/><path d="M159.3 421.8L162.9 420.2L160.8 415.8L157.2 409.0Z" fill="#9cadba" stroke="#9cadba"/><path d="M155.6 422.7L159.3 421.8L157.2 409.0L153.5 407.3Z" fill="#99aab8" stroke="#99aab8"/><path d="M152.0 422.8L155.6 422.7L153.5 407.3L149.9 413.9Z" fill="#8499a9" stroke="#8499a9"/><path d="M148.4 433.8L152.0 422.8L149.9 413.9L146.3 427.2Z" fill="#627a8d" stroke="#627a8d"/><path d="M144.8 434.2L148.4 433.8L146.3 427.2L142.7 427.4Z" fill="#abb9c4" stroke="#abb9c4"/><path d="M141.1 439.0L144.8 434.2L142.7 427.4L139.0 434.8Z" fill="#758c9f" stroke="#758c9f"/><path d="M137.5 440.6L141.1 439.0L139.0 434.8L135.4 437.9Z" fill="#a5b4c0" stroke="#a5b4c0"/><path d="M133.9 442.3L137.5 440.6L135.4 437.9L131.8 438.9Z" fill="#abb9c4" stroke="#abb9c4"/><path d="M130.2 444.0L133.9 442.3L131.8 438.9L128.2 440.7Z" fill="#96a8b6" stroke="#96a8b6"/><path d="M126.6 445.3L130.2 444.0L128.2 440.7L124.5 442.9Z" fill="#8a9ead" stroke="#8a9ead"/><path d="M123.0 446.2L126.6 445.3L124.5 442.9L120.9 445.2Z" fill="#6f879b" stroke="#6f879b"/><path d="M119.4 446.5L123.0 446.2L120.9 445.2L117.3 448.2Z" fill="#586d7e" stroke="#586d7e"/><path d="M115.7 447.5L119.4 446.5L117.3 448.2L113.6 448.8Z" fill="#586d7e" stroke="#586d7e"/><path d="M112.1 447.8L115.7 447.5L113.6 448.8L110.0 447.2Z" fill="#5c7284" stroke="#5c7284"/><path d="M108.5 447.7L112.1 447.8L110.0 447.2L106.4 446.9Z" fill="#5e7587" stroke="#5e7587"/><path d="M104.9 448.2L108.5 447.7L106.4 446.9L102.8 446.8Z" fill="#5e7587" stroke="#5e7587"/><path d="M101.2 463.9L104.9 448.2L102.8 446.8L99.1 462.5Z" fill="#566b7b" stroke="#566b7b"/><path d="M97.6 464.7L101.2 463.9L99.1 462.5L95.5 463.3Z" fill="#6c8599" stroke="#6c8599"/><path d="M94.0 465.5L97.6 464.7L95.5 463.3L91.9 464.1Z" fill="#758c9f" stroke="#758c9f"/><path d="M233.9 437.1L237.5 436.4L235.4 435.0L231.8 435.8Z" fill="#758c9f" stroke="#758c9f"/><path d="M230.3 437.9L233.9 437.1L231.8 435.8L228.2 436.6Z" fill="#758c9f" stroke="#758c9f"/><path d="M226.7 438.7L230.3 437.9L228.2 436.6L224.6 437.3Z" fill="#6f879b" stroke="#6f879b"/><path d="M223.0 425.9L226.7 438.7L224.6 437.3L220.9 422.6Z" fill="#5e7587" stroke="#5e7587"/><path d="M219.4 425.7L223.0 425.9L220.9 422.6L217.3 427.7Z" fill="#5a7081" stroke="#5a7081"/><path d="M215.8 426.9L219.4 425.7L217.3 427.7L213.7 428.7Z" fill="#566b7b" stroke="#566b7b"/><path d="M212.1 426.9L215.8 426.9L213.7 428.7L210.0 429.8Z" fill="#566b7b" stroke="#566b7b"/><path d="M208.5 427.7L212.1 426.9L210.0 429.8L206.4 429.8Z" fill="#566b7b" stroke="#566b7b"/><path d="M204.9 429.5L208.5 427.7L206.4 429.8L202.8 428.4Z" fill="#5c7284" stroke="#5c7284"/><path d="M201.3 429.9L204.9 429.5L202.8 428.4L199.2 428.8Z" fill="#698296" stroke="#698296"/><path d="M197.6 432.0L201.3 429.9L199.2 428.8L195.5 427.9Z" fill="#b4c1cb" stroke="#b4c1cb"/><path d="M194.0 430.5L197.6 432.0L195.5 427.9L191.9 426.0Z" fill="#aebcc7" stroke="#aebcc7"/><path d="M190.4 431.0L194.0 430.5L191.9 426.0L188.3 426.8Z" fill="#d5dce2" stroke="#d5dce2"/><path d="M186.8 430.1L190.4 431.0L188.3 426.8L184.7 428.8Z" fill="#c6d0d7" stroke="#c6d0d7"/><path d="M183.1 430.3L186.8 430.1L184.7 428.8L181.0 424.4Z" fill="#93a5b4" stroke="#93a5b4"/><path d="M179.5 431.2L183.1 430.3L181.0 424.4L177.4 421.7Z" fill="#aebcc7" stroke="#aebcc7"/><path d="M175.9 433.2L179.5 431.2L177.4 421.7L173.8 427.8Z" fill="#9cadba" stroke="#9cadba"/><path d="M172.2 435.2L175.9 433.2L173.8 427.8L170.1 424.9Z" fill="#aebcc7" stroke="#aebcc7"/><path d="M168.6 436.1L172.2 435.2L170.1 424.9L166.5 423.4Z" fill="#a2b2be" stroke="#a2b2be"/><path d="M165.0 433.1L168.6 436.1L166.5 423.4L162.9 420.2Z" fill="#96a8b6" stroke="#96a8b6"/><path d="M161.4 433.7L165.0 433.1L162.9 420.2L159.3 421.8Z" fill="#9cadba" stroke="#9cadba"/><path d="M157.7 434.9L161.4 433.7L159.3 421.8L155.6 422.7Z" fill="#99aab8" stroke="#99aab8"/><path d="M154.1 435.9L157.7 434.9L155.6 422.7L152.0 422.8Z" fill="#93a5b4" stroke="#93a5b4"/><path d="M150.5 439.2L154.1 435.9L152.0 422.8L148.4 433.8Z" fill="#758c9f" stroke="#758c9f"/><path d="M146.9 441.7L150.5 439.2L148.4 433.8L144.8 434.2Z" fill="#b7c3cd" stroke="#b7c3cd"/><path d="M143.2 442.8L146.9 441.7L144.8 434.2L141.1 439.0Z" fill="#b1bec9" stroke="#b1bec9"/><path d="M139.6 443.5L143.2 442.8L141.1 439.0L137.5 440.6Z" fill="#c3cdd5" stroke="#c3cdd5"/><path d="M136.0 439.2L139.6 443.5L137.5 440.6L133.9 442.3Z" fill="#6f879b" stroke="#6f879b"/><path d="M132.3 443.6L136.0 439.2L133.9 442.3L130.2 444.0Z" fill="#5c7284" stroke="#5c7284"/><path d="M128.7 445.2L132.3 443.6L130.2 444.0L126.6 445.3Z" fill="#5c7284" stroke="#5c7284"/><path d="M125.1 445.5L128.7 445.2L126.6 445.3L123.0 446.2Z" fill="#5c7284" stroke="#5c7284"/><path d="M121.5 445.7L125.1 445.5L123.0 446.2L119.4 446.5Z" fill="#5a7081" stroke="#5a7081"/><path d="M117.8 446.3L121.5 445.7L119.4 446.5L115.7 447.5Z" fill="#586d7e" stroke="#586d7e"/><path d="M114.2 447.3L117.8 446.3L115.7 447.5L112.1 447.8Z" fill="#586d7e" stroke="#586d7e"/><path d="M110.6 448.6L114.2 447.3L112.1 447.8L108.5 447.7Z" fill="#5c7284" stroke="#5c7284"/><path d="M106.9 449.5L110.6 448.6L108.5 447.7L104.9 448.2Z" fill="#5e7587" stroke="#5e7587"/><path d="M103.3 465.2L106.9 449.5L104.9 448.2L101.2 463.9Z" fill="#566b7b" stroke="#566b7b"/><path d="M99.7 466.0L103.3 465.2L101.2 463.9L97.6 464.7Z" fill="#6c8599" stroke="#6c8599"/><path d="M96.1 466.8L99.7 466.0L97.6 464.7L94.0 465.5Z" fill="#758c9f" stroke="#758c9f"/><path d="M236.0 438.5L239.6 437.7L237.5 436.4L233.9 437.1Z" fill="#758c9f" stroke="#758c9f"/><path d="M232.4 439.3L236.0 438.5L233.9 437.1L230.3 437.9Z" fill="#758c9f" stroke="#758c9f"/><path d="M228.7 440.1L232.4 439.3L230.3 437.9L226.7 438.7Z" fill="#6f879b" stroke="#6f879b"/><path d="M225.1 423.7L228.7 440.1L226.7 438.7L223.0 425.9Z" fill="#5c7284" stroke="#5c7284"/><path d="M221.5 423.8L225.1 423.7L223.0 425.9L219.4 425.7Z" fill="#586d7e" stroke="#586d7e"/><path d="M217.9 426.6L221.5 423.8L219.4 425.7L215.8 426.9Z" fill="#566b7b" stroke="#566b7b"/><path d="M214.2 428.4L217.9 426.6L215.8 426.9L212.1 426.9Z" fill="#5c7284" stroke="#5c7284"/><path d="M210.6 429.7L214.2 428.4L212.1 426.9L208.5 427.7Z" fill="#7b91a3" stroke="#7b91a3"/><path d="M207.0 430.6L210.6 429.7L208.5 427.7L204.9 429.5Z" fill="#758c9f" stroke="#758c9f"/><path d="M203.4 431.2L207.0 430.6L204.9 429.5L201.3 429.9Z" fill="#6c8599" stroke="#6c8599"/><path d="M199.7 433.7L203.4 431.2L201.3 429.9L197.6 432.0Z" fill="#7b91a3" stroke="#7b91a3"/><path d="M196.1 435.9L199.7 433.7L197.6 432.0L194.0 430.5Z" fill="#c6d0d7" stroke="#c6d0d7"/><path d="M192.5 438.2L196.1 435.9L194.0 430.5L190.4 431.0Z" fill="#c6d0d7" stroke="#c6d0d7"/><path d="M188.8 437.1L192.5 438.2L190.4 431.0L186.8 430.1Z" fill="#c0cbd3" stroke="#c0cbd3"/><path d="M185.2 436.8L188.8 437.1L186.8 430.1L183.1 430.3Z" fill="#c3cdd5" stroke="#c3cdd5"/><path d="M181.6 438.2L185.2 436.8L183.1 430.3L179.5 431.2Z" fill="#c0cbd3" stroke="#c0cbd3"/><path d="M178.0 440.2L181.6 438.2L179.5 431.2L175.9 433.2Z" fill="#b7c3cd" stroke="#b7c3cd"/><path d="M174.3 442.1L178.0 440.2L175.9 433.2L172.2 435.2Z" fill="#bac6cf" stroke="#bac6cf"/><path d="M170.7 443.8L174.3 442.1L172.2 435.2L168.6 436.1Z" fill="#bdc8d1" stroke="#bdc8d1"/><path d="M167.1 444.7L170.7 443.8L168.6 436.1L165.0 433.1Z" fill="#b1bec9" stroke="#b1bec9"/><path d="M163.5 445.8L167.1 444.7L165.0 433.1L161.4 433.7Z" fill="#abb9c4" stroke="#abb9c4"/><path d="M159.8 446.7L163.5 445.8L161.4 433.7L157.7 434.9Z" fill="#a8b7c2" stroke="#a8b7c2"/><path d="M156.2 447.4L159.8 446.7L157.7 434.9L154.1 435.9Z" fill="#a8b7c2" stroke="#a8b7c2"/><path d="M152.6 445.3L156.2 447.4L154.1 435.9L150.5 439.2Z" fill="#b4c1cb" stroke="#b4c1cb"/><path d="M148.9 444.9L152.6 445.3L150.5 439.2L146.9 441.7Z" fill="#cfd7de" stroke="#cfd7de"/><path d="M145.3 445.8L148.9 444.9L146.9 441.7L143.2 442.8Z" fill="#cfd7de" stroke="#cfd7de"/><path d="M141.7 445.4L145.3 445.8L143.2 442.8L139.6 443.5Z" fill="#a8b7c2" stroke="#a8b7c2"/><path d="M138.1 441.7L141.7 445.4L139.6 443.5L136.0 439.2Z" fill="#728a9d" stroke="#728a9d"/><path d="M134.4 446.7L138.1 441.7L136.0 439.2L132.3 443.6Z" fill="#6f879b" stroke="#6f879b"/><path d="M130.8 446.4L134.4 446.7L132.3 443.6L128.7 445.2Z" fill="#93a5b4" stroke="#93a5b4"/><path d="M127.2 445.9L130.8 446.4L128.7 445.2L125.1 445.5Z" fill="#60788a" stroke="#60788a"/><path d="M123.6 445.4L127.2 445.9L125.1 445.5L121.5 445.7Z" fill="#5c7284" stroke="#5c7284"/><path d="M119.9 445.3L123.6 445.4L121.5 445.7L117.8 446.3Z" fill="#5a7081" stroke="#5a7081"/><path d="M116.3 447.0L119.9 445.3L117.8 446.3L114.2 447.3Z" fill="#586d7e" stroke="#586d7e"/><path d="M112.7 449.4L116.3 447.0L114.2 447.3L110.6 448.6Z" fill="#5a7081" stroke="#5a7081"/><path d="M109.0 450.8L112.7 449.4L110.6 448.6L106.9 449.5Z" fill="#5e7587" stroke="#5e7587"/><path d="M105.4 466.6L109.0 450.8L106.9 449.5L103.3 465.2Z" fill="#566b7b" stroke="#566b7b"/><path d="M101.8 467.4L105.4 466.6L103.3 465.2L99.7 466.0Z" fill="#6c8599" stroke="#6c8599"/><path d="M98.2 468.2L101.8 467.4L99.7 466.0L96.1 466.8Z" fill="#758c9f" stroke="#758c9f"/><path d="M238.1 439.8L241.7 439.1L239.6 437.7L236.0 438.5Z" fill="#758c9f" stroke="#758c9f"/><path d="M234.5 440.6L238.1 439.8L236.0 438.5L232.4 439.3Z" fill="#758c9f" stroke="#758c9f"/><path d="M230.8 441.4L234.5 440.6L232.4 439.3L228.7 440.1Z" fill="#6f879b" stroke="#6f879b"/><path d="M227.2 424.3L230.8 441.4L228.7 440.1L225.1 423.7Z" fill="#5c7284" stroke="#5c7284"/><path d="M223.6 422.2L227.2 424.3L225.1 423.7L221.5 423.8Z" fill="#5a7081" stroke="#5a7081"/><path d="M220.0 424.9L223.6 422.2L221.5 423.8L217.9 426.6Z" fill="#566b7b" stroke="#566b7b"/><path d="M216.3 430.5L220.0 424.9L217.9 426.6L214.2 428.4Z" fill="#566b7b" stroke="#566b7b"/><path d="M212.7 430.6L216.3 430.5L214.2 428.4L210.6 429.7Z" fill="#728a9d" stroke="#728a9d"/><path d="M209.1 431.6L212.7 430.6L210.6 429.7L207.0 430.6Z" fill="#627a8d" stroke="#627a8d"/><path d="M205.4 432.6L209.1 431.6L207.0 430.6L203.4 431.2Z" fill="#667f93" stroke="#667f93"/><path d="M201.8 434.7L205.4 432.6L203.4 431.2L199.7 433.7Z" fill="#647d90" stroke="#647d90"/><path d="M198.2 436.7L201.8 434.7L199.7 433.7L196.1 435.9Z" fill="#6f879b" stroke="#6f879b"/><path d="M194.6 439.0L198.2 436.7L196.1 435.9L192.5 438.2Z" fill="#7e94a5" stroke="#7e94a5"/><path d="M190.9 441.2L194.6 439.0L192.5 438.2L188.8 437.1Z" fill="#c0cbd3" stroke="#c0cbd3"/><path d="M187.3 443.3L190.9 441.2L188.8 437.1L185.2 436.8Z" fill="#cfd7de" stroke="#cfd7de"/><path d="M183.7 444.2L187.3 443.3L185.2 436.8L181.6 438.2Z" fill="#c9d2d9" stroke="#c9d2d9"/><path d="M180.1 445.0L183.7 444.2L181.6 438.2L178.0 440.2Z" fill="#ccd5db" stroke="#ccd5db"/><path d="M176.4 445.7L180.1 445.0L178.0 440.2L174.3 442.1Z" fill="#d2dae0" stroke="#d2dae0"/><path d="M172.8 446.5L176.4 445.7L174.3 442.1L170.7 443.8Z" fill="#d2dae0" stroke="#d2dae0"/><path d="M169.2 447.4L172.8 446.5L170.7 443.8L167.1 444.7Z" fill="#cfd7de" stroke="#cfd7de"/><path d="M165.5 448.8L169.2 447.4L167.1 444.7L163.5 445.8Z" fill="#ccd5db" stroke="#ccd5db"/><path d="M161.9 450.2L165.5 448.8L163.5 445.8L159.8 446.7Z" fill="#d2dae0" stroke="#d2dae0"/><path d="M158.3 451.3L161.9 450.2L159.8 446.7L156.2 447.4Z" fill="#ccd5db" stroke="#ccd5db"/><path d="M154.7 449.6L158.3 451.3L156.2 447.4L152.6 445.3Z" fill="#96a8b6" stroke="#96a8b6"/><path d="M151.0 447.6L154.7 449.6L152.6 445.3L148.9 444.9Z" fill="#99aab8" stroke="#99aab8"/><path d="M147.4 447.5L151.0 447.6L148.9 444.9L145.3 445.8Z" fill="#9cadba" stroke="#9cadba"/><path d="M143.8 447.1L147.4 447.5L145.3 445.8L141.7 445.4Z" fill="#758c9f" stroke="#758c9f"/><path d="M140.2 447.6L143.8 447.1L141.7 445.4L138.1 441.7Z" fill="#8da0b0" stroke="#8da0b0"/><path d="M136.5 448.4L140.2 447.6L138.1 441.7L134.4 446.7Z" fill="#9fafbc" stroke="#9fafbc"/><path d="M132.9 448.1L136.5 448.4L134.4 446.7L130.8 446.4Z" fill="#7e94a5" stroke="#7e94a5"/><path d="M129.3 447.8L132.9 448.1L130.8 446.4L127.2 445.9Z" fill="#758c9f" stroke="#758c9f"/><path d="M125.6 447.3L129.3 447.8L127.2 445.9L123.6 445.4Z" fill="#758c9f" stroke="#758c9f"/><path d="M122.0 446.9L125.6 447.3L123.6 445.4L119.9 445.3Z" fill="#788fa1" stroke="#788fa1"/><path d="M118.4 448.4L122.0 446.9L119.9 445.3L116.3 447.0Z" fill="#788fa1" stroke="#788fa1"/><path d="M114.8 449.9L118.4 448.4L116.3 447.0L112.7 449.4Z" fill="#627a8d" stroke="#627a8d"/><path d="M111.1 452.2L114.8 449.9L112.7 449.4L109.0 450.8Z" fill="#5c7284" stroke="#5c7284"/><path d="M107.5 468.0L111.1 452.2L109.0 450.8L105.4 466.6Z" fill="#566b7b" stroke="#566b7b"/><path d="M103.9 468.7L107.5 468.0L105.4 466.6L101.8 467.4Z" fill="#6c8599" stroke="#6c8599"/><path d="M100.3 469.5L103.9 468.7L101.8 467.4L98.2 468.2Z" fill="#758c9f" stroke="#758c9f"/><path d="M240.2 441.2L243.8 440.4L241.7 439.1L238.1 439.8Z" fill="#758c9f" stroke="#758c9f"/><path d="M236.6 442.0L240.2 441.2L238.1 439.8L234.5 440.6Z" fill="#758c9f" stroke="#758c9f"/><path d="M232.9 442.8L236.6 442.0L234.5 440.6L230.8 441.4Z" fill="#6f879b" stroke="#6f879b"/><path d="M229.3 426.3L232.9 442.8L230.8 441.4L227.2 424.3Z" fill="#5e7587" stroke="#5e7587"/><path d="M225.7 423.1L229.3 426.3L227.2 424.3L223.6 422.2Z" fill="#5e7587" stroke="#5e7587"/><path d="M222.1 424.5L225.7 423.1L223.6 422.2L220.0 424.9Z" fill="#5a7081" stroke="#5a7081"/><path d="M218.4 426.7L222.1 424.5L220.0 424.9L216.3 430.5Z" fill="#546878" stroke="#546878"/><path d="M214.8 430.8L218.4 426.7L216.3 430.5L212.7 430.6Z" fill="#566b7b" stroke="#566b7b"/><path d="M211.2 431.7L214.8 430.8L212.7 430.6L209.1 431.6Z" fill="#5a7081" stroke="#5a7081"/><path d="M207.5 434.2L211.2 431.7L209.1 431.6L205.4 432.6Z" fill="#5c7284" stroke="#5c7284"/><path d="M203.9 437.2L207.5 434.2L205.4 432.6L201.8 434.7Z" fill="#728a9d" stroke="#728a9d"/><path d="M200.3 439.6L203.9 437.2L201.8 434.7L198.2 436.7Z" fill="#90a3b2" stroke="#90a3b2"/><path d="M196.7 441.8L200.3 439.6L198.2 436.7L194.6 439.0Z" fill="#9cadba" stroke="#9cadba"/><path d="M193.0 443.2L196.7 441.8L194.6 439.0L190.9 441.2Z" fill="#a5b4c0" stroke="#a5b4c0"/><path d="M189.4 444.5L193.0 443.2L190.9 441.2L187.3 443.3Z" fill="#90a3b2" stroke="#90a3b2"/><path d="M185.8 446.5L189.4 444.5L187.3 443.3L183.7 444.2Z" fill="#9cadba" stroke="#9cadba"/><path d="M182.2 447.7L185.8 446.5L183.7 444.2L180.1 445.0Z" fill="#bdc8d1" stroke="#bdc8d1"/><path d="M178.5 448.5L182.2 447.7L180.1 445.0L176.4 445.7Z" fill="#c9d2d9" stroke="#c9d2d9"/><path d="M174.9 449.3L178.5 448.5L176.4 445.7L172.8 446.5Z" fill="#ccd5db" stroke="#ccd5db"/><path d="M171.3 450.0L174.9 449.3L172.8 446.5L169.2 447.4Z" fill="#ccd5db" stroke="#ccd5db"/><path d="M167.6 451.4L171.3 450.0L169.2 447.4L165.5 448.8Z" fill="#c6d0d7" stroke="#c6d0d7"/><path d="M164.0 452.8L167.6 451.4L165.5 448.8L161.9 450.2Z" fill="#c0cbd3" stroke="#c0cbd3"/><path d="M160.4 452.3L164.0 452.8L161.9 450.2L158.3 451.3Z" fill="#93a5b4" stroke="#93a5b4"/><path d="M156.8 449.8L160.4 452.3L158.3 451.3L154.7 449.6Z" fill="#647d90" stroke="#647d90"/><path d="M153.1 448.4L156.8 449.8L154.7 449.6L151.0 447.6Z" fill="#5e7587" stroke="#5e7587"/><path d="M149.5 447.8L153.1 448.4L151.0 447.6L147.4 447.5Z" fill="#60788a" stroke="#60788a"/><path d="M145.9 447.2L149.5 447.8L147.4 447.5L143.8 447.1Z" fill="#5e7587" stroke="#5e7587"/><path d="M142.3 447.4L145.9 447.2L143.8 447.1L140.2 447.6Z" fill="#60788a" stroke="#60788a"/><path d="M138.6 448.6L142.3 447.4L140.2 447.6L136.5 448.4Z" fill="#627a8d" stroke="#627a8d"/><path d="M135.0 450.1L138.6 448.6L136.5 448.4L132.9 448.1Z" fill="#667f93" stroke="#667f93"/><path d="M131.4 450.2L135.0 450.1L132.9 448.1L129.3 447.8Z" fill="#8499a9" stroke="#8499a9"/><path d="M127.7 449.4L131.4 450.2L129.3 447.8L125.6 447.3Z" fill="#8499a9" stroke="#8499a9"/><path d="M124.1 449.6L127.7 449.4L125.6 447.3L122.0 446.9Z" fill="#a2b2be" stroke="#a2b2be"/><path d="M120.5 450.7L124.1 449.6L122.0 446.9L118.4 448.4Z" fill="#b1bec9" stroke="#b1bec9"/><path d="M116.9 451.8L120.5 450.7L118.4 448.4L114.8 449.9Z" fill="#9cadba" stroke="#9cadba"/><path d="M113.2 453.5L116.9 451.8L114.8 449.9L111.1 452.2Z" fill="#6f879b" stroke="#6f879b"/><path d="M109.6 469.3L113.2 453.5L111.1 452.2L107.5 468.0Z" fill="#566b7b" stroke="#566b7b"/><path d="M106.0 470.1L109.6 469.3L107.5 468.0L103.9 468.7Z" fill="#6c8599" stroke="#6c8599"/><path d="M102.4 470.9L106.0 470.1L103.9 468.7L100.3 469.5Z" fill="#758c9f" stroke="#758c9f"/><path d="M242.3 442.5L245.9 441.8L243.8 440.4L240.2 441.2Z" fill="#758c9f" stroke="#758c9f"/><path d="M238.7 443.3L242.3 442.5L240.2 441.2L236.6 442.0Z" fill="#758c9f" stroke="#758c9f"/><path d="M235.0 444.1L238.7 443.3L236.6 442.0L232.9 442.8Z" fill="#6f879b" stroke="#6f879b"/><path d="M231.4 426.6L235.0 444.1L232.9 442.8L229.3 426.3Z" fill="#5e7587" stroke="#5e7587"/><path d="M227.8 425.5L231.4 426.6L229.3 426.3L225.7 423.1Z" fill="#647d90" stroke="#647d90"/><path d="M224.1 425.9L227.8 425.5L225.7 423.1L222.1 424.5Z" fill="#8da0b0" stroke="#8da0b0"/><path d="M220.5 428.5L224.1 425.9L222.1 424.5L218.4 426.7Z" fill="#698296" stroke="#698296"/><path d="M216.9 431.1L220.5 428.5L218.4 426.7L214.8 430.8Z" fill="#5a7081" stroke="#5a7081"/><path d="M213.3 432.4L216.9 431.1L214.8 430.8L211.2 431.7Z" fill="#5e7587" stroke="#5e7587"/><path d="M209.6 435.5L213.3 432.4L211.2 431.7L207.5 434.2Z" fill="#5a7081" stroke="#5a7081"/><path d="M206.0 438.9L209.6 435.5L207.5 434.2L203.9 437.2Z" fill="#5c7284" stroke="#5c7284"/><path d="M202.4 441.4L206.0 438.9L203.9 437.2L200.3 439.6Z" fill="#6c8599" stroke="#6c8599"/><path d="M198.8 442.8L202.4 441.4L200.3 439.6L196.7 441.8Z" fill="#728a9d" stroke="#728a9d"/><path d="M195.1 444.2L198.8 442.8L196.7 441.8L193.0 443.2Z" fill="#667f93" stroke="#667f93"/><path d="M191.5 445.5L195.1 444.2L193.0 443.2L189.4 444.5Z" fill="#647d90" stroke="#647d90"/><path d="M187.9 447.4L191.5 445.5L189.4 444.5L185.8 446.5Z" fill="#627a8d" stroke="#627a8d"/><path d="M184.2 449.5L187.9 447.4L185.8 446.5L182.2 447.7Z" fill="#7b91a3" stroke="#7b91a3"/><path d="M180.6 451.2L184.2 449.5L182.2 447.7L178.5 448.5Z" fill="#abb9c4" stroke="#abb9c4"/><path d="M177.0 452.0L180.6 451.2L178.5 448.5L174.9 449.3Z" fill="#c3cdd5" stroke="#c3cdd5"/><path d="M173.4 452.8L177.0 452.0L174.9 449.3L171.3 450.0Z" fill="#c9d2d9" stroke="#c9d2d9"/><path d="M169.7 454.1L173.4 452.8L171.3 450.0L167.6 451.4Z" fill="#c0cbd3" stroke="#c0cbd3"/><path d="M166.1 454.3L169.7 454.1L167.6 451.4L164.0 452.8Z" fill="#a2b2be" stroke="#a2b2be"/><path d="M162.5 452.2L166.1 454.3L164.0 452.8L160.4 452.3Z" fill="#647d90" stroke="#647d90"/><path d="M158.9 449.7L162.5 452.2L160.4 452.3L156.8 449.8Z" fill="#5e7587" stroke="#5e7587"/><path d="M155.2 449.1L158.9 449.7L156.8 449.8L153.1 448.4Z" fill="#5e7587" stroke="#5e7587"/><path d="M151.6 448.5L155.2 449.1L153.1 448.4L149.5 447.8Z" fill="#5e7587" stroke="#5e7587"/><path d="M148.0 448.0L151.6 448.5L149.5 447.8L145.9 447.2Z" fill="#5e7587" stroke="#5e7587"/><path d="M144.3 448.0L148.0 448.0L145.9 447.2L142.3 447.4Z" fill="#5e7587" stroke="#5e7587"/><path d="M140.7 447.5L144.3 448.0L142.3 447.4L138.6 448.6Z" fill="#5c7284" stroke="#5c7284"/><path d="M137.1 449.0L140.7 447.5L138.6 448.6L135.0 450.1Z" fill="#586d7e" stroke="#586d7e"/><path d="M133.5 450.6L137.1 449.0L135.0 450.1L131.4 450.2Z" fill="#5c7284" stroke="#5c7284"/><path d="M129.8 451.8L133.5 450.6L131.4 450.2L127.7 449.4Z" fill="#6f879b" stroke="#6f879b"/><path d="M126.2 452.0L129.8 451.8L127.7 449.4L124.1 449.6Z" fill="#99aab8" stroke="#99aab8"/><path d="M122.6 452.3L126.2 452.0L124.1 449.6L120.5 450.7Z" fill="#93a5b4" stroke="#93a5b4"/><path d="M119.0 453.5L122.6 452.3L120.5 450.7L116.9 451.8Z" fill="#8499a9" stroke="#8499a9"/><path d="M115.3 454.8L119.0 453.5L116.9 451.8L113.2 453.5Z" fill="#6f879b" stroke="#6f879b"/><path d="M111.7 470.7L115.3 454.8L113.2 453.5L109.6 469.3Z" fill="#566b7b" stroke="#566b7b"/><path d="M108.1 471.4L111.7 470.7L109.6 469.3L106.0 470.1Z" fill="#6c8599" stroke="#6c8599"/><path d="M104.4 472.2L108.1 471.4L106.0 470.1L102.4 470.9Z" fill="#758c9f" stroke="#758c9f"/><path d="M244.4 443.9L248.0 443.1L245.9 441.8L242.3 442.5Z" fill="#758c9f" stroke="#758c9f"/><path d="M240.8 444.7L244.4 443.9L242.3 442.5L238.7 443.3Z" fill="#758c9f" stroke="#758c9f"/><path d="M237.1 445.5L240.8 444.7L238.7 443.3L235.0 444.1Z" fill="#6f879b" stroke="#6f879b"/><path d="M233.5 430.5L237.1 445.5L235.0 444.1L231.4 426.6Z" fill="#5e7587" stroke="#5e7587"/><path d="M229.9 430.0L233.5 430.5L231.4 426.6L227.8 425.5Z" fill="#99aab8" stroke="#99aab8"/><path d="M226.2 427.0L229.9 430.0L227.8 425.5L224.1 425.9Z" fill="#90a3b2" stroke="#90a3b2"/><path d="M222.6 431.1L226.2 427.0L224.1 425.9L220.5 428.5Z" fill="#6c8599" stroke="#6c8599"/><path d="M219.0 433.9L222.6 431.1L220.5 428.5L216.9 431.1Z" fill="#8196a7" stroke="#8196a7"/><path d="M215.4 431.9L219.0 433.9L216.9 431.1L213.3 432.4Z" fill="#728a9d" stroke="#728a9d"/><path d="M211.7 436.2L215.4 431.9L213.3 432.4L209.6 435.5Z" fill="#5e7587" stroke="#5e7587"/><path d="M208.1 439.2L211.7 436.2L209.6 435.5L206.0 438.9Z" fill="#586d7e" stroke="#586d7e"/><path d="M204.5 441.3L208.1 439.2L206.0 438.9L202.4 441.4Z" fill="#586d7e" stroke="#586d7e"/><path d="M200.8 443.3L204.5 441.3L202.4 441.4L198.8 442.8Z" fill="#5a7081" stroke="#5a7081"/><path d="M197.2 445.2L200.8 443.3L198.8 442.8L195.1 444.2Z" fill="#5c7284" stroke="#5c7284"/><path d="M193.6 446.5L197.2 445.2L195.1 444.2L191.5 445.5Z" fill="#5e7587" stroke="#5e7587"/><path d="M190.0 448.4L193.6 446.5L191.5 445.5L187.9 447.4Z" fill="#5c7284" stroke="#5c7284"/><path d="M186.3 450.4L190.0 448.4L187.9 447.4L184.2 449.5Z" fill="#5e7587" stroke="#5e7587"/><path d="M182.7 452.5L186.3 450.4L184.2 449.5L180.6 451.2Z" fill="#667f93" stroke="#667f93"/><path d="M179.1 454.5L182.7 452.5L180.6 451.2L177.0 452.0Z" fill="#96a8b6" stroke="#96a8b6"/><path d="M175.5 455.5L179.1 454.5L177.0 452.0L173.4 452.8Z" fill="#b7c3cd" stroke="#b7c3cd"/><path d="M171.8 456.4L175.5 455.5L173.4 452.8L169.7 454.1Z" fill="#abb9c4" stroke="#abb9c4"/><path d="M168.2 454.3L171.8 456.4L169.7 454.1L166.1 454.3Z" fill="#667f93" stroke="#667f93"/><path d="M164.6 452.2L168.2 454.3L166.1 454.3L162.5 452.2Z" fill="#5e7587" stroke="#5e7587"/><path d="M160.9 450.4L164.6 452.2L162.5 452.2L158.9 449.7Z" fill="#5e7587" stroke="#5e7587"/><path d="M157.3 449.8L160.9 450.4L158.9 449.7L155.2 449.1Z" fill="#5e7587" stroke="#5e7587"/><path d="M153.7 449.3L157.3 449.8L155.2 449.1L151.6 448.5Z" fill="#627a8d" stroke="#627a8d"/><path d="M150.1 449.8L153.7 449.3L151.6 448.5L148.0 448.0Z" fill="#698296" stroke="#698296"/><path d="M146.4 450.5L150.1 449.8L148.0 448.0L144.3 448.0Z" fill="#99aab8" stroke="#99aab8"/><path d="M142.8 449.6L146.4 450.5L144.3 448.0L140.7 447.5Z" fill="#7e94a5" stroke="#7e94a5"/><path d="M139.2 447.6L142.8 449.6L140.7 447.5L137.1 449.0Z" fill="#60788a" stroke="#60788a"/><path d="M135.6 448.7L139.2 447.6L137.1 449.0L133.5 450.6Z" fill="#586d7e" stroke="#586d7e"/><path d="M131.9 449.8L135.6 448.7L133.5 450.6L129.8 451.8Z" fill="#586d7e" stroke="#586d7e"/><path d="M128.3 450.9L131.9 449.8L129.8 451.8L126.2 452.0Z" fill="#586d7e" stroke="#586d7e"/><path d="M124.7 451.4L128.3 450.9L126.2 452.0L122.6 452.3Z" fill="#5a7081" stroke="#5a7081"/><path d="M121.0 451.5L124.7 451.4L122.6 452.3L119.0 453.5Z" fill="#586d7e" stroke="#586d7e"/><path d="M117.4 454.7L121.0 451.5L119.0 453.5L115.3 454.8Z" fill="#566b7b" stroke="#566b7b"/><path d="M113.8 472.0L117.4 454.7L115.3 454.8L111.7 470.7Z" fill="#586d7e" stroke="#586d7e"/><path d="M110.2 472.8L113.8 472.0L111.7 470.7L108.1 471.4Z" fill="#728a9d" stroke="#728a9d"/><path d="M106.5 473.6L110.2 472.8L108.1 471.4L104.4 472.2Z" fill="#758c9f" stroke="#758c9f"/><path d="M246.5 445.3L250.1 444.5L248.0 443.1L244.4 443.9Z" fill="#758c9f" stroke="#758c9f"/><path d="M242.8 446.0L246.5 445.3L244.4 443.9L240.8 444.7Z" fill="#758c9f" stroke="#758c9f"/><path d="M239.2 446.8L242.8 446.0L240.8 444.7L237.1 445.5Z" fill="#728a9d" stroke="#728a9d"/><path d="M235.6 431.3L239.2 446.8L237.1 445.5L233.5 430.5Z" fill="#60788a" stroke="#60788a"/><path d="M232.0 434.3L235.6 431.3L233.5 430.5L229.9 430.0Z" fill="#9fafbc" stroke="#9fafbc"/><path d="M228.3 430.3L232.0 434.3L229.9 430.0L226.2 427.0Z" fill="#8196a7" stroke="#8196a7"/><path d="M224.7 431.2L228.3 430.3L226.2 427.0L222.6 431.1Z" fill="#7b91a3" stroke="#7b91a3"/><path d="M221.1 435.7L224.7 431.2L222.6 431.1L219.0 433.9Z" fill="#627a8d" stroke="#627a8d"/><path d="M217.5 437.7L221.1 435.7L219.0 433.9L215.4 431.9Z" fill="#a8b7c2" stroke="#a8b7c2"/><path d="M213.8 438.0L217.5 437.7L215.4 431.9L211.7 436.2Z" fill="#93a5b4" stroke="#93a5b4"/><path d="M210.2 439.1L213.8 438.0L211.7 436.2L208.1 439.2Z" fill="#5a7081" stroke="#5a7081"/><path d="M206.6 441.2L210.2 439.1L208.1 439.2L204.5 441.3Z" fill="#586d7e" stroke="#586d7e"/><path d="M202.9 443.2L206.6 441.2L204.5 441.3L200.8 443.3Z" fill="#586d7e" stroke="#586d7e"/><path d="M199.3 445.2L202.9 443.2L200.8 443.3L197.2 445.2Z" fill="#586d7e" stroke="#586d7e"/><path d="M195.7 447.2L199.3 445.2L197.2 445.2L193.6 446.5Z" fill="#5a7081" stroke="#5a7081"/><path d="M192.1 449.1L195.7 447.2L193.6 446.5L190.0 448.4Z" fill="#5a7081" stroke="#5a7081"/><path d="M188.4 451.1L192.1 449.1L190.0 448.4L186.3 450.4Z" fill="#5a7081" stroke="#5a7081"/><path d="M184.8 453.1L188.4 451.1L186.3 450.4L182.7 452.5Z" fill="#5a7081" stroke="#5a7081"/><path d="M181.2 455.1L184.8 453.1L182.7 452.5L179.1 454.5Z" fill="#5e7587" stroke="#5e7587"/><path d="M177.6 456.7L181.2 455.1L179.1 454.5L175.5 455.5Z" fill="#647d90" stroke="#647d90"/><path d="M173.9 456.4L177.6 456.7L175.5 455.5L171.8 456.4Z" fill="#627a8d" stroke="#627a8d"/><path d="M170.3 454.3L173.9 456.4L171.8 456.4L168.2 454.3Z" fill="#5e7587" stroke="#5e7587"/><path d="M166.7 452.1L170.3 454.3L168.2 454.3L164.6 452.2Z" fill="#5e7587" stroke="#5e7587"/><path d="M163.0 451.1L166.7 452.1L164.6 452.2L160.9 450.4Z" fill="#5e7587" stroke="#5e7587"/><path d="M159.4 450.8L163.0 451.1L160.9 450.4L157.3 449.8Z" fill="#647d90" stroke="#647d90"/><path d="M155.8 451.6L159.4 450.8L157.3 449.8L153.7 449.3Z" fill="#8196a7" stroke="#8196a7"/><path d="M152.2 452.3L155.8 451.6L153.7 449.3L150.1 449.8Z" fill="#b1bec9" stroke="#b1bec9"/><path d="M148.5 453.1L152.2 452.3L150.1 449.8L146.4 450.5Z" fill="#bdc8d1" stroke="#bdc8d1"/><path d="M144.9 453.3L148.5 453.1L146.4 450.5L142.8 449.6Z" fill="#aebcc7" stroke="#aebcc7"/><path d="M141.3 450.8L144.9 453.3L142.8 449.6L139.2 447.6Z" fill="#758c9f" stroke="#758c9f"/><path d="M137.7 449.5L141.3 450.8L139.2 447.6L135.6 448.7Z" fill="#8499a9" stroke="#8499a9"/><path d="M134.0 448.3L137.7 449.5L135.6 448.7L131.9 449.8Z" fill="#647d90" stroke="#647d90"/><path d="M130.4 449.1L134.0 448.3L131.9 449.8L128.3 450.9Z" fill="#60788a" stroke="#60788a"/><path d="M126.8 452.3L130.4 449.1L128.3 450.9L124.7 451.4Z" fill="#647d90" stroke="#647d90"/><path d="M123.1 454.1L126.8 452.3L124.7 451.4L121.0 451.5Z" fill="#8499a9" stroke="#8499a9"/><path d="M119.5 472.6L123.1 454.1L121.0 451.5L117.4 454.7Z" fill="#5c7284" stroke="#5c7284"/><path d="M115.9 473.4L119.5 472.6L117.4 454.7L113.8 472.0Z" fill="#627a8d" stroke="#627a8d"/><path d="M112.3 474.1L115.9 473.4L113.8 472.0L110.2 472.8Z" fill="#7b91a3" stroke="#7b91a3"/><path d="M108.6 474.9L112.3 474.1L110.2 472.8L106.5 473.6Z" fill="#758c9f" stroke="#758c9f"/><path d="M248.6 446.6L252.2 445.8L250.1 444.5L246.5 445.3Z" fill="#758c9f" stroke="#758c9f"/><path d="M244.9 447.4L248.6 446.6L246.5 445.3L242.8 446.0Z" fill="#758c9f" stroke="#758c9f"/><path d="M241.3 448.2L244.9 447.4L242.8 446.0L239.2 446.8Z" fill="#788fa1" stroke="#788fa1"/><path d="M237.7 448.9L241.3 448.2L239.2 446.8L235.6 431.3Z" fill="#6c8599" stroke="#6c8599"/><path d="M234.1 434.7L237.7 448.9L235.6 431.3L232.0 434.3Z" fill="#728a9d" stroke="#728a9d"/><path d="M230.4 433.2L234.1 434.7L232.0 434.3L228.3 430.3Z" fill="#788fa1" stroke="#788fa1"/><path d="M226.8 433.6L230.4 433.2L228.3 430.3L224.7 431.2Z" fill="#b7c3cd" stroke="#b7c3cd"/><path d="M223.2 433.9L226.8 433.6L224.7 431.2L221.1 435.7Z" fill="#728a9d" stroke="#728a9d"/><path d="M219.5 434.3L223.2 433.9L221.1 435.7L217.5 437.7Z" fill="#698296" stroke="#698296"/><path d="M215.9 437.3L219.5 434.3L217.5 437.7L213.8 438.0Z" fill="#667f93" stroke="#667f93"/><path d="M212.3 438.5L215.9 437.3L213.8 438.0L210.2 439.1Z" fill="#6c8599" stroke="#6c8599"/><path d="M208.7 440.7L212.3 438.5L210.2 439.1L206.6 441.2Z" fill="#698296" stroke="#698296"/><path d="M205.0 442.5L208.7 440.7L206.6 441.2L202.9 443.2Z" fill="#667f93" stroke="#667f93"/><path d="M201.4 444.2L205.0 442.5L202.9 443.2L199.3 445.2Z" fill="#667f93" stroke="#667f93"/><path d="M197.8 446.1L201.4 444.2L199.3 445.2L195.7 447.2Z" fill="#667f93" stroke="#667f93"/><path d="M194.2 448.0L197.8 446.1L195.7 447.2L192.1 449.1Z" fill="#647d90" stroke="#647d90"/><path d="M190.5 449.1L194.2 448.0L192.1 449.1L188.4 451.1Z" fill="#647d90" stroke="#647d90"/><path d="M186.9 450.3L190.5 449.1L188.4 451.1L184.8 453.1Z" fill="#627a8d" stroke="#627a8d"/><path d="M183.3 451.5L186.9 450.3L184.8 453.1L181.2 455.1Z" fill="#60788a" stroke="#60788a"/><path d="M179.6 452.6L183.3 451.5L181.2 455.1L177.6 456.7Z" fill="#60788a" stroke="#60788a"/><path d="M176.0 453.8L179.6 452.6L177.6 456.7L173.9 456.4Z" fill="#60788a" stroke="#60788a"/><path d="M172.4 454.3L176.0 453.8L173.9 456.4L170.3 454.3Z" fill="#647d90" stroke="#647d90"/><path d="M168.8 452.4L172.4 454.3L170.3 454.3L166.7 452.1Z" fill="#698296" stroke="#698296"/><path d="M165.1 452.6L168.8 452.4L166.7 452.1L163.0 451.1Z" fill="#758c9f" stroke="#758c9f"/><path d="M161.5 453.3L165.1 452.6L163.0 451.1L159.4 450.8Z" fill="#9fafbc" stroke="#9fafbc"/><path d="M157.9 454.1L161.5 453.3L159.4 450.8L155.8 451.6Z" fill="#c0cbd3" stroke="#c0cbd3"/><path d="M154.3 454.8L157.9 454.1L155.8 451.6L152.2 452.3Z" fill="#c6d0d7" stroke="#c6d0d7"/><path d="M150.6 455.6L154.3 454.8L152.2 452.3L148.5 453.1Z" fill="#c9d2d9" stroke="#c9d2d9"/><path d="M147.0 456.3L150.6 455.6L148.5 453.1L144.9 453.3Z" fill="#c6d0d7" stroke="#c6d0d7"/><path d="M143.4 454.8L147.0 456.3L144.9 453.3L141.3 450.8Z" fill="#8da0b0" stroke="#8da0b0"/><path d="M139.7 453.5L143.4 454.8L141.3 450.8L137.7 449.5Z" fill="#a2b2be" stroke="#a2b2be"/><path d="M136.1 454.3L139.7 453.5L137.7 449.5L134.0 448.3Z" fill="#b7c3cd" stroke="#b7c3cd"/><path d="M132.5 455.5L136.1 454.3L134.0 448.3L130.4 449.1Z" fill="#b1bec9" stroke="#b1bec9"/><path d="M128.9 456.8L132.5 455.5L130.4 449.1L126.8 452.3Z" fill="#a8b7c2" stroke="#a8b7c2"/><path d="M125.2 473.2L128.9 456.8L126.8 452.3L123.1 454.1Z" fill="#6c8599" stroke="#6c8599"/><path d="M121.6 473.9L125.2 473.2L123.1 454.1L119.5 472.6Z" fill="#667f93" stroke="#667f93"/><path d="M118.0 474.7L121.6 473.9L119.5 472.6L115.9 473.4Z" fill="#8196a7" stroke="#8196a7"/><path d="M114.4 475.5L118.0 474.7L115.9 473.4L112.3 474.1Z" fill="#7b91a3" stroke="#7b91a3"/><path d="M110.7 476.3L114.4 475.5L112.3 474.1L108.6 474.9Z" fill="#758c9f" stroke="#758c9f"/><path d="M250.7 448.0L254.3 447.2L252.2 445.8L248.6 446.6Z" fill="#758c9f" stroke="#758c9f"/><path d="M247.0 448.7L250.7 448.0L248.6 446.6L244.9 447.4Z" fill="#758c9f" stroke="#758c9f"/><path d="M243.4 449.5L247.0 448.7L244.9 447.4L241.3 448.2Z" fill="#7b91a3" stroke="#7b91a3"/><path d="M239.8 450.3L243.4 449.5L241.3 448.2L237.7 448.9Z" fill="#8196a7" stroke="#8196a7"/><path d="M236.2 451.1L239.8 450.3L237.7 448.9L234.1 434.7Z" fill="#788fa1" stroke="#788fa1"/><path d="M232.5 451.9L236.2 451.1L234.1 434.7L230.4 433.2Z" fill="#9fafbc" stroke="#9fafbc"/><path d="M228.9 452.6L232.5 451.9L230.4 433.2L226.8 433.6Z" fill="#aebcc7" stroke="#aebcc7"/><path d="M225.3 453.4L228.9 452.6L226.8 433.6L223.2 433.9Z" fill="#abb9c4" stroke="#abb9c4"/><path d="M221.6 454.2L225.3 453.4L223.2 433.9L219.5 434.3Z" fill="#a5b4c0" stroke="#a5b4c0"/><path d="M218.0 455.0L221.6 454.2L219.5 434.3L215.9 437.3Z" fill="#a5b4c0" stroke="#a5b4c0"/><path d="M214.4 455.8L218.0 455.0L215.9 437.3L212.3 438.5Z" fill="#a8b7c2" stroke="#a8b7c2"/><path d="M210.8 456.5L214.4 455.8L212.3 438.5L208.7 440.7Z" fill="#a8b7c2" stroke="#a8b7c2"/><path d="M207.1 457.3L210.8 456.5L208.7 440.7L205.0 442.5Z" fill="#a8b7c2" stroke="#a8b7c2"/><path d="M203.5 458.1L207.1 457.3L205.0 442.5L201.4 444.2Z" fill="#abb9c4" stroke="#abb9c4"/><path d="M199.9 458.9L203.5 458.1L201.4 444.2L197.8 446.1Z" fill="#abb9c4" stroke="#abb9c4"/><path d="M196.3 459.7L199.9 458.9L197.8 446.1L194.2 448.0Z" fill="#abb9c4" stroke="#abb9c4"/><path d="M192.6 460.5L196.3 459.7L194.2 448.0L190.5 449.1Z" fill="#aebcc7" stroke="#aebcc7"/><path d="M189.0 461.2L192.6 460.5L190.5 449.1L186.9 450.3Z" fill="#abb9c4" stroke="#abb9c4"/><path d="M185.4 462.0L189.0 461.2L186.9 450.3L183.3 451.5Z" fill="#abb9c4" stroke="#abb9c4"/><path d="M181.7 462.8L185.4 462.0L183.3 451.5L179.6 452.6Z" fill="#abb9c4" stroke="#abb9c4"/><path d="M178.1 463.6L181.7 462.8L179.6 452.6L176.0 453.8Z" fill="#aebcc7" stroke="#aebcc7"/><path d="M174.5 464.4L178.1 463.6L176.0 453.8L172.4 454.3Z" fill="#aebcc7" stroke="#aebcc7"/><path d="M170.9 465.1L174.5 464.4L172.4 454.3L168.8 452.4Z" fill="#abb9c4" stroke="#abb9c4"/><path d="M167.2 465.9L170.9 465.1L168.8 452.4L165.1 452.6Z" fill="#b1bec9" stroke="#b1bec9"/><path d="M163.6 466.7L167.2 465.9L165.1 452.6L161.5 453.3Z" fill="#b7c3cd" stroke="#b7c3cd"/><path d="M160.0 467.5L163.6 466.7L161.5 453.3L157.9 454.1Z" fill="#b7c3cd" stroke="#b7c3cd"/><path d="M156.3 468.3L160.0 467.5L157.9 454.1L154.3 454.8Z" fill="#b7c3cd" stroke="#b7c3cd"/><path d="M152.7 469.0L156.3 468.3L154.3 454.8L150.6 455.6Z" fill="#b7c3cd" stroke="#b7c3cd"/><path d="M149.1 469.8L152.7 469.0L150.6 455.6L147.0 456.3Z" fill="#b4c1cb" stroke="#b4c1cb"/><path d="M145.5 470.6L149.1 469.8L147.0 456.3L143.4 454.8Z" fill="#aebcc7" stroke="#aebcc7"/><path d="M141.8 471.4L145.5 470.6L143.4 454.8L139.7 453.5Z" fill="#a8b7c2" stroke="#a8b7c2"/><path d="M138.2 472.2L141.8 471.4L139.7 453.5L136.1 454.3Z" fill="#a8b7c2" stroke="#a8b7c2"/><path d="M134.6 472.9L138.2 472.2L136.1 454.3L132.5 455.5Z" fill="#a8b7c2" stroke="#a8b7c2"/><path d="M131.0 473.7L134.6 472.9L132.5 455.5L128.9 456.8Z" fill="#9fafbc" stroke="#9fafbc"/><path d="M127.3 474.5L131.0 473.7L128.9 456.8L125.2 473.2Z" fill="#758c9f" stroke="#758c9f"/><path d="M123.7 475.3L127.3 474.5L125.2 473.2L121.6 473.9Z" fill="#8196a7" stroke="#8196a7"/><path d="M120.1 476.1L123.7 475.3L121.6 473.9L118.0 474.7Z" fill="#7b91a3" stroke="#7b91a3"/><path d="M116.4 476.8L120.1 476.1L118.0 474.7L114.4 475.5Z" fill="#758c9f" stroke="#758c9f"/><path d="M112.8 477.6L116.4 476.8L114.4 475.5L110.7 476.3Z" fill="#758c9f" stroke="#758c9f"/><path d="M252.8 449.3L256.4 448.5L254.3 447.2L250.7 448.0Z" fill="#758c9f" stroke="#758c9f"/><path d="M249.1 450.1L252.8 449.3L250.7 448.0L247.0 448.7Z" fill="#758c9f" stroke="#758c9f"/><path d="M245.5 450.9L249.1 450.1L247.0 448.7L243.4 449.5Z" fill="#758c9f" stroke="#758c9f"/><path d="M241.9 451.7L245.5 450.9L243.4 449.5L239.8 450.3Z" fill="#7b91a3" stroke="#7b91a3"/><path d="M238.2 452.4L241.9 451.7L239.8 450.3L236.2 451.1Z" fill="#8499a9" stroke="#8499a9"/><path d="M234.6 453.2L238.2 452.4L236.2 451.1L232.5 451.9Z" fill="#8da0b0" stroke="#8da0b0"/><path d="M231.0 454.0L234.6 453.2L232.5 451.9L228.9 452.6Z" fill="#90a3b2" stroke="#90a3b2"/><path d="M227.4 454.8L231.0 454.0L228.9 452.6L225.3 453.4Z" fill="#90a3b2" stroke="#90a3b2"/><path d="M223.7 455.6L227.4 454.8L225.3 453.4L221.6 454.2Z" fill="#90a3b2" stroke="#90a3b2"/><path d="M220.1 456.3L223.7 455.6L221.6 454.2L218.0 455.0Z" fill="#90a3b2" stroke="#90a3b2"/><path d="M216.5 457.1L220.1 456.3L218.0 455.0L214.4 455.8Z" fill="#90a3b2" stroke="#90a3b2"/><path d="M212.9 457.9L216.5 457.1L214.4 455.8L210.8 456.5Z" fill="#90a3b2" stroke="#90a3b2"/><path d="M209.2 458.7L212.9 457.9L210.8 456.5L207.1 457.3Z" fill="#90a3b2" stroke="#90a3b2"/><path d="M205.6 459.5L209.2 458.7L207.1 457.3L203.5 458.1Z" fill="#90a3b2" stroke="#90a3b2"/><path d="M202.0 460.2L205.6 459.5L203.5 458.1L199.9 458.9Z" fill="#90a3b2" stroke="#90a3b2"/><path d="M198.3 461.0L202.0 460.2L199.9 458.9L196.3 459.7Z" fill="#90a3b2" stroke="#90a3b2"/><path d="M194.7 461.8L198.3 461.0L196.3 459.7L192.6 460.5Z" fill="#90a3b2" stroke="#90a3b2"/><path d="M191.1 462.6L194.7 461.8L192.6 460.5L189.0 461.2Z" fill="#90a3b2" stroke="#90a3b2"/><path d="M187.5 463.4L191.1 462.6L189.0 461.2L185.4 462.0Z" fill="#90a3b2" stroke="#90a3b2"/><path d="M183.8 464.1L187.5 463.4L185.4 462.0L181.7 462.8Z" fill="#90a3b2" stroke="#90a3b2"/><path d="M180.2 464.9L183.8 464.1L181.7 462.8L178.1 463.6Z" fill="#90a3b2" stroke="#90a3b2"/><path d="M176.6 465.7L180.2 464.9L178.1 463.6L174.5 464.4Z" fill="#90a3b2" stroke="#90a3b2"/><path d="M173.0 466.5L176.6 465.7L174.5 464.4L170.9 465.1Z" fill="#90a3b2" stroke="#90a3b2"/><path d="M169.3 467.3L173.0 466.5L170.9 465.1L167.2 465.9Z" fill="#90a3b2" stroke="#90a3b2"/><path d="M165.7 468.1L169.3 467.3L167.2 465.9L163.6 466.7Z" fill="#90a3b2" stroke="#90a3b2"/><path d="M162.1 468.8L165.7 468.1L163.6 466.7L160.0 467.5Z" fill="#90a3b2" stroke="#90a3b2"/><path d="M158.4 469.6L162.1 468.8L160.0 467.5L156.3 468.3Z" fill="#90a3b2" stroke="#90a3b2"/><path d="M154.8 470.4L158.4 469.6L156.3 468.3L152.7 469.0Z" fill="#90a3b2" stroke="#90a3b2"/><path d="M151.2 471.2L154.8 470.4L152.7 469.0L149.1 469.8Z" fill="#90a3b2" stroke="#90a3b2"/><path d="M147.6 472.0L151.2 471.2L149.1 469.8L145.5 470.6Z" fill="#90a3b2" stroke="#90a3b2"/><path d="M143.9 472.7L147.6 472.0L145.5 470.6L141.8 471.4Z" fill="#90a3b2" stroke="#90a3b2"/><path d="M140.3 473.5L143.9 472.7L141.8 471.4L138.2 472.2Z" fill="#90a3b2" stroke="#90a3b2"/><path d="M136.7 474.3L140.3 473.5L138.2 472.2L134.6 472.9Z" fill="#90a3b2" stroke="#90a3b2"/><path d="M133.1 475.1L136.7 474.3L134.6 472.9L131.0 473.7Z" fill="#8da0b0" stroke="#8da0b0"/><path d="M129.4 475.9L133.1 475.1L131.0 473.7L127.3 474.5Z" fill="#879bab" stroke="#879bab"/><path d="M125.8 476.6L129.4 475.9L127.3 474.5L123.7 475.3Z" fill="#7b91a3" stroke="#7b91a3"/><path d="M122.2 477.4L125.8 476.6L123.7 475.3L120.1 476.1Z" fill="#758c9f" stroke="#758c9f"/><path d="M118.5 478.2L122.2 477.4L120.1 476.1L116.4 476.8Z" fill="#758c9f" stroke="#758c9f"/><path d="M114.9 479.0L118.5 478.2L116.4 476.8L112.8 477.6Z" fill="#758c9f" stroke="#758c9f"/><path d="M254.8 450.7L258.5 449.9L256.4 448.5L252.8 449.3Z" fill="#758c9f" stroke="#758c9f"/><path d="M251.2 451.4L254.8 450.7L252.8 449.3L249.1 450.1Z" fill="#758c9f" stroke="#758c9f"/><path d="M247.6 452.2L251.2 451.4L249.1 450.1L245.5 450.9Z" fill="#758c9f" stroke="#758c9f"/><path d="M244.0 453.0L247.6 452.2L245.5 450.9L241.9 451.7Z" fill="#758c9f" stroke="#758c9f"/><path d="M240.3 453.8L244.0 453.0L241.9 451.7L238.2 452.4Z" fill="#758c9f" stroke="#758c9f"/><path d="M236.7 454.6L240.3 453.8L238.2 452.4L234.6 453.2Z" fill="#788fa1" stroke="#788fa1"/><path d="M233.1 455.3L236.7 454.6L234.6 453.2L231.0 454.0Z" fill="#788fa1" stroke="#788fa1"/><path d="M229.5 456.1L233.1 455.3L231.0 454.0L227.4 454.8Z" fill="#788fa1" stroke="#788fa1"/><path d="M225.8 456.9L229.5 456.1L227.4 454.8L223.7 455.6Z" fill="#788fa1" stroke="#788fa1"/><path d="M222.2 457.7L225.8 456.9L223.7 455.6L220.1 456.3Z" fill="#788fa1" stroke="#788fa1"/><path d="M218.6 458.5L222.2 457.7L220.1 456.3L216.5 457.1Z" fill="#788fa1" stroke="#788fa1"/><path d="M214.9 459.3L218.6 458.5L216.5 457.1L212.9 457.9Z" fill="#788fa1" stroke="#788fa1"/><path d="M211.3 460.0L214.9 459.3L212.9 457.9L209.2 458.7Z" fill="#788fa1" stroke="#788fa1"/><path d="M207.7 460.8L211.3 460.0L209.2 458.7L205.6 459.5Z" fill="#788fa1" stroke="#788fa1"/><path d="M204.1 461.6L207.7 460.8L205.6 459.5L202.0 460.2Z" fill="#788fa1" stroke="#788fa1"/><path d="M200.4 462.4L204.1 461.6L202.0 460.2L198.3 461.0Z" fill="#788fa1" stroke="#788fa1"/><path d="M196.8 463.2L200.4 462.4L198.3 461.0L194.7 461.8Z" fill="#788fa1" stroke="#788fa1"/><path d="M193.2 463.9L196.8 463.2L194.7 461.8L191.1 462.6Z" fill="#788fa1" stroke="#788fa1"/><path d="M189.6 464.7L193.2 463.9L191.1 462.6L187.5 463.4Z" fill="#788fa1" stroke="#788fa1"/><path d="M185.9 465.5L189.6 464.7L187.5 463.4L183.8 464.1Z" fill="#788fa1" stroke="#788fa1"/><path d="M182.3 466.3L185.9 465.5L183.8 464.1L180.2 464.9Z" fill="#788fa1" stroke="#788fa1"/><path d="M178.7 467.1L182.3 466.3L180.2 464.9L176.6 465.7Z" fill="#788fa1" stroke="#788fa1"/><path d="M175.0 467.8L178.7 467.1L176.6 465.7L173.0 466.5Z" fill="#788fa1" stroke="#788fa1"/><path d="M171.4 468.6L175.0 467.8L173.0 466.5L169.3 467.3Z" fill="#788fa1" stroke="#788fa1"/><path d="M167.8 469.4L171.4 468.6L169.3 467.3L165.7 468.1Z" fill="#788fa1" stroke="#788fa1"/><path d="M164.2 470.2L167.8 469.4L165.7 468.1L162.1 468.8Z" fill="#788fa1" stroke="#788fa1"/><path d="M160.5 471.0L164.2 470.2L162.1 468.8L158.4 469.6Z" fill="#788fa1" stroke="#788fa1"/><path d="M156.9 471.7L160.5 471.0L158.4 469.6L154.8 470.4Z" fill="#788fa1" stroke="#788fa1"/><path d="M153.3 472.5L156.9 471.7L154.8 470.4L151.2 471.2Z" fill="#788fa1" stroke="#788fa1"/><path d="M149.7 473.3L153.3 472.5L151.2 471.2L147.6 472.0Z" fill="#788fa1" stroke="#788fa1"/><path d="M146.0 474.1L149.7 473.3L147.6 472.0L143.9 472.7Z" fill="#788fa1" stroke="#788fa1"/><path d="M142.4 474.9L146.0 474.1L143.9 472.7L140.3 473.5Z" fill="#788fa1" stroke="#788fa1"/><path d="M138.8 475.6L142.4 474.9L140.3 473.5L136.7 474.3Z" fill="#788fa1" stroke="#788fa1"/><path d="M135.1 476.4L138.8 475.6L136.7 474.3L133.1 475.1Z" fill="#788fa1" stroke="#788fa1"/><path d="M131.5 477.2L135.1 476.4L133.1 475.1L129.4 475.9Z" fill="#758c9f" stroke="#758c9f"/><path d="M127.9 478.0L131.5 477.2L129.4 475.9L125.8 476.6Z" fill="#758c9f" stroke="#758c9f"/><path d="M124.3 478.8L127.9 478.0L125.8 476.6L122.2 477.4Z" fill="#758c9f" stroke="#758c9f"/><path d="M120.6 479.6L124.3 478.8L122.2 477.4L118.5 478.2Z" fill="#758c9f" stroke="#758c9f"/><path d="M117.0 480.3L120.6 479.6L118.5 478.2L114.9 479.0Z" fill="#758c9f" stroke="#758c9f"/><path d="M256.9 452.0L260.6 451.2L258.5 449.9L254.8 450.7Z" fill="#758c9f" stroke="#758c9f"/><path d="M253.3 452.8L256.9 452.0L254.8 450.7L251.2 451.4Z" fill="#758c9f" stroke="#758c9f"/><path d="M249.7 453.6L253.3 452.8L251.2 451.4L247.6 452.2Z" fill="#758c9f" stroke="#758c9f"/><path d="M246.1 454.4L249.7 453.6L247.6 452.2L244.0 453.0Z" fill="#758c9f" stroke="#758c9f"/><path d="M242.4 455.1L246.1 454.4L244.0 453.0L240.3 453.8Z" fill="#758c9f" stroke="#758c9f"/><path d="M238.8 455.9L242.4 455.1L240.3 453.8L236.7 454.6Z" fill="#758c9f" stroke="#758c9f"/><path d="M235.2 456.7L238.8 455.9L236.7 454.6L233.1 455.3Z" fill="#758c9f" stroke="#758c9f"/><path d="M231.6 457.5L235.2 456.7L233.1 455.3L229.5 456.1Z" fill="#758c9f" stroke="#758c9f"/><path d="M227.9 458.3L231.6 457.5L229.5 456.1L225.8 456.9Z" fill="#758c9f" stroke="#758c9f"/><path d="M224.3 459.0L227.9 458.3L225.8 456.9L222.2 457.7Z" fill="#758c9f" stroke="#758c9f"/><path d="M220.7 459.8L224.3 459.0L222.2 457.7L218.6 458.5Z" fill="#758c9f" stroke="#758c9f"/><path d="M217.0 460.6L220.7 459.8L218.6 458.5L214.9 459.3Z" fill="#758c9f" stroke="#758c9f"/><path d="M213.4 461.4L217.0 460.6L214.9 459.3L211.3 460.0Z" fill="#758c9f" stroke="#758c9f"/><path d="M209.8 462.2L213.4 461.4L211.3 460.0L207.7 460.8Z" fill="#758c9f" stroke="#758c9f"/><path d="M206.2 462.9L209.8 462.2L207.7 460.8L204.1 461.6Z" fill="#758c9f" stroke="#758c9f"/><path d="M202.5 463.7L206.2 462.9L204.1 461.6L200.4 462.4Z" fill="#758c9f" stroke="#758c9f"/><path d="M198.9 464.5L202.5 463.7L200.4 462.4L196.8 463.2Z" fill="#758c9f" stroke="#758c9f"/><path d="M195.3 465.3L198.9 464.5L196.8 463.2L193.2 463.9Z" fill="#758c9f" stroke="#758c9f"/><path d="M191.7 466.1L195.3 465.3L193.2 463.9L189.6 464.7Z" fill="#758c9f" stroke="#758c9f"/><path d="M188.0 466.9L191.7 466.1L189.6 464.7L185.9 465.5Z" fill="#758c9f" stroke="#758c9f"/><path d="M184.4 467.6L188.0 466.9L185.9 465.5L182.3 466.3Z" fill="#758c9f" stroke="#758c9f"/><path d="M180.8 468.4L184.4 467.6L182.3 466.3L178.7 467.1Z" fill="#758c9f" stroke="#758c9f"/><path d="M177.1 469.2L180.8 468.4L178.7 467.1L175.0 467.8Z" fill="#758c9f" stroke="#758c9f"/><path d="M173.5 470.0L177.1 469.2L175.0 467.8L171.4 468.6Z" fill="#758c9f" stroke="#758c9f"/><path d="M169.9 470.8L173.5 470.0L171.4 468.6L167.8 469.4Z" fill="#758c9f" stroke="#758c9f"/><path d="M166.3 471.5L169.9 470.8L167.8 469.4L164.2 470.2Z" fill="#758c9f" stroke="#758c9f"/><path d="M162.6 472.3L166.3 471.5L164.2 470.2L160.5 471.0Z" fill="#758c9f" stroke="#758c9f"/><path d="M159.0 473.1L162.6 472.3L160.5 471.0L156.9 471.7Z" fill="#758c9f" stroke="#758c9f"/><path d="M155.4 473.9L159.0 473.1L156.9 471.7L153.3 472.5Z" fill="#758c9f" stroke="#758c9f"/><path d="M151.8 474.7L155.4 473.9L153.3 472.5L149.7 473.3Z" fill="#758c9f" stroke="#758c9f"/><path d="M148.1 475.4L151.8 474.7L149.7 473.3L146.0 474.1Z" fill="#758c9f" stroke="#758c9f"/><path d="M144.5 476.2L148.1 475.4L146.0 474.1L142.4 474.9Z" fill="#758c9f" stroke="#758c9f"/><path d="M140.9 477.0L144.5 476.2L142.4 474.9L138.8 475.6Z" fill="#758c9f" stroke="#758c9f"/><path d="M137.2 477.8L140.9 477.0L138.8 475.6L135.1 476.4Z" fill="#758c9f" stroke="#758c9f"/><path d="M133.6 478.6L137.2 477.8L135.1 476.4L131.5 477.2Z" fill="#758c9f" stroke="#758c9f"/><path d="M130.0 479.3L133.6 478.6L131.5 477.2L127.9 478.0Z" fill="#758c9f" stroke="#758c9f"/><path d="M126.4 480.1L130.0 479.3L127.9 478.0L124.3 478.8Z" fill="#758c9f" stroke="#758c9f"/><path d="M122.7 480.9L126.4 480.1L124.3 478.8L120.6 479.6Z" fill="#758c9f" stroke="#758c9f"/><path d="M119.1 481.7L122.7 480.9L120.6 479.6L117.0 480.3Z" fill="#758c9f" stroke="#758c9f"/></g><polyline points="34.57,320.46 118.34,374.56 263.43,343.33" fill="none" stroke="#000" stroke-width="1" shape-rendering="crispEdges"/><polyline points="118.34,482.75 118.34,374.56" fill="none" stroke="#000" stroke-width="1" shape-rendering="crispEdges"/><path d="M120.35 482.32L120.69 483.88M125.39 481.24L125.73 482.8M130.43 480.15L130.77 481.72M135.47 479.07L135.8 480.63M140.5 477.98L140.84 479.55M145.54 476.9L145.88 478.46M150.58 475.81L150.92 477.38M155.62 474.73L155.96 476.29M160.66 473.64L160.99 475.21M165.69 472.56L166.03 474.12M170.73 471.48L171.07 473.04M175.77 470.39L176.11 471.96M180.81 469.31L181.15 470.87M185.85 468.22L186.18 469.79M190.88 467.14L191.22 468.7M195.92 466.05L196.26 467.62M200.96 464.97L201.3 466.53M206 463.88L206.34 465.45M211.04 462.8L211.37 464.36M216.07 461.72L216.41 463.28M221.11 460.63L221.45 462.19M226.15 459.55L226.49 461.11M231.19 458.46L231.52 460.03M236.23 457.38L236.56 458.94M241.26 456.29L241.6 457.86M246.3 455.21L246.64 456.77M251.34 454.12L251.68 455.69M256.38 453.04L256.71 454.6M261.42 451.95L261.75 453.52M130.43 480.15L131.1 483.28M150.58 475.81L151.25 478.94M170.73 471.48L171.41 474.6M190.88 467.14L191.56 470.27M211.04 462.8L211.71 465.93M231.19 458.46L231.86 461.59M251.34 454.12L252.01 457.25M117.17 482L116.31 483.35M114.27 480.12L113.4 481.47M111.36 478.25L110.49 479.59M108.45 476.37L107.58 477.71M105.54 474.49L104.67 475.83M102.63 472.61L101.76 473.95M99.72 470.73L98.85 472.08M96.81 468.85L95.95 470.2M93.9 466.98L93.04 468.32M91 465.1L90.13 466.44M88.09 463.22L87.22 464.56M85.18 461.34L84.31 462.68M82.27 459.46L81.4 460.81M79.36 457.58L78.49 458.93M76.45 455.71L75.58 457.05M73.54 453.83L72.68 455.17M70.64 451.95L69.77 453.29M67.73 450.07L66.86 451.41M64.82 448.19L63.95 449.54M61.91 446.31L61.04 447.66M59 444.44L58.13 445.78M56.09 442.56L55.22 443.9M53.18 440.68L52.32 442.02M50.27 438.8L49.41 440.14M47.37 436.92L46.5 438.27M44.46 435.04L43.59 436.39M41.55 433.16L40.68 434.51M38.64 431.29L37.77 432.63M35.73 429.41L34.86 430.75M111.36 478.25L109.62 480.93M99.72 470.73L97.99 473.42M88.09 463.22L86.35 465.91M76.45 455.71L74.72 458.39M64.82 448.19L63.08 450.88M53.18 440.68L51.45 443.37M41.55 433.16L39.81 435.85" stroke="#000" stroke-width="1" fill="none" shape-rendering="crispEdges"/><text x="131.33" y="491.75" font-size="7.8" text-anchor="middle" fill="#000" stroke="#000" stroke-width="0.176">−6</text><text x="151.48" y="487.41" font-size="7.8" text-anchor="middle" fill="#000" stroke="#000" stroke-width="0.176">−4</text><text x="171.63" y="483.08" font-size="7.8" text-anchor="middle" fill="#000" stroke="#000" stroke-width="0.176">−2</text><text x="192.48" y="478.74" font-size="7.8" text-anchor="middle" fill="#000" stroke="#000" stroke-width="0.176">0</text><text x="212.64" y="474.4" font-size="7.8" text-anchor="middle" fill="#000" stroke="#000" stroke-width="0.176">2</text><text x="232.79" y="470.06" font-size="7.8" text-anchor="middle" fill="#000" stroke="#000" stroke-width="0.176">4</text><text x="252.94" y="465.72" font-size="7.8" text-anchor="middle" fill="#000" stroke="#000" stroke-width="0.176">6</text><text x="101.86" y="488.25" font-size="7.8" text-anchor="middle" fill="#000" stroke="#000" stroke-width="0.176">−6</text><text x="90.22" y="480.73" font-size="7.8" text-anchor="middle" fill="#000" stroke="#000" stroke-width="0.176">−4</text><text x="78.59" y="473.22" font-size="7.8" text-anchor="middle" fill="#000" stroke="#000" stroke-width="0.176">−2</text><text x="66.95" y="465.71" font-size="7.8" text-anchor="middle" fill="#000" stroke="#000" stroke-width="0.176">0</text><text x="55.32" y="458.19" font-size="7.8" text-anchor="middle" fill="#000" stroke="#000" stroke-width="0.176">2</text><text x="43.68" y="450.68" font-size="7.8" text-anchor="middle" fill="#000" stroke="#000" stroke-width="0.176">4</text><text x="32.05" y="443.16" font-size="7.8" text-anchor="middle" fill="#000" stroke="#000" stroke-width="0.176">6</text><text x="53" y="277.1" font-size="10" textLength="191" lengthAdjust="spacingAndGlyphs" fill="#000" stroke="#000" stroke-width="0.33">Histogram produced with Delaunay interpolation</text><polyline points="34.57,684.73 179.66,653.49 263.43,707.59" fill="none" stroke="#000" stroke-width="1" stroke-dasharray="1.5 1.9" shape-rendering="crispEdges"/><polyline points="34.57,666.7 179.66,635.46 263.43,689.56" fill="none" stroke="#000" stroke-width="1" stroke-dasharray="1.5 1.9" shape-rendering="crispEdges"/><polyline points="34.57,648.66 179.66,617.43 263.43,671.53" fill="none" stroke="#000" stroke-width="1" stroke-dasharray="1.5 1.9" shape-rendering="crispEdges"/><polyline points="34.57,630.63 179.66,599.4 263.43,653.49" fill="none" stroke="#000" stroke-width="1" stroke-dasharray="1.5 1.9" shape-rendering="crispEdges"/><polyline points="34.57,612.6 179.66,581.36 263.43,635.46" fill="none" stroke="#000" stroke-width="1" stroke-dasharray="1.5 1.9" shape-rendering="crispEdges"/><polyline points="34.57,594.57 179.66,563.33 263.43,617.43" fill="none" stroke="#000" stroke-width="1" stroke-dasharray="1.5 1.9" shape-rendering="crispEdges"/><polyline points="34.57,685.99 34.57,577.8" fill="none" stroke="#000" stroke-width="1" shape-rendering="crispEdges"/><polyline points="179.66,654.76 179.66,546.56" fill="none" stroke="#000" stroke-width="1" shape-rendering="crispEdges"/><polyline points="263.43,708.85 263.43,600.66" fill="none" stroke="#000" stroke-width="1" shape-rendering="crispEdges"/><polyline points="34.57,577.8 179.66,546.56 263.43,600.66" fill="none" stroke="#000" stroke-width="1" shape-rendering="crispEdges"/><polyline points="34.57,685.99 179.66,654.76 263.43,708.85" fill="none" stroke="#000" stroke-width="1" shape-rendering="crispEdges"/><path d="M32.27 684.73L34.57 684.73M32.27 681.12L34.57 681.12M32.27 677.51L34.57 677.51M32.27 673.91L34.57 673.91M32.27 670.3L34.57 670.3M32.27 666.7L34.57 666.7M32.27 663.09L34.57 663.09M32.27 659.48L34.57 659.48M32.27 655.88L34.57 655.88M32.27 652.27L34.57 652.27M32.27 648.66L34.57 648.66M32.27 645.06L34.57 645.06M32.27 641.45L34.57 641.45M32.27 637.84L34.57 637.84M32.27 634.24L34.57 634.24M32.27 630.63L34.57 630.63M32.27 627.02L34.57 627.02M32.27 623.42L34.57 623.42M32.27 619.81L34.57 619.81M32.27 616.2L34.57 616.2M32.27 612.6L34.57 612.6M32.27 608.99L34.57 608.99M32.27 605.38L34.57 605.38M32.27 601.78L34.57 601.78M32.27 598.17L34.57 598.17M32.27 594.57L34.57 594.57M32.27 590.96L34.57 590.96M32.27 587.35L34.57 587.35M32.27 583.75L34.57 583.75M32.27 580.14L34.57 580.14M29.97 684.73L34.57 684.73M29.97 666.7L34.57 666.7M29.97 648.66L34.57 648.66M29.97 630.63L34.57 630.63M29.97 612.6L34.57 612.6M29.97 594.57L34.57 594.57" stroke="#000" stroke-width="1" fill="none" shape-rendering="crispEdges"/><text x="29.67" y="687.33" font-size="8" text-anchor="end" fill="#000" stroke="#000" stroke-width="0.19">0</text><text x="29.67" y="669.3" font-size="8" text-anchor="end" fill="#000" stroke="#000" stroke-width="0.19">200</text><text x="29.67" y="651.26" font-size="8" text-anchor="end" fill="#000" stroke="#000" stroke-width="0.19">400</text><text x="29.67" y="633.23" font-size="8" text-anchor="end" fill="#000" stroke="#000" stroke-width="0.19">600</text><text x="29.67" y="615.2" font-size="8" text-anchor="end" fill="#000" stroke="#000" stroke-width="0.19">800</text><text x="29.67" y="597.17" font-size="8" text-anchor="end" fill="#000" stroke="#000" stroke-width="0.19">1000</text><polyline points="34.57,685.99 118.34,740.09 263.43,708.85" fill="none" stroke="#000" stroke-width="1" shape-rendering="crispEdges"/><g stroke="#ff0000" stroke-width="2.1" stroke-linejoin="round" shape-rendering="crispEdges"><path class="k0" d="M176.6 637.9L181.4 637.7L178.6 636.3L173.8 636.9Z"/><path class="k0" d="M171.8 638.3L176.6 637.9L173.8 636.9L169.0 637.6Z"/><path class="k0" d="M166.9 639.1L171.8 638.3L169.0 637.6L164.1 638.5Z"/><path class="k0" d="M162.1 640.2L166.9 639.1L164.1 638.5L159.3 639.6Z"/><path class="k0" d="M157.2 641.9L162.1 640.2L159.3 639.6L154.5 640.9Z"/><path class="k0" d="M152.4 644.0L157.2 641.9L154.5 640.9L149.6 642.6Z"/><path class="k0" d="M147.6 646.6L152.4 644.0L149.6 642.6L144.8 644.5Z"/><path class="k0" d="M142.7 649.5L147.6 646.6L144.8 644.5L139.9 646.6Z"/><path class="k0" d="M137.9 652.7L142.7 649.5L139.9 646.6L135.1 648.9Z"/><path class="k1" d="M133.1 655.9L137.9 652.7L135.1 648.9L130.3 651.1Z"/><path class="k1" d="M128.2 659.0L133.1 655.9L130.3 651.1L125.4 653.3Z"/><path class="k1" d="M123.4 661.8L128.2 659.0L125.4 653.3L120.6 655.3Z"/><path class="k2" d="M118.6 664.1L123.4 661.8L120.6 655.3L115.8 657.1Z"/><path class="k2" d="M113.7 665.8L118.6 664.1L115.8 657.1L110.9 658.5Z"/><path class="k2" d="M108.9 666.9L113.7 665.8L110.9 658.5L106.1 659.5Z"/><path class="k2" d="M104.0 667.2L108.9 666.9L106.1 659.5L101.3 660.2Z"/><path class="k2" d="M99.2 667.0L104.0 667.2L101.3 660.2L96.4 660.5Z"/><path class="k1" d="M94.4 666.3L99.2 667.0L96.4 660.5L91.6 660.6Z"/><path class="k1" d="M89.5 665.3L94.4 666.3L91.6 660.6L86.7 660.5Z"/><path class="k1" d="M84.7 664.2L89.5 665.3L86.7 660.5L81.9 660.3Z"/><path class="k0" d="M79.9 663.1L84.7 664.2L81.9 660.3L77.1 660.2Z"/><path class="k0" d="M75.0 662.2L79.9 663.1L77.1 660.2L72.2 660.1Z"/><path class="k0" d="M70.2 661.7L75.0 662.2L72.2 660.1L67.4 660.3Z"/><path class="k0" d="M65.4 661.6L70.2 661.7L67.4 660.3L62.6 660.7Z"/><path class="k0" d="M60.5 662.1L65.4 661.6L62.6 660.7L57.7 661.4Z"/><path class="k0" d="M55.7 663.0L60.5 662.1L57.7 661.4L52.9 662.4Z"/><path class="k0" d="M50.8 664.4L55.7 663.0L52.9 662.4L48.1 663.6Z"/><path class="k0" d="M46.0 666.0L50.8 664.4L48.1 663.6L43.2 665.0Z"/><path class="k0" d="M41.2 667.9L46.0 666.0L43.2 665.0L38.4 666.5Z"/><path class="k0" d="M179.4 639.1L184.2 639.1L181.4 637.7L176.6 637.9Z"/><path class="k4" d="M174.6 639.3L179.4 639.1L176.6 637.9L171.8 638.3Z"/><path class="k4" d="M169.7 640.0L174.6 639.3L171.8 638.3L166.9 639.1Z"/><path class="k4" d="M164.9 641.1L169.7 640.0L166.9 639.1L162.1 640.2Z"/><path class="k4" d="M160.0 643.0L164.9 641.1L162.1 640.2L157.2 641.9Z"/><path class="k0" d="M155.2 645.5L160.0 643.0L157.2 641.9L152.4 644.0Z"/><path class="k0" d="M150.4 648.6L155.2 645.5L152.4 644.0L147.6 646.6Z"/><path class="k0" d="M145.5 652.2L150.4 648.6L147.6 646.6L142.7 649.5Z"/><path class="k1" d="M140.7 656.1L145.5 652.2L142.7 649.5L137.9 652.7Z"/><path class="k1" d="M135.9 660.1L140.7 656.1L137.9 652.7L133.1 655.9Z"/><path class="k2" d="M131.0 663.9L135.9 660.1L133.1 655.9L128.2 659.0Z"/><path class="k2" d="M126.2 667.2L131.0 663.9L128.2 659.0L123.4 661.8Z"/><path class="k2" d="M121.4 670.0L126.2 667.2L123.4 661.8L118.6 664.1Z"/><path class="k3" d="M116.5 671.9L121.4 670.0L118.6 664.1L113.7 665.8Z"/><path class="k3" d="M111.7 672.9L116.5 671.9L113.7 665.8L108.9 666.9Z"/><path class="k3" d="M106.8 673.1L111.7 672.9L108.9 666.9L104.0 667.2Z"/><path class="k2" d="M102.0 672.5L106.8 673.1L104.0 667.2L99.2 667.0Z"/><path class="k2" d="M97.2 671.2L102.0 672.5L99.2 667.0L94.4 666.3Z"/><path class="k2" d="M92.3 669.4L97.2 671.2L94.4 666.3L89.5 665.3Z"/><path class="k1" d="M87.5 667.5L92.3 669.4L89.5 665.3L84.7 664.2Z"/><path class="k1" d="M82.7 665.7L87.5 667.5L84.7 664.2L79.9 663.1Z"/><path class="k0" d="M77.8 664.2L82.7 665.7L79.9 663.1L75.0 662.2Z"/><path class="k0" d="M73.0 663.2L77.8 664.2L75.0 662.2L70.2 661.7Z"/><path class="k0" d="M68.1 662.7L73.0 663.2L70.2 661.7L65.4 661.6Z"/><path class="k4" d="M63.3 663.0L68.1 662.7L65.4 661.6L60.5 662.1Z"/><path class="k4" d="M58.5 663.9L63.3 663.0L60.5 662.1L55.7 663.0Z"/><path class="k4" d="M53.6 665.4L58.5 663.9L55.7 663.0L50.8 664.4Z"/><path class="k4" d="M48.8 667.2L53.6 665.4L50.8 664.4L46.0 666.0Z"/><path class="k0" d="M44.0 669.3L48.8 667.2L46.0 666.0L41.2 667.9Z"/><path class="k0" d="M182.2 640.6L187.0 640.8L184.2 639.1L179.4 639.1Z"/><path class="k4" d="M177.3 640.7L182.2 640.6L179.4 639.1L174.6 639.3Z"/><path class="k4" d="M172.5 641.3L177.3 640.7L174.6 639.3L169.7 640.0Z"/><path class="k4" d="M167.7 642.5L172.5 641.3L169.7 640.0L164.9 641.1Z"/><path class="k4" d="M162.8 644.4L167.7 642.5L164.9 641.1L160.0 643.0Z"/><path class="k0" d="M158.0 647.1L162.8 644.4L160.0 643.0L155.2 645.5Z"/><path class="k0" d="M153.2 650.5L158.0 647.1L155.2 645.5L150.4 648.6Z"/><path class="k0" d="M148.3 654.4L153.2 650.5L150.4 648.6L145.5 652.2Z"/><path class="k1" d="M143.5 658.7L148.3 654.4L145.5 652.2L140.7 656.1Z"/><path class="k1" d="M138.7 663.0L143.5 658.7L140.7 656.1L135.9 660.1Z"/><path class="k2" d="M133.8 667.2L138.7 663.0L135.9 660.1L131.0 663.9Z"/><path class="k3" d="M129.0 670.9L133.8 667.2L131.0 663.9L126.2 667.2Z"/><path class="k3" d="M124.1 673.8L129.0 670.9L126.2 667.2L121.4 670.0Z"/><path class="k3" d="M119.3 675.8L124.1 673.8L121.4 670.0L116.5 671.9Z"/><path class="k3" d="M114.5 676.9L119.3 675.8L116.5 671.9L111.7 672.9Z"/><path class="k3" d="M109.6 676.9L114.5 676.9L111.7 672.9L106.8 673.1Z"/><path class="k3" d="M104.8 676.1L109.6 676.9L106.8 673.1L102.0 672.5Z"/><path class="k3" d="M100.0 674.5L104.8 676.1L102.0 672.5L97.2 671.2Z"/><path class="k2" d="M95.1 672.4L100.0 674.5L97.2 671.2L92.3 669.4Z"/><path class="k1" d="M90.3 670.1L95.1 672.4L92.3 669.4L87.5 667.5Z"/><path class="k1" d="M85.5 667.9L90.3 670.1L87.5 667.5L82.7 665.7Z"/><path class="k0" d="M80.6 666.1L85.5 667.9L82.7 665.7L77.8 664.2Z"/><path class="k0" d="M75.8 664.8L80.6 666.1L77.8 664.2L73.0 663.2Z"/><path class="k0" d="M70.9 664.2L75.8 664.8L73.0 663.2L68.1 662.7Z"/><path class="k4" d="M66.1 664.4L70.9 664.2L68.1 662.7L63.3 663.0Z"/><path class="k4" d="M61.3 665.2L66.1 664.4L63.3 663.0L58.5 663.9Z"/><path class="k4" d="M56.4 666.7L61.3 665.2L58.5 663.9L53.6 665.4Z"/><path class="k4" d="M51.6 668.7L56.4 666.7L53.6 665.4L48.8 667.2Z"/><path class="k0" d="M46.8 671.0L51.6 668.7L48.8 667.2L44.0 669.3Z"/><path class="k0" d="M185.0 642.5L189.8 642.6L187.0 640.8L182.2 640.6Z"/><path class="k4" d="M180.1 642.7L185.0 642.5L182.2 640.6L177.3 640.7Z"/><path class="k4" d="M175.3 643.3L180.1 642.7L177.3 640.7L172.5 641.3Z"/><path class="k4" d="M170.5 644.5L175.3 643.3L172.5 641.3L167.7 642.5Z"/><path class="k4" d="M165.6 646.3L170.5 644.5L167.7 642.5L162.8 644.4Z"/><path class="k0" d="M160.8 649.0L165.6 646.3L162.8 644.4L158.0 647.1Z"/><path class="k0" d="M156.0 652.2L160.8 649.0L158.0 647.1L153.2 650.5Z"/><path class="k0" d="M151.1 656.1L156.0 652.2L153.2 650.5L148.3 654.4Z"/><path class="k1" d="M146.3 660.2L151.1 656.1L148.3 654.4L143.5 658.7Z"/><path class="k2" d="M141.4 664.4L146.3 660.2L143.5 658.7L138.7 663.0Z"/><path class="k2" d="M136.6 668.5L141.4 664.4L138.7 663.0L133.8 667.2Z"/><path class="k3" d="M131.8 672.0L136.6 668.5L133.8 667.2L129.0 670.9Z"/><path class="k3" d="M126.9 674.9L131.8 672.0L129.0 670.9L124.1 673.8Z"/><path class="k3" d="M122.1 676.9L126.9 674.9L124.1 673.8L119.3 675.8Z"/><path class="k3" d="M117.3 677.9L122.1 676.9L119.3 675.8L114.5 676.9Z"/><path class="k3" d="M112.4 678.0L117.3 677.9L114.5 676.9L109.6 676.9Z"/><path class="k3" d="M107.6 677.2L112.4 678.0L109.6 676.9L104.8 676.1Z"/><path class="k3" d="M102.8 675.7L107.6 677.2L104.8 676.1L100.0 674.5Z"/><path class="k2" d="M97.9 673.8L102.8 675.7L100.0 674.5L95.1 672.4Z"/><path class="k2" d="M93.1 671.7L97.9 673.8L95.1 672.4L90.3 670.1Z"/><path class="k1" d="M88.2 669.6L93.1 671.7L90.3 670.1L85.5 667.9Z"/><path class="k0" d="M83.4 667.9L88.2 669.6L85.5 667.9L80.6 666.1Z"/><path class="k0" d="M78.6 666.7L83.4 667.9L80.6 666.1L75.8 664.8Z"/><path class="k0" d="M73.7 666.1L78.6 666.7L75.8 664.8L70.9 664.2Z"/><path class="k4" d="M68.9 666.3L73.7 666.1L70.9 664.2L66.1 664.4Z"/><path class="k4" d="M64.1 667.2L68.9 666.3L66.1 664.4L61.3 665.2Z"/><path class="k4" d="M59.2 668.7L64.1 667.2L61.3 665.2L56.4 666.7Z"/><path class="k4" d="M54.4 670.6L59.2 668.7L56.4 666.7L51.6 668.7Z"/><path class="k0" d="M49.6 672.8L54.4 670.6L51.6 668.7L46.8 671.0Z"/><path class="k0" d="M187.8 644.9L192.6 644.8L189.8 642.6L185.0 642.5Z"/><path class="k4" d="M182.9 645.3L187.8 644.9L185.0 642.5L180.1 642.7Z"/><path class="k4" d="M178.1 646.0L182.9 645.3L180.1 642.7L175.3 643.3Z"/><path class="k4" d="M173.3 647.1L178.1 646.0L175.3 643.3L170.5 644.5Z"/><path class="k4" d="M168.4 648.8L173.3 647.1L170.5 644.5L165.6 646.3Z"/><path class="k0" d="M163.6 651.1L168.4 648.8L165.6 646.3L160.8 649.0Z"/><path class="k0" d="M158.7 653.9L163.6 651.1L160.8 649.0L156.0 652.2Z"/><path class="k0" d="M153.9 657.1L158.7 653.9L156.0 652.2L151.1 656.1Z"/><path class="k1" d="M149.1 660.5L153.9 657.1L151.1 656.1L146.3 660.2Z"/><path class="k1" d="M144.2 664.0L149.1 660.5L146.3 660.2L141.4 664.4Z"/><path class="k2" d="M139.4 667.4L144.2 664.0L141.4 664.4L136.6 668.5Z"/><path class="k2" d="M134.6 670.4L139.4 667.4L136.6 668.5L131.8 672.0Z"/><path class="k3" d="M129.7 672.8L134.6 670.4L131.8 672.0L126.9 674.9Z"/><path class="k3" d="M124.9 674.6L129.7 672.8L126.9 674.9L122.1 676.9Z"/><path class="k3" d="M120.1 675.7L124.9 674.6L122.1 676.9L117.3 677.9Z"/><path class="k3" d="M115.2 675.9L120.1 675.7L117.3 677.9L112.4 678.0Z"/><path class="k3" d="M110.4 675.6L115.2 675.9L112.4 678.0L107.6 677.2Z"/><path class="k2" d="M105.5 674.7L110.4 675.6L107.6 677.2L102.8 675.7Z"/><path class="k2" d="M100.7 673.4L105.5 674.7L102.8 675.7L97.9 673.8Z"/><path class="k1" d="M95.9 672.0L100.7 673.4L97.9 673.8L93.1 671.7Z"/><path class="k1" d="M91.0 670.6L95.9 672.0L93.1 671.7L88.2 669.6Z"/><path class="k0" d="M86.2 669.5L91.0 670.6L88.2 669.6L83.4 667.9Z"/><path class="k0" d="M81.4 668.8L86.2 669.5L83.4 667.9L78.6 666.7Z"/><path class="k0" d="M76.5 668.6L81.4 668.8L78.6 666.7L73.7 666.1Z"/><path class="k4" d="M71.7 669.0L76.5 668.6L73.7 666.1L68.9 666.3Z"/><path class="k4" d="M66.9 669.9L71.7 669.0L68.9 666.3L64.1 667.2Z"/><path class="k4" d="M62.0 671.3L66.9 669.9L64.1 667.2L59.2 668.7Z"/><path class="k4" d="M57.2 673.0L62.0 671.3L59.2 668.7L54.4 670.6Z"/><path class="k0" d="M52.3 675.0L57.2 673.0L54.4 670.6L49.6 672.8Z"/><path class="k0" d="M190.6 647.8L195.4 647.2L192.6 644.8L187.8 644.9Z"/><path class="k0" d="M185.7 648.5L190.6 647.8L187.8 644.9L182.9 645.3Z"/><path class="k0" d="M180.9 649.4L185.7 648.5L182.9 645.3L178.1 646.0Z"/><path class="k0" d="M176.0 650.5L180.9 649.4L178.1 646.0L173.3 647.1Z"/><path class="k0" d="M171.2 651.8L176.0 650.5L173.3 647.1L168.4 648.8Z"/><path class="k0" d="M166.4 653.5L171.2 651.8L168.4 648.8L163.6 651.1Z"/><path class="k0" d="M161.5 655.3L166.4 653.5L163.6 651.1L158.7 653.9Z"/><path class="k0" d="M156.7 657.3L161.5 655.3L158.7 653.9L153.9 657.1Z"/><path class="k0" d="M151.9 659.5L156.7 657.3L153.9 657.1L149.1 660.5Z"/><path class="k1" d="M147.0 661.7L151.9 659.5L149.1 660.5L144.2 664.0Z"/><path class="k1" d="M142.2 663.8L147.0 661.7L144.2 664.0L139.4 667.4Z"/><path class="k1" d="M137.4 665.8L142.2 663.8L139.4 667.4L134.6 670.4Z"/><path class="k2" d="M132.5 667.5L137.4 665.8L134.6 670.4L129.7 672.8Z"/><path class="k2" d="M127.7 668.9L132.5 667.5L129.7 672.8L124.9 674.6Z"/><path class="k2" d="M122.8 669.9L127.7 668.9L124.9 674.6L120.1 675.7Z"/><path class="k2" d="M118.0 670.6L122.8 669.9L120.1 675.7L115.2 675.9Z"/><path class="k2" d="M113.2 671.0L118.0 670.6L115.2 675.9L110.4 675.6Z"/><path class="k1" d="M108.3 671.1L113.2 671.0L110.4 675.6L105.5 674.7Z"/><path class="k1" d="M103.5 671.1L108.3 671.1L105.5 674.7L100.7 673.4Z"/><path class="k1" d="M98.7 671.0L103.5 671.1L100.7 673.4L95.9 672.0Z"/><path class="k0" d="M93.8 670.9L98.7 671.0L95.9 672.0L91.0 670.6Z"/><path class="k0" d="M89.0 670.9L93.8 670.9L91.0 670.6L86.2 669.5Z"/><path class="k0" d="M84.2 671.1L89.0 670.9L86.2 669.5L81.4 668.8Z"/><path class="k0" d="M79.3 671.6L84.2 671.1L81.4 668.8L76.5 668.6Z"/><path class="k0" d="M74.5 672.4L79.3 671.6L76.5 668.6L71.7 669.0Z"/><path class="k0" d="M69.6 673.3L74.5 672.4L71.7 669.0L66.9 669.9Z"/><path class="k0" d="M64.8 674.5L69.6 673.3L66.9 669.9L62.0 671.3Z"/><path class="k0" d="M60.0 675.9L64.8 674.5L62.0 671.3L57.2 673.0Z"/><path class="k0" d="M55.1 677.4L60.0 675.9L57.2 673.0L52.3 675.0Z"/><path class="k0" d="M193.3 651.1L198.2 649.8L195.4 647.2L190.6 647.8Z"/><path class="k0" d="M188.5 652.4L193.3 651.1L190.6 647.8L185.7 648.5Z"/><path class="k0" d="M183.7 653.5L188.5 652.4L185.7 648.5L180.9 649.4Z"/><path class="k0" d="M178.8 654.5L183.7 653.5L180.9 649.4L176.0 650.5Z"/><path class="k0" d="M174.0 655.4L178.8 654.5L176.0 650.5L171.2 651.8Z"/><path class="k0" d="M169.2 656.1L174.0 655.4L171.2 651.8L166.4 653.5Z"/><path class="k0" d="M164.3 656.6L169.2 656.1L166.4 653.5L161.5 655.3Z"/><path class="k0" d="M159.5 657.0L164.3 656.6L161.5 655.3L156.7 657.3Z"/><path class="k0" d="M154.7 657.3L159.5 657.0L156.7 657.3L151.9 659.5Z"/><path class="k0" d="M149.8 657.7L154.7 657.3L151.9 659.5L147.0 661.7Z"/><path class="k0" d="M145.0 658.0L149.8 657.7L147.0 661.7L142.2 663.8Z"/><path class="k0" d="M140.1 658.5L145.0 658.0L142.2 663.8L137.4 665.8Z"/><path class="k0" d="M135.3 659.1L140.1 658.5L137.4 665.8L132.5 667.5Z"/><path class="k0" d="M130.5 660.0L135.3 659.1L132.5 667.5L127.7 668.9Z"/><path class="k0" d="M125.6 661.0L130.5 660.0L127.7 668.9L122.8 669.9Z"/><path class="k0" d="M120.8 662.3L125.6 661.0L122.8 669.9L118.0 670.6Z"/><path class="k0" d="M116.0 663.7L120.8 662.3L118.0 670.6L113.2 671.0Z"/><path class="k0" d="M111.1 665.3L116.0 663.7L113.2 671.0L108.3 671.1Z"/><path class="k0" d="M106.3 667.0L111.1 665.3L108.3 671.1L103.5 671.1Z"/><path class="k0" d="M101.5 668.8L106.3 667.0L103.5 671.1L98.7 671.0Z"/><path class="k0" d="M96.6 670.5L101.5 668.8L98.7 671.0L93.8 670.9Z"/><path class="k0" d="M91.8 672.2L96.6 670.5L93.8 670.9L89.0 670.9Z"/><path class="k0" d="M86.9 673.8L91.8 672.2L89.0 670.9L84.2 671.1Z"/><path class="k0" d="M82.1 675.2L86.9 673.8L84.2 671.1L79.3 671.6Z"/><path class="k0" d="M77.3 676.4L82.1 675.2L79.3 671.6L74.5 672.4Z"/><path class="k0" d="M72.4 677.5L77.3 676.4L74.5 672.4L69.6 673.3Z"/><path class="k0" d="M67.6 678.4L72.4 677.5L69.6 673.3L64.8 674.5Z"/><path class="k0" d="M62.8 679.3L67.6 678.4L64.8 674.5L60.0 675.9Z"/><path class="k0" d="M57.9 680.0L62.8 679.3L60.0 675.9L55.1 677.4Z"/><path class="k0" d="M196.1 654.9L201.0 652.7L198.2 649.8L193.3 651.1Z"/><path class="k0" d="M191.3 656.8L196.1 654.9L193.3 651.1L188.5 652.4Z"/><path class="k0" d="M186.5 658.2L191.3 656.8L188.5 652.4L183.7 653.5Z"/><path class="k0" d="M181.6 659.1L186.5 658.2L183.7 653.5L178.8 654.5Z"/><path class="k0" d="M176.8 659.3L181.6 659.1L178.8 654.5L174.0 655.4Z"/><path class="k0" d="M172.0 658.9L176.8 659.3L174.0 655.4L169.2 656.1Z"/><path class="k0" d="M167.1 657.8L172.0 658.9L169.2 656.1L164.3 656.6Z"/><path class="k0" d="M162.3 656.2L167.1 657.8L164.3 656.6L159.5 657.0Z"/><path class="k4" d="M157.4 654.2L162.3 656.2L159.5 657.0L154.7 657.3Z"/><path class="k4" d="M152.6 652.2L157.4 654.2L154.7 657.3L149.8 657.7Z"/><path class="k4" d="M147.8 650.4L152.6 652.2L149.8 657.7L145.0 658.0Z"/><path class="k5" d="M142.9 649.1L147.8 650.4L145.0 658.0L140.1 658.5Z"/><path class="k5" d="M138.1 648.4L142.9 649.1L140.1 658.5L135.3 659.1Z"/><path class="k5" d="M133.3 648.5L138.1 648.4L135.3 659.1L130.5 660.0Z"/><path class="k5" d="M128.4 649.5L133.3 648.5L130.5 660.0L125.6 661.0Z"/><path class="k5" d="M123.6 651.5L128.4 649.5L125.6 661.0L120.8 662.3Z"/><path class="k5" d="M118.8 654.3L123.6 651.5L120.8 662.3L116.0 663.7Z"/><path class="k5" d="M113.9 657.7L118.8 654.3L116.0 663.7L111.1 665.3Z"/><path class="k4" d="M109.1 661.6L113.9 657.7L111.1 665.3L106.3 667.0Z"/><path class="k4" d="M104.2 665.7L109.1 661.6L106.3 667.0L101.5 668.8Z"/><path class="k4" d="M99.4 669.7L104.2 665.7L101.5 668.8L96.6 670.5Z"/><path class="k0" d="M94.6 673.4L99.4 669.7L96.6 670.5L91.8 672.2Z"/><path class="k0" d="M89.7 676.6L94.6 673.4L91.8 672.2L86.9 673.8Z"/><path class="k0" d="M84.9 679.1L89.7 676.6L86.9 673.8L82.1 675.2Z"/><path class="k0" d="M80.1 681.0L84.9 679.1L82.1 675.2L77.3 676.4Z"/><path class="k0" d="M75.2 682.2L80.1 681.0L77.3 676.4L72.4 677.5Z"/><path class="k0" d="M70.4 682.8L75.2 682.2L72.4 677.5L67.6 678.4Z"/><path class="k0" d="M65.6 683.0L70.4 682.8L67.6 678.4L62.8 679.3Z"/><path class="k0" d="M60.7 682.9L65.6 683.0L62.8 679.3L57.9 680.0Z"/><path class="k0" d="M198.9 658.8L203.8 655.7L201.0 652.7L196.1 654.9Z"/><path class="k1" d="M194.1 661.4L198.9 658.8L196.1 654.9L191.3 656.8Z"/><path class="k1" d="M189.3 663.3L194.1 661.4L191.3 656.8L186.5 658.2Z"/><path class="k1" d="M184.4 664.0L189.3 663.3L186.5 658.2L181.6 659.1Z"/><path class="k1" d="M179.6 663.5L184.4 664.0L181.6 659.1L176.8 659.3Z"/><path class="k0" d="M174.8 661.8L179.6 663.5L176.8 659.3L172.0 658.9Z"/><path class="k0" d="M169.9 658.9L174.8 661.8L172.0 658.9L167.1 657.8Z"/><path class="k4" d="M165.1 655.0L169.9 658.9L167.1 657.8L162.3 656.2Z"/><path class="k4" d="M160.2 650.5L165.1 655.0L162.3 656.2L157.4 654.2Z"/><path class="k5" d="M155.4 646.0L160.2 650.5L157.4 654.2L152.6 652.2Z"/><path class="k6" d="M150.6 641.7L155.4 646.0L152.6 652.2L147.8 650.4Z"/><path class="k7" d="M145.7 638.3L150.6 641.7L147.8 650.4L142.9 649.1Z"/><path class="k7" d="M140.9 636.1L145.7 638.3L142.9 649.1L138.1 648.4Z"/><path class="k8" d="M136.1 635.4L140.9 636.1L138.1 648.4L133.3 648.5Z"/><path class="k8" d="M131.2 636.5L136.1 635.4L133.3 648.5L128.4 649.5Z"/><path class="k8" d="M126.4 639.2L131.2 636.5L128.4 649.5L123.6 651.5Z"/><path class="k7" d="M121.6 643.5L126.4 639.2L123.6 651.5L118.8 654.3Z"/><path class="k7" d="M116.7 649.0L121.6 643.5L118.8 654.3L113.9 657.7Z"/><path class="k6" d="M111.9 655.3L116.7 649.0L113.9 657.7L109.1 661.6Z"/><path class="k5" d="M107.0 662.0L111.9 655.3L109.1 661.6L104.2 665.7Z"/><path class="k4" d="M102.2 668.5L107.0 662.0L104.2 665.7L99.4 669.7Z"/><path class="k4" d="M97.4 674.5L102.2 668.5L99.4 669.7L94.6 673.4Z"/><path class="k0" d="M92.5 679.5L97.4 674.5L94.6 673.4L89.7 676.6Z"/><path class="k0" d="M87.7 683.3L92.5 679.5L89.7 676.6L84.9 679.1Z"/><path class="k1" d="M82.9 685.9L87.7 683.3L84.9 679.1L80.1 681.0Z"/><path class="k1" d="M78.0 687.2L82.9 685.9L80.1 681.0L75.2 682.2Z"/><path class="k1" d="M73.2 687.5L78.0 687.2L75.2 682.2L70.4 682.8Z"/><path class="k1" d="M68.3 686.9L73.2 687.5L70.4 682.8L65.6 683.0Z"/><path class="k0" d="M63.5 685.9L68.3 686.9L65.6 683.0L60.7 682.9Z"/><path class="k1" d="M201.7 662.8L206.6 658.7L203.8 655.7L198.9 658.8Z"/><path class="k1" d="M196.9 666.2L201.7 662.8L198.9 658.8L194.1 661.4Z"/><path class="k1" d="M192.1 668.4L196.9 666.2L194.1 661.4L189.3 663.3Z"/><path class="k2" d="M187.2 669.0L192.1 668.4L189.3 663.3L184.4 664.0Z"/><path class="k1" d="M182.4 667.8L187.2 669.0L184.4 664.0L179.6 663.5Z"/><path class="k1" d="M177.5 664.8L182.4 667.8L179.6 663.5L174.8 661.8Z"/><path class="k0" d="M172.7 660.0L177.5 664.8L174.8 661.8L169.9 658.9Z"/><path class="k4" d="M167.9 653.8L172.7 660.0L169.9 658.9L165.1 655.0Z"/><path class="k5" d="M163.0 646.7L167.9 653.8L165.1 655.0L160.2 650.5Z"/><path class="k6" d="M158.2 639.5L163.0 646.7L160.2 650.5L155.4 646.0Z"/><path class="k8" d="M153.4 632.7L158.2 639.5L155.4 646.0L150.6 641.7Z"/><path class="k9" d="M148.5 627.2L153.4 632.7L150.6 641.7L145.7 638.3Z"/><path class="k10" d="M143.7 623.5L148.5 627.2L145.7 638.3L140.9 636.1Z"/><path class="k10" d="M138.9 622.0L143.7 623.5L140.9 636.1L136.1 635.4Z"/><path class="k10" d="M134.0 623.0L138.9 622.0L136.1 635.4L131.2 636.5Z"/><path class="k10" d="M129.2 626.6L134.0 623.0L131.2 636.5L126.4 639.2Z"/><path class="k10" d="M124.3 632.4L129.2 626.6L126.4 639.2L121.6 643.5Z"/><path class="k9" d="M119.5 640.0L124.3 632.4L121.6 643.5L116.7 649.0Z"/><path class="k8" d="M114.7 648.8L119.5 640.0L116.7 649.0L111.9 655.3Z"/><path class="k6" d="M109.8 658.2L114.7 648.8L111.9 655.3L107.0 662.0Z"/><path class="k5" d="M105.0 667.3L109.8 658.2L107.0 662.0L102.2 668.5Z"/><path class="k4" d="M100.2 675.6L105.0 667.3L102.2 668.5L97.4 674.5Z"/><path class="k0" d="M95.3 682.5L100.2 675.6L97.4 674.5L92.5 679.5Z"/><path class="k1" d="M90.5 687.6L95.3 682.5L92.5 679.5L87.7 683.3Z"/><path class="k1" d="M85.7 690.9L90.5 687.6L87.7 683.3L82.9 685.9Z"/><path class="k2" d="M80.8 692.3L85.7 690.9L82.9 685.9L78.0 687.2Z"/><path class="k1" d="M76.0 692.2L80.8 692.3L78.0 687.2L73.2 687.5Z"/><path class="k1" d="M71.1 690.9L76.0 692.2L73.2 687.5L68.3 686.9Z"/><path class="k1" d="M66.3 688.9L71.1 690.9L68.3 686.9L63.5 685.9Z"/><path class="k1" d="M204.5 666.7L209.4 661.7L206.6 658.7L201.7 662.8Z"/><path class="k2" d="M199.7 670.7L204.5 666.7L201.7 662.8L196.9 666.2Z"/><path class="k2" d="M194.8 673.3L199.7 670.7L196.9 666.2L192.1 668.4Z"/><path class="k2" d="M190.0 673.8L194.8 673.3L192.1 668.4L187.2 669.0Z"/><path class="k2" d="M185.2 671.9L190.0 673.8L187.2 669.0L182.4 667.8Z"/><path class="k1" d="M180.3 667.6L185.2 671.9L182.4 667.8L177.5 664.8Z"/><path class="k0" d="M175.5 661.1L180.3 667.6L177.5 664.8L172.7 660.0Z"/><path class="k4" d="M170.7 652.7L175.5 661.1L172.7 660.0L167.9 653.8Z"/><path class="k6" d="M165.8 643.2L170.7 652.7L167.9 653.8L163.0 646.7Z"/><path class="k8" d="M161.0 633.5L165.8 643.2L163.0 646.7L158.2 639.5Z"/><path class="k9" d="M156.2 624.4L161.0 633.5L158.2 639.5L153.4 632.7Z"/><path class="k11" d="M151.3 616.9L156.2 624.4L153.4 632.7L148.5 627.2Z"/><path class="k12" d="M146.5 611.7L151.3 616.9L148.5 627.2L143.7 623.5Z"/><path class="k13" d="M141.6 609.5L146.5 611.7L143.7 623.5L138.9 622.0Z"/><path class="k13" d="M136.8 610.5L141.6 609.5L138.9 622.0L134.0 623.0Z"/><path class="k13" d="M132.0 614.8L136.8 610.5L134.0 623.0L129.2 626.6Z"/><path class="k12" d="M127.1 622.1L132.0 614.8L129.2 626.6L124.3 632.4Z"/><path class="k11" d="M122.3 631.7L127.1 622.1L124.3 632.4L119.5 640.0Z"/><path class="k9" d="M117.5 642.8L122.3 631.7L119.5 640.0L114.7 648.8Z"/><path class="k8" d="M112.6 654.7L117.5 642.8L114.7 648.8L109.8 658.2Z"/><path class="k6" d="M107.8 666.3L112.6 654.7L109.8 658.2L105.0 667.3Z"/><path class="k4" d="M103.0 676.7L107.8 666.3L105.0 667.3L100.2 675.6Z"/><path class="k0" d="M98.1 685.3L103.0 676.7L100.2 675.6L95.3 682.5Z"/><path class="k1" d="M93.3 691.7L98.1 685.3L95.3 682.5L90.5 687.6Z"/><path class="k2" d="M88.4 695.7L93.3 691.7L90.5 687.6L85.7 690.9Z"/><path class="k2" d="M83.6 697.2L88.4 695.7L85.7 690.9L80.8 692.3Z"/><path class="k2" d="M78.8 696.8L83.6 697.2L80.8 692.3L76.0 692.2Z"/><path class="k2" d="M73.9 694.8L78.8 696.8L76.0 692.2L71.1 690.9Z"/><path class="k1" d="M69.1 691.9L73.9 694.8L71.1 690.9L66.3 688.9Z"/><path class="k1" d="M207.3 670.2L212.1 664.5L209.4 661.7L204.5 666.7Z"/><path class="k2" d="M202.5 674.9L207.3 670.2L204.5 666.7L199.7 670.7Z"/><path class="k3" d="M197.6 677.7L202.5 674.9L199.7 670.7L194.8 673.3Z"/><path class="k3" d="M192.8 678.1L197.6 677.7L194.8 673.3L190.0 673.8Z"/><path class="k2" d="M188.0 675.7L192.8 678.1L190.0 673.8L185.2 671.9Z"/><path class="k1" d="M183.1 670.4L188.0 675.7L185.2 671.9L180.3 667.6Z"/><path class="k0" d="M178.3 662.3L183.1 670.4L180.3 667.6L175.5 661.1Z"/><path class="k5" d="M173.5 652.1L178.3 662.3L175.5 661.1L170.7 652.7Z"/><path class="k7" d="M168.6 640.6L173.5 652.1L170.7 652.7L165.8 643.2Z"/><path class="k9" d="M163.8 628.7L168.6 640.6L165.8 643.2L161.0 633.5Z"/><path class="k11" d="M158.9 617.6L163.8 628.7L161.0 633.5L156.2 624.4Z"/><path class="k13" d="M154.1 608.4L158.9 617.6L156.2 624.4L151.3 616.9Z"/><path class="k14" d="M149.3 602.1L154.1 608.4L151.3 616.9L146.5 611.7Z"/><path class="k15" d="M144.4 599.2L149.3 602.1L146.5 611.7L141.6 609.5Z"/><path class="k16" d="M139.6 600.3L144.4 599.2L141.6 609.5L136.8 610.5Z"/><path class="k15" d="M134.8 605.2L139.6 600.3L136.8 610.5L132.0 614.8Z"/><path class="k14" d="M129.9 613.7L134.8 605.2L132.0 614.8L127.1 622.1Z"/><path class="k13" d="M125.1 624.9L129.9 613.7L127.1 622.1L122.3 631.7Z"/><path class="k11" d="M120.3 638.1L125.1 624.9L122.3 631.7L117.5 642.8Z"/><path class="k9" d="M115.4 652.0L120.3 638.1L117.5 642.8L112.6 654.7Z"/><path class="k7" d="M110.6 665.6L115.4 652.0L112.6 654.7L107.8 666.3Z"/><path class="k5" d="M105.7 677.9L110.6 665.6L107.8 666.3L103.0 676.7Z"/><path class="k0" d="M100.9 688.1L105.7 677.9L103.0 676.7L98.1 685.3Z"/><path class="k1" d="M96.1 695.5L100.9 688.1L98.1 685.3L93.3 691.7Z"/><path class="k2" d="M91.2 700.0L96.1 695.5L93.3 691.7L88.4 695.7Z"/><path class="k3" d="M86.4 701.7L91.2 700.0L88.4 695.7L83.6 697.2Z"/><path class="k3" d="M81.6 700.9L86.4 701.7L83.6 697.2L78.8 696.8Z"/><path class="k2" d="M76.7 698.3L81.6 700.9L78.8 696.8L73.9 694.8Z"/><path class="k1" d="M71.9 694.7L76.7 698.3L73.9 694.8L69.1 691.9Z"/><path class="k2" d="M210.1 673.3L214.9 667.0L212.1 664.5L207.3 670.2Z"/><path class="k2" d="M205.3 678.4L210.1 673.3L207.3 670.2L202.5 674.9Z"/><path class="k3" d="M200.4 681.4L205.3 678.4L202.5 674.9L197.6 677.7Z"/><path class="k3" d="M195.6 681.7L200.4 681.4L197.6 677.7L192.8 678.1Z"/><path class="k3" d="M190.8 678.9L195.6 681.7L192.8 678.1L188.0 675.7Z"/><path class="k2" d="M185.9 672.8L190.8 678.9L188.0 675.7L183.1 670.4Z"/><path class="k0" d="M181.1 663.7L185.9 672.8L183.1 670.4L178.3 662.3Z"/><path class="k5" d="M176.2 652.2L181.1 663.7L178.3 662.3L173.5 652.1Z"/><path class="k7" d="M171.4 639.1L176.2 652.2L173.5 652.1L168.6 640.6Z"/><path class="k10" d="M166.6 625.7L171.4 639.1L168.6 640.6L163.8 628.7Z"/><path class="k12" d="M161.7 613.2L166.6 625.7L163.8 628.7L158.9 617.6Z"/><path class="k14" d="M156.9 602.8L161.7 613.2L158.9 617.6L154.1 608.4Z"/><path class="k16" d="M152.1 595.6L156.9 602.8L154.1 608.4L149.3 602.1Z"/><path class="k17" d="M147.2 592.3L152.1 595.6L149.3 602.1L144.4 599.2Z"/><path class="k18" d="M142.4 593.3L147.2 592.3L144.4 599.2L139.6 600.3Z"/><path class="k17" d="M137.6 598.7L142.4 593.3L139.6 600.3L134.8 605.2Z"/><path class="k16" d="M132.7 608.0L137.6 598.7L134.8 605.2L129.9 613.7Z"/><path class="k14" d="M127.9 620.5L132.7 608.0L129.9 613.7L125.1 624.9Z"/><path class="k12" d="M123.0 635.1L127.9 620.5L125.1 624.9L120.3 638.1Z"/><path class="k10" d="M118.2 650.6L123.0 635.1L120.3 638.1L115.4 652.0Z"/><path class="k7" d="M113.4 665.7L118.2 650.6L115.4 652.0L110.6 665.6Z"/><path class="k5" d="M108.5 679.3L113.4 665.7L110.6 665.6L105.7 677.9Z"/><path class="k0" d="M103.7 690.5L108.5 679.3L105.7 677.9L100.9 688.1Z"/><path class="k2" d="M98.9 698.7L103.7 690.5L100.9 688.1L96.1 695.5Z"/><path class="k3" d="M94.0 703.6L98.9 698.7L96.1 695.5L91.2 700.0Z"/><path class="k3" d="M89.2 705.4L94.0 703.6L91.2 700.0L86.4 701.7Z"/><path class="k3" d="M84.4 704.4L89.2 705.4L86.4 701.7L81.6 700.9Z"/><path class="k2" d="M79.5 701.4L84.4 704.4L81.6 700.9L76.7 698.3Z"/><path class="k2" d="M74.7 697.2L79.5 701.4L76.7 698.3L71.9 694.7Z"/><path class="k2" d="M212.9 675.7L217.7 669.2L214.9 667.0L210.1 673.3Z"/><path class="k3" d="M208.1 681.0L212.9 675.7L210.1 673.3L205.3 678.4Z"/><path class="k3" d="M203.2 684.2L208.1 681.0L205.3 678.4L200.4 681.4Z"/><path class="k3" d="M198.4 684.5L203.2 684.2L200.4 681.4L195.6 681.7Z"/><path class="k3" d="M193.5 681.5L198.4 684.5L195.6 681.7L190.8 678.9Z"/><path class="k2" d="M188.7 675.0L193.5 681.5L190.8 678.9L185.9 672.8Z"/><path class="k0" d="M183.9 665.3L188.7 675.0L185.9 672.8L181.1 663.7Z"/><path class="k5" d="M179.0 653.1L183.9 665.3L181.1 663.7L176.2 652.2Z"/><path class="k8" d="M174.2 639.2L179.0 653.1L176.2 652.2L171.4 639.1Z"/><path class="k10" d="M169.4 625.0L174.2 639.2L171.4 639.1L166.6 625.7Z"/><path class="k13" d="M164.5 611.8L169.4 625.0L166.6 625.7L161.7 613.2Z"/><path class="k15" d="M159.7 600.8L164.5 611.8L161.7 613.2L156.9 602.8Z"/><path class="k17" d="M154.9 593.1L159.7 600.8L156.9 602.8L152.1 595.6Z"/><path class="k18" d="M150.0 589.5L154.9 593.1L152.1 595.6L147.2 592.3Z"/><path class="k19" d="M145.2 590.6L150.0 589.5L147.2 592.3L142.4 593.3Z"/><path class="k18" d="M140.3 596.2L145.2 590.6L142.4 593.3L137.6 598.7Z"/><path class="k17" d="M135.5 606.0L140.3 596.2L137.6 598.7L132.7 608.0Z"/><path class="k15" d="M130.7 619.1L135.5 606.0L132.7 608.0L127.9 620.5Z"/><path class="k13" d="M125.8 634.4L130.7 619.1L127.9 620.5L123.0 635.1Z"/><path class="k10" d="M121.0 650.7L125.8 634.4L123.0 635.1L118.2 650.6Z"/><path class="k8" d="M116.2 666.6L121.0 650.7L118.2 650.6L113.4 665.7Z"/><path class="k5" d="M111.3 680.9L116.2 666.6L113.4 665.7L108.5 679.3Z"/><path class="k0" d="M106.5 692.7L111.3 680.9L108.5 679.3L103.7 690.5Z"/><path class="k2" d="M101.7 701.2L106.5 692.7L103.7 690.5L98.9 698.7Z"/><path class="k3" d="M96.8 706.4L101.7 701.2L98.9 698.7L94.0 703.6Z"/><path class="k3" d="M92.0 708.2L96.8 706.4L94.0 703.6L89.2 705.4Z"/><path class="k3" d="M87.1 707.1L92.0 708.2L89.2 705.4L84.4 704.4Z"/><path class="k3" d="M82.3 703.8L87.1 707.1L84.4 704.4L79.5 701.4Z"/><path class="k2" d="M77.5 699.4L82.3 703.8L79.5 701.4L74.7 697.2Z"/><path class="k2" d="M215.7 677.5L220.5 671.0L217.7 669.2L212.9 675.7Z"/><path class="k3" d="M210.9 682.8L215.7 677.5L212.9 675.7L208.1 681.0Z"/><path class="k3" d="M206.0 686.0L210.9 682.8L208.1 681.0L203.2 684.2Z"/><path class="k3" d="M201.2 686.3L206.0 686.0L203.2 684.2L198.4 684.5Z"/><path class="k3" d="M196.3 683.3L201.2 686.3L198.4 684.5L193.5 681.5Z"/><path class="k2" d="M191.5 676.8L196.3 683.3L193.5 681.5L188.7 675.0Z"/><path class="k0" d="M186.7 667.1L191.5 676.8L188.7 675.0L183.9 665.3Z"/><path class="k5" d="M181.8 654.9L186.7 667.1L183.9 665.3L179.0 653.1Z"/><path class="k8" d="M177.0 641.0L181.8 654.9L179.0 653.1L174.2 639.2Z"/><path class="k10" d="M172.2 626.9L177.0 641.0L174.2 639.2L169.4 625.0Z"/><path class="k13" d="M167.3 613.6L172.2 626.9L169.4 625.0L164.5 611.8Z"/><path class="k16" d="M162.5 602.6L167.3 613.6L164.5 611.8L159.7 600.8Z"/><path class="k18" d="M157.7 594.9L162.5 602.6L159.7 600.8L154.9 593.1Z"/><path class="k19" d="M152.8 591.3L157.7 594.9L154.9 593.1L150.0 589.5Z"/><path class="k19" d="M148.0 592.4L152.8 591.3L150.0 589.5L145.2 590.6Z"/><path class="k19" d="M143.1 598.0L148.0 592.4L145.2 590.6L140.3 596.2Z"/><path class="k18" d="M138.3 607.8L143.1 598.0L140.3 596.2L135.5 606.0Z"/><path class="k16" d="M133.5 620.9L138.3 607.8L135.5 606.0L130.7 619.1Z"/><path class="k13" d="M128.6 636.2L133.5 620.9L130.7 619.1L125.8 634.4Z"/><path class="k10" d="M123.8 652.5L128.6 636.2L125.8 634.4L121.0 650.7Z"/><path class="k8" d="M119.0 668.4L123.8 652.5L121.0 650.7L116.2 666.6Z"/><path class="k5" d="M114.1 682.7L119.0 668.4L116.2 666.6L111.3 680.9Z"/><path class="k0" d="M109.3 694.5L114.1 682.7L111.3 680.9L106.5 692.7Z"/><path class="k2" d="M104.4 703.1L109.3 694.5L106.5 692.7L101.7 701.2Z"/><path class="k3" d="M99.6 708.2L104.4 703.1L101.7 701.2L96.8 706.4Z"/><path class="k3" d="M94.8 710.0L99.6 708.2L96.8 706.4L92.0 708.2Z"/><path class="k3" d="M89.9 708.9L94.8 710.0L92.0 708.2L87.1 707.1Z"/><path class="k3" d="M85.1 705.6L89.9 708.9L87.1 707.1L82.3 703.8Z"/><path class="k2" d="M80.3 701.2L85.1 705.6L82.3 703.8L77.5 699.4Z"/><path class="k2" d="M218.5 678.7L223.3 672.4L220.5 671.0L215.7 677.5Z"/><path class="k3" d="M213.6 683.8L218.5 678.7L215.7 677.5L210.9 682.8Z"/><path class="k3" d="M208.8 686.8L213.6 683.8L210.9 682.8L206.0 686.0Z"/><path class="k3" d="M204.0 687.2L208.8 686.8L206.0 686.0L201.2 686.3Z"/><path class="k3" d="M199.1 684.3L204.0 687.2L201.2 686.3L196.3 683.3Z"/><path class="k2" d="M194.3 678.2L199.1 684.3L196.3 683.3L191.5 676.8Z"/><path class="k0" d="M189.5 669.1L194.3 678.2L191.5 676.8L186.7 667.1Z"/><path class="k5" d="M184.6 657.6L189.5 669.1L186.7 667.1L181.8 654.9Z"/><path class="k8" d="M179.8 644.5L184.6 657.6L181.8 654.9L177.0 641.0Z"/><path class="k10" d="M175.0 631.2L179.8 644.5L177.0 641.0L172.2 626.9Z"/><path class="k13" d="M170.1 618.7L175.0 631.2L172.2 626.9L167.3 613.6Z"/><path class="k15" d="M165.3 608.3L170.1 618.7L167.3 613.6L162.5 602.6Z"/><path class="k17" d="M160.4 601.0L165.3 608.3L162.5 602.6L157.7 594.9Z"/><path class="k18" d="M155.6 597.7L160.4 601.0L157.7 594.9L152.8 591.3Z"/><path class="k19" d="M150.8 598.7L155.6 597.7L152.8 591.3L148.0 592.4Z"/><path class="k18" d="M145.9 604.1L150.8 598.7L148.0 592.4L143.1 598.0Z"/><path class="k17" d="M141.1 613.5L145.9 604.1L143.1 598.0L138.3 607.8Z"/><path class="k15" d="M136.3 625.9L141.1 613.5L138.3 607.8L133.5 620.9Z"/><path class="k13" d="M131.4 640.5L136.3 625.9L133.5 620.9L128.6 636.2Z"/><path class="k10" d="M126.6 656.0L131.4 640.5L128.6 636.2L123.8 652.5Z"/><path class="k8" d="M121.8 671.1L126.6 656.0L123.8 652.5L119.0 668.4Z"/><path class="k5" d="M116.9 684.7L121.8 671.1L119.0 668.4L114.1 682.7Z"/><path class="k0" d="M112.1 695.9L116.9 684.7L114.1 682.7L109.3 694.5Z"/><path class="k2" d="M107.2 704.1L112.1 695.9L109.3 694.5L104.4 703.1Z"/><path class="k3" d="M102.4 709.0L107.2 704.1L104.4 703.1L99.6 708.2Z"/><path class="k3" d="M97.6 710.8L102.4 709.0L99.6 708.2L94.8 710.0Z"/><path class="k3" d="M92.7 709.8L97.6 710.8L94.8 710.0L89.9 708.9Z"/><path class="k3" d="M87.9 706.8L92.7 709.8L89.9 708.9L85.1 705.6Z"/><path class="k2" d="M83.1 702.6L87.9 706.8L85.1 705.6L80.3 701.2Z"/><path class="k2" d="M221.3 679.2L226.1 673.5L223.3 672.4L218.5 678.7Z"/><path class="k2" d="M216.4 683.9L221.3 679.2L218.5 678.7L213.6 683.8Z"/><path class="k3" d="M211.6 686.7L216.4 683.9L213.6 683.8L208.8 686.8Z"/><path class="k3" d="M206.8 687.1L211.6 686.7L208.8 686.8L204.0 687.2Z"/><path class="k3" d="M201.9 684.7L206.8 687.1L204.0 687.2L199.1 684.3Z"/><path class="k2" d="M197.1 679.4L201.9 684.7L199.1 684.3L194.3 678.2Z"/><path class="k0" d="M192.3 671.3L197.1 679.4L194.3 678.2L189.5 669.1Z"/><path class="k5" d="M187.4 661.1L192.3 671.3L189.5 669.1L184.6 657.6Z"/><path class="k7" d="M182.6 649.6L187.4 661.1L184.6 657.6L179.8 644.5Z"/><path class="k10" d="M177.7 637.7L182.6 649.6L179.8 644.5L175.0 631.2Z"/><path class="k12" d="M172.9 626.7L177.7 637.7L175.0 631.2L170.1 618.7Z"/><path class="k14" d="M168.1 617.5L172.9 626.7L170.1 618.7L165.3 608.3Z"/><path class="k16" d="M163.2 611.1L168.1 617.5L165.3 608.3L160.4 601.0Z"/><path class="k17" d="M158.4 608.3L163.2 611.1L160.4 601.0L155.6 597.7Z"/><path class="k18" d="M153.6 609.3L158.4 608.3L155.6 597.7L150.8 598.7Z"/><path class="k17" d="M148.7 614.2L153.6 609.3L150.8 598.7L145.9 604.1Z"/><path class="k16" d="M143.9 622.7L148.7 614.2L145.9 604.1L141.1 613.5Z"/><path class="k14" d="M139.1 633.9L143.9 622.7L141.1 613.5L136.3 625.9Z"/><path class="k12" d="M134.2 647.1L139.1 633.9L136.3 625.9L131.4 640.5Z"/><path class="k10" d="M129.4 661.0L134.2 647.1L131.4 640.5L126.6 656.0Z"/><path class="k7" d="M124.5 674.7L129.4 661.0L126.6 656.0L121.8 671.1Z"/><path class="k5" d="M119.7 686.9L124.5 674.7L121.8 671.1L116.9 684.7Z"/><path class="k0" d="M114.9 697.1L119.7 686.9L116.9 684.7L112.1 695.9Z"/><path class="k2" d="M110.0 704.5L114.9 697.1L112.1 695.9L107.2 704.1Z"/><path class="k3" d="M105.2 709.0L110.0 704.5L107.2 704.1L102.4 709.0Z"/><path class="k3" d="M100.4 710.7L105.2 709.0L102.4 709.0L97.6 710.8Z"/><path class="k3" d="M95.5 709.9L100.4 710.7L97.6 710.8L92.7 709.8Z"/><path class="k2" d="M90.7 707.3L95.5 709.9L92.7 709.8L87.9 706.8Z"/><path class="k2" d="M85.9 703.7L90.7 707.3L87.9 706.8L83.1 702.6Z"/><path class="k1" d="M224.1 679.3L228.9 674.3L226.1 673.5L221.3 679.2Z"/><path class="k2" d="M219.2 683.4L224.1 679.3L221.3 679.2L216.4 683.9Z"/><path class="k3" d="M214.4 685.9L219.2 683.4L216.4 683.9L211.6 686.7Z"/><path class="k3" d="M209.6 686.4L214.4 685.9L211.6 686.7L206.8 687.1Z"/><path class="k2" d="M204.7 684.6L209.6 686.4L206.8 687.1L201.9 684.7Z"/><path class="k1" d="M199.9 680.3L204.7 684.6L201.9 684.7L197.1 679.4Z"/><path class="k0" d="M195.0 673.7L199.9 680.3L197.1 679.4L192.3 671.3Z"/><path class="k5" d="M190.2 665.3L195.0 673.7L192.3 671.3L187.4 661.1Z"/><path class="k7" d="M185.4 655.9L190.2 665.3L187.4 661.1L182.6 649.6Z"/><path class="k9" d="M180.5 646.1L185.4 655.9L182.6 649.6L177.7 637.7Z"/><path class="k11" d="M175.7 637.0L180.5 646.1L177.7 637.7L172.9 626.7Z"/><path class="k13" d="M170.9 629.5L175.7 637.0L172.9 626.7L168.1 617.5Z"/><path class="k14" d="M166.0 624.3L170.9 629.5L168.1 617.5L163.2 611.1Z"/><path class="k15" d="M161.2 622.1L166.0 624.3L163.2 611.1L158.4 608.3Z"/><path class="k16" d="M156.4 623.2L161.2 622.1L158.4 608.3L153.6 609.3Z"/><path class="k15" d="M151.5 627.5L156.4 623.2L153.6 609.3L148.7 614.2Z"/><path class="k14" d="M146.7 634.7L151.5 627.5L148.7 614.2L143.9 622.7Z"/><path class="k13" d="M141.8 644.3L146.7 634.7L143.9 622.7L139.1 633.9Z"/><path class="k11" d="M137.0 655.5L141.8 644.3L139.1 633.9L134.2 647.1Z"/><path class="k9" d="M132.2 667.3L137.0 655.5L134.2 647.1L129.4 661.0Z"/><path class="k7" d="M127.3 678.9L132.2 667.3L129.4 661.0L124.5 674.7Z"/><path class="k5" d="M122.5 689.3L127.3 678.9L124.5 674.7L119.7 686.9Z"/><path class="k0" d="M117.7 698.0L122.5 689.3L119.7 686.9L114.9 697.1Z"/><path class="k1" d="M112.8 704.3L117.7 698.0L114.9 697.1L110.0 704.5Z"/><path class="k2" d="M108.0 708.3L112.8 704.3L110.0 704.5L105.2 709.0Z"/><path class="k3" d="M103.2 709.8L108.0 708.3L105.2 709.0L100.4 710.7Z"/><path class="k3" d="M98.3 709.4L103.2 709.8L100.4 710.7L95.5 709.9Z"/><path class="k2" d="M93.5 707.4L98.3 709.4L95.5 709.9L90.7 707.3Z"/><path class="k1" d="M88.6 704.5L93.5 707.4L90.7 707.3L85.9 703.7Z"/><path class="k1" d="M226.9 679.0L231.7 675.0L228.9 674.3L224.1 679.3Z"/><path class="k2" d="M222.0 682.4L226.9 679.0L224.1 679.3L219.2 683.4Z"/><path class="k2" d="M217.2 684.6L222.0 682.4L219.2 683.4L214.4 685.9Z"/><path class="k2" d="M212.3 685.2L217.2 684.6L214.4 685.9L209.6 686.4Z"/><path class="k2" d="M207.5 684.0L212.3 685.2L209.6 686.4L204.7 684.6Z"/><path class="k1" d="M202.7 681.0L207.5 684.0L204.7 684.6L199.9 680.3Z"/><path class="k0" d="M197.8 676.2L202.7 681.0L199.9 680.3L195.0 673.7Z"/><path class="k4" d="M193.0 670.0L197.8 676.2L195.0 673.7L190.2 665.3Z"/><path class="k6" d="M188.2 662.9L193.0 670.0L190.2 665.3L185.4 655.9Z"/><path class="k8" d="M183.3 655.7L188.2 662.9L185.4 655.9L180.5 646.1Z"/><path class="k9" d="M178.5 648.9L183.3 655.7L180.5 646.1L175.7 637.0Z"/><path class="k11" d="M173.7 643.4L178.5 648.9L175.7 637.0L170.9 629.5Z"/><path class="k12" d="M168.8 639.7L173.7 643.4L170.9 629.5L166.0 624.3Z"/><path class="k13" d="M164.0 638.2L168.8 639.7L166.0 624.3L161.2 622.1Z"/><path class="k13" d="M159.1 639.3L164.0 638.2L161.2 622.1L156.4 623.2Z"/><path class="k13" d="M154.3 642.8L159.1 639.3L156.4 623.2L151.5 627.5Z"/><path class="k12" d="M149.5 648.6L154.3 642.8L151.5 627.5L146.7 634.7Z"/><path class="k11" d="M144.6 656.2L149.5 648.6L146.7 634.7L141.8 644.3Z"/><path class="k9" d="M139.8 665.1L144.6 656.2L141.8 644.3L137.0 655.5Z"/><path class="k8" d="M135.0 674.4L139.8 665.1L137.0 655.5L132.2 667.3Z"/><path class="k6" d="M130.1 683.5L135.0 674.4L132.2 667.3L127.3 678.9Z"/><path class="k4" d="M125.3 691.8L130.1 683.5L127.3 678.9L122.5 689.3Z"/><path class="k0" d="M120.5 698.7L125.3 691.8L122.5 689.3L117.7 698.0Z"/><path class="k1" d="M115.6 703.8L120.5 698.7L117.7 698.0L112.8 704.3Z"/><path class="k2" d="M110.8 707.1L115.6 703.8L112.8 704.3L108.0 708.3Z"/><path class="k2" d="M105.9 708.5L110.8 707.1L108.0 708.3L103.2 709.8Z"/><path class="k2" d="M101.1 708.4L105.9 708.5L103.2 709.8L98.3 709.4Z"/><path class="k2" d="M96.3 707.1L101.1 708.4L98.3 709.4L93.5 707.4Z"/><path class="k1" d="M91.4 705.2L96.3 707.1L93.5 707.4L88.6 704.5Z"/><path class="k1" d="M229.6 678.6L234.5 675.6L231.7 675.0L226.9 679.0Z"/><path class="k1" d="M224.8 681.3L229.6 678.6L226.9 679.0L222.0 682.4Z"/><path class="k1" d="M220.0 683.1L224.8 681.3L222.0 682.4L217.2 684.6Z"/><path class="k2" d="M215.1 683.9L220.0 683.1L217.2 684.6L212.3 685.2Z"/><path class="k1" d="M210.3 683.4L215.1 683.9L212.3 685.2L207.5 684.0Z"/><path class="k1" d="M205.5 681.6L210.3 683.4L207.5 684.0L202.7 681.0Z"/><path class="k0" d="M200.6 678.7L205.5 681.6L202.7 681.0L197.8 676.2Z"/><path class="k4" d="M195.8 674.8L200.6 678.7L197.8 676.2L193.0 670.0Z"/><path class="k5" d="M191.0 670.4L195.8 674.8L193.0 670.0L188.2 662.9Z"/><path class="k6" d="M186.1 665.8L191.0 670.4L188.2 662.9L183.3 655.7Z"/><path class="k8" d="M181.3 661.5L186.1 665.8L183.3 655.7L178.5 648.9Z"/><path class="k9" d="M176.4 658.1L181.3 661.5L178.5 648.9L173.7 643.4Z"/><path class="k10" d="M171.6 655.9L176.4 658.1L173.7 643.4L168.8 639.7Z"/><path class="k10" d="M166.8 655.3L171.6 655.9L168.8 639.7L164.0 638.2Z"/><path class="k10" d="M161.9 656.3L166.8 655.3L164.0 638.2L159.1 639.3Z"/><path class="k10" d="M157.1 659.0L161.9 656.3L159.1 639.3L154.3 642.8Z"/><path class="k10" d="M152.3 663.3L157.1 659.0L154.3 642.8L149.5 648.6Z"/><path class="k9" d="M147.4 668.8L152.3 663.3L149.5 648.6L144.6 656.2Z"/><path class="k8" d="M142.6 675.2L147.4 668.8L144.6 656.2L139.8 665.1Z"/><path class="k6" d="M137.8 681.8L142.6 675.2L139.8 665.1L135.0 674.4Z"/><path class="k5" d="M132.9 688.4L137.8 681.8L135.0 674.4L130.1 683.5Z"/><path class="k4" d="M128.1 694.3L132.9 688.4L130.1 683.5L125.3 691.8Z"/><path class="k0" d="M123.2 699.3L128.1 694.3L125.3 691.8L120.5 698.7Z"/><path class="k1" d="M118.4 703.2L123.2 699.3L120.5 698.7L115.6 703.8Z"/><path class="k1" d="M113.6 705.7L118.4 703.2L115.6 703.8L110.8 707.1Z"/><path class="k2" d="M108.7 707.0L113.6 705.7L110.8 707.1L105.9 708.5Z"/><path class="k1" d="M103.9 707.3L108.7 707.0L105.9 708.5L101.1 708.4Z"/><path class="k1" d="M99.1 706.7L103.9 707.3L101.1 708.4L96.3 707.1Z"/><path class="k1" d="M94.2 705.7L99.1 706.7L96.3 707.1L91.4 705.2Z"/><path class="k0" d="M232.4 678.3L237.3 676.2L234.5 675.6L229.6 678.6Z"/><path class="k1" d="M227.6 680.2L232.4 678.3L229.6 678.6L224.8 681.3Z"/><path class="k1" d="M222.8 681.7L227.6 680.2L224.8 681.3L220.0 683.1Z"/><path class="k1" d="M217.9 682.6L222.8 681.7L220.0 683.1L215.1 683.9Z"/><path class="k1" d="M213.1 682.8L217.9 682.6L215.1 683.9L210.3 683.4Z"/><path class="k0" d="M208.3 682.3L213.1 682.8L210.3 683.4L205.5 681.6Z"/><path class="k0" d="M203.4 681.2L208.3 682.3L205.5 681.6L200.6 678.7Z"/><path class="k4" d="M198.6 679.6L203.4 681.2L200.6 678.7L195.8 674.8Z"/><path class="k4" d="M193.8 677.7L198.6 679.6L195.8 674.8L191.0 670.4Z"/><path class="k5" d="M188.9 675.7L193.8 677.7L191.0 670.4L186.1 665.8Z"/><path class="k6" d="M184.1 673.9L188.9 675.7L186.1 665.8L181.3 661.5Z"/><path class="k7" d="M179.2 672.5L184.1 673.9L181.3 661.5L176.4 658.1Z"/><path class="k7" d="M174.4 671.8L179.2 672.5L176.4 658.1L171.6 655.9Z"/><path class="k8" d="M169.6 671.9L174.4 671.8L171.6 655.9L166.8 655.3Z"/><path class="k8" d="M164.7 673.0L169.6 671.9L166.8 655.3L161.9 656.3Z"/><path class="k8" d="M159.9 674.9L164.7 673.0L161.9 656.3L157.1 659.0Z"/><path class="k7" d="M155.1 677.7L159.9 674.9L157.1 659.0L152.3 663.3Z"/><path class="k7" d="M150.2 681.2L155.1 677.7L152.3 663.3L147.4 668.8Z"/><path class="k6" d="M145.4 685.1L150.2 681.2L147.4 668.8L142.6 675.2Z"/><path class="k5" d="M140.5 689.1L145.4 685.1L142.6 675.2L137.8 681.8Z"/><path class="k4" d="M135.7 693.1L140.5 689.1L137.8 681.8L132.9 688.4Z"/><path class="k4" d="M130.9 696.8L135.7 693.1L132.9 688.4L128.1 694.3Z"/><path class="k0" d="M126.0 700.0L130.9 696.8L128.1 694.3L123.2 699.3Z"/><path class="k0" d="M121.2 702.6L126.0 700.0L123.2 699.3L118.4 703.2Z"/><path class="k1" d="M116.4 704.4L121.2 702.6L118.4 703.2L113.6 705.7Z"/><path class="k1" d="M111.5 705.6L116.4 704.4L113.6 705.7L108.7 707.0Z"/><path class="k1" d="M106.7 706.2L111.5 705.6L108.7 707.0L103.9 707.3Z"/><path class="k1" d="M101.9 706.4L106.7 706.2L103.9 707.3L99.1 706.7Z"/><path class="k0" d="M97.0 706.3L101.9 706.4L99.1 706.7L94.2 705.7Z"/><path class="k0" d="M235.2 678.2L240.1 676.9L237.3 676.2L232.4 678.3Z"/><path class="k0" d="M230.4 679.4L235.2 678.2L232.4 678.3L227.6 680.2Z"/><path class="k0" d="M225.6 680.6L230.4 679.4L227.6 680.2L222.8 681.7Z"/><path class="k0" d="M220.7 681.6L225.6 680.6L222.8 681.7L217.9 682.6Z"/><path class="k0" d="M215.9 682.4L220.7 681.6L217.9 682.6L213.1 682.8Z"/><path class="k0" d="M211.1 683.1L215.9 682.4L213.1 682.8L208.3 682.3Z"/><path class="k0" d="M206.2 683.6L211.1 683.1L208.3 682.3L203.4 681.2Z"/><path class="k0" d="M201.4 684.1L206.2 683.6L203.4 681.2L198.6 679.6Z"/><path class="k4" d="M196.5 684.4L201.4 684.1L198.6 679.6L193.8 677.7Z"/><path class="k4" d="M191.7 684.7L196.5 684.4L193.8 677.7L188.9 675.7Z"/><path class="k4" d="M186.9 685.1L191.7 684.7L188.9 675.7L184.1 673.9Z"/><path class="k5" d="M182.0 685.6L186.9 685.1L184.1 673.9L179.2 672.5Z"/><path class="k5" d="M177.2 686.2L182.0 685.6L179.2 672.5L174.4 671.8Z"/><path class="k5" d="M172.4 687.0L177.2 686.2L174.4 671.8L169.6 671.9Z"/><path class="k5" d="M167.5 688.0L172.4 687.0L169.6 671.9L164.7 673.0Z"/><path class="k5" d="M162.7 689.3L167.5 688.0L164.7 673.0L159.9 674.9Z"/><path class="k5" d="M157.9 690.8L162.7 689.3L159.9 674.9L155.1 677.7Z"/><path class="k5" d="M153.0 692.4L157.9 690.8L155.1 677.7L150.2 681.2Z"/><path class="k4" d="M148.2 694.1L153.0 692.4L150.2 681.2L145.4 685.1Z"/><path class="k4" d="M143.3 695.8L148.2 694.1L145.4 685.1L140.5 689.1Z"/><path class="k4" d="M138.5 697.6L143.3 695.8L140.5 689.1L135.7 693.1Z"/><path class="k0" d="M133.7 699.3L138.5 697.6L135.7 693.1L130.9 696.8Z"/><path class="k0" d="M128.8 700.8L133.7 699.3L130.9 696.8L126.0 700.0Z"/><path class="k0" d="M124.0 702.2L128.8 700.8L126.0 700.0L121.2 702.6Z"/><path class="k0" d="M119.2 703.4L124.0 702.2L121.2 702.6L116.4 704.4Z"/><path class="k0" d="M114.3 704.5L119.2 703.4L116.4 704.4L111.5 705.6Z"/><path class="k0" d="M109.5 705.5L114.3 704.5L111.5 705.6L106.7 706.2Z"/><path class="k0" d="M104.6 706.3L109.5 705.5L106.7 706.2L101.9 706.4Z"/><path class="k0" d="M99.8 707.1L104.6 706.3L101.9 706.4L97.0 706.3Z"/><path class="k0" d="M238.0 678.4L242.9 677.8L240.1 676.9L235.2 678.2Z"/><path class="k0" d="M233.2 679.2L238.0 678.4L235.2 678.2L230.4 679.4Z"/><path class="k0" d="M228.4 680.0L233.2 679.2L230.4 679.4L225.6 680.6Z"/><path class="k0" d="M223.5 681.1L228.4 680.0L225.6 680.6L220.7 681.6Z"/><path class="k0" d="M218.7 682.5L223.5 681.1L220.7 681.6L215.9 682.4Z"/><path class="k0" d="M213.8 684.1L218.7 682.5L215.9 682.4L211.1 683.1Z"/><path class="k0" d="M209.0 686.0L213.8 684.1L211.1 683.1L206.2 683.6Z"/><path class="k0" d="M204.2 688.0L209.0 686.0L206.2 683.6L201.4 684.1Z"/><path class="k0" d="M199.3 690.2L204.2 688.0L201.4 684.1L196.5 684.4Z"/><path class="k0" d="M194.5 692.4L199.3 690.2L196.5 684.4L191.7 684.7Z"/><path class="k0" d="M189.7 694.5L194.5 692.4L191.7 684.7L186.9 685.1Z"/><path class="k0" d="M184.8 696.4L189.7 694.5L186.9 685.1L182.0 685.6Z"/><path class="k0" d="M180.0 698.1L184.8 696.4L182.0 685.6L177.2 686.2Z"/><path class="k0" d="M175.2 699.5L180.0 698.1L177.2 686.2L172.4 687.0Z"/><path class="k0" d="M170.3 700.6L175.2 699.5L172.4 687.0L167.5 688.0Z"/><path class="k0" d="M165.5 701.3L170.3 700.6L167.5 688.0L162.7 689.3Z"/><path class="k0" d="M160.6 701.6L165.5 701.3L162.7 689.3L157.9 690.8Z"/><path class="k0" d="M155.8 701.8L160.6 701.6L157.9 690.8L153.0 692.4Z"/><path class="k0" d="M151.0 701.7L155.8 701.8L153.0 692.4L148.2 694.1Z"/><path class="k0" d="M146.1 701.6L151.0 701.7L148.2 694.1L143.3 695.8Z"/><path class="k0" d="M141.3 701.5L146.1 701.6L143.3 695.8L138.5 697.6Z"/><path class="k0" d="M136.5 701.6L141.3 701.5L138.5 697.6L133.7 699.3Z"/><path class="k0" d="M131.6 701.8L136.5 701.6L133.7 699.3L128.8 700.8Z"/><path class="k0" d="M126.8 702.3L131.6 701.8L128.8 700.8L124.0 702.2Z"/><path class="k0" d="M122.0 703.0L126.8 702.3L124.0 702.2L119.2 703.4Z"/><path class="k0" d="M117.1 704.0L122.0 703.0L119.2 703.4L114.3 704.5Z"/><path class="k0" d="M112.3 705.2L117.1 704.0L114.3 704.5L109.5 705.5Z"/><path class="k0" d="M107.4 706.6L112.3 705.2L109.5 705.5L104.6 706.3Z"/><path class="k0" d="M102.6 708.0L107.4 706.6L104.6 706.3L99.8 707.1Z"/><path class="k0" d="M240.8 679.2L245.7 679.0L242.9 677.8L238.0 678.4Z"/><path class="k0" d="M236.0 679.5L240.8 679.2L238.0 678.4L233.2 679.2Z"/><path class="k0" d="M231.1 680.2L236.0 679.5L233.2 679.2L228.4 680.0Z"/><path class="k0" d="M226.3 681.4L231.1 680.2L228.4 680.0L223.5 681.1Z"/><path class="k0" d="M221.5 683.1L226.3 681.4L223.5 681.1L218.7 682.5Z"/><path class="k0" d="M216.6 685.3L221.5 683.1L218.7 682.5L213.8 684.1Z"/><path class="k0" d="M211.8 688.1L216.6 685.3L213.8 684.1L209.0 686.0Z"/><path class="k0" d="M207.0 691.3L211.8 688.1L209.0 686.0L204.2 688.0Z"/><path class="k0" d="M202.1 694.8L207.0 691.3L204.2 688.0L199.3 690.2Z"/><path class="k1" d="M197.3 698.3L202.1 694.8L199.3 690.2L194.5 692.4Z"/><path class="k1" d="M192.5 701.6L197.3 698.3L194.5 692.4L189.7 694.5Z"/><path class="k1" d="M187.6 704.6L192.5 701.6L189.7 694.5L184.8 696.4Z"/><path class="k2" d="M182.8 707.1L187.6 704.6L184.8 696.4L180.0 698.1Z"/><path class="k2" d="M177.9 708.9L182.8 707.1L180.0 698.1L175.2 699.5Z"/><path class="k2" d="M173.1 709.9L177.9 708.9L175.2 699.5L170.3 700.6Z"/><path class="k2" d="M168.3 710.2L173.1 709.9L170.3 700.6L165.5 701.3Z"/><path class="k2" d="M163.4 709.8L168.3 710.2L165.5 701.3L160.6 701.6Z"/><path class="k1" d="M158.6 708.9L163.4 709.8L160.6 701.6L155.8 701.8Z"/><path class="k1" d="M153.8 707.6L158.6 708.9L155.8 701.8L151.0 701.7Z"/><path class="k1" d="M148.9 706.2L153.8 707.6L151.0 701.7L146.1 701.6Z"/><path class="k0" d="M144.1 704.8L148.9 706.2L146.1 701.6L141.3 701.5Z"/><path class="k0" d="M139.3 703.7L144.1 704.8L141.3 701.5L136.5 701.6Z"/><path class="k0" d="M134.4 703.0L139.3 703.7L136.5 701.6L131.6 701.8Z"/><path class="k0" d="M129.6 702.9L134.4 703.0L131.6 701.8L126.8 702.3Z"/><path class="k0" d="M124.7 703.2L129.6 702.9L126.8 702.3L122.0 703.0Z"/><path class="k0" d="M119.9 704.2L124.7 703.2L122.0 703.0L117.1 704.0Z"/><path class="k0" d="M115.1 705.5L119.9 704.2L117.1 704.0L112.3 705.2Z"/><path class="k0" d="M110.2 707.3L115.1 705.5L112.3 705.2L107.4 706.6Z"/><path class="k0" d="M105.4 709.2L110.2 707.3L107.4 706.6L102.6 708.0Z"/><path class="k0" d="M243.6 680.4L248.4 680.5L245.7 679.0L240.8 679.2Z"/><path class="k4" d="M238.8 680.5L243.6 680.4L240.8 679.2L236.0 679.5Z"/><path class="k4" d="M233.9 681.1L238.8 680.5L236.0 679.5L231.1 680.2Z"/><path class="k4" d="M229.1 682.3L233.9 681.1L231.1 680.2L226.3 681.4Z"/><path class="k4" d="M224.3 684.2L229.1 682.3L226.3 681.4L221.5 683.1Z"/><path class="k0" d="M219.4 686.8L224.3 684.2L221.5 683.1L216.6 685.3Z"/><path class="k0" d="M214.6 690.1L219.4 686.8L216.6 685.3L211.8 688.1Z"/><path class="k0" d="M209.8 693.9L214.6 690.1L211.8 688.1L207.0 691.3Z"/><path class="k1" d="M204.9 698.1L209.8 693.9L207.0 691.3L202.1 694.8Z"/><path class="k1" d="M200.1 702.3L204.9 698.1L202.1 694.8L197.3 698.3Z"/><path class="k2" d="M195.2 706.3L200.1 702.3L197.3 698.3L192.5 701.6Z"/><path class="k2" d="M190.4 709.9L195.2 706.3L192.5 701.6L187.6 704.6Z"/><path class="k3" d="M185.6 712.8L190.4 709.9L187.6 704.6L182.8 707.1Z"/><path class="k3" d="M180.7 714.8L185.6 712.8L182.8 707.1L177.9 708.9Z"/><path class="k3" d="M175.9 715.8L180.7 714.8L177.9 708.9L173.1 709.9Z"/><path class="k3" d="M171.1 715.9L175.9 715.8L173.1 709.9L168.3 710.2Z"/><path class="k3" d="M166.2 715.1L171.1 715.9L168.3 710.2L163.4 709.8Z"/><path class="k2" d="M161.4 713.6L166.2 715.1L163.4 709.8L158.6 708.9Z"/><path class="k2" d="M156.6 711.7L161.4 713.6L158.6 708.9L153.8 707.6Z"/><path class="k1" d="M151.7 709.5L156.6 711.7L153.8 707.6L148.9 706.2Z"/><path class="k1" d="M146.9 707.5L151.7 709.5L148.9 706.2L144.1 704.8Z"/><path class="k0" d="M142.0 705.7L146.9 707.5L144.1 704.8L139.3 703.7Z"/><path class="k0" d="M137.2 704.5L142.0 705.7L139.3 703.7L134.4 703.0Z"/><path class="k0" d="M132.4 704.0L137.2 704.5L134.4 703.0L129.6 702.9Z"/><path class="k4" d="M127.5 704.2L132.4 704.0L129.6 702.9L124.7 703.2Z"/><path class="k4" d="M122.7 705.1L127.5 704.2L124.7 703.2L119.9 704.2Z"/><path class="k4" d="M117.9 706.6L122.7 705.1L119.9 704.2L115.1 705.5Z"/><path class="k4" d="M113.0 708.5L117.9 706.6L115.1 705.5L110.2 707.3Z"/><path class="k0" d="M108.2 710.7L113.0 708.5L110.2 707.3L105.4 709.2Z"/><path class="k0" d="M246.4 682.1L251.2 682.2L248.4 680.5L243.6 680.4Z"/><path class="k4" d="M241.6 682.2L246.4 682.1L243.6 680.4L238.8 680.5Z"/><path class="k4" d="M236.7 682.8L241.6 682.2L238.8 680.5L233.9 681.1Z"/><path class="k4" d="M231.9 684.0L236.7 682.8L233.9 681.1L229.1 682.3Z"/><path class="k4" d="M227.1 685.9L231.9 684.0L229.1 682.3L224.3 684.2Z"/><path class="k0" d="M222.2 688.6L227.1 685.9L224.3 684.2L219.4 686.8Z"/><path class="k0" d="M217.4 692.0L222.2 688.6L219.4 686.8L214.6 690.1Z"/><path class="k0" d="M212.5 695.9L217.4 692.0L214.6 690.1L209.8 693.9Z"/><path class="k1" d="M207.7 700.2L212.5 695.9L209.8 693.9L204.9 698.1Z"/><path class="k2" d="M202.9 704.5L207.7 700.2L204.9 698.1L200.1 702.3Z"/><path class="k2" d="M198.0 708.7L202.9 704.5L200.1 702.3L195.2 706.3Z"/><path class="k3" d="M193.2 712.3L198.0 708.7L195.2 706.3L190.4 709.9Z"/><path class="k3" d="M188.4 715.3L193.2 712.3L190.4 709.9L185.6 712.8Z"/><path class="k3" d="M183.5 717.3L188.4 715.3L185.6 712.8L180.7 714.8Z"/><path class="k3" d="M178.7 718.3L183.5 717.3L180.7 714.8L175.9 715.8Z"/><path class="k3" d="M173.9 718.4L178.7 718.3L175.9 715.8L171.1 715.9Z"/><path class="k3" d="M169.0 717.5L173.9 718.4L171.1 715.9L166.2 715.1Z"/><path class="k3" d="M164.2 715.9L169.0 717.5L166.2 715.1L161.4 713.6Z"/><path class="k2" d="M159.3 713.9L164.2 715.9L161.4 713.6L156.6 711.7Z"/><path class="k2" d="M154.5 711.6L159.3 713.9L156.6 711.7L151.7 709.5Z"/><path class="k1" d="M149.7 709.4L154.5 711.6L151.7 709.5L146.9 707.5Z"/><path class="k0" d="M144.8 707.6L149.7 709.4L146.9 707.5L142.0 705.7Z"/><path class="k0" d="M140.0 706.3L144.8 707.6L142.0 705.7L137.2 704.5Z"/><path class="k0" d="M135.2 705.7L140.0 706.3L137.2 704.5L132.4 704.0Z"/><path class="k4" d="M130.3 705.8L135.2 705.7L132.4 704.0L127.5 704.2Z"/><path class="k4" d="M125.5 706.7L130.3 705.8L127.5 704.2L122.7 705.1Z"/><path class="k4" d="M120.7 708.2L125.5 706.7L122.7 705.1L117.9 706.6Z"/><path class="k4" d="M115.8 710.2L120.7 708.2L117.9 706.6L113.0 708.5Z"/><path class="k0" d="M111.0 712.4L115.8 710.2L113.0 708.5L108.2 710.7Z"/><path class="k0" d="M249.2 684.2L254.0 684.2L251.2 682.2L246.4 682.1Z"/><path class="k4" d="M244.4 684.4L249.2 684.2L246.4 682.1L241.6 682.2Z"/><path class="k4" d="M239.5 685.0L244.4 684.4L241.6 682.2L236.7 682.8Z"/><path class="k4" d="M234.7 686.2L239.5 685.0L236.7 682.8L231.9 684.0Z"/><path class="k4" d="M229.8 688.0L234.7 686.2L231.9 684.0L227.1 685.9Z"/><path class="k0" d="M225.0 690.5L229.8 688.0L227.1 685.9L222.2 688.6Z"/><path class="k0" d="M220.2 693.7L225.0 690.5L222.2 688.6L217.4 692.0Z"/><path class="k0" d="M215.3 697.3L220.2 693.7L217.4 692.0L212.5 695.9Z"/><path class="k1" d="M210.5 701.2L215.3 697.3L212.5 695.9L207.7 700.2Z"/><path class="k1" d="M205.7 705.2L210.5 701.2L207.7 700.2L202.9 704.5Z"/><path class="k2" d="M200.8 709.0L205.7 705.2L202.9 704.5L198.0 708.7Z"/><path class="k3" d="M196.0 712.3L200.8 709.0L198.0 708.7L193.2 712.3Z"/><path class="k3" d="M191.2 715.1L196.0 712.3L193.2 712.3L188.4 715.3Z"/><path class="k3" d="M186.3 717.0L191.2 715.1L188.4 715.3L183.5 717.3Z"/><path class="k3" d="M181.5 718.0L186.3 717.0L183.5 717.3L178.7 718.3Z"/><path class="k3" d="M176.6 718.2L181.5 718.0L178.7 718.3L173.9 718.4Z"/><path class="k3" d="M171.8 717.5L176.6 718.2L173.9 718.4L169.0 717.5Z"/><path class="k3" d="M167.0 716.2L171.8 717.5L169.0 717.5L164.2 715.9Z"/><path class="k2" d="M162.1 714.5L167.0 716.2L164.2 715.9L159.3 713.9Z"/><path class="k1" d="M157.3 712.6L162.1 714.5L159.3 713.9L154.5 711.6Z"/><path class="k1" d="M152.5 710.8L157.3 712.6L154.5 711.6L149.7 709.4Z"/><path class="k0" d="M147.6 709.3L152.5 710.8L149.7 709.4L144.8 707.6Z"/><path class="k0" d="M142.8 708.2L147.6 709.3L144.8 707.6L140.0 706.3Z"/><path class="k0" d="M138.0 707.8L142.8 708.2L140.0 706.3L135.2 705.7Z"/><path class="k4" d="M133.1 708.1L138.0 707.8L135.2 705.7L130.3 705.8Z"/><path class="k4" d="M128.3 709.0L133.1 708.1L130.3 705.8L125.5 706.7Z"/><path class="k4" d="M123.4 710.4L128.3 709.0L125.5 706.7L120.7 708.2Z"/><path class="k4" d="M118.6 712.3L123.4 710.4L120.7 708.2L115.8 710.2Z"/><path class="k0" d="M113.8 714.4L118.6 712.3L115.8 710.2L111.0 712.4Z"/><path class="k0" d="M252.0 686.6L256.8 686.4L254.0 684.2L249.2 684.2Z"/><path class="k4" d="M247.2 687.0L252.0 686.6L249.2 684.2L244.4 684.4Z"/><path class="k4" d="M242.3 687.8L247.2 687.0L244.4 684.4L239.5 685.0Z"/><path class="k4" d="M237.5 688.9L242.3 687.8L239.5 685.0L234.7 686.2Z"/><path class="k4" d="M232.6 690.5L237.5 688.9L234.7 686.2L229.8 688.0Z"/><path class="k0" d="M227.8 692.7L232.6 690.5L229.8 688.0L225.0 690.5Z"/><path class="k0" d="M223.0 695.3L227.8 692.7L225.0 690.5L220.2 693.7Z"/><path class="k0" d="M218.1 698.2L223.0 695.3L220.2 693.7L215.3 697.3Z"/><path class="k1" d="M213.3 701.4L218.1 698.2L215.3 697.3L210.5 701.2Z"/><path class="k1" d="M208.5 704.6L213.3 701.4L210.5 701.2L205.7 705.2Z"/><path class="k2" d="M203.6 707.7L208.5 704.6L205.7 705.2L200.8 709.0Z"/><path class="k2" d="M198.8 710.5L203.6 707.7L200.8 709.0L196.0 712.3Z"/><path class="k2" d="M194.0 712.8L198.8 710.5L196.0 712.3L191.2 715.1Z"/><path class="k3" d="M189.1 714.5L194.0 712.8L191.2 715.1L186.3 717.0Z"/><path class="k3" d="M184.3 715.6L189.1 714.5L186.3 717.0L181.5 718.0Z"/><path class="k3" d="M179.4 715.9L184.3 715.6L181.5 718.0L176.6 718.2Z"/><path class="k2" d="M174.6 715.7L179.4 715.9L176.6 718.2L171.8 717.5Z"/><path class="k2" d="M169.8 715.0L174.6 715.7L171.8 717.5L167.0 716.2Z"/><path class="k2" d="M164.9 714.0L169.8 715.0L167.0 716.2L162.1 714.5Z"/><path class="k1" d="M160.1 712.8L164.9 714.0L162.1 714.5L157.3 712.6Z"/><path class="k1" d="M155.3 711.7L160.1 712.8L157.3 712.6L152.5 710.8Z"/><path class="k0" d="M150.4 710.9L155.3 711.7L152.5 710.8L147.6 709.3Z"/><path class="k0" d="M145.6 710.4L150.4 710.9L147.6 709.3L142.8 708.2Z"/><path class="k0" d="M140.7 710.3L145.6 710.4L142.8 708.2L138.0 707.8Z"/><path class="k4" d="M135.9 710.8L140.7 710.3L138.0 707.8L133.1 708.1Z"/><path class="k4" d="M131.1 711.7L135.9 710.8L133.1 708.1L128.3 709.0Z"/><path class="k4" d="M126.2 713.1L131.1 711.7L128.3 709.0L123.4 710.4Z"/><path class="k4" d="M121.4 714.7L126.2 713.1L123.4 710.4L118.6 712.3Z"/><path class="k0" d="M116.6 716.6L121.4 714.7L118.6 712.3L113.8 714.4Z"/><path class="k0" d="M254.8 689.2L259.6 688.6L256.8 686.4L252.0 686.6Z"/><path class="k0" d="M249.9 689.9L254.8 689.2L252.0 686.6L247.2 687.0Z"/><path class="k0" d="M245.1 690.8L249.9 689.9L247.2 687.0L242.3 687.8Z"/><path class="k0" d="M240.3 691.9L245.1 690.8L242.3 687.8L237.5 688.9Z"/><path class="k0" d="M235.4 693.2L240.3 691.9L237.5 688.9L232.6 690.5Z"/><path class="k0" d="M230.6 694.9L235.4 693.2L232.6 690.5L227.8 692.7Z"/><path class="k0" d="M225.8 696.8L230.6 694.9L227.8 692.7L223.0 695.3Z"/><path class="k0" d="M220.9 698.9L225.8 696.8L223.0 695.3L218.1 698.2Z"/><path class="k0" d="M216.1 701.1L220.9 698.9L218.1 698.2L213.3 701.4Z"/><path class="k1" d="M211.3 703.4L216.1 701.1L213.3 701.4L208.5 704.6Z"/><path class="k1" d="M206.4 705.6L211.3 703.4L208.5 704.6L203.6 707.7Z"/><path class="k1" d="M201.6 707.6L206.4 705.6L203.6 707.7L198.8 710.5Z"/><path class="k2" d="M196.7 709.4L201.6 707.6L198.8 710.5L194.0 712.8Z"/><path class="k2" d="M191.9 710.8L196.7 709.4L194.0 712.8L189.1 714.5Z"/><path class="k2" d="M187.1 711.8L191.9 710.8L189.1 714.5L184.3 715.6Z"/><path class="k2" d="M182.2 712.5L187.1 711.8L184.3 715.6L179.4 715.9Z"/><path class="k2" d="M177.4 712.8L182.2 712.5L179.4 715.9L174.6 715.7Z"/><path class="k1" d="M172.6 712.9L177.4 712.8L174.6 715.7L169.8 715.0Z"/><path class="k1" d="M167.7 712.8L172.6 712.9L169.8 715.0L164.9 714.0Z"/><path class="k1" d="M162.9 712.6L167.7 712.8L164.9 714.0L160.1 712.8Z"/><path class="k0" d="M158.1 712.4L162.9 712.6L160.1 712.8L155.3 711.7Z"/><path class="k0" d="M153.2 712.4L158.1 712.4L155.3 711.7L150.4 710.9Z"/><path class="k0" d="M148.4 712.6L153.2 712.4L150.4 710.9L145.6 710.4Z"/><path class="k0" d="M143.5 713.0L148.4 712.6L145.6 710.4L140.7 710.3Z"/><path class="k0" d="M138.7 713.7L143.5 713.0L140.7 710.3L135.9 710.8Z"/><path class="k0" d="M133.9 714.7L138.7 713.7L135.9 710.8L131.1 711.7Z"/><path class="k0" d="M129.0 715.9L133.9 714.7L131.1 711.7L126.2 713.1Z"/><path class="k0" d="M124.2 717.3L129.0 715.9L126.2 713.1L121.4 714.7Z"/><path class="k0" d="M119.4 718.8L124.2 717.3L121.4 714.7L116.6 716.6Z"/></g><polyline points="34.57,577.8 118.34,631.89 263.43,600.66" fill="none" stroke="#000" stroke-width="1" shape-rendering="crispEdges"/><polyline points="118.34,740.09 118.34,631.89" fill="none" stroke="#000" stroke-width="1" shape-rendering="crispEdges"/><path d="M118.34 740.09L118.67 741.65M124.38 738.79L124.72 740.35M130.43 737.48L130.77 739.05M136.47 736.18L136.81 737.75M142.52 734.88L142.86 736.45M148.57 733.58L148.9 735.14M154.61 732.28L154.95 733.84M160.66 730.98L160.99 732.54M166.7 729.68L167.04 731.24M172.75 728.37L173.08 729.94M178.79 727.07L179.13 728.64M184.84 725.77L185.18 727.34M190.88 724.47L191.22 726.03M196.93 723.17L197.27 724.73M202.98 721.87L203.31 723.43M209.02 720.57L209.36 722.13M215.07 719.26L215.4 720.83M221.11 717.96L221.45 719.53M227.16 716.66L227.49 718.23M233.2 715.36L233.54 716.93M239.25 714.06L239.59 715.62M245.29 712.76L245.63 714.32M251.34 711.46L251.68 713.02M257.39 710.16L257.72 711.72M263.43 708.85L263.77 710.42M142.52 734.88L143.19 738.01M166.7 729.68L167.38 732.8M190.88 724.47L191.56 727.6M215.07 719.26L215.74 722.39M239.25 714.06L239.92 717.19M118.34 740.09L117.47 741.43M114.85 737.83L113.98 739.18M111.36 735.58L110.49 736.92M107.87 733.32L107 734.67M104.38 731.07L103.51 732.41M100.89 728.82L100.02 730.16M97.4 726.56L96.53 727.91M93.9 724.31L93.04 725.65M90.41 722.05L89.55 723.4M86.92 719.8L86.06 721.14M83.43 717.55L82.57 718.89M79.94 715.29L79.08 716.64M76.45 713.04L75.58 714.38M72.96 710.78L72.09 712.13M69.47 708.53L68.6 709.87M65.98 706.28L65.11 707.62M62.49 704.02L61.62 705.37M59 701.77L58.13 703.11M55.51 699.51L54.64 700.86M52.02 697.26L51.15 698.6M48.53 695.01L47.66 696.35M45.04 692.75L44.17 694.1M41.55 690.5L40.68 691.84M38.06 688.24L37.19 689.59M34.57 685.99L33.7 687.33M104.38 731.07L102.64 733.76M90.41 722.05L88.68 724.74M76.45 713.04L74.72 715.73M62.49 704.02L60.76 706.71M48.53 695.01L46.79 697.69" stroke="#000" stroke-width="1" fill="none" shape-rendering="crispEdges"/><text x="143.42" y="746.48" font-size="7.8" text-anchor="middle" fill="#000" stroke="#000" stroke-width="0.176">−4</text><text x="167.6" y="741.28" font-size="7.8" text-anchor="middle" fill="#000" stroke="#000" stroke-width="0.176">−2</text><text x="192.48" y="736.07" font-size="7.8" text-anchor="middle" fill="#000" stroke="#000" stroke-width="0.176">0</text><text x="216.67" y="730.86" font-size="7.8" text-anchor="middle" fill="#000" stroke="#000" stroke-width="0.176">2</text><text x="240.85" y="725.66" font-size="7.8" text-anchor="middle" fill="#000" stroke="#000" stroke-width="0.176">4</text><text x="94.88" y="741.07" font-size="7.8" text-anchor="middle" fill="#000" stroke="#000" stroke-width="0.176">−4</text><text x="80.91" y="732.05" font-size="7.8" text-anchor="middle" fill="#000" stroke="#000" stroke-width="0.176">−2</text><text x="66.95" y="723.04" font-size="7.8" text-anchor="middle" fill="#000" stroke="#000" stroke-width="0.176">0</text><text x="52.99" y="714.02" font-size="7.8" text-anchor="middle" fill="#000" stroke="#000" stroke-width="0.176">2</text><text x="39.03" y="705.01" font-size="7.8" text-anchor="middle" fill="#000" stroke="#000" stroke-width="0.176">4</text><text x="56.4" y="535.1" font-size="10.9" textLength="183.6" lengthAdjust="spacingAndGlyphs" fill="#000" stroke="#000" stroke-width="0.39300000000000007">Minuit fit result on the Graph2D points</text><path d="M332.50 225.50L332.50 223.40L334.79 223.40L334.79 222.99L337.08 222.99L337.08 222.15L339.37 222.15L339.37 221.73L341.66 221.73L341.66 222.99L343.95 222.99L343.95 221.31L346.24 221.31L346.24 220.47L348.53 220.47L348.53 219.63L350.82 219.63L350.82 219.21L353.11 219.21L353.11 218.38L355.40 218.38L355.40 219.63L357.69 219.63L357.69 216.28L359.98 216.28L359.98 211.25L362.27 211.25L362.27 214.61L364.56 214.61L364.56 216.28L366.85 216.28L366.85 212.51L369.14 212.51L369.14 211.67L373.72 211.67L373.72 213.77L376.01 213.77L376.01 210.83L380.59 210.83L380.59 212.09L382.88 212.09L382.88 207.06L385.17 207.06L385.17 206.23L387.46 206.23L387.46 207.48L392.04 207.48L392.04 200.36L394.33 200.36L394.33 197.85L396.62 197.85L396.62 205.39L398.91 205.39L398.91 206.64L401.20 206.64L401.20 196.59L403.49 196.59L403.49 199.94L405.78 199.94L405.78 195.33L410.36 195.33L410.36 191.98L412.65 191.98L412.65 194.49L414.94 194.49L414.94 186.53L417.23 186.53L417.23 182.76L419.52 182.76L419.52 177.73L421.81 177.73L421.81 179.41L424.10 179.41L424.10 151.75L426.39 151.75L426.39 122.84L428.68 122.84L428.68 111.11L430.97 111.11L430.97 102.31L433.26 102.31L433.26 85.13L435.55 85.13L435.55 90.58L437.84 90.58L437.84 67.53L440.13 67.53L440.13 53.71L442.42 53.71L442.42 47.84L444.71 47.84L444.71 34.01L447.00 34.01L447.00 55.80L449.29 55.80L449.29 31.50L451.58 31.50L451.58 44.49L453.87 44.49L453.87 57.90L456.16 57.90L456.16 85.55L458.45 85.55L458.45 84.71L460.74 84.71L460.74 89.32L463.03 89.32L463.03 103.99L465.32 103.99L465.32 132.06L467.61 132.06L467.61 150.08L469.90 150.08L469.90 182.34L472.19 182.34L472.19 187.37L476.77 187.37L476.77 188.21L479.06 188.21L479.06 188.63L481.35 188.63L481.35 198.26L483.64 198.26L483.64 192.82L485.93 192.82L485.93 196.59L488.22 196.59L488.22 195.75L490.51 195.75L490.51 202.87L492.80 202.87L492.80 195.75L495.09 195.75L495.09 199.52L497.38 199.52L497.38 204.55L501.96 204.55L501.96 207.06L504.25 207.06L504.25 203.71L506.54 203.71L506.54 206.23L508.83 206.23L508.83 210.00L511.12 210.00L511.12 207.06L513.41 207.06L513.41 212.93L517.99 212.93L517.99 211.67L522.57 211.67L522.57 214.19L527.15 214.19L527.15 215.86L529.44 215.86L529.44 214.19L531.73 214.19L531.73 220.47L534.02 220.47L534.02 216.70L543.18 216.70L543.18 222.15L547.76 222.15L547.76 220.89L552.34 220.89L552.34 222.15L554.63 222.15L554.63 223.40L559.21 223.40L559.21 224.24L561.50 224.24L561.50 225.50Z" fill="#ab8f94" stroke="none"/><path d="M332.50 223.40L334.79 223.40L334.79 222.99L337.08 222.99L337.08 222.15L339.37 222.15L339.37 221.73L341.66 221.73L341.66 222.99L343.95 222.99L343.95 221.31L346.24 221.31L346.24 220.47L348.53 220.47L348.53 219.63L350.82 219.63L350.82 219.21L353.11 219.21L353.11 218.38L355.40 218.38L355.40 219.63L357.69 219.63L357.69 216.28L359.98 216.28L359.98 211.25L362.27 211.25L362.27 214.61L364.56 214.61L364.56 216.28L366.85 216.28L366.85 212.51L369.14 212.51L369.14 211.67L373.72 211.67L373.72 213.77L376.01 213.77L376.01 210.83L380.59 210.83L380.59 212.09L382.88 212.09L382.88 207.06L385.17 207.06L385.17 206.23L387.46 206.23L387.46 207.48L392.04 207.48L392.04 200.36L394.33 200.36L394.33 197.85L396.62 197.85L396.62 205.39L398.91 205.39L398.91 206.64L401.20 206.64L401.20 196.59L403.49 196.59L403.49 199.94L405.78 199.94L405.78 195.33L410.36 195.33L410.36 191.98L412.65 191.98L412.65 194.49L414.94 194.49L414.94 186.53L417.23 186.53L417.23 182.76L419.52 182.76L419.52 177.73L421.81 177.73L421.81 179.41L424.10 179.41L424.10 151.75L426.39 151.75L426.39 122.84L428.68 122.84L428.68 111.11L430.97 111.11L430.97 102.31L433.26 102.31L433.26 85.13L435.55 85.13L435.55 90.58L437.84 90.58L437.84 67.53L440.13 67.53L440.13 53.71L442.42 53.71L442.42 47.84L444.71 47.84L444.71 34.01L447.00 34.01L447.00 55.80L449.29 55.80L449.29 31.50L451.58 31.50L451.58 44.49L453.87 44.49L453.87 57.90L456.16 57.90L456.16 85.55L458.45 85.55L458.45 84.71L460.74 84.71L460.74 89.32L463.03 89.32L463.03 103.99L465.32 103.99L465.32 132.06L467.61 132.06L467.61 150.08L469.90 150.08L469.90 182.34L472.19 182.34L472.19 187.37L476.77 187.37L476.77 188.21L479.06 188.21L479.06 188.63L481.35 188.63L481.35 198.26L483.64 198.26L483.64 192.82L485.93 192.82L485.93 196.59L488.22 196.59L488.22 195.75L490.51 195.75L490.51 202.87L492.80 202.87L492.80 195.75L495.09 195.75L495.09 199.52L497.38 199.52L497.38 204.55L501.96 204.55L501.96 207.06L504.25 207.06L504.25 203.71L506.54 203.71L506.54 206.23L508.83 206.23L508.83 210.00L511.12 210.00L511.12 207.06L513.41 207.06L513.41 212.93L517.99 212.93L517.99 211.67L522.57 211.67L522.57 214.19L527.15 214.19L527.15 215.86L529.44 215.86L529.44 214.19L531.73 214.19L531.73 220.47L534.02 220.47L534.02 216.70L543.18 216.70L543.18 222.15L547.76 222.15L547.76 220.89L552.34 220.89L552.34 222.15L554.63 222.15L554.63 223.40L559.21 223.40L559.21 224.24L561.50 224.24" fill="none" stroke="#000099" stroke-width="1" shape-rendering="crispEdges"/><polyline points="332.50,224.70 334.79,224.70 337.08,224.70 339.37,224.70 341.66,224.70 343.95,224.70 346.24,224.70 348.53,224.69 350.82,224.69 353.11,224.69 355.40,224.68 357.69,224.67 359.98,224.65 362.27,224.62 364.56,224.59 366.85,224.53 369.14,224.45 371.43,224.34 373.72,224.19 376.01,223.97 378.30,223.68 380.59,223.29 382.88,222.77 385.17,222.08 387.46,221.18 389.75,220.04 392.04,218.59 394.33,216.77 396.62,214.53 398.91,211.80 401.20,208.52 403.49,204.63 405.78,200.07 408.07,194.82 410.36,188.85 412.65,182.16 414.94,174.77 417.23,166.75 419.52,158.19 421.81,149.21 424.10,139.95 426.39,130.62 428.68,121.41 430.97,112.55 433.26,104.28 435.55,96.82 437.84,90.40 440.13,85.22 442.42,81.44 444.71,79.18 447.00,78.52 449.29,79.47 451.58,82.02 453.87,86.06 456.16,91.49 458.45,98.11 460.74,105.73 463.03,114.13 465.32,123.07 467.61,132.32 469.90,141.66 472.19,150.87 474.48,159.79 476.77,168.26 479.06,176.17 481.35,183.43 483.64,189.99 485.93,195.83 488.22,200.96 490.51,205.39 492.80,209.16 495.09,212.34 497.38,214.98 499.67,217.13 501.96,218.88 504.25,220.27 506.54,221.37 508.83,222.22 511.12,222.87 513.41,223.37 515.70,223.74 517.99,224.02 520.28,224.22 522.57,224.37 524.86,224.47 527.15,224.54 529.44,224.59 531.73,224.63 534.02,224.65 536.31,224.67 538.60,224.68 540.89,224.69 543.18,224.69 545.47,224.70 547.76,224.70 550.05,224.70 552.34,224.70 554.63,224.70 556.92,224.70 559.21,224.70 561.50,224.70" fill="none" stroke="#ff0000" stroke-width="2.1" stroke-linejoin="round" shape-rendering="crispEdges"/><rect x="332.5" y="31.5" width="229" height="194" fill="none" stroke="#000" stroke-width="1" shape-rendering="crispEdges"/><path d="M332.5 225.5L336.7 225.5M332.5 221.31L336.7 221.31M332.5 217.12L336.7 217.12M332.5 212.93L336.7 212.93M332.5 208.74L336.7 208.74M332.5 204.55L336.7 204.55M332.5 200.36L336.7 200.36M332.5 196.17L336.7 196.17M332.5 191.98L336.7 191.98M332.5 187.79L336.7 187.79M332.5 183.6L336.7 183.6M332.5 179.41L336.7 179.41M332.5 175.22L336.7 175.22M332.5 171.03L336.7 171.03M332.5 166.84L336.7 166.84M332.5 162.65L336.7 162.65M332.5 158.46L336.7 158.46M332.5 154.27L336.7 154.27M332.5 150.08L336.7 150.08M332.5 145.89L336.7 145.89M332.5 141.7L336.7 141.7M332.5 137.51L336.7 137.51M332.5 133.32L336.7 133.32M332.5 129.13L336.7 129.13M332.5 124.94L336.7 124.94M332.5 120.75L336.7 120.75M332.5 116.56L336.7 116.56M332.5 112.37L336.7 112.37M332.5 108.18L336.7 108.18M332.5 103.99L336.7 103.99M332.5 99.8L336.7 99.8M332.5 95.61L336.7 95.61M332.5 91.42L336.7 91.42M332.5 87.23L336.7 87.23M332.5 83.04L336.7 83.04M332.5 78.85L336.7 78.85M332.5 74.66L336.7 74.66M332.5 70.47L336.7 70.47M332.5 66.28L336.7 66.28M332.5 62.09L336.7 62.09M332.5 57.9L336.7 57.9M332.5 53.71L336.7 53.71M332.5 49.52L336.7 49.52M332.5 45.33L336.7 45.33M332.5 41.14L336.7 41.14M332.5 36.95L336.7 36.95M332.5 32.76L336.7 32.76M332.5 225.5L339.8 225.5M332.5 204.55L339.8 204.55M332.5 183.6L339.8 183.6M332.5 162.65L339.8 162.65M332.5 141.7L339.8 141.7M332.5 120.75L339.8 120.75M332.5 99.8L339.8 99.8M332.5 78.85L339.8 78.85M332.5 57.9L339.8 57.9M332.5 36.95L339.8 36.95M335.77 225.5L335.77 222.6M342.31 225.5L342.31 222.6M348.86 225.5L348.86 219.7M355.4 225.5L355.4 222.6M361.94 225.5L361.94 222.6M368.49 225.5L368.49 222.6M375.03 225.5L375.03 222.6M381.57 225.5L381.57 219.7M388.11 225.5L388.11 222.6M394.66 225.5L394.66 222.6M401.2 225.5L401.2 222.6M407.74 225.5L407.74 222.6M414.29 225.5L414.29 219.7M420.83 225.5L420.83 222.6M427.37 225.5L427.37 222.6M433.91 225.5L433.91 222.6M440.46 225.5L440.46 222.6M447 225.5L447 219.7M453.54 225.5L453.54 222.6M460.09 225.5L460.09 222.6M466.63 225.5L466.63 222.6M473.17 225.5L473.17 222.6M479.71 225.5L479.71 219.7M486.26 225.5L486.26 222.6M492.8 225.5L492.8 222.6M499.34 225.5L499.34 222.6M505.89 225.5L505.89 222.6M512.43 225.5L512.43 219.7M518.97 225.5L518.97 222.6M525.51 225.5L525.51 222.6M532.06 225.5L532.06 222.6M538.6 225.5L538.6 222.6M545.14 225.5L545.14 219.7M551.69 225.5L551.69 222.6M558.23 225.5L558.23 222.6" stroke="#000" stroke-width="1" fill="none" shape-rendering="crispEdges"/><text x="329.9" y="228.2" font-size="7.7" text-anchor="end" fill="#000" stroke="#000" stroke-width="0.169">0</text><text x="329.9" y="207.25" font-size="7.7" text-anchor="end" fill="#000" stroke="#000" stroke-width="0.169">50</text><text x="329.9" y="186.3" font-size="7.7" text-anchor="end" fill="#000" stroke="#000" stroke-width="0.169">100</text><text x="329.9" y="165.35" font-size="7.7" text-anchor="end" fill="#000" stroke="#000" stroke-width="0.169">150</text><text x="329.9" y="144.4" font-size="7.7" text-anchor="end" fill="#000" stroke="#000" stroke-width="0.169">200</text><text x="329.9" y="123.45" font-size="7.7" text-anchor="end" fill="#000" stroke="#000" stroke-width="0.169">250</text><text x="329.9" y="102.5" font-size="7.7" text-anchor="end" fill="#000" stroke="#000" stroke-width="0.169">300</text><text x="329.9" y="81.55" font-size="7.7" text-anchor="end" fill="#000" stroke="#000" stroke-width="0.169">350</text><text x="329.9" y="60.6" font-size="7.7" text-anchor="end" fill="#000" stroke="#000" stroke-width="0.169">400</text><text x="329.9" y="39.65" font-size="7.7" text-anchor="end" fill="#000" stroke="#000" stroke-width="0.169">450</text><text x="347.26" y="232.8" font-size="7.8" text-anchor="middle" fill="#000" stroke="#000" stroke-width="0.176">−300</text><text x="379.97" y="232.8" font-size="7.8" text-anchor="middle" fill="#000" stroke="#000" stroke-width="0.176">−200</text><text x="412.69" y="232.8" font-size="7.8" text-anchor="middle" fill="#000" stroke="#000" stroke-width="0.176">−100</text><text x="447" y="232.8" font-size="7.8" text-anchor="middle" fill="#000" stroke="#000" stroke-width="0.176">0</text><text x="479.71" y="232.8" font-size="7.8" text-anchor="middle" fill="#000" stroke="#000" stroke-width="0.176">100</text><text x="512.43" y="232.8" font-size="7.8" text-anchor="middle" fill="#000" stroke="#000" stroke-width="0.176">200</text><text x="545.14" y="232.8" font-size="7.8" text-anchor="middle" fill="#000" stroke="#000" stroke-width="0.176">300</text><rect x="481.5" y="23.5" width="103.3" height="47.5" fill="#fff" stroke="#000" stroke-width="1"/><text x="486.1" y="32.2" font-size="8.11" fill="#000" stroke="#000" stroke-width="0.19740229885057461">χ</text><text x="491.19" y="28" font-size="5.09" fill="#000" stroke="#000" stroke-width="0.12">2</text><text x="495.15" y="30.8" font-size="7.73" fill="#000" stroke="#000" stroke-width="0.1710114942528735">/ ndf</text><text x="578.8" y="32.4" font-size="8.2" text-anchor="end" fill="#000" stroke="#000" stroke-width="0.20399999999999996">1695 / 96</text><text x="485.7" y="44.5" font-size="8.2" fill="#000" stroke="#000" stroke-width="0.20399999999999996">Constant</text><text x="578.8" y="44.5" font-size="8.2" text-anchor="end" fill="#000" stroke="#000" stroke-width="0.20399999999999996">348.9 ± 7.8</text><text x="485.7" y="57" font-size="8.2" fill="#000" stroke="#000" stroke-width="0.20399999999999996">Mean</text><text x="578.8" y="57" font-size="8.2" text-anchor="end" fill="#000" stroke="#000" stroke-width="0.20399999999999996">−0.6388 ± 0.7292</text><text x="485.7" y="68.2" font-size="8.2" fill="#000" stroke="#000" stroke-width="0.20399999999999996">Sigma</text><text x="578.8" y="68.2" font-size="8.2" text-anchor="end" fill="#000" stroke="#000" stroke-width="0.20399999999999996">66.42 ± 1.30</text><text x="373.5" y="22.7" font-size="11.9" textLength="147" lengthAdjust="spacingAndGlyphs" fill="#000" stroke="#000" stroke-width="0.4630000000000001">Difference between Original</text><text x="373.5" y="38.7" font-size="11.9" fill="#000" stroke="#000" stroke-width="0.4630000000000001">function and Function</text><text x="373.5" y="52.3" font-size="11.9" fill="#000" stroke="#000" stroke-width="0.4630000000000001">with noise</text><path d="M332.50 482.50L337.08 482.50L337.08 482.15L339.37 482.15L339.37 482.50L343.95 482.50L343.95 482.15L346.24 482.15L346.24 482.50L350.82 482.50L350.82 482.15L353.11 482.15L353.11 482.50L355.40 482.50L355.40 482.15L357.69 482.15L357.69 481.80L359.98 481.80L359.98 480.40L362.27 480.40L362.27 479.35L373.72 479.35L373.72 480.40L376.01 480.40L376.01 479.35L378.30 479.35L378.30 478.30L380.59 478.30L380.59 479.00L382.88 479.00L382.88 479.35L387.46 479.35L387.46 476.90L389.75 476.90L389.75 475.49L394.33 475.49L394.33 474.09L398.91 474.09L398.91 471.64L401.20 471.64L401.20 471.29L403.49 471.29L403.49 473.04L405.78 473.04L405.78 466.74L408.07 466.74L408.07 459.38L410.36 459.38L410.36 461.83L412.65 461.83L412.65 452.03L414.94 452.03L414.94 448.17L417.23 448.17L417.23 447.12L419.52 447.12L419.52 450.63L421.81 450.63L421.81 440.12L424.10 440.12L424.10 429.61L426.39 429.61L426.39 425.41L428.68 425.41L428.68 417.35L430.97 417.35L430.97 374.62L433.26 374.62L433.26 345.89L435.55 345.89L435.55 307.01L437.84 307.01L437.84 289.50L440.13 289.50L440.13 305.61L442.42 305.61L442.42 298.96L444.71 298.96L444.71 316.47L447.00 316.47L447.00 312.97L449.29 312.97L449.29 318.92L451.58 318.92L451.58 323.13L453.87 323.13L453.87 334.33L456.16 334.33L456.16 346.59L458.45 346.59L458.45 360.61L460.74 360.61L460.74 383.72L463.03 383.72L463.03 397.38L465.32 397.38L465.32 422.95L467.61 422.95L467.61 424.71L469.90 424.71L469.90 435.21L472.19 435.21L472.19 440.12L474.48 440.12L474.48 443.97L476.77 443.97L476.77 448.87L479.06 448.87L479.06 449.57L481.35 449.57L481.35 452.38L483.64 452.38L483.64 448.52L488.22 448.52L488.22 455.18L490.51 455.18L490.51 455.53L492.80 455.53L492.80 457.98L499.67 457.98L499.67 453.43L501.96 453.43L501.96 463.24L504.25 463.24L504.25 467.09L506.54 467.09L506.54 464.99L508.83 464.99L508.83 468.84L513.41 468.84L513.41 447.12L515.70 447.12L515.70 433.46L517.99 433.46L517.99 466.04L520.28 466.04L520.28 475.84L522.57 475.84L522.57 478.65L529.44 478.65L529.44 479.35L531.73 479.35L531.73 478.30L534.02 478.30L534.02 479.35L538.60 479.35L538.60 478.65L543.18 478.65L543.18 479.70L550.05 479.70L550.05 480.05L554.63 480.05L554.63 480.40L556.92 480.40L556.92 480.75L559.21 480.75L559.21 481.10L561.50 481.10L561.50 482.50Z" fill="#7d99d1" stroke="none"/><path d="M337.08 482.50L337.08 482.15L339.37 482.15L339.37 482.50L343.95 482.50L343.95 482.15L346.24 482.15L346.24 482.50L350.82 482.50L350.82 482.15L353.11 482.15L353.11 482.50L355.40 482.50L355.40 482.15L357.69 482.15L357.69 481.80L359.98 481.80L359.98 480.40L362.27 480.40L362.27 479.35L373.72 479.35L373.72 480.40L376.01 480.40L376.01 479.35L378.30 479.35L378.30 478.30L380.59 478.30L380.59 479.00L382.88 479.00L382.88 479.35L387.46 479.35L387.46 476.90L389.75 476.90L389.75 475.49L394.33 475.49L394.33 474.09L398.91 474.09L398.91 471.64L401.20 471.64L401.20 471.29L403.49 471.29L403.49 473.04L405.78 473.04L405.78 466.74L408.07 466.74L408.07 459.38L410.36 459.38L410.36 461.83L412.65 461.83L412.65 452.03L414.94 452.03L414.94 448.17L417.23 448.17L417.23 447.12L419.52 447.12L419.52 450.63L421.81 450.63L421.81 440.12L424.10 440.12L424.10 429.61L426.39 429.61L426.39 425.41L428.68 425.41L428.68 417.35L430.97 417.35L430.97 374.62L433.26 374.62L433.26 345.89L435.55 345.89L435.55 307.01L437.84 307.01L437.84 289.50L440.13 289.50L440.13 305.61L442.42 305.61L442.42 298.96L444.71 298.96L444.71 316.47L447.00 316.47L447.00 312.97L449.29 312.97L449.29 318.92L451.58 318.92L451.58 323.13L453.87 323.13L453.87 334.33L456.16 334.33L456.16 346.59L458.45 346.59L458.45 360.61L460.74 360.61L460.74 383.72L463.03 383.72L463.03 397.38L465.32 397.38L465.32 422.95L467.61 422.95L467.61 424.71L469.90 424.71L469.90 435.21L472.19 435.21L472.19 440.12L474.48 440.12L474.48 443.97L476.77 443.97L476.77 448.87L479.06 448.87L479.06 449.57L481.35 449.57L481.35 452.38L483.64 452.38L483.64 448.52L488.22 448.52L488.22 455.18L490.51 455.18L490.51 455.53L492.80 455.53L492.80 457.98L499.67 457.98L499.67 453.43L501.96 453.43L501.96 463.24L504.25 463.24L504.25 467.09L506.54 467.09L506.54 464.99L508.83 464.99L508.83 468.84L513.41 468.84L513.41 447.12L515.70 447.12L515.70 433.46L517.99 433.46L517.99 466.04L520.28 466.04L520.28 475.84L522.57 475.84L522.57 478.65L529.44 478.65L529.44 479.35L531.73 479.35L531.73 478.30L534.02 478.30L534.02 479.35L538.60 479.35L538.60 478.65L543.18 478.65L543.18 479.70L550.05 479.70L550.05 480.05L554.63 480.05L554.63 480.40L556.92 480.40L556.92 480.75L559.21 480.75L559.21 481.10L561.50 481.10" fill="none" stroke="#000099" stroke-width="1" shape-rendering="crispEdges"/><polyline points="332.50,481.70 334.79,481.70 337.08,481.70 339.37,481.70 341.66,481.70 343.95,481.70 346.24,481.70 348.53,481.70 350.82,481.70 353.11,481.70 355.40,481.70 357.69,481.70 359.98,481.70 362.27,481.70 364.56,481.69 366.85,481.69 369.14,481.68 371.43,481.67 373.72,481.65 376.01,481.61 378.30,481.56 380.59,481.48 382.88,481.37 385.17,481.19 387.46,480.94 389.75,480.57 392.04,480.06 394.33,479.35 396.62,478.38 398.91,477.08 401.20,475.37 403.49,473.15 405.78,470.34 408.07,466.82 410.36,462.50 412.65,457.30 414.94,451.16 417.23,444.04 419.52,435.96 421.81,426.97 424.10,417.20 426.39,406.83 428.68,396.08 430.97,385.27 433.26,374.71 435.55,364.77 437.84,355.82 440.13,348.21 442.42,342.26 444.71,338.23 447.00,336.29 449.29,336.53 451.58,338.94 453.87,343.42 456.16,349.75 458.45,357.68 460.74,366.88 463.03,376.99 465.32,387.64 467.61,398.47 469.90,409.15 472.19,419.41 474.48,429.02 476.77,437.81 479.06,445.69 481.35,452.59 483.64,458.52 485.93,463.52 488.22,467.66 490.51,471.01 492.80,473.69 495.09,475.78 497.38,477.40 499.67,478.62 501.96,479.52 504.25,480.19 506.54,480.66 508.83,481.00 511.12,481.24 513.41,481.40 515.70,481.50 517.99,481.58 520.28,481.62 522.57,481.65 524.86,481.67 527.15,481.68 529.44,481.69 531.73,481.69 534.02,481.70 536.31,481.70 538.60,481.70 540.89,481.70 543.18,481.70 545.47,481.70 547.76,481.70 550.05,481.70 552.34,481.70 554.63,481.70 556.92,481.70 559.21,481.70 561.50,481.70" fill="none" stroke="#ff0000" stroke-width="2.1" stroke-linejoin="round" shape-rendering="crispEdges"/><rect x="332.5" y="289.5" width="229" height="193" fill="none" stroke="#000" stroke-width="1" shape-rendering="crispEdges"/><path d="M332.5 482.5L336.7 482.5M332.5 475.49L336.7 475.49M332.5 468.49L336.7 468.49M332.5 461.48L336.7 461.48M332.5 454.48L336.7 454.48M332.5 447.47L336.7 447.47M332.5 440.47L336.7 440.47M332.5 433.46L336.7 433.46M332.5 426.46L336.7 426.46M332.5 419.45L336.7 419.45M332.5 412.45L336.7 412.45M332.5 405.44L336.7 405.44M332.5 398.43L336.7 398.43M332.5 391.43L336.7 391.43M332.5 384.42L336.7 384.42M332.5 377.42L336.7 377.42M332.5 370.41L336.7 370.41M332.5 363.41L336.7 363.41M332.5 356.4L336.7 356.4M332.5 349.4L336.7 349.4M332.5 342.39L336.7 342.39M332.5 335.39L336.7 335.39M332.5 328.38L336.7 328.38M332.5 321.37L336.7 321.37M332.5 314.37L336.7 314.37M332.5 307.36L336.7 307.36M332.5 300.36L336.7 300.36M332.5 293.35L336.7 293.35M332.5 482.5L339.8 482.5M332.5 447.47L339.8 447.47M332.5 412.45L339.8 412.45M332.5 377.42L339.8 377.42M332.5 342.39L339.8 342.39M332.5 307.36L339.8 307.36M335.77 482.5L335.77 479.6M342.31 482.5L342.31 479.6M348.86 482.5L348.86 476.7M355.4 482.5L355.4 479.6M361.94 482.5L361.94 479.6M368.49 482.5L368.49 479.6M375.03 482.5L375.03 479.6M381.57 482.5L381.57 476.7M388.11 482.5L388.11 479.6M394.66 482.5L394.66 479.6M401.2 482.5L401.2 479.6M407.74 482.5L407.74 479.6M414.29 482.5L414.29 476.7M420.83 482.5L420.83 479.6M427.37 482.5L427.37 479.6M433.91 482.5L433.91 479.6M440.46 482.5L440.46 479.6M447 482.5L447 476.7M453.54 482.5L453.54 479.6M460.09 482.5L460.09 479.6M466.63 482.5L466.63 479.6M473.17 482.5L473.17 479.6M479.71 482.5L479.71 476.7M486.26 482.5L486.26 479.6M492.8 482.5L492.8 479.6M499.34 482.5L499.34 479.6M505.89 482.5L505.89 479.6M512.43 482.5L512.43 476.7M518.97 482.5L518.97 479.6M525.51 482.5L525.51 479.6M532.06 482.5L532.06 479.6M538.6 482.5L538.6 479.6M545.14 482.5L545.14 476.7M551.69 482.5L551.69 479.6M558.23 482.5L558.23 479.6" stroke="#000" stroke-width="1" fill="none" shape-rendering="crispEdges"/><text x="329.9" y="485.2" font-size="7.7" text-anchor="end" fill="#000" stroke="#000" stroke-width="0.169">0</text><text x="329.9" y="450.17" font-size="7.7" text-anchor="end" fill="#000" stroke="#000" stroke-width="0.169">100</text><text x="329.9" y="415.15" font-size="7.7" text-anchor="end" fill="#000" stroke="#000" stroke-width="0.169">200</text><text x="329.9" y="380.12" font-size="7.7" text-anchor="end" fill="#000" stroke="#000" stroke-width="0.169">300</text><text x="329.9" y="345.09" font-size="7.7" text-anchor="end" fill="#000" stroke="#000" stroke-width="0.169">400</text><text x="329.9" y="310.06" font-size="7.7" text-anchor="end" fill="#000" stroke="#000" stroke-width="0.169">500</text><text x="347.26" y="489.8" font-size="7.8" text-anchor="middle" fill="#000" stroke="#000" stroke-width="0.176">−300</text><text x="379.97" y="489.8" font-size="7.8" text-anchor="middle" fill="#000" stroke="#000" stroke-width="0.176">−200</text><text x="412.69" y="489.8" font-size="7.8" text-anchor="middle" fill="#000" stroke="#000" stroke-width="0.176">−100</text><text x="447" y="489.8" font-size="7.8" text-anchor="middle" fill="#000" stroke="#000" stroke-width="0.176">0</text><text x="479.71" y="489.8" font-size="7.8" text-anchor="middle" fill="#000" stroke="#000" stroke-width="0.176">100</text><text x="512.43" y="489.8" font-size="7.8" text-anchor="middle" fill="#000" stroke="#000" stroke-width="0.176">200</text><text x="545.14" y="489.8" font-size="7.8" text-anchor="middle" fill="#000" stroke="#000" stroke-width="0.176">300</text><rect x="481.4" y="280.5" width="103.4" height="48" fill="#fff" stroke="#000" stroke-width="1"/><text x="486" y="289.2" font-size="8.7" fill="#000" stroke="#000" stroke-width="0.2389195402298851">χ</text><text x="491.46" y="285" font-size="5.46" fill="#000" stroke="#000" stroke-width="0.12">2</text><text x="495.71" y="287.8" font-size="8.29" fill="#000" stroke="#000" stroke-width="0.21059770114942528">/ ndf</text><text x="578.8" y="289.4" font-size="8.8" text-anchor="end" fill="#000" stroke="#000" stroke-width="0.24600000000000005">1517 / 83</text><text x="485.6" y="301.5" font-size="8.8" fill="#000" stroke="#000" stroke-width="0.24600000000000005">Constant</text><text x="578.8" y="301.5" font-size="8.8" text-anchor="end" fill="#000" stroke="#000" stroke-width="0.24600000000000005">415.6 ± 8.0</text><text x="485.6" y="314" font-size="8.8" fill="#000" stroke="#000" stroke-width="0.24600000000000005">Mean</text><text x="578.8" y="314" font-size="8.8" text-anchor="end" fill="#000" stroke="#000" stroke-width="0.24600000000000005">2.73 ± 0.66</text><text x="485.6" y="325.2" font-size="8.8" fill="#000" stroke="#000" stroke-width="0.24600000000000005">Sigma</text><text x="578.8" y="325.2" font-size="8.8" text-anchor="end" fill="#000" stroke="#000" stroke-width="0.24600000000000005">57 ± 0.9</text><text x="363.5" y="280.6" font-size="11.9" fill="#000" stroke="#000" stroke-width="0.4630000000000001">Difference between Original</text><text x="363.5" y="296.7" font-size="11.9" textLength="167.4" lengthAdjust="spacingAndGlyphs" fill="#000" stroke="#000" stroke-width="0.4630000000000001">function and Delaunay triangles</text><text x="363.5" y="312.3" font-size="11.9" fill="#000" stroke="#000" stroke-width="0.4630000000000001">interpolation</text><path d="M332.50 740.50L444.71 740.50L444.71 737.89L445.63 737.89L445.63 730.73L446.08 730.73L446.08 605.35L447.00 605.35L447.00 546.50L447.92 546.50L447.92 704.33L449.29 704.33L449.29 683.15L450.21 683.15L450.21 690.32L450.66 690.32L450.66 727.47L451.58 727.47L451.58 738.55L452.50 738.55L452.50 740.50L561.50 740.50Z" fill="#b0cfc7" stroke="none"/><path d="M444.71 740.50L444.71 737.89L445.63 737.89L445.63 730.73L446.08 730.73L446.08 605.35L447.00 605.35L447.00 546.50L447.92 546.50L447.92 704.33L449.29 704.33L449.29 683.15L450.21 683.15L450.21 690.32L450.66 690.32L450.66 727.47L451.58 727.47L451.58 738.55L452.50 738.55L452.50 740.50" fill="none" stroke="#000099" stroke-width="1" shape-rendering="crispEdges"/><polyline points="332.50,739.70 440.10,739.70 440.19,739.70 440.27,739.70 440.36,739.70 440.44,739.70 440.53,739.70 440.62,739.70 440.70,739.70 440.79,739.70 440.87,739.70 440.96,739.70 441.04,739.70 441.13,739.70 441.21,739.70 441.30,739.70 441.38,739.70 441.47,739.70 441.55,739.70 441.64,739.70 441.72,739.70 441.81,739.70 441.89,739.70 441.98,739.70 442.06,739.70 442.15,739.70 442.23,739.70 442.32,739.70 442.40,739.70 442.49,739.69 442.58,739.69 442.66,739.69 442.75,739.69 442.83,739.68 442.92,739.68 443.00,739.67 443.09,739.67 443.17,739.66 443.26,739.65 443.34,739.63 443.43,739.62 443.51,739.60 443.60,739.57 443.68,739.54 443.77,739.50 443.85,739.46 443.94,739.41 444.02,739.34 444.11,739.27 444.19,739.18 444.28,739.07 444.36,738.95 444.45,738.80 444.54,738.63 444.62,738.43 444.71,738.19 444.79,737.93 444.88,737.62 444.96,737.27 445.05,736.87 445.13,736.41 445.22,735.90 445.30,735.32 445.39,734.67 445.47,733.94 445.56,733.14 445.64,732.25 445.73,731.26 445.81,730.19 445.90,729.02 445.98,727.74 446.07,726.36 446.15,724.88 446.24,723.29 446.33,721.60 446.41,719.80 446.50,717.91 446.58,715.92 446.67,713.85 446.75,711.69 446.84,709.47 446.92,707.19 447.01,704.87 447.09,702.51 447.18,700.14 447.26,697.77 447.35,695.42 447.43,693.11 447.52,690.85 447.60,688.67 447.69,686.59 447.77,684.62 447.86,682.79 447.94,681.11 448.03,679.60 448.11,678.27 448.20,677.15 448.29,676.23 448.37,675.53 448.46,675.07 448.54,674.83 448.63,674.83 448.71,675.07 448.80,675.53 448.88,676.23 448.97,677.15 449.05,678.27 449.14,679.60 449.22,681.11 449.31,682.79 449.39,684.62 449.48,686.59 449.56,688.67 449.65,690.85 449.73,693.11 449.82,695.42 449.90,697.77 449.99,700.14 450.07,702.51 450.16,704.87 450.25,707.19 450.33,709.47 450.42,711.69 450.50,713.85 450.59,715.92 450.67,717.91 450.76,719.80 450.84,721.60 450.93,723.29 451.01,724.88 451.10,726.36 451.18,727.74 451.27,729.02 451.35,730.19 451.44,731.26 451.52,732.25 451.61,733.14 451.69,733.94 451.78,734.67 451.86,735.32 451.95,735.90 452.03,736.41 452.12,736.87 452.21,737.27 452.29,737.62 452.38,737.93 452.46,738.19 452.55,738.43 452.63,738.63 452.72,738.80 452.80,738.95 452.89,739.07 452.97,739.18 453.06,739.27 453.14,739.34 453.23,739.41 453.31,739.46 453.40,739.50 453.48,739.54 453.57,739.57 453.65,739.60 453.74,739.62 453.82,739.63 453.91,739.65 453.99,739.66 454.08,739.67 454.17,739.67 454.25,739.68 454.34,739.68 454.42,739.69 454.51,739.69 454.59,739.69 454.68,739.69 454.76,739.70 454.85,739.70 454.93,739.70 455.02,739.70 455.10,739.70 455.19,739.70 455.27,739.70 455.36,739.70 455.44,739.70 455.53,739.70 455.61,739.70 455.70,739.70 455.78,739.70 455.87,739.70 455.96,739.70 456.04,739.70 456.13,739.70 456.21,739.70 456.30,739.70 456.38,739.70 456.47,739.70 456.55,739.70 456.64,739.70 456.72,739.70 456.81,739.70 456.89,739.70 456.98,739.70 457.06,739.70 561.50,739.70" fill="none" stroke="#ff0000" stroke-width="2.1" stroke-linejoin="round" shape-rendering="crispEdges"/><rect x="332.5" y="546.5" width="229" height="194" fill="none" stroke="#000" stroke-width="1" shape-rendering="crispEdges"/><path d="M332.5 740.5L336.7 740.5M332.5 733.98L336.7 733.98M332.5 727.47L336.7 727.47M332.5 720.95L336.7 720.95M332.5 714.43L336.7 714.43M332.5 707.92L336.7 707.92M332.5 701.4L336.7 701.4M332.5 694.88L336.7 694.88M332.5 688.37L336.7 688.37M332.5 681.85L336.7 681.85M332.5 675.33L336.7 675.33M332.5 668.82L336.7 668.82M332.5 662.3L336.7 662.3M332.5 655.78L336.7 655.78M332.5 649.27L336.7 649.27M332.5 642.75L336.7 642.75M332.5 636.23L336.7 636.23M332.5 629.72L336.7 629.72M332.5 623.2L336.7 623.2M332.5 616.68L336.7 616.68M332.5 610.17L336.7 610.17M332.5 603.65L336.7 603.65M332.5 597.13L336.7 597.13M332.5 590.62L336.7 590.62M332.5 584.1L336.7 584.1M332.5 577.58L336.7 577.58M332.5 571.07L336.7 571.07M332.5 564.55L336.7 564.55M332.5 558.03L336.7 558.03M332.5 551.52L336.7 551.52M332.5 740.5L339.8 740.5M332.5 707.92L339.8 707.92M332.5 675.33L339.8 675.33M332.5 642.75L339.8 642.75M332.5 610.17L339.8 610.17M332.5 577.58L339.8 577.58M335.77 740.5L335.77 737.6M342.31 740.5L342.31 737.6M348.86 740.5L348.86 734.7M355.4 740.5L355.4 737.6M361.94 740.5L361.94 737.6M368.49 740.5L368.49 737.6M375.03 740.5L375.03 737.6M381.57 740.5L381.57 734.7M388.11 740.5L388.11 737.6M394.66 740.5L394.66 737.6M401.2 740.5L401.2 737.6M407.74 740.5L407.74 737.6M414.29 740.5L414.29 734.7M420.83 740.5L420.83 737.6M427.37 740.5L427.37 737.6M433.91 740.5L433.91 737.6M440.46 740.5L440.46 737.6M447 740.5L447 734.7M453.54 740.5L453.54 737.6M460.09 740.5L460.09 737.6M466.63 740.5L466.63 737.6M473.17 740.5L473.17 737.6M479.71 740.5L479.71 734.7M486.26 740.5L486.26 737.6M492.8 740.5L492.8 737.6M499.34 740.5L499.34 737.6M505.89 740.5L505.89 737.6M512.43 740.5L512.43 734.7M518.97 740.5L518.97 737.6M525.51 740.5L525.51 737.6M532.06 740.5L532.06 737.6M538.6 740.5L538.6 737.6M545.14 740.5L545.14 734.7M551.69 740.5L551.69 737.6M558.23 740.5L558.23 737.6" stroke="#000" stroke-width="1" fill="none" shape-rendering="crispEdges"/><text x="329.9" y="743.2" font-size="7.7" text-anchor="end" fill="#000" stroke="#000" stroke-width="0.169">0</text><text x="329.9" y="710.62" font-size="7.7" text-anchor="end" fill="#000" stroke="#000" stroke-width="0.169">500</text><text x="329.9" y="678.03" font-size="7.7" text-anchor="end" fill="#000" stroke="#000" stroke-width="0.169">1000</text><text x="329.9" y="645.45" font-size="7.7" text-anchor="end" fill="#000" stroke="#000" stroke-width="0.169">1500</text><text x="329.9" y="612.87" font-size="7.7" text-anchor="end" fill="#000" stroke="#000" stroke-width="0.169">2000</text><text x="329.9" y="580.28" font-size="7.7" text-anchor="end" fill="#000" stroke="#000" stroke-width="0.169">2500</text><text x="347.26" y="747.8" font-size="7.8" text-anchor="middle" fill="#000" stroke="#000" stroke-width="0.176">−300</text><text x="379.97" y="747.8" font-size="7.8" text-anchor="middle" fill="#000" stroke="#000" stroke-width="0.176">−200</text><text x="412.69" y="747.8" font-size="7.8" text-anchor="middle" fill="#000" stroke="#000" stroke-width="0.176">−100</text><text x="447" y="747.8" font-size="7.8" text-anchor="middle" fill="#000" stroke="#000" stroke-width="0.176">0</text><text x="479.71" y="747.8" font-size="7.8" text-anchor="middle" fill="#000" stroke="#000" stroke-width="0.176">100</text><text x="512.43" y="747.8" font-size="7.8" text-anchor="middle" fill="#000" stroke="#000" stroke-width="0.176">200</text><text x="545.14" y="747.8" font-size="7.8" text-anchor="middle" fill="#000" stroke="#000" stroke-width="0.176">300</text><rect x="481.4" y="538.3" width="103.4" height="47.7" fill="#fff" stroke="#000" stroke-width="1"/><text x="486" y="547" font-size="8.9" fill="#000" stroke="#000" stroke-width="0.25275862068965516">χ</text><text x="491.59" y="542.8" font-size="5.59" fill="#000" stroke="#000" stroke-width="0.12">2</text><text x="495.93" y="545.6" font-size="8.48" fill="#000" stroke="#000" stroke-width="0.22379310344827585">/ ndf</text><text x="578.8" y="547.2" font-size="9" text-anchor="end" fill="#000" stroke="#000" stroke-width="0.26">3547 / 6</text><text x="485.6" y="559.3" font-size="9" fill="#000" stroke="#000" stroke-width="0.26">Constant</text><text x="578.8" y="559.3" font-size="9" text-anchor="end" fill="#000" stroke="#000" stroke-width="0.26">995.9 ± 14.9</text><text x="485.6" y="571.8" font-size="9" fill="#000" stroke="#000" stroke-width="0.26">Mean</text><text x="578.8" y="571.8" font-size="9" text-anchor="end" fill="#000" stroke="#000" stroke-width="0.26">4.84 ± 0.11</text><text x="485.6" y="583" font-size="9" fill="#000" stroke="#000" stroke-width="0.26">Sigma</text><text x="578.8" y="583" font-size="9" text-anchor="end" fill="#000" stroke="#000" stroke-width="0.26">4.32 ± 0.09</text><text x="373.5" y="535.7" font-size="11.9" fill="#000" stroke="#000" stroke-width="0.4630000000000001">Difference between Original</text><text x="373.5" y="551.7" font-size="11.9" fill="#000" stroke="#000" stroke-width="0.4630000000000001">function and Minuit fit</text></svg></body></html>
